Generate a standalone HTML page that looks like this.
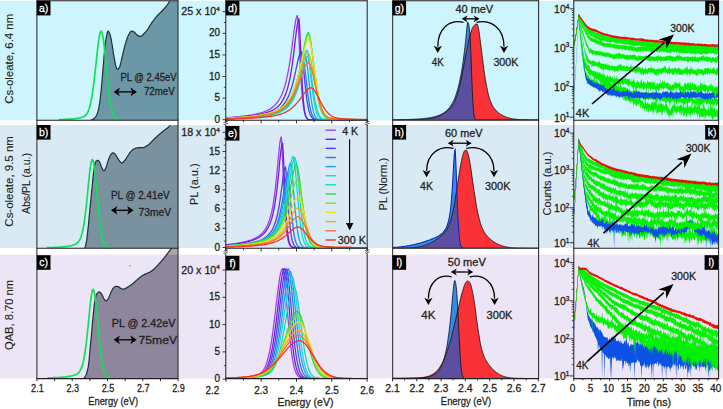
<!DOCTYPE html>
<html><head><meta charset="utf-8"><style>
html,body{margin:0;padding:0;background:#fff;width:723px;height:409px;overflow:hidden}
svg{display:block}
text{font-family:"Liberation Sans",sans-serif}
</style></head><body>
<svg width="723" height="409" viewBox="0 0 723 409">
<rect x="0" y="0" width="723" height="409" fill="#fff"/>
<rect x="0" y="0.8" width="723" height="119.5" fill="#cef5fd"/>
<rect x="0" y="125" width="723" height="123" fill="#daeaf5"/>
<rect x="0" y="254.7" width="723" height="123.8" fill="#ece5f5"/>
<defs><clipPath id="c1a"><rect x="36.9" y="0.8" width="141.1" height="119.4"/></clipPath><clipPath id="c1b"><rect x="36.9" y="125" width="141.1" height="123.3"/></clipPath><clipPath id="c1c"><rect x="36.9" y="248.3" width="141.1" height="130.2"/></clipPath><clipPath id="c1cs"><rect x="36.9" y="248.3" width="141.1" height="6.4"/></clipPath></defs>
<path d="M90.5,120.2l.2,0 .1,0 .2-.1 .1-0 .2-.1 .2-0 .1-.1 .2-0 .1-.1 .2-.1 .2-0 .1-.1 .2-.1 .1-.1 .2-0 .1-.1 .2-.1 .2-.1 .1-.1 .2-.1 .1-.2 .2-.1 .2-.1 .1-.2 .2-.1 .1-.2 .2-.2 .2-.1 .1-.2 .2-.2 .1-.2 .2-.2 .2-.3 .1-.2 .2-.3 .1-.3 .2-.3 .2-.3 .1-.4 .2-.4 .1-.4 .2-.4 .2-.4 .1-.4 .2-.5 .1-.5 .2-.6 .1-.6 .2-.6 .2-.7 .1-.7 .2-.8 .1-.8 .2-.8 .2-.9 .1-.9 .2-.9 .1-1 .2-1.1 .2-1.2 .1-1.3 .2-1.3 .1-1.4 .2-1.4 .2-1.5 .1-1.4 .2-1.6 .1-1.6 .2-1.8 .2-1.8 .1-1.8 .2-1.8 .1-1.8 .2-1.9 .1-1.9 .2-1.9 .2-1.9 .1-2 .2-1.9 .1-2 .2-1.9 .2-1.9 .1-1.9 .2-1.9 .1-2 .2-2 .2-1.9 .1-1.9 .2-1.7 .1-1.6 .2-1.5 .2-1.3 .1-1.3 .2-1.2 .1-1.2 .2-1.1 .2-1 .1-1 .2-.8 .1-.8 .2-.7 .2-.7 .1-.6 .2-.7 .1-.6 .2-.5 .1-.5 .2-.4 .2-.2 .1-.2 .2-0 .1,.1 .2,.1 .2,.2 .1,.2 .2,.3 .1,.2 .2,.3 .2,.3 .1,.3 .2,.5 .1,.4 .2,.6 .2,.6 .1,.6 .2,.7 .1,.7 .2,.8 .2,.7 .1,.7 .2,.8 .1,.9 .2,.9 .1,.9 .2,1 .2,1 .1,1.1 .2,1 .1,1.1 .2,1 .2,1.1 .1,1.1 .2,1 .1,1 .2,1 .2,1 .1,.9 .2,.8 .1,.9 .2,.9 .2,.9 .1,.9 .2,.9 .1,.9 .2,.8 .2,.8 .1,.7 .2,.7 .1,.5 .2,.5 .2,.4 .1,.4 .2,.4 .1,.3 .2,.4 .1,.3 .2,.2 .2,.2 .1,.1 .2,.1 .1-0 .2-.1 .2-.1 .1-.1 .2-.2 .1-.2 .2-.2 .2-.2 .1-.3 .2-.2 .1-.3 .2-.3 .2-.4 .1-.4 .2-.5 .1-.6 .2-.6 .2-.6 .1-.6 .2-.7 .1-.7 .2-.6 .1-.7 .2-.6 .2-.7 .1-.6 .2-.7 .1-.6 .2-.7 .2-.7 .1-.7 .2-.7 .1-.8 .2-.7 .2-.7 .1-.7 .2-.7 .1-.6 .2-.7 .2-.6 .1-.7 .2-.6 .1-.6 .2-.6 .2-.6 .1-.6 .2-.6 .1-.5 .2-.6 .2-.5 .1-.6 .2-.5 .1-.5 .2-.5 .1-.5 .2-.5 .2-.5 .1-.5 .2-.4 .1-.5 .2-.5 .2-.4 .1-.4 .2-.5 .1-.3 .2-.4 .2-.3 .1-.4 .2-.2 .1-.3 .2-.3 .2-.3 .1-.3 .2-.2 .1-.3 .2-.3 .2-.2 .1-.3 .2-.2 .1-.2 .2-.2 .1-.2 .2-.1 .2-.1 .1-.1 .2-.1 .1-0 .2-0 .2-0 .1-0 .2,.1 .1-0 .2-0 .2,.1 .1-0 .2,.1 .1,.1 .2-0 .2,.1 .1,.1 .2-0 .1,.1 .2,.1 .2,.1 .1,.1 .2,.1 .1,.2 .2,.1 .1,.2 .2,.1 .2,.2 .1,.2 .2,.2 .1,.1 .2,.2 .2,.2 .1,.1 .2,.2 .1,.1 .2,.2 .2,.1 .1,.2 .2,.1 .1,.2 .2,.2 .2,.1 .1,.1 .2,.1 .1,.1 .2,.1 .2,.1 .1-0 .2,.1 .1-0 .2,.1 .2-0 .1-0 .2,.1 .1-0 .2-0 .1-0 .2,.1 .2-0 .1-0 .2-0 .1-0 .2-0 .2-0 .1-.1 .2-.1 .1-.1 .2-.2 .2-.1 .1-.2 .2-.2 .1-.2 .2-.2 .2-.2 .1-.2 .2-.1 .1-.2 .2-.2 .2-.2 .1-.1 .2-.2 .1-.1 .2-.2 .1-.1 .2-.2 .2-.1 .1-.2 .2-.1 .1-.2 .2-.1 .2-.2 .1-.2 .2-.1 .1-.2 .2-.2 .2-.1 .1-.2 .2-.2 .1-.2 .2-.2 .2-.2 .1-.2 .2-.3 .1-.2 .2-.2 .2-.3 .1-.3 .2-.2 .1-.3 .2-.3 .2-.2 .1-.3 .2-.3 .1-.3 .2-.2 .1-.3 .2-.3 .2-.2 .1-.3 .2-.2 .1-.3 .2-.2 .2-.3 .1-.2 .2-.3 .1-.2 .2-.2 .2-.3 .1-.2 .2-.3 .1-.2 .2-.2 .2-.3 .1-.2 .2-.2 .1-.3 .2-.2 .2-.2 .1-.2 .2-.3 .1-.2 .2-.2 .1-.2 .2-.2 .2-.2 .1-.2 .2-.2 .1-.2 .2-.2 .2-.3 .1-.2 .2-.2 .1-.1 .2-.2 .2-.2 .1-.2 .2-.2 .1-.2 .2-.2 .2-.2 .1-.2 .2-.1 .1-.2 .2-.2 .2-.2 .1-.2 .2-.1 .1-.2 .2-.2 .2-.1 .1-.2 .2-.1 .1-.2 .2-.2 .1-.1 .2-.2 .2-.1 .1-.2 .2-.1 .1-.2 .2-.1 .2-.2 .1-.1 .2-.2 .1-.1 .2-.2 .2-.1 .1-.2 .2-.2 .1-.1 .2-.2 .2-.1 .1-.2 .2-.1 .1-.2 .2-.2 .2-.1 .1-.2 .2-.2 .1-.1 .2-.2 .1-.2 .2-.2 .2-.1 .1-.2 .2-.2 .1-.2 .2-.2 .2-.1 .1-.2 .2-.2 .1-.2 .2-.2 .2-.2 .1-.1 .2-.2 .1-.2 .2-.2 .2-.2 .1-.2 .2-.2 .1-.2 .2-.2 .2-.3 .1-.2 .2-.2 .1-.2 .2-.2 .2-.3 .1-.2 .2-.2 .1-.2 .2-.3 .1-.2 .2-.2 .2-.3 .1-.2 .2-.2 .1-.3 .2-.2 .2-.2 .1-.3 .2-.2 .1-.3 .2-.2 L178,0.8 L178,120.2 L90.5,120.2 Z" fill="#6b97a7" clip-path="url(#c1a)"/>
<path d="M90.5,120.2l.2,0 .1,0 .2-.1 .1-0 .2-.1 .2-0 .1-.1 .2-0 .1-.1 .2-.1 .2-0 .1-.1 .2-.1 .1-.1 .2-0 .1-.1 .2-.1 .2-.1 .1-.1 .2-.1 .1-.2 .2-.1 .2-.1 .1-.2 .2-.1 .1-.2 .2-.2 .2-.1 .1-.2 .2-.2 .1-.2 .2-.2 .2-.3 .1-.2 .2-.3 .1-.3 .2-.3 .2-.3 .1-.4 .2-.4 .1-.4 .2-.4 .2-.4 .1-.4 .2-.5 .1-.5 .2-.6 .1-.6 .2-.6 .2-.7 .1-.7 .2-.8 .1-.8 .2-.8 .2-.9 .1-.9 .2-.9 .1-1 .2-1.1 .2-1.2 .1-1.3 .2-1.3 .1-1.4 .2-1.4 .2-1.5 .1-1.4 .2-1.6 .1-1.6 .2-1.8 .2-1.8 .1-1.8 .2-1.8 .1-1.8 .2-1.9 .1-1.9 .2-1.9 .2-1.9 .1-2 .2-1.9 .1-2 .2-1.9 .2-1.9 .1-1.9 .2-1.9 .1-2 .2-2 .2-1.9 .1-1.9 .2-1.7 .1-1.6 .2-1.5 .2-1.3 .1-1.3 .2-1.2 .1-1.2 .2-1.1 .2-1 .1-1 .2-.8 .1-.8 .2-.7 .2-.7 .1-.6 .2-.7 .1-.6 .2-.5 .1-.5 .2-.4 .2-.2 .1-.2 .2-0 .1,.1 .2,.1 .2,.2 .1,.2 .2,.3 .1,.2 .2,.3 .2,.3 .1,.3 .2,.5 .1,.4 .2,.6 .2,.6 .1,.6 .2,.7 .1,.7 .2,.8 .2,.7 .1,.7 .2,.8 .1,.9 .2,.9 .1,.9 .2,1 .2,1 .1,1.1 .2,1 .1,1.1 .2,1 .2,1.1 .1,1.1 .2,1 .1,1 .2,1 .2,1 .1,.9 .2,.8 .1,.9 .2,.9 .2,.9 .1,.9 .2,.9 .1,.9 .2,.8 .2,.8 .1,.7 .2,.7 .1,.5 .2,.5 .2,.4 .1,.4 .2,.4 .1,.3 .2,.4 .1,.3 .2,.2 .2,.2 .1,.1 .2,.1 .1-0 .2-.1 .2-.1 .1-.1 .2-.2 .1-.2 .2-.2 .2-.2 .1-.3 .2-.2 .1-.3 .2-.3 .2-.4 .1-.4 .2-.5 .1-.6 .2-.6 .2-.6 .1-.6 .2-.7 .1-.7 .2-.6 .1-.7 .2-.6 .2-.7 .1-.6 .2-.7 .1-.6 .2-.7 .2-.7 .1-.7 .2-.7 .1-.8 .2-.7 .2-.7 .1-.7 .2-.7 .1-.6 .2-.7 .2-.6 .1-.7 .2-.6 .1-.6 .2-.6 .2-.6 .1-.6 .2-.6 .1-.5 .2-.6 .2-.5 .1-.6 .2-.5 .1-.5 .2-.5 .1-.5 .2-.5 .2-.5 .1-.5 .2-.4 .1-.5 .2-.5 .2-.4 .1-.4 .2-.5 .1-.3 .2-.4 .2-.3 .1-.4 .2-.2 .1-.3 .2-.3 .2-.3 .1-.3 .2-.2 .1-.3 .2-.3 .2-.2 .1-.3 .2-.2 .1-.2 .2-.2 .1-.2 .2-.1 .2-.1 .1-.1 .2-.1 .1-0 .2-0 .2-0 .1-0 .2,.1 .1-0 .2-0 .2,.1 .1-0 .2,.1 .1,.1 .2-0 .2,.1 .1,.1 .2-0 .1,.1 .2,.1 .2,.1 .1,.1 .2,.1 .1,.2 .2,.1 .1,.2 .2,.1 .2,.2 .1,.2 .2,.2 .1,.1 .2,.2 .2,.2 .1,.1 .2,.2 .1,.1 .2,.2 .2,.1 .1,.2 .2,.1 .1,.2 .2,.2 .2,.1 .1,.1 .2,.1 .1,.1 .2,.1 .2,.1 .1-0 .2,.1 .1-0 .2,.1 .2-0 .1-0 .2,.1 .1-0 .2-0 .1-0 .2,.1 .2-0 .1-0 .2-0 .1-0 .2-0 .2-0 .1-.1 .2-.1 .1-.1 .2-.2 .2-.1 .1-.2 .2-.2 .1-.2 .2-.2 .2-.2 .1-.2 .2-.1 .1-.2 .2-.2 .2-.2 .1-.1 .2-.2 .1-.1 .2-.2 .1-.1 .2-.2 .2-.1 .1-.2 .2-.1 .1-.2 .2-.1 .2-.2 .1-.2 .2-.1 .1-.2 .2-.2 .2-.1 .1-.2 .2-.2 .1-.2 .2-.2 .2-.2 .1-.2 .2-.3 .1-.2 .2-.2 .2-.3 .1-.3 .2-.2 .1-.3 .2-.3 .2-.2 .1-.3 .2-.3 .1-.3 .2-.2 .1-.3 .2-.3 .2-.2 .1-.3 .2-.2 .1-.3 .2-.2 .2-.3 .1-.2 .2-.3 .1-.2 .2-.2 .2-.3 .1-.2 .2-.3 .1-.2 .2-.2 .2-.3 .1-.2 .2-.2 .1-.3 .2-.2 .2-.2 .1-.2 .2-.3 .1-.2 .2-.2 .1-.2 .2-.2 .2-.2 .1-.2 .2-.2 .1-.2 .2-.2 .2-.3 .1-.2 .2-.2 .1-.1 .2-.2 .2-.2 .1-.2 .2-.2 .1-.2 .2-.2 .2-.2 .1-.2 .2-.1 .1-.2 .2-.2 .2-.2 .1-.2 .2-.1 .1-.2 .2-.2 .2-.1 .1-.2 .2-.1 .1-.2 .2-.2 .1-.1 .2-.2 .2-.1 .1-.2 .2-.1 .1-.2 .2-.1 .2-.2 .1-.1 .2-.2 .1-.1 .2-.2 .2-.1 .1-.2 .2-.2 .1-.1 .2-.2 .2-.1 .1-.2 .2-.1 .1-.2 .2-.2 .2-.1 .1-.2 .2-.2 .1-.1 .2-.2 .1-.2 .2-.2 .2-.1 .1-.2 .2-.2 .1-.2 .2-.2 .2-.1 .1-.2 .2-.2 .1-.2 .2-.2 .2-.2 .1-.1 .2-.2 .1-.2 .2-.2 .2-.2 .1-.2 .2-.2 .1-.2 .2-.2 .2-.3 .1-.2 .2-.2 .1-.2 .2-.2 .2-.3 .1-.2 .2-.2 .1-.2 .2-.3 .1-.2 .2-.2 .2-.3 .1-.2 .2-.2 .1-.3 .2-.2 .2-.2 .1-.3 .2-.2 .1-.3 .2-.2" fill="none" stroke="#17333d" stroke-width="1.2" clip-path="url(#c1a)"/>
<path d="M84.5,248.3l.2-.2 .1-.3 .2-.4 .2-.5 .2-.5 .1-.6 .2-.6 .2-.7 .1-.7 .2-.8 .2-1 .2-1.1 .1-1.2 .2-1.3 .2-1.3 .1-1.5 .2-1.5 .2-1.5 .2-1.6 .1-1.6 .2-1.6 .2-1.5 .2-1.7 .1-1.7 .2-1.9 .2-1.9 .1-1.9 .2-1.9 .2-1.9 .2-1.9 .1-1.7 .2-1.8 .2-1.7 .1-1.8 .2-1.7 .2-1.7 .2-1.7 .1-1.7 .2-1.7 .2-1.7 .1-1.7 .2-1.8 .2-1.8 .2-1.8 .1-1.8 .2-1.7 .2-1.7 .1-1.7 .2-1.6 .2-1.5 .2-1.5 .1-1.5 .2-1.5 .2-1.4 .1-1.3 .2-1.3 .2-1.1 .2-.9 .1-.8 .2-.8 .2-.7 .1-.7 .2-.6 .2-.6 .2-.4 .1-.4 .2-.2 .2-.2 .2-.1 .1-.2 .2-.1 .2-.1 .1-.2 .2-.1 .2-0 .2-.1 .1-.1 .2-0 .2-0 .1-0 .2,.1 .2,.2 .2,.2 .1,.2 .2,.3 .2,.3 .1,.3 .2,.3 .2,.3 .2,.3 .1,.4 .2,.4 .2,.4 .1,.5 .2,.5 .2,.5 .2,.4 .1,.5 .2,.4 .2,.4 .1,.4 .2,.4 .2,.3 .2,.4 .1,.4 .2,.4 .2,.3 .1,.3 .2,.3 .2,.2 .2,.1 .1,.1 .2-0 .2-.1 .2-.1 .1-.2 .2-.2 .2-.3 .1-.2 .2-.4 .2-.3 .2-.3 .1-.4 .2-.3 .2-.4 .1-.4 .2-.5 .2-.5 .2-.6 .1-.6 .2-.6 .2-.7 .1-.6 .2-.6 .2-.6 .2-.5 .1-.5 .2-.5 .2-.4 .1-.5 .2-.5 .2-.5 .2-.5 .1-.4 .2-.5 .2-.4 .1-.4 .2-.3 .2-.4 .2-.3 .1-.2 .2-.2 .2-.2 .1-.2 .2-.2 .2-.2 .2-.2 .1-.2 .2-.2 .2-.1 .2-.1 .1-.1 .2-.1 .2-.1 .1-.1 .2-0 .2-0 .2-0 .1,.1 .2-0 .2,.1 .1,.1 .2,.2 .2,.1 .2,.1 .1,.2 .2,.1 .2,.2 .1,.2 .2,.1 .2,.2 .2,.2 .1,.2 .2,.3 .2,.2 .1,.3 .2,.3 .2,.4 .2,.3 .1,.3 .2,.4 .2,.3 .1,.3 .2,.3 .2,.3 .2,.3 .1,.3 .2,.2 .2,.2 .1,.3 .2,.2 .2,.2 .2,.3 .1,.2 .2,.2 .2,.2 .2,.3 .1,.2 .2,.2 .2,.1 .1,.2 .2,.2 .2,.1 .2,.1 .1,.1 .2,.1 .2-0 .1-0 .2-0 .2-.1 .2-.1 .1-.1 .2-.1 .2-.1 .1-.2 .2-.2 .2-.1 .2-.2 .1-.2 .2-.3 .2-.2 .1-.2 .2-.2 .2-.2 .2-.2 .1-.2 .2-.2 .2-.3 .1-.2 .2-.2 .2-.3 .2-.2 .1-.3 .2-.3 .2-.3 .1-.2 .2-.3 .2-.3 .2-.3 .1-.2 .2-.3 .2-.3 .2-.2 .1-.3 .2-.2 .2-.3 .1-.3 .2-.2 .2-.3 .2-.3 .1-.2 .2-.3 .2-.2 .1-.3 .2-.2 .2-.2 .2-.2 .1-.2 .2-.2 .2-.2 .1-.2 .2-.2 .2-.2 .2-.1 .1-.2 .2-.2 .2-.1 .1-.2 .2-.1 .2-.2 .2-.1 .1-.1 .2-.2 .2-.1 .1-.1 .2-.1 .2-.1 .2-0 .1-.1 .2-.1 .2-.1 .1-.1 .2-0 .2-.1 .2-.1 .1-0 .2-.1 .2-.1 .2-0 .1-.1 .2-0 .2-.1 .1-0 .2-0 .2-.1 .2-0 .1-0 .2-0 .2-.1 .1-0 .2-0 .2-0 .2-.1 .1-0 .2-0 .2-0 .1-0 .2-.1 .2-0 .2-0 .1-0 .2-0 .2-0 .1-0 .2-0 .2-0 .2-0 .1-0 .2-0 .2-0 .1-0 .2-0 .2-0 .2-0 .1-0 .2-0 .2-0 .1-0 .2-0 .2-0 .2-0 .1-0 .2-0 .2-0 .2-.1 .1-0 .2-.1 .2-.1 .1-0 .2-.1 .2-.1 .2-.2 .1-.1 .2-.1 .2-.1 .1-.1 .2-.1 .2-.1 .2-.1 .1-.1 .2-.1 .2-.1 .1-.1 .2-.1 .2-0 .2-.1 .1-.1 .2-.2 .2-.1 .1-.1 .2-.1 .2-.1 .2-.1 .1-.1 .2-.2 .2-.1 .1-.2 .2-.1 .2-.2 .2-.2 .1-.2 .2-.1 .2-.2 .1-.2 .2-.2 .2-.2 .2-.2 .1-.2 .2-.2 .2-.2 .2-.1 .1-.2 .2-.2 .2-.2 .1-.1 .2-.2 .2-.2 .2-.2 .1-.1 .2-.2 .2-.2 .1-.2 .2-.1 .2-.2 .2-.2 .1-.2 .2-.1 .2-.2 .1-.2 .2-.1 .2-.2 .2-.1 .1-.2 .2-.2 .2-.1 .1-.2 .2-.1 .2-.2 .2-.1 .1-.2 .2-.1 .2-.2 .1-.1 .2-.2 .2-.2 .2-.1 .1-.2 .2-.1 .2-.2 .1-.1 .2-.2 .2-.1 .2-.2 .1-.1 .2-.2 .2-.1 .2-.2 .1-.1 .2-.2 .2-.1 .1-.2 .2-.1 .2-.1 .2-.2 .1-.1 .2-.2 .2-.1 .1-.2 .2-.1 .2-.1 .2-.2 .1-.1 .2-.2 .2-.1 .1-.1 .2-.2 .2-.1 .2-.2 .1-.1 .2-.1 .2-.2 .1-.1 .2-.1 .2-.2 .2-.1 .1-.1 .2-.2 .2-.1 .1-.1 .2-.1 .2-.1 .2-.2 .1-.1 .2-.1 .2-.1 .1-.1 .2-.1 .2-.2 .2-.1 .1-.1 .2-.1 .2-.2 .2-.1 .1-.1 .2-.2 .2-.1 .1-.2 .2-.1 .2-.2 .2-.1 .1-.2 .2-.2 .2-.2 .1-.2 .2-.2 .2-.2 .2-.3 .1-.2 .2-.2 L178,125 L178,248.3 L84.5,248.3 Z" fill="#7a92a0" clip-path="url(#c1b)"/>
<path d="M84.5,248.3l.2-.2 .1-.3 .2-.4 .2-.5 .2-.5 .1-.6 .2-.6 .2-.7 .1-.7 .2-.8 .2-1 .2-1.1 .1-1.2 .2-1.3 .2-1.3 .1-1.5 .2-1.5 .2-1.5 .2-1.6 .1-1.6 .2-1.6 .2-1.5 .2-1.7 .1-1.7 .2-1.9 .2-1.9 .1-1.9 .2-1.9 .2-1.9 .2-1.9 .1-1.7 .2-1.8 .2-1.7 .1-1.8 .2-1.7 .2-1.7 .2-1.7 .1-1.7 .2-1.7 .2-1.7 .1-1.7 .2-1.8 .2-1.8 .2-1.8 .1-1.8 .2-1.7 .2-1.7 .1-1.7 .2-1.6 .2-1.5 .2-1.5 .1-1.5 .2-1.5 .2-1.4 .1-1.3 .2-1.3 .2-1.1 .2-.9 .1-.8 .2-.8 .2-.7 .1-.7 .2-.6 .2-.6 .2-.4 .1-.4 .2-.2 .2-.2 .2-.1 .1-.2 .2-.1 .2-.1 .1-.2 .2-.1 .2-0 .2-.1 .1-.1 .2-0 .2-0 .1-0 .2,.1 .2,.2 .2,.2 .1,.2 .2,.3 .2,.3 .1,.3 .2,.3 .2,.3 .2,.3 .1,.4 .2,.4 .2,.4 .1,.5 .2,.5 .2,.5 .2,.4 .1,.5 .2,.4 .2,.4 .1,.4 .2,.4 .2,.3 .2,.4 .1,.4 .2,.4 .2,.3 .1,.3 .2,.3 .2,.2 .2,.1 .1,.1 .2-0 .2-.1 .2-.1 .1-.2 .2-.2 .2-.3 .1-.2 .2-.4 .2-.3 .2-.3 .1-.4 .2-.3 .2-.4 .1-.4 .2-.5 .2-.5 .2-.6 .1-.6 .2-.6 .2-.7 .1-.6 .2-.6 .2-.6 .2-.5 .1-.5 .2-.5 .2-.4 .1-.5 .2-.5 .2-.5 .2-.5 .1-.4 .2-.5 .2-.4 .1-.4 .2-.3 .2-.4 .2-.3 .1-.2 .2-.2 .2-.2 .1-.2 .2-.2 .2-.2 .2-.2 .1-.2 .2-.2 .2-.1 .2-.1 .1-.1 .2-.1 .2-.1 .1-.1 .2-0 .2-0 .2-0 .1,.1 .2-0 .2,.1 .1,.1 .2,.2 .2,.1 .2,.1 .1,.2 .2,.1 .2,.2 .1,.2 .2,.1 .2,.2 .2,.2 .1,.2 .2,.3 .2,.2 .1,.3 .2,.3 .2,.4 .2,.3 .1,.3 .2,.4 .2,.3 .1,.3 .2,.3 .2,.3 .2,.3 .1,.3 .2,.2 .2,.2 .1,.3 .2,.2 .2,.2 .2,.3 .1,.2 .2,.2 .2,.2 .2,.3 .1,.2 .2,.2 .2,.1 .1,.2 .2,.2 .2,.1 .2,.1 .1,.1 .2,.1 .2-0 .1-0 .2-0 .2-.1 .2-.1 .1-.1 .2-.1 .2-.1 .1-.2 .2-.2 .2-.1 .2-.2 .1-.2 .2-.3 .2-.2 .1-.2 .2-.2 .2-.2 .2-.2 .1-.2 .2-.2 .2-.3 .1-.2 .2-.2 .2-.3 .2-.2 .1-.3 .2-.3 .2-.3 .1-.2 .2-.3 .2-.3 .2-.3 .1-.2 .2-.3 .2-.3 .2-.2 .1-.3 .2-.2 .2-.3 .1-.3 .2-.2 .2-.3 .2-.3 .1-.2 .2-.3 .2-.2 .1-.3 .2-.2 .2-.2 .2-.2 .1-.2 .2-.2 .2-.2 .1-.2 .2-.2 .2-.2 .2-.1 .1-.2 .2-.2 .2-.1 .1-.2 .2-.1 .2-.2 .2-.1 .1-.1 .2-.2 .2-.1 .1-.1 .2-.1 .2-.1 .2-0 .1-.1 .2-.1 .2-.1 .1-.1 .2-0 .2-.1 .2-.1 .1-0 .2-.1 .2-.1 .2-0 .1-.1 .2-0 .2-.1 .1-0 .2-0 .2-.1 .2-0 .1-0 .2-0 .2-.1 .1-0 .2-0 .2-0 .2-.1 .1-0 .2-0 .2-0 .1-0 .2-.1 .2-0 .2-0 .1-0 .2-0 .2-0 .1-0 .2-0 .2-0 .2-0 .1-0 .2-0 .2-0 .1-0 .2-0 .2-0 .2-0 .1-0 .2-0 .2-0 .1-0 .2-0 .2-0 .2-0 .1-0 .2-0 .2-0 .2-.1 .1-0 .2-.1 .2-.1 .1-0 .2-.1 .2-.1 .2-.2 .1-.1 .2-.1 .2-.1 .1-.1 .2-.1 .2-.1 .2-.1 .1-.1 .2-.1 .2-.1 .1-.1 .2-.1 .2-0 .2-.1 .1-.1 .2-.2 .2-.1 .1-.1 .2-.1 .2-.1 .2-.1 .1-.1 .2-.2 .2-.1 .1-.2 .2-.1 .2-.2 .2-.2 .1-.2 .2-.1 .2-.2 .1-.2 .2-.2 .2-.2 .2-.2 .1-.2 .2-.2 .2-.2 .2-.1 .1-.2 .2-.2 .2-.2 .1-.1 .2-.2 .2-.2 .2-.2 .1-.1 .2-.2 .2-.2 .1-.2 .2-.1 .2-.2 .2-.2 .1-.2 .2-.1 .2-.2 .1-.2 .2-.1 .2-.2 .2-.1 .1-.2 .2-.2 .2-.1 .1-.2 .2-.1 .2-.2 .2-.1 .1-.2 .2-.1 .2-.2 .1-.1 .2-.2 .2-.2 .2-.1 .1-.2 .2-.1 .2-.2 .1-.1 .2-.2 .2-.1 .2-.2 .1-.1 .2-.2 .2-.1 .2-.2 .1-.1 .2-.2 .2-.1 .1-.2 .2-.1 .2-.1 .2-.2 .1-.1 .2-.2 .2-.1 .1-.2 .2-.1 .2-.1 .2-.2 .1-.1 .2-.2 .2-.1 .1-.1 .2-.2 .2-.1 .2-.2 .1-.1 .2-.1 .2-.2 .1-.1 .2-.1 .2-.2 .2-.1 .1-.1 .2-.2 .2-.1 .1-.1 .2-.1 .2-.1 .2-.2 .1-.1 .2-.1 .2-.1 .1-.1 .2-.1 .2-.2 .2-.1 .1-.1 .2-.1 .2-.2 .2-.1 .1-.1 .2-.2 .2-.1 .1-.2 .2-.1 .2-.2 .2-.1 .1-.2 .2-.2 .2-.2 .1-.2 .2-.2 .2-.2 .2-.3 .1-.2 .2-.2" fill="none" stroke="#17333d" stroke-width="1.2" clip-path="url(#c1b)"/>
<path d="M83.4,378.5l.2,0 .2-.1 .1-.1 .2-.2 .2-.2 .2-.2 .1-.2 .2-.3 .2-.3 .2-.3 .1-.3 .2-.3 .2-.4 .2-.3 .2-.4 .1-.4 .2-.4 .2-.5 .2-.6 .1-.6 .2-.6 .2-.7 .2-.8 .1-.8 .2-.8 .2-.9 .2-.9 .1-1 .2-1.2 .2-1.4 .2-1.6 .2-1.7 .1-1.8 .2-1.9 .2-1.9 .2-1.9 .1-1.9 .2-1.8 .2-1.8 .2-1.9 .1-1.8 .2-1.9 .2-1.9 .2-2 .2-1.9 .1-1.9 .2-2 .2-2 .2-2.1 .1-2.1 .2-2 .2-2 .2-2 .1-1.9 .2-1.8 .2-1.8 .2-1.8 .2-1.8 .1-1.7 .2-1.7 .2-1.6 .2-1.4 .1-1.3 .2-1.1 .2-.9 .2-1 .1-.9 .2-.8 .2-.8 .2-.7 .1-.6 .2-.6 .2-.4 .2-.4 .2-.2 .1-.3 .2-.3 .2-.2 .2-.3 .1-.2 .2-.2 .2-.2 .2-.2 .1-.1 .2-.1 .2-.1 .2-.1 .2-.1 .1-0 .2-0 .2,.1 .2-0 .1,.1 .2,.2 .2,.1 .2,.2 .1,.2 .2,.2 .2,.2 .2,.3 .2,.2 .1,.2 .2,.2 .2,.3 .2,.3 .1,.4 .2,.3 .2,.4 .2,.4 .1,.4 .2,.4 .2,.4 .2,.4 .1,.3 .2,.3 .2,.3 .2,.2 .2,.3 .1,.3 .2,.2 .2,.3 .2,.2 .1,.2 .2,.2 .2,.2 .2,.1 .1,0 .2,0 .2-.1 .2,0 .2-.2 .1-.1 .2-.2 .2-.2 .2-.2 .1-.2 .2-.2 .2-.2 .2-.3 .1-.2 .2-.3 .2-.3 .2-.4 .2-.4 .1-.4 .2-.4 .2-.4 .2-.5 .1-.4 .2-.4 .2-.5 .2-.4 .1-.4 .2-.4 .2-.3 .2-.4 .2-.4 .1-.5 .2-.4 .2-.4 .2-.3 .1-.4 .2-.4 .2-.3 .2-.3 .1-.3 .2-.2 .2-.2 .2-.2 .1-.2 .2-.2 .2-.2 .2-.2 .2-.1 .1-.2 .2-.2 .2-.1 .2-.1 .1-.1 .2-.1 .2-.1 .2-.1 .1-0 .2-0 .2-0 .2-0 .2-0 .1,.1 .2-0 .2-0 .2-0 .1,.1 .2-0 .2,.1 .2-0 .1,.1 .2-0 .2,.1 .2-0 .2,.1 .1,.1 .2,.1 .2,.1 .2,.2 .1,.1 .2,.2 .2,.1 .2,.2 .1,.1 .2,.1 .2,.2 .2-0 .1,.1 .2,.1 .2-0 .2,.1 .2,.1 .1-0 .2,.1 .2-0 .2,.1 .1-0 .2-0 .2,.1 .2-0 .1-0 .2-0 .2-0 .2-0 .2-0 .1-.1 .2-0 .2-.1 .2-.1 .1-.1 .2-.1 .2-.1 .2-.1 .1-.1 .2-.1 .2-.1 .2-.1 .2-.1 .1-.1 .2-.1 .2-.1 .2-.1 .1-.1 .2-.1 .2-.1 .2-.1 .1-.1 .2-.1 .2-.1 .2-.1 .1-.1 .2-.1 .2-.1 .2-.2 .2-.1 .1-.1 .2-.1 .2-.1 .2-.1 .1-.1 .2-.2 .2-.1 .2-.1 .1-.1 .2-.1 .2-.2 .2-.1 .2-.1 .1-.2 .2-.1 .2-.2 .2-.1 .1-.1 .2-.2 .2-.1 .2-.2 .1-.2 .2-.1 .2-.2 .2-.1 .2-.2 .1-.1 .2-.2 .2-.2 .2-.1 .1-.2 .2-.1 .2-.2 .2-.2 .1-.1 .2-.2 .2-.1 .2-.2 .1-.1 .2-.2 .2-.1 .2-.2 .2-.1 .1-.2 .2-.1 .2-.2 .2-.2 .1-.1 .2-.2 .2-.1 .2-.2 .1-.1 .2-.2 .2-.1 .2-.2 .2-.1 .1-.2 .2-.1 .2-.2 .2-.1 .1-.2 .2-.1 .2-.1 .2-.2 .1-.1 .2-.1 .2-.1 .2-.2 .2-.1 .1-.1 .2-.1 .2-.1 .2-.1 .1-.2 .2-.1 .2-.1 .2-.1 .1-.1 .2-.1 .2-.1 .2-.1 .1-.1 .2-.1 .2-.1 .2-.1 .2-.1 .1-.1 .2-.1 .2,0 .2-.1 .1-.1 .2-.1 .2-.1 .2,0 .1-.1 .2-.1 .2,0 .2-.1 .2-.1 .1,0 .2-.1 .2-.1 .2,0 .1-.1 .2-.1 .2-.1 .2,0 .1-.1 .2-.1 .2-.1 .2,0 .2-.1 .1-.1 .2-.1 .2-.1 .2-.1 .1-.1 .2-.1 .2-.1 .2-.1 .1-.1 .2-.1 .2-.1 .2-.2 .2-.1 .1-.1 .2-.1 .2-.1 .2-.2 .1-.1 .2-.1 .2-.2 .2-.1 .1-.1 .2-.2 .2-.1 .2-.2 .1-.1 .2-.2 .2-.2 .2-.1 .2-.2 .1-.2 .2-.2 .2-.1 .2-.2 .1-.2 .2-.2 .2-.2 .2-.2 .1-.1 .2-.2 .2-.2 .2-.2 .2-.2 .1-.2 .2-.1 .2-.2 .2-.2 .1-.2 .2-.2 .2-.2 .2-.2 .1-.2 .2-.2 .2-.2 .2-.1 .2-.2 .1-.2 .2-.2 .2-.2 .2-.2 .1-.2 .2-.2 .2-.2 .2-.2 .1-.2 .2-.2 .2-.2 .2-.2 .1-.2 .2-.2 .2-.2 .2-.2 .2-.2 .1-.2 .2-.3 .2-.2 .2-.2 .1-.2 .2-.2 .2-.2 .2-.2 .1-.2 .2-.3 .2-.2 .2-.2 .2-.2 .1-.3 .2-.2 .2-.2 .2-.2 .1-.3 .2-.2 .2-.2 .2-.3 .1-.2 .2-.2 .2-.3 .2-.2 .2-.2 .1-.2 .2-.3 .2-.2 .2-.2 .1-.2 .2-.3 .2-.2 .2-.2 .1-.3 .2-.2 .2-.2 .2-.3 .1-.2 .2-.2 .2-.2 .2-.3 .2-.2 .1-.2 .2-.3 .2-.2 .2-.2 .1-.2 .2-.3 .2-.2 .2-.2 .1-.2 .2-.3 .2-.2 L178,248.3 L178,378.5 L83.4,378.5 Z" fill="#8e869c" clip-path="url(#c1c)"/>
<path d="M83.4,378.5l.2,0 .2-.1 .1-.1 .2-.2 .2-.2 .2-.2 .1-.2 .2-.3 .2-.3 .2-.3 .1-.3 .2-.3 .2-.4 .2-.3 .2-.4 .1-.4 .2-.4 .2-.5 .2-.6 .1-.6 .2-.6 .2-.7 .2-.8 .1-.8 .2-.8 .2-.9 .2-.9 .1-1 .2-1.2 .2-1.4 .2-1.6 .2-1.7 .1-1.8 .2-1.9 .2-1.9 .2-1.9 .1-1.9 .2-1.8 .2-1.8 .2-1.9 .1-1.8 .2-1.9 .2-1.9 .2-2 .2-1.9 .1-1.9 .2-2 .2-2 .2-2.1 .1-2.1 .2-2 .2-2 .2-2 .1-1.9 .2-1.8 .2-1.8 .2-1.8 .2-1.8 .1-1.7 .2-1.7 .2-1.6 .2-1.4 .1-1.3 .2-1.1 .2-.9 .2-1 .1-.9 .2-.8 .2-.8 .2-.7 .1-.6 .2-.6 .2-.4 .2-.4 .2-.2 .1-.3 .2-.3 .2-.2 .2-.3 .1-.2 .2-.2 .2-.2 .2-.2 .1-.1 .2-.1 .2-.1 .2-.1 .2-.1 .1-0 .2-0 .2,.1 .2-0 .1,.1 .2,.2 .2,.1 .2,.2 .1,.2 .2,.2 .2,.2 .2,.3 .2,.2 .1,.2 .2,.2 .2,.3 .2,.3 .1,.4 .2,.3 .2,.4 .2,.4 .1,.4 .2,.4 .2,.4 .2,.4 .1,.3 .2,.3 .2,.3 .2,.2 .2,.3 .1,.3 .2,.2 .2,.3 .2,.2 .1,.2 .2,.2 .2,.2 .2,.1 .1,0 .2,0 .2-.1 .2,0 .2-.2 .1-.1 .2-.2 .2-.2 .2-.2 .1-.2 .2-.2 .2-.2 .2-.3 .1-.2 .2-.3 .2-.3 .2-.4 .2-.4 .1-.4 .2-.4 .2-.4 .2-.5 .1-.4 .2-.4 .2-.5 .2-.4 .1-.4 .2-.4 .2-.3 .2-.4 .2-.4 .1-.5 .2-.4 .2-.4 .2-.3 .1-.4 .2-.4 .2-.3 .2-.3 .1-.3 .2-.2 .2-.2 .2-.2 .1-.2 .2-.2 .2-.2 .2-.2 .2-.1 .1-.2 .2-.2 .2-.1 .2-.1 .1-.1 .2-.1 .2-.1 .2-.1 .1-0 .2-0 .2-0 .2-0 .2-0 .1,.1 .2-0 .2-0 .2-0 .1,.1 .2-0 .2,.1 .2-0 .1,.1 .2-0 .2,.1 .2-0 .2,.1 .1,.1 .2,.1 .2,.1 .2,.2 .1,.1 .2,.2 .2,.1 .2,.2 .1,.1 .2,.1 .2,.2 .2-0 .1,.1 .2,.1 .2-0 .2,.1 .2,.1 .1-0 .2,.1 .2-0 .2,.1 .1-0 .2-0 .2,.1 .2-0 .1-0 .2-0 .2-0 .2-0 .2-0 .1-.1 .2-0 .2-.1 .2-.1 .1-.1 .2-.1 .2-.1 .2-.1 .1-.1 .2-.1 .2-.1 .2-.1 .2-.1 .1-.1 .2-.1 .2-.1 .2-.1 .1-.1 .2-.1 .2-.1 .2-.1 .1-.1 .2-.1 .2-.1 .2-.1 .1-.1 .2-.1 .2-.1 .2-.2 .2-.1 .1-.1 .2-.1 .2-.1 .2-.1 .1-.1 .2-.2 .2-.1 .2-.1 .1-.1 .2-.1 .2-.2 .2-.1 .2-.1 .1-.2 .2-.1 .2-.2 .2-.1 .1-.1 .2-.2 .2-.1 .2-.2 .1-.2 .2-.1 .2-.2 .2-.1 .2-.2 .1-.1 .2-.2 .2-.2 .2-.1 .1-.2 .2-.1 .2-.2 .2-.2 .1-.1 .2-.2 .2-.1 .2-.2 .1-.1 .2-.2 .2-.1 .2-.2 .2-.1 .1-.2 .2-.1 .2-.2 .2-.2 .1-.1 .2-.2 .2-.1 .2-.2 .1-.1 .2-.2 .2-.1 .2-.2 .2-.1 .1-.2 .2-.1 .2-.2 .2-.1 .1-.2 .2-.1 .2-.1 .2-.2 .1-.1 .2-.1 .2-.1 .2-.2 .2-.1 .1-.1 .2-.1 .2-.1 .2-.1 .1-.2 .2-.1 .2-.1 .2-.1 .1-.1 .2-.1 .2-.1 .2-.1 .1-.1 .2-.1 .2-.1 .2-.1 .2-.1 .1-.1 .2-.1 .2,0 .2-.1 .1-.1 .2-.1 .2-.1 .2,0 .1-.1 .2-.1 .2,0 .2-.1 .2-.1 .1,0 .2-.1 .2-.1 .2,0 .1-.1 .2-.1 .2-.1 .2,0 .1-.1 .2-.1 .2-.1 .2,0 .2-.1 .1-.1 .2-.1 .2-.1 .2-.1 .1-.1 .2-.1 .2-.1 .2-.1 .1-.1 .2-.1 .2-.1 .2-.2 .2-.1 .1-.1 .2-.1 .2-.1 .2-.2 .1-.1 .2-.1 .2-.2 .2-.1 .1-.1 .2-.2 .2-.1 .2-.2 .1-.1 .2-.2 .2-.2 .2-.1 .2-.2 .1-.2 .2-.2 .2-.1 .2-.2 .1-.2 .2-.2 .2-.2 .2-.2 .1-.1 .2-.2 .2-.2 .2-.2 .2-.2 .1-.2 .2-.1 .2-.2 .2-.2 .1-.2 .2-.2 .2-.2 .2-.2 .1-.2 .2-.2 .2-.2 .2-.1 .2-.2 .1-.2 .2-.2 .2-.2 .2-.2 .1-.2 .2-.2 .2-.2 .2-.2 .1-.2 .2-.2 .2-.2 .2-.2 .1-.2 .2-.2 .2-.2 .2-.2 .2-.2 .1-.2 .2-.3 .2-.2 .2-.2 .1-.2 .2-.2 .2-.2 .2-.2 .1-.2 .2-.3 .2-.2 .2-.2 .2-.2 .1-.3 .2-.2 .2-.2 .2-.2 .1-.3 .2-.2 .2-.2 .2-.3 .1-.2 .2-.2 .2-.3 .2-.2 .2-.2 .1-.2 .2-.3 .2-.2 .2-.2 .1-.2 .2-.3 .2-.2 .2-.2 .1-.3 .2-.2 .2-.2 .2-.3 .1-.2 .2-.2 .2-.2 .2-.3 .2-.2 .1-.2 .2-.3 .2-.2 .2-.2 .1-.2 .2-.3 .2-.2 .2-.2 .1-.2 .2-.3 .2-.2 L178,248.3 L178,378.5 L83.4,378.5 Z" fill="#a6a5ae" clip-path="url(#c1cs)"/>
<path d="M83.4,378.5l.2,0 .2-.1 .1-.1 .2-.2 .2-.2 .2-.2 .1-.2 .2-.3 .2-.3 .2-.3 .1-.3 .2-.3 .2-.4 .2-.3 .2-.4 .1-.4 .2-.4 .2-.5 .2-.6 .1-.6 .2-.6 .2-.7 .2-.8 .1-.8 .2-.8 .2-.9 .2-.9 .1-1 .2-1.2 .2-1.4 .2-1.6 .2-1.7 .1-1.8 .2-1.9 .2-1.9 .2-1.9 .1-1.9 .2-1.8 .2-1.8 .2-1.9 .1-1.8 .2-1.9 .2-1.9 .2-2 .2-1.9 .1-1.9 .2-2 .2-2 .2-2.1 .1-2.1 .2-2 .2-2 .2-2 .1-1.9 .2-1.8 .2-1.8 .2-1.8 .2-1.8 .1-1.7 .2-1.7 .2-1.6 .2-1.4 .1-1.3 .2-1.1 .2-.9 .2-1 .1-.9 .2-.8 .2-.8 .2-.7 .1-.6 .2-.6 .2-.4 .2-.4 .2-.2 .1-.3 .2-.3 .2-.2 .2-.3 .1-.2 .2-.2 .2-.2 .2-.2 .1-.1 .2-.1 .2-.1 .2-.1 .2-.1 .1-0 .2-0 .2,.1 .2-0 .1,.1 .2,.2 .2,.1 .2,.2 .1,.2 .2,.2 .2,.2 .2,.3 .2,.2 .1,.2 .2,.2 .2,.3 .2,.3 .1,.4 .2,.3 .2,.4 .2,.4 .1,.4 .2,.4 .2,.4 .2,.4 .1,.3 .2,.3 .2,.3 .2,.2 .2,.3 .1,.3 .2,.2 .2,.3 .2,.2 .1,.2 .2,.2 .2,.2 .2,.1 .1,0 .2,0 .2-.1 .2,0 .2-.2 .1-.1 .2-.2 .2-.2 .2-.2 .1-.2 .2-.2 .2-.2 .2-.3 .1-.2 .2-.3 .2-.3 .2-.4 .2-.4 .1-.4 .2-.4 .2-.4 .2-.5 .1-.4 .2-.4 .2-.5 .2-.4 .1-.4 .2-.4 .2-.3 .2-.4 .2-.4 .1-.5 .2-.4 .2-.4 .2-.3 .1-.4 .2-.4 .2-.3 .2-.3 .1-.3 .2-.2 .2-.2 .2-.2 .1-.2 .2-.2 .2-.2 .2-.2 .2-.1 .1-.2 .2-.2 .2-.1 .2-.1 .1-.1 .2-.1 .2-.1 .2-.1 .1-0 .2-0 .2-0 .2-0 .2-0 .1,.1 .2-0 .2-0 .2-0 .1,.1 .2-0 .2,.1 .2-0 .1,.1 .2-0 .2,.1 .2-0 .2,.1 .1,.1 .2,.1 .2,.1 .2,.2 .1,.1 .2,.2 .2,.1 .2,.2 .1,.1 .2,.1 .2,.2 .2-0 .1,.1 .2,.1 .2-0 .2,.1 .2,.1 .1-0 .2,.1 .2-0 .2,.1 .1-0 .2-0 .2,.1 .2-0 .1-0 .2-0 .2-0 .2-0 .2-0 .1-.1 .2-0 .2-.1 .2-.1 .1-.1 .2-.1 .2-.1 .2-.1 .1-.1 .2-.1 .2-.1 .2-.1 .2-.1 .1-.1 .2-.1 .2-.1 .2-.1 .1-.1 .2-.1 .2-.1 .2-.1 .1-.1 .2-.1 .2-.1 .2-.1 .1-.1 .2-.1 .2-.1 .2-.2 .2-.1 .1-.1 .2-.1 .2-.1 .2-.1 .1-.1 .2-.2 .2-.1 .2-.1 .1-.1 .2-.1 .2-.2 .2-.1 .2-.1 .1-.2 .2-.1 .2-.2 .2-.1 .1-.1 .2-.2 .2-.1 .2-.2 .1-.2 .2-.1 .2-.2 .2-.1 .2-.2 .1-.1 .2-.2 .2-.2 .2-.1 .1-.2 .2-.1 .2-.2 .2-.2 .1-.1 .2-.2 .2-.1 .2-.2 .1-.1 .2-.2 .2-.1 .2-.2 .2-.1 .1-.2 .2-.1 .2-.2 .2-.2 .1-.1 .2-.2 .2-.1 .2-.2 .1-.1 .2-.2 .2-.1 .2-.2 .2-.1 .1-.2 .2-.1 .2-.2 .2-.1 .1-.2 .2-.1 .2-.1 .2-.2 .1-.1 .2-.1 .2-.1 .2-.2 .2-.1 .1-.1 .2-.1 .2-.1 .2-.1 .1-.2 .2-.1 .2-.1 .2-.1 .1-.1 .2-.1 .2-.1 .2-.1 .1-.1 .2-.1 .2-.1 .2-.1 .2-.1 .1-.1 .2-.1 .2,0 .2-.1 .1-.1 .2-.1 .2-.1 .2,0 .1-.1 .2-.1 .2,0 .2-.1 .2-.1 .1,0 .2-.1 .2-.1 .2,0 .1-.1 .2-.1 .2-.1 .2,0 .1-.1 .2-.1 .2-.1 .2,0 .2-.1 .1-.1 .2-.1 .2-.1 .2-.1 .1-.1 .2-.1 .2-.1 .2-.1 .1-.1 .2-.1 .2-.1 .2-.2 .2-.1 .1-.1 .2-.1 .2-.1 .2-.2 .1-.1 .2-.1 .2-.2 .2-.1 .1-.1 .2-.2 .2-.1 .2-.2 .1-.1 .2-.2 .2-.2 .2-.1 .2-.2 .1-.2 .2-.2 .2-.1 .2-.2 .1-.2 .2-.2 .2-.2 .2-.2 .1-.1 .2-.2 .2-.2 .2-.2 .2-.2 .1-.2 .2-.1 .2-.2 .2-.2 .1-.2 .2-.2 .2-.2 .2-.2 .1-.2 .2-.2 .2-.2 .2-.1 .2-.2 .1-.2 .2-.2 .2-.2 .2-.2 .1-.2 .2-.2 .2-.2 .2-.2 .1-.2 .2-.2 .2-.2 .2-.2 .1-.2 .2-.2 .2-.2 .2-.2 .2-.2 .1-.2 .2-.3 .2-.2 .2-.2 .1-.2 .2-.2 .2-.2 .2-.2 .1-.2 .2-.3 .2-.2 .2-.2 .2-.2 .1-.3 .2-.2 .2-.2 .2-.2 .1-.3 .2-.2 .2-.2 .2-.3 .1-.2 .2-.2 .2-.3 .2-.2 .2-.2 .1-.2 .2-.3 .2-.2 .2-.2 .1-.2 .2-.3 .2-.2 .2-.2 .1-.3 .2-.2 .2-.2 .2-.3 .1-.2 .2-.2 .2-.2 .2-.3 .2-.2 .1-.2 .2-.3 .2-.2 .2-.2 .1-.2 .2-.3 .2-.2 .2-.2 .1-.2 .2-.3 .2-.2" fill="none" stroke="#17333d" stroke-width="1.2" clip-path="url(#c1c)"/>
<path d="M58.8,119.6l.4,0 .3,0 .4,0 .3,0 .4-.1 .3,0 .4,0 .4,0 .3,0 .4,0 .3,0 .4,0 .3,0 .4-.1 .3,0 .4,0 .3,0 .4,0 .3,0 .4-.1 .4-0 .3-0 .4-0 .3-0 .4-0 .3-.1 .4-0 .3-0 .4-0 .3-0 .4-.1 .3-0 .4-0 .3-0 .4-.1 .4-0 .3-0 .4-.1 .3-0 .4-0 .3-0 .4-.1 .3-0 .4-0 .3-.1 .4-0 .3-.1 .4-0 .4-.1 .3-0 .4-0 .3-.1 .4-0 .3-.1 .4-.1 .3-0 .4-.1 .3-0 .4-.1 .3-.1 .4-.1 .4-.1 .3-.1 .4-.1 .3-.1 .4-.1 .3-.1 .4-.2 .3-.1 .4-.2 .3-.2 .4-.2 .3-.2 .4-.3 .3-.3 .4-.4 .4-.3 .3-.5 .4-.5 .3-.5 .4-.6 .3-.7 .4-.7 .3-.9 .4-.9 .3-1.1 .4-1.1 .3-1.3 .4-1.4 .4-1.5 .3-1.7 .4-1.8 .3-1.9 .4-2.1 .3-2.2 .4-2.4 .3-2.5 .4-2.7 .3-2.8 .4-2.9 .3-3 .4-3.1 .3-3.3 .4-3.2 .4-3.3 .3-3.4 .4-3.3 .3-3.3 .4-3.2 .3-3.1 .4-2.9 .3-2.8 .4-2.5 .3-2.3 .4-2 .3-1.6 .4-1.2 .4-.9 .3-.4 .4-.1 .3,.5 .4,.8 .3,1.3 .4,1.7 .3,2 .4,2.4 .3,2.6 .4,3 .3,3.2 .4,3.3 .4,3.5 .3,3.7 .4,3.6 .3,3.7 .4,3.7 .3,3.7 .4,3.5 .3,3.5 .4,3.4 .3,3.2 .4,3 .3,2.9 .4,2.7 .3,2.5 .4,2.4 .4,2.1 .3,2 .4,1.8 .3,1.6 .4,1.5 .3,1.3 .4,1.1 .3,1.1 .4,.9 .3,.8 .4,.6 .3,.6 .4,.6 .4,.4 .3,.4 .4,.3 .3,.3 .4,.2 .3,.2 .4,.2 .3,.1 .4,.1 .3,.1 .4,.1 .3,.1 .4-0 .4,.1 .3-0" fill="none" stroke="#10e05a" stroke-width="1.7" clip-path="url(#c1a)"/>
<path d="M46.8,247.7l.4,0 .3,0 .4,0 .3,0 .4,0 .3-.1 .4,0 .3,0 .4,0 .3,0 .4,0 .3,0 .4,0 .4,0 .3-.1 .4,0 .3,0 .4,0 .3,0 .4,0 .3,0 .4-.1 .3,0 .4,0 .3,0 .4,0 .3,0 .4-.1 .4,0 .3,0 .4,0 .3,0 .4-.1 .3-0 .4-0 .3-0 .4-.1 .3-0 .4-0 .3-0 .4-.1 .4-0 .3-0 .4-0 .3-.1 .4-0 .3-0 .4-.1 .3-0 .4-.1 .3-0 .4-0 .3-.1 .4-0 .4-.1 .3-0 .4-.1 .3-0 .4-.1 .3-0 .4-.1 .3-0 .4-.1 .3-.1 .4-0 .3-.1 .4-.1 .3-0 .4-.1 .4-.1 .3-.1 .4-.1 .3-.1 .4-.1 .3-.1 .4-.1 .3-.2 .4-.1 .3-.2 .4-.1 .3-.2 .4-.2 .4-.2 .3-.2 .4-.3 .3-.3 .4-.3 .3-.3 .4-.4 .3-.5 .4-.5 .3-.5 .4-.6 .3-.7 .4-.8 .4-.9 .3-1 .4-1.1 .3-1.2 .4-1.3 .3-1.5 .4-1.6 .3-1.7 .4-2 .3-2.1 .4-2.2 .3-2.4 .4-2.6 .3-2.8 .4-2.9 .4-3.1 .3-3.2 .4-3.3 .3-3.5 .4-3.5 .3-3.6 .4-3.6 .3-3.6 .4-3.5 .3-3.4 .4-3.3 .3-3.1 .4-2.8 .4-2.4 .3-2.1 .4-1.6 .3-1.2 .4-.6 .3-.1 .4,.5 .3,.9 .4,1.4 .3,1.8 .4,2.3 .3,2.7 .4,2.9 .3,3.3 .4,3.5 .4,3.7 .3,3.8 .4,3.9 .3,4 .4,3.9 .3,3.9 .4,3.8 .3,3.6 .4,3.6 .3,3.3 .4,3.2 .3,3 .4,2.8 .4,2.6 .3,2.3 .4,2.2 .3,1.9 .4,1.8 .3,1.6 .4,1.3 .3,1.3 .4,1.1 .3,.9 .4,.8 .3,.7 .4,.6 .4,.5 .3,.5 .4,.4 .3,.3 .4,.2 .3,.3 .4,.2 .3,.1 .4,.1 .3,.2 .4-0 .3,.1 .4,.1 .3-0 .4,.1 .4-0 .3,.1 .4-0 .3-0" fill="none" stroke="#10e05a" stroke-width="1.7" clip-path="url(#c1b)"/>
<path d="M47.5,377.9l.4,0 .3,0 .4,0 .3,0 .4,0 .3-.1 .4,0 .3,0 .4,0 .3,0 .4,0 .4,0 .3,0 .4,0 .3-.1 .4,0 .3,0 .4,0 .3,0 .4,0 .3,0 .4-.1 .3,0 .4,0 .3,0 .4,0 .4,0 .3-.1 .4,0 .3,0 .4,0 .3,0 .4-.1 .3,0 .4,0 .3,0 .4-.1 .3,0 .4,0 .4,0 .3-.1 .4,0 .3,0 .4,0 .3-.1 .4,0 .3,0 .4-.1 .3,0 .4,0 .3-.1 .4,0 .4-.1 .3,0 .4-.1 .3,0 .4,0 .3-.1 .4-.1 .3,0 .4-.1 .3,0 .4-.1 .3,0 .4-.1 .3-.1 .4-.1 .4,0 .3-.1 .4-.1 .3-.1 .4-.1 .3-.1 .4-.1 .3-.1 .4-.1 .3-.1 .4-.2 .3-.1 .4-.2 .4-.2 .3-.2 .4-.2 .3-.2 .4-.2 .3-.3 .4-.3 .3-.4 .4-.4 .3-.4 .4-.5 .3-.5 .4-.6 .4-.7 .3-.8 .4-.8 .3-1 .4-1 .3-1.2 .4-1.3 .3-1.4 .4-1.6 .3-1.7 .4-1.9 .3-2.1 .4-2.2 .3-2.4 .4-2.6 .4-2.7 .3-2.9 .4-3 .3-3.2 .4-3.4 .3-3.4 .4-3.5 .3-3.6 .4-3.6 .3-3.6 .4-3.6 .3-3.5 .4-3.3 .4-3.1 .3-2.9 .4-2.6 .3-2.2 .4-1.7 .3-1.3 .4-.8 .3-.2 .4,.3 .3,.8 .4,1.3 .3,1.7 .4,2.2 .3,2.6 .4,2.9 .4,3.2 .3,3.5 .4,3.6 .3,3.8 .4,3.9 .3,4 .4,3.9 .3,3.9 .4,3.9 .3,3.7 .4,3.6 .3,3.4 .4,3.3 .4,3 .3,2.9 .4,2.6 .3,2.4 .4,2.3 .3,2 .4,1.8 .3,1.6 .4,1.5 .3,1.2 .4,1.2 .3,.9 .4,.9 .4,.7 .3,.7 .4,.5 .3,.5 .4,.4 .3,.3 .4,.3 .3,.2 .4,.2 .3,.2 .4,.1 .3,.1 .4,.1 .3,.1 .4,.1 .4,0 .3,.1 .4,0 .3,.1 .4,0 .3,0" fill="none" stroke="#10e05a" stroke-width="1.7" clip-path="url(#c1c)"/>
<circle cx="129.8" cy="265.8" r="0.8" fill="#999"/>
<text x="120.5" y="80.7" font-size="10" text-anchor="start" fill="#231f20" stroke="#231f20" stroke-width="0.28" textLength="56" lengthAdjust="spacingAndGlyphs">PL @ 2.45eV</text>
<text x="143.9" y="94.7" font-size="10" text-anchor="start" fill="#231f20" stroke="#231f20" stroke-width="0.28" textLength="30.8" lengthAdjust="spacingAndGlyphs">72meV</text>
<line x1="117.4" y1="91.9" x2="133" y2="91.9" stroke="#000" stroke-width="1.3"/>
<path d="M113.5,91.9 L120,87.5 L118,91.9 L120,96.3 Z" fill="#000"/>
<path d="M136.9,91.9 L130.4,87.5 L132.3,91.9 L130.4,96.3 Z" fill="#000"/>
<text x="111" y="198.5" font-size="10" text-anchor="start" fill="#231f20" stroke="#231f20" stroke-width="0.28" textLength="58.5" lengthAdjust="spacingAndGlyphs">PL @ 2.41eV</text>
<text x="138.5" y="215.8" font-size="10" text-anchor="start" fill="#231f20" stroke="#231f20" stroke-width="0.28" textLength="32.5" lengthAdjust="spacingAndGlyphs">73meV</text>
<line x1="114.9" y1="210.3" x2="129.7" y2="210.3" stroke="#000" stroke-width="1.3"/>
<path d="M111,210.3 L117.5,205.9 L115.5,210.3 L117.5,214.7 Z" fill="#000"/>
<path d="M133.6,210.3 L127.1,205.9 L129,210.3 L127.1,214.7 Z" fill="#000"/>
<text x="111.8" y="327.4" font-size="10" text-anchor="start" fill="#231f20" stroke="#231f20" stroke-width="0.28" textLength="63.5" lengthAdjust="spacingAndGlyphs">PL @ 2.42eV</text>
<text x="138.5" y="344" font-size="10" text-anchor="start" fill="#231f20" stroke="#231f20" stroke-width="0.28" textLength="38.5" lengthAdjust="spacingAndGlyphs">75meV</text>
<line x1="117.4" y1="339.8" x2="132.8" y2="339.8" stroke="#000" stroke-width="1.3"/>
<path d="M113.5,339.8 L120,335.4 L118,339.8 L120,344.2 Z" fill="#000"/>
<path d="M136.7,339.8 L130.2,335.4 L132.1,339.8 L130.2,344.2 Z" fill="#000"/>
<defs><clipPath id="c2d"><rect x="225.8" y="0.8" width="141.4" height="119.4"/></clipPath><clipPath id="c2e"><rect x="225.8" y="125" width="141.4" height="123.2"/></clipPath><clipPath id="c2f"><rect x="225.8" y="248.3" width="141.4" height="130.6"/></clipPath></defs>
<path d="M225.8,117.7l.5,0 .6,0 .5-.1 .6-0 .5-0 .6-.1 .5-0 .6-.1 .5-0 .6-0 .5-.1 .6-0 .5-.1 .5-0 .6-.1 .5-0 .6-.1 .5-0 .6-.1 .5-0 .6-.1 .5-0 .6-.1 .5-0 .5-.1 .6-0 .5-.1 .6-.1 .5-0 .6-.1 .5-.1 .6-0 .5-.1 .6-.1 .5-0 .6-.1 .5-.1 .5-.1 .6-0 .5-.1 .6-.1 .5-.1 .6-.1 .5-.1 .6-0 .5-.1 .6-.1 .5-.1 .6-.1 .5-.1 .5-.1 .6-.2 .5-.1 .6-.1 .5-.1 .6-.1 .5-.1 .6-.2 .5-.1 .6-.2 .5-.1 .5-.1 .6-.2 .5-.2 .6-.1 .5-.2 .6-.2 .5-.1 .6-.2 .5-.2 .6-.2 .5-.3 .6-.2 .5-.2 .5-.2 .6-.3 .5-.3 .6-.2 .5-.3 .6-.3 .5-.4 .6-.3 .5-.4 .6-.3 .5-.4 .6-.5 .5-.4 .5-.5 .6-.5 .5-.5 .6-.6 .5-.6 .6-.6 .5-.7 .6-.7 .5-.8 .6-.8 .5-.9 .5-.9 .6-1 .5-1.1 .6-1.2 .5-1.2 .6-1.4 .5-1.4 .6-1.5 .5-1.7 .6-1.8 .5-1.9 .6-2 .5-2.2 .5-2.4 .6-2.6 .5-2.7 .6-2.9 .5-3.1 .6-3.3 .5-3.6 .6-3.7 .5-3.9 .6-4 .5-4.2 .6-4.2 .5-4.2 .5-4.1 .6-3.9 .5-3.6 .6-3 .5-2.5 .6-1.8 .5-.9-0-0 .6,4.6 .5,8.5 .6,10.3 .5,11.1 .5,11 .6,10.3 .5,9.3 .6,8.1 .5,6.9 .6,5.7 .5,4.6 .6,3.6 .5,2.8 .6,2.1 .5,1.6 .6,1.2 .5,.8 .5,.6 .6,.4 .5,.3 .6,.2 .5,.2 .6-0 .5,.1 .6-0 .5,.1 .6-0 .5-0 .6-0 .5-0 .5-0 .6-0 .5-0 .6-0 .5-0 .6-0 .5-0 .6-0 .5-0 .6-0 .5-0 .5-0 .6-0 .5-0 .6-0 .5-0 .6-0 .5-0 .6-0 .5-0 .6-0 .5-0 .6-0 .5-0 .5-0 .6-0 .5-0 .6-0 .5-0 .6-0 .5-0 .6-0 .5-0 .6-0 .5-0 .6-0 .5-0 .5-0 .6-0 .5-0 .6-0 .5-0 .6-0 .5-0 .6-0 .5-0 .6-0 .5-0 .5-0 .6-0 .5-0 .6-0 .5-0 .6-0 .5-0 .6-0 .5-0 .6-0 .5-0 .6-0 .5-0 .5-0 .6-0 .5-0 .6-0 .5-0 .6-0 .5-0 .6-0 .5-0 .6-0 .5-0 .6-0 .5-0 .5-0 .6-0 .5-0 .6-0 .5-0 .6-0 .5-0 .6-0 .5-0 .6-0 .5-0 .5-0 .6-0 .5-0 .6-0 .5-0 .6-0 .5-0 .6-0 .5-0 .6-0 .5-0 .6-0 .5-0" fill="none" stroke="#a03ee8" stroke-width="1.3" stroke-linejoin="round" clip-path="url(#c2d)"/>
<path d="M225.8,118.1l.5,0 .6-.1 .5,0 .6,0 .5-.1 .6,0 .5,0 .6-.1 .5-0 .6-0 .5-.1 .6-0 .5-0 .5-.1 .6-0 .5-.1 .6-0 .5-0 .6-.1 .5-0 .6-.1 .5-0 .6-.1 .5-0 .5-.1 .6-0 .5-.1 .6-0 .5-.1 .6-0 .5-.1 .6-0 .5-.1 .6-0 .5-.1 .6-0 .5-.1 .5-.1 .6-0 .5-.1 .6-.1 .5-0 .6-.1 .5-.1 .6-0 .5-.1 .6-.1 .5-.1 .6-.1 .5-0 .5-.1 .6-.1 .5-.1 .6-.1 .5-.1 .6-.1 .5-.1 .6-.1 .5-.1 .6-.1 .5-.1 .5-.1 .6-.1 .5-.1 .6-.2 .5-.1 .6-.1 .5-.2 .6-.1 .5-.1 .6-.2 .5-.1 .6-.2 .5-.2 .5-.1 .6-.2 .5-.2 .6-.2 .5-.2 .6-.2 .5-.2 .6-.3 .5-.2 .6-.3 .5-.2 .6-.3 .5-.3 .5-.3 .6-.4 .5-.3 .6-.4 .5-.4 .6-.4 .5-.4 .6-.5 .5-.5 .6-.5 .5-.6 .5-.6 .6-.7 .5-.7 .6-.7 .5-.9 .6-.9 .5-.9 .6-1 .5-1.2 .6-1.2 .5-1.3 .6-1.4 .5-1.5 .5-1.7 .6-1.8 .5-2 .6-2.1 .5-2.3 .6-2.6 .5-2.7 .6-3 .5-3.2 .6-3.5 .5-3.7 .6-4 .5-4.2 .5-4.4 .6-4.6 .5-4.7 .6-4.6 .5-4.5 .6-4.1 .5-3.7 .6-2.9 .5-2.1 .5-.9 .1,.2 .5,6.3 .5,10.8 .6,12.5 .5,12.8 .6,11.9 .5,10.5 .6,8.9 .5,7.2 .6,5.7 .5,4.3 .6,3.1 .5,2.3 .6,1.5 .5,1.1 .5,.8 .6,.4 .5,.3 .6,.2 .5,.1 .6,.1 .5-0 .6,.1 .5-0 .6-0 .5-0 .6-0 .5-0 .5-0 .6-0 .5-0 .6-0 .5-0 .6-0 .5-0 .6-0 .5-0 .6-0 .5-0 .5-0 .6-0 .5-0 .6-0 .5-0 .6-0 .5-0 .6-0 .5-0 .6-0 .5-0 .6-0 .5-0 .5-0 .6-0 .5-0 .6-0 .5-0 .6-0 .5-0 .6-0 .5-0 .6-0 .5-0 .6-0 .5-0 .5-0 .6-0 .5-0 .6-0 .5-0 .6-0 .5-0 .6-0 .5-0 .6-0 .5-0 .5-0 .6-0 .5-0 .6-0 .5-0 .6-0 .5-0 .6-0 .5-0 .6-0 .5-0 .6-0 .5-0 .5-0 .6-0 .5-0 .6-0 .5-0 .6-0 .5-0 .6-0 .5-0 .6-0 .5-0 .6-0 .5-0 .5-0 .6-0 .5-0 .6-0 .5-0 .6-0 .5-0 .6-0 .5-0 .6-0 .5-0 .5-0 .6-0 .5-0 .6-0 .5-0 .6-0 .5-0 .6-0 .5-0 .6-0 .5-0 .6-0 .5-0" fill="none" stroke="#7418e2" stroke-width="1.3" stroke-linejoin="round" clip-path="url(#c2d)"/>
<path d="M225.8,118.5l.5,0 .6,0 .5,0 .6-.1 .5,0 .6,0 .5,0 .6-.1 .5-0 .6-0 .5-0 .6-.1 .5-0 .5-0 .6-.1 .5-0 .6-0 .5-0 .6-.1 .5-0 .6-0 .5-.1 .6-0 .5-0 .5-.1 .6-0 .5-.1 .6-0 .5-0 .6-.1 .5-0 .6-.1 .5-0 .6-0 .5-.1 .6-0 .5-.1 .5-0 .6-.1 .5-0 .6-.1 .5-0 .6-.1 .5-0 .6-.1 .5-0 .6-.1 .5-.1 .6-0 .5-.1 .5-0 .6-.1 .5-.1 .6-0 .5-.1 .6-.1 .5-.1 .6-0 .5-.1 .6-.1 .5-.1 .5-.1 .6-.1 .5-0 .6-.1 .5-.1 .6-.1 .5-.1 .6-.2 .5-.1 .6-.1 .5-.1 .6-.1 .5-.2 .5-.1 .6-.1 .5-.2 .6-.1 .5-.2 .6-.1 .5-.2 .6-.2 .5-.2 .6-.2 .5-.2 .6-.2 .5-.2 .5-.2 .6-.3 .5-.2 .6-.3 .5-.3 .6-.3 .5-.3 .6-.4 .5-.3 .6-.4 .5-.4 .5-.4 .6-.5 .5-.5 .6-.5 .5-.5 .6-.6 .5-.6 .6-.7 .5-.7 .6-.8 .5-.8 .6-.9 .5-.9 .5-1 .6-1.1 .5-1.1 .6-1.2 .5-1.3 .6-1.4 .5-1.5 .6-1.6 .5-1.7 .6-1.9 .5-1.9 .6-2 .5-2.2 .5-2.3 .6-2.3 .5-2.5 .6-2.5 .5-2.6 .6-2.5 .5-2.6 .6-2.4 .5-2.3 .6-2 .5-1.8 .5-1.4 .6-1 .5-.6 .1-0 .5,1.6 .5,3.6 .6,4.7 .5,5.3 .6,5.6 .5,5.6 .6,5.4 .5,5.2 .6,4.7 .5,4.3 .5,3.7 .6,3.3 .5,2.9 .6,2.4 .5,2 .6,1.7 .5,1.3 .6,1.1 .5,.9 .6,.7 .5,.5 .6,.4 .5,.4 .5,.2 .6,.2 .5,.1 .6,.1 .5,.1 .6,.1 .5-0 .6-0 .5,.1 .6-0 .5-0 .5-0 .6-0 .5-0 .6-0 .5-0 .6-0 .5-0 .6-0 .5-0 .6-0 .5-0 .6-0 .5-0 .5-0 .6-0 .5-0 .6-0 .5-0 .6-0 .5-0 .6-0 .5-0 .6-0 .5-0 .6-0 .5-0 .5-0 .6-0 .5-0 .6-0 .5-0 .6-0 .5-0 .6-0 .5-0 .6-0 .5-0 .5-0 .6-0 .5-0 .6-0 .5-0 .6-0 .5-0 .6-0 .5-0 .6-0 .5-0 .6-0 .5-0 .5-0 .6-0 .5-0 .6-0 .5-0 .6-0 .5-0 .6-0 .5-0 .6-0 .5-0 .6-0 .5-0 .5-0 .6-0 .5-0 .6-0 .5-0 .6-0 .5-0 .6-0 .5-0 .6-0 .5-0 .5-0 .6-0 .5-0 .6-0 .5-0 .6-0 .5-0 .6-0 .5-0 .6-0 .5-0 .6-0 .5-0" fill="none" stroke="#4b3fe6" stroke-width="1.3" stroke-linejoin="round" clip-path="url(#c2d)"/>
<path d="M225.8,118.8l.5,0 .6,0 .5-.1 .6,0 .5,0 .6,0 .5,0 .6-.1 .5-0 .6-0 .5-0 .6-0 .5-.1 .5-0 .6-0 .5-0 .6-0 .5-.1 .6-0 .5-0 .6-0 .5-.1 .6-0 .5-0 .5-.1 .6-0 .5-0 .6-0 .5-.1 .6-0 .5-0 .6-.1 .5-0 .6-0 .5-.1 .6-0 .5-0 .5-.1 .6-0 .5-0 .6-.1 .5-0 .6-.1 .5-0 .6-.1 .5-0 .6-0 .5-.1 .6-0 .5-.1 .5-0 .6-.1 .5-0 .6-.1 .5-0 .6-.1 .5-.1 .6-0 .5-.1 .6-0 .5-.1 .5-.1 .6-0 .5-.1 .6-.1 .5-.1 .6-0 .5-.1 .6-.1 .5-.1 .6-.1 .5-0 .6-.1 .5-.1 .5-.1 .6-.1 .5-.1 .6-.1 .5-.2 .6-.1 .5-.1 .6-.1 .5-.2 .6-.1 .5-.1 .6-.2 .5-.2 .5-.1 .6-.2 .5-.2 .6-.2 .5-.2 .6-.2 .5-.2 .6-.2 .5-.3 .6-.2 .5-.3 .5-.3 .6-.3 .5-.3 .6-.4 .5-.3 .6-.4 .5-.5 .6-.4 .5-.5 .6-.5 .5-.5 .6-.6 .5-.6 .5-.6 .6-.7 .5-.8 .6-.8 .5-.8 .6-1 .5-.9 .6-1.1 .5-1.1 .6-1.2 .5-1.3 .6-1.4 .5-1.4 .5-1.6 .6-1.6 .5-1.8 .6-1.8 .5-2 .6-2 .5-2.1 .6-2.1 .5-2.2 .6-2.2 .5-2.1 .5-2.1 .6-1.9 .5-1.7 .6-1.5 .5-1.1 .6-.8 .5-.4-0-0 .6,1.3 .5,2.8 .6,3.6 .5,4.3 .6,4.6 .5,4.7 .5,4.7 .6,4.5 .5,4.2 .6,3.7 .5,3.4 .6,3 .5,2.5 .6,2.2 .5,1.8 .6,1.4 .5,1.2 .6,1 .5,.7 .5,.6 .6,.4 .5,.4 .6,.2 .5,.2 .6,.2 .5,.1 .6-0 .5,.1 .6-0 .5-0 .5,.1 .6-0 .5-0 .6-0 .5-0 .6-0 .5-0 .6-0 .5-0 .6-0 .5-0 .6-0 .5-0 .5-0 .6-0 .5-0 .6-0 .5-0 .6-0 .5-0 .6-0 .5-0 .6-0 .5-0 .6-0 .5-0 .5-0 .6-0 .5-0 .6-0 .5-0 .6-0 .5-0 .6-0 .5-0 .6-0 .5-0 .5-0 .6-0 .5-0 .6-0 .5-0 .6-0 .5-0 .6-0 .5-0 .6-0 .5-0 .6-0 .5-0 .5-0 .6-0 .5-0 .6-0 .5-0 .6-0 .5-0 .6-0 .5-0 .6-0 .5-0 .6-0 .5-0 .5-0 .6-0 .5-0 .6-0 .5-0 .6-0 .5-0 .6-0 .5-0 .6-0 .5-0 .5-0 .6-0 .5-0 .6-0 .5-0 .6-0 .5-0 .6-0 .5-0 .6-0 .5-0 .6-0 .5-0" fill="none" stroke="#2f70ea" stroke-width="1.3" stroke-linejoin="round" clip-path="url(#c2d)"/>
<path d="M225.8,118.8l.5,0 .6-.1 .5,0 .6,0 .5,0 .6,0 .5-.1 .6-0 .5-0 .6-0 .5-0 .6-.1 .5-0 .5-0 .6-0 .5-.1 .6-0 .5-0 .6-0 .5-.1 .6-0 .5-0 .6-0 .5-.1 .5-0 .6-0 .5-0 .6-.1 .5-0 .6-0 .5-.1 .6-0 .5-0 .6-.1 .5-0 .6-0 .5-.1 .5-0 .6-0 .5-.1 .6-0 .5-.1 .6-0 .5-0 .6-.1 .5-0 .6-.1 .5-0 .6-.1 .5-0 .5-.1 .6-0 .5-.1 .6-0 .5-.1 .6-0 .5-.1 .6-0 .5-.1 .6-.1 .5-0 .5-.1 .6-.1 .5-0 .6-.1 .5-.1 .6-0 .5-.1 .6-.1 .5-.1 .6-.1 .5-.1 .6-0 .5-.1 .5-.1 .6-.1 .5-.1 .6-.1 .5-.1 .6-.2 .5-.1 .6-.1 .5-.1 .6-.1 .5-.2 .6-.1 .5-.2 .5-.1 .6-.2 .5-.1 .6-.2 .5-.2 .6-.2 .5-.2 .6-.2 .5-.2 .6-.3 .5-.2 .5-.3 .6-.2 .5-.3 .6-.3 .5-.3 .6-.4 .5-.3 .6-.4 .5-.4 .6-.5 .5-.4 .6-.5 .5-.5 .5-.6 .6-.6 .5-.6 .6-.7 .5-.7 .6-.8 .5-.8 .6-.9 .5-1 .6-1 .5-1.1 .6-1.2 .5-1.2 .5-1.3 .6-1.5 .5-1.5 .6-1.6 .5-1.7 .6-1.9 .5-1.9 .6-2 .5-2.2 .6-2.2 .5-2.3 .5-2.4 .6-2.3 .5-2.4 .6-2.3 .5-2.2 .6-2 .5-1.8 .6-1.4 .5-1.2 .6-.7 .3-.2 .2,.2 .6,1.5 .5,2.8 .5,3.7 .6,4.3 .5,4.8 .6,5 .5,5 .6,4.8 .5,4.6 .6,4.2 .5,3.8 .6,3.3 .5,2.9 .6,2.5 .5,2 .5,1.7 .6,1.4 .5,1.1 .6,.8 .5,.7 .6,.5 .5,.3 .6,.3 .5,.2 .6,.2 .5,.1 .5-0 .6,.1 .5-0 .6,.1 .5-0 .6-0 .5-0 .6-0 .5-0 .6-0 .5-0 .6-0 .5-0 .5-0 .6-0 .5-0 .6-0 .5-0 .6-0 .5-0 .6-0 .5-0 .6-0 .5-0 .6-0 .5-0 .5-0 .6-0 .5-0 .6-0 .5-0 .6-0 .5-0 .6-0 .5-0 .6-0 .5-0 .5-0 .6-0 .5-0 .6-0 .5-0 .6-0 .5-0 .6-0 .5-0 .6-0 .5-0 .6-0 .5-0 .5-0 .6-0 .5-0 .6-0 .5-0 .6-0 .5-0 .6-0 .5-0 .6-0 .5-0 .6-0 .5-0 .5-0 .6-0 .5-0 .6-0 .5-0 .6-0 .5-0 .6-0 .5-0 .6-0 .5-0 .5-0 .6-0 .5-0 .6-0 .5-0 .6-0 .5-0 .6-0 .5-0 .6-0 .5-0 .6-0 .5-0" fill="none" stroke="#1a9eea" stroke-width="1.3" stroke-linejoin="round" clip-path="url(#c2d)"/>
<path d="M225.8,118.7l.5,0 .6,0 .5-.1 .6-0 .5-0 .6-0 .5-0 .6-.1 .5-0 .6-0 .5-0 .6-0 .5-.1 .5-0 .6-0 .5-0 .6-.1 .5-0 .6-0 .5-0 .6-.1 .5-0 .6-0 .5-.1 .5-0 .6-0 .5-0 .6-.1 .5-0 .6-0 .5-.1 .6-0 .5-0 .6-.1 .5-0 .6-.1 .5-0 .5-0 .6-.1 .5-0 .6-0 .5-.1 .6-0 .5-.1 .6-0 .5-.1 .6-0 .5-.1 .6-0 .5-.1 .5-0 .6-.1 .5-0 .6-.1 .5-0 .6-.1 .5-0 .6-.1 .5-.1 .6-0 .5-.1 .5-.1 .6-0 .5-.1 .6-.1 .5-0 .6-.1 .5-.1 .6-.1 .5-.1 .6-0 .5-.1 .6-.1 .5-.1 .5-.1 .6-.1 .5-.1 .6-.1 .5-.1 .6-.1 .5-.2 .6-.1 .5-.1 .6-.1 .5-.2 .6-.1 .5-.1 .5-.2 .6-.2 .5-.1 .6-.2 .5-.2 .6-.2 .5-.2 .6-.2 .5-.2 .6-.2 .5-.2 .5-.3 .6-.2 .5-.3 .6-.3 .5-.3 .6-.3 .5-.4 .6-.3 .5-.4 .6-.4 .5-.4 .6-.5 .5-.5 .5-.5 .6-.6 .5-.6 .6-.6 .5-.6 .6-.8 .5-.7 .6-.8 .5-.9 .6-1 .5-1 .6-1 .5-1.2 .5-1.2 .6-1.3 .5-1.4 .6-1.5 .5-1.6 .6-1.7 .5-1.9 .6-1.9 .5-2.1 .6-2.1 .5-2.3 .5-2.4 .6-2.5 .5-2.6 .6-2.6 .5-2.6 .6-2.6 .5-2.5 .6-2.4 .5-2.1 .6-1.9 .5-1.6 .6-1.1 .5-.7 .2-.1 .3,.4 .6,1.7 .5,2.9 .6,3.6 .5,4.3 .6,4.7 .5,4.9 .6,4.9 .5,4.9 .6,4.7 .5,4.4 .6,4.1 .5,3.7 .5,3.3 .6,2.9 .5,2.5 .6,2.2 .5,1.8 .6,1.5 .5,1.3 .6,1 .5,.8 .6,.7 .5,.5 .5,.4 .6,.3 .5,.3 .6,.1 .5,.2 .6,.1 .5,.1 .6-0 .5,.1 .6-0 .5-0 .6,.1 .5-0 .5-0 .6-0 .5-0 .6-0 .5-0 .6-0 .5,.1 .6-0 .5-0 .6-0 .5-0 .6-0 .5-0 .5-0 .6-0 .5-0 .6-0 .5-0 .6-0 .5-0 .6-0 .5-0 .6-0 .5-0 .5-0 .6-0 .5-0 .6-0 .5-0 .6-0 .5-0 .6-0 .5-0 .6-0 .5-0 .6-0 .5-0 .5-0 .6-0 .5,.1 .6-0 .5-0 .6-0 .5-0 .6-0 .5-0 .6-0 .5-0 .6-0 .5-0 .5-0 .6-0 .5-0 .6-0 .5-0 .6-0 .5-0 .6-0 .5-0 .6-0 .5-0 .5-0 .6-0 .5-0 .6-0 .5-0 .6-0 .5-0 .6-0 .5-0 .6-0 .5-0 .6-0 .5-0" fill="none" stroke="#12d6ea" stroke-width="1.3" stroke-linejoin="round" clip-path="url(#c2d)"/>
<path d="M225.8,118.8l.5-.1 .6,0 .5,0 .6,0 .5,0 .6,0 .5-.1 .6-0 .5-0 .6-0 .5-0 .6-.1 .5-0 .5-0 .6-0 .5-.1 .6-0 .5-0 .6-0 .5-.1 .6-0 .5-0 .6-0 .5-.1 .5-0 .6-0 .5-0 .6-.1 .5-0 .6-0 .5-.1 .6-0 .5-0 .6-.1 .5-0 .6-0 .5-.1 .5-0 .6-0 .5-.1 .6-0 .5-.1 .6-0 .5-0 .6-.1 .5-0 .6-.1 .5-0 .6-.1 .5-0 .5-0 .6-.1 .5-0 .6-.1 .5-.1 .6-0 .5-.1 .6-0 .5-.1 .6-0 .5-.1 .5-.1 .6-0 .5-.1 .6-.1 .5-0 .6-.1 .5-.1 .6-0 .5-.1 .6-.1 .5-.1 .6-.1 .5-.1 .5-.1 .6-0 .5-.1 .6-.1 .5-.1 .6-.2 .5-.1 .6-.1 .5-.1 .6-.1 .5-.1 .6-.2 .5-.1 .5-.2 .6-.1 .5-.2 .6-.1 .5-.2 .6-.2 .5-.1 .6-.2 .5-.2 .6-.3 .5-.2 .5-.2 .6-.3 .5-.2 .6-.3 .5-.3 .6-.3 .5-.3 .6-.3 .5-.4 .6-.4 .5-.4 .6-.4 .5-.4 .5-.5 .6-.5 .5-.5 .6-.6 .5-.6 .6-.7 .5-.6 .6-.8 .5-.8 .6-.8 .5-.9 .6-.9 .5-1 .5-1.1 .6-1.2 .5-1.2 .6-1.3 .5-1.4 .6-1.4 .5-1.6 .6-1.7 .5-1.7 .6-1.9 .5-1.9 .5-2 .6-2.2 .5-2.1 .6-2.3 .5-2.3 .6-2.2 .5-2.3 .6-2.2 .5-2 .6-1.9 .5-1.7 .6-1.3 .5-1.1 .5-.7 .4-.2 .2,.1 .5,1.1 .6,2 .5,2.7 .6,3.2 .5,3.7 .6,3.9 .5,4.1 .6,4.2 .5,4.1 .6,3.9 .5,3.8 .5,3.5 .6,3.2 .5,3 .6,2.6 .5,2.3 .6,2.1 .5,1.8 .6,1.5 .5,1.3 .6,1.1 .5,.9 .5,.7 .6,.6 .5,.5 .6,.4 .5,.3 .6,.2 .5,.2 .6,.2 .5,.1 .6,.1 .5,.1 .6-0 .5,.1 .5-0 .6-0 .5,.1 .6-0 .5-0 .6-0 .5-0 .6-0 .5-0 .6-0 .5,.1 .6-0 .5-0 .5-0 .6-0 .5-0 .6-0 .5-0 .6-0 .5-0 .6-0 .5-0 .6-0 .5-0 .5-0 .6-0 .5-0 .6-0 .5-0 .6-0 .5-0 .6-0 .5-0 .6-0 .5-0 .6-0 .5-0 .5-0 .6-0 .5-0 .6-0 .5-0 .6-0 .5-0 .6,.1 .5-0 .6-0 .5-0 .6-0 .5-0 .5-0 .6-0 .5-0 .6-0 .5-0 .6-0 .5-0 .6-0 .5-0 .6-0 .5-0 .5-0 .6-0 .5-0 .6-0 .5-0 .6-0 .5-0 .6-0 .5-0 .6-0 .5-0 .6-0 .5-0" fill="none" stroke="#10dcb0" stroke-width="1.3" stroke-linejoin="round" clip-path="url(#c2d)"/>
<path d="M225.8,118.3l.5,0 .6,0 .5-.1 .6,0 .5,0 .6,0 .5-.1 .6-0 .5-0 .6-.1 .5-0 .6-0 .5-0 .5-.1 .6-0 .5-0 .6-.1 .5-0 .6-0 .5-.1 .6-0 .5-0 .6-.1 .5-0 .5-.1 .6-0 .5-0 .6-.1 .5-0 .6-.1 .5-0 .6-0 .5-.1 .6-0 .5-.1 .6-0 .5-.1 .5-0 .6-.1 .5-0 .6-.1 .5-0 .6-.1 .5-.1 .6-0 .5-.1 .6-0 .5-.1 .6-.1 .5-0 .5-.1 .6-.1 .5-0 .6-.1 .5-.1 .6-0 .5-.1 .6-.1 .5-.1 .6-.1 .5-0 .5-.1 .6-.1 .5-.1 .6-.1 .5-.1 .6-.1 .5-.1 .6-.1 .5-.1 .6-.1 .5-.1 .6-.2 .5-.1 .5-.1 .6-.1 .5-.2 .6-.1 .5-.1 .6-.2 .5-.1 .6-.2 .5-.1 .6-.2 .5-.2 .6-.2 .5-.1 .5-.2 .6-.2 .5-.2 .6-.3 .5-.2 .6-.2 .5-.3 .6-.2 .5-.3 .6-.3 .5-.3 .5-.3 .6-.3 .5-.4 .6-.3 .5-.4 .6-.4 .5-.4 .6-.5 .5-.4 .6-.5 .5-.6 .6-.5 .5-.6 .5-.6 .6-.7 .5-.7 .6-.7 .5-.8 .6-.9 .5-.9 .6-.9 .5-1.1 .6-1 .5-1.2 .6-1.2 .5-1.3 .5-1.4 .6-1.5 .5-1.6 .6-1.6 .5-1.8 .6-1.9 .5-2 .6-2.1 .5-2.2 .6-2.3 .5-2.5 .5-2.6 .6-2.7 .5-2.7 .6-2.9 .5-2.9 .6-3 .5-3 .6-2.9 .5-2.8 .6-2.8 .5-2.5 .6-2.2 .5-2 .5-1.5 .6-1.2 .5-.6 .2-.1 .4,.4 .5,1.4 .6,2.3 .5,3.1 .6,3.6 .5,4.1 .6,4.4 .5,4.6 .6,4.7 .5,4.8 .5,4.7 .6,4.6 .5,4.5 .6,4.2 .5,3.9 .6,3.7 .5,3.4 .6,3.1 .5,2.8 .6,2.5 .5,2.3 .5,2 .6,1.7 .5,1.6 .6,1.3 .5,1.1 .6,1 .5,.8 .6,.7 .5,.6 .6,.5 .5,.4 .6,.4 .5,.3 .5,.2 .6,.2 .5,.2 .6,.1 .5,.1 .6,.1 .5,.1 .6-0 .5,.1 .6-0 .5,.1 .6-0 .5-0 .5,.1 .6-0 .5-0 .6-0 .5,.1 .6-0 .5-0 .6-0 .5-0 .6-0 .5-0 .5,.1 .6-0 .5-0 .6-0 .5-0 .6-0 .5-0 .6-0 .5-0 .6-0 .5-0 .6,.1 .5-0 .5-0 .6-0 .5-0 .6-0 .5-0 .6-0 .5-0 .6-0 .5-0 .6-0 .5-0 .6-0 .5-0 .5-0 .6-0 .5-0 .6-0 .5-0 .6-0 .5,.1 .6-0 .5-0 .6-0 .5-0 .5-0 .6-0 .5-0 .6-0 .5-0 .6-0 .5-0 .6-0 .5-0 .6-0 .5-0 .6-0 .5-0" fill="none" stroke="#1cdc3c" stroke-width="1.3" stroke-linejoin="round" clip-path="url(#c2d)"/>
<path d="M225.8,118.3l.5-.1 .6,0 .5,0 .6,0 .5-.1 .6-0 .5-0 .6-0 .5-.1 .6-0 .5-0 .6-.1 .5-0 .5-0 .6-.1 .5-0 .6-0 .5-0 .6-.1 .5-0 .6-.1 .5-0 .6-0 .5-.1 .5-0 .6-0 .5-.1 .6-0 .5-.1 .6-0 .5-.1 .6-0 .5-0 .6-.1 .5-0 .6-.1 .5-0 .5-.1 .6-0 .5-.1 .6-0 .5-.1 .6-.1 .5-0 .6-.1 .5-0 .6-.1 .5-.1 .6-0 .5-.1 .5-.1 .6-0 .5-.1 .6-.1 .5-0 .6-.1 .5-.1 .6-.1 .5-.1 .6-0 .5-.1 .5-.1 .6-.1 .5-.1 .6-.1 .5-.1 .6-.1 .5-.1 .6-.1 .5-.1 .6-.1 .5-.2 .6-.1 .5-.1 .5-.1 .6-.2 .5-.1 .6-.1 .5-.2 .6-.1 .5-.2 .6-.1 .5-.2 .6-.2 .5-.2 .6-.1 .5-.2 .5-.2 .6-.2 .5-.3 .6-.2 .5-.2 .6-.3 .5-.2 .6-.3 .5-.3 .6-.3 .5-.3 .5-.3 .6-.3 .5-.4 .6-.4 .5-.4 .6-.4 .5-.4 .6-.5 .5-.5 .6-.5 .5-.5 .6-.6 .5-.6 .5-.7 .6-.7 .5-.7 .6-.8 .5-.8 .6-.8 .5-.9 .6-1 .5-1 .6-1.1 .5-1.2 .6-1.2 .5-1.3 .5-1.4 .6-1.5 .5-1.5 .6-1.7 .5-1.7 .6-1.8 .5-2 .6-2 .5-2.1 .6-2.3 .5-2.3 .5-2.5 .6-2.5 .5-2.6 .6-2.7 .5-2.7 .6-2.8 .5-2.7 .6-2.7 .5-2.7 .6-2.4 .5-2.4 .6-2 .5-1.8 .5-1.5 .6-1.1 .5-.6 .3-.2 .3,.2 .5,1 .6,1.9 .5,2.5 .6,3 .5,3.5 .6,3.8 .5,4.1 .6,4.2 .5,4.3 .5,4.3 .6,4.3 .5,4.1 .6,4 .5,3.9 .6,3.6 .5,3.4 .6,3.2 .5,2.9 .6,2.7 .5,2.4 .5,2.2 .6,2 .5,1.8 .6,1.5 .5,1.4 .6,1.2 .5,1.1 .6,.9 .5,.7 .6,.7 .5,.6 .6,.5 .5,.4 .5,.3 .6,.3 .5,.3 .6,.2 .5,.1 .6,.2 .5,.1 .6,.1 .5,.1 .6,.1 .5-0 .6,.1 .5-0 .5,.1 .6-0 .5-0 .6,.1 .5-0 .6-0 .5-0 .6-0 .5,.1 .6-0 .5-0 .5-0 .6-0 .5-0 .6-0 .5,.1 .6-0 .5-0 .6-0 .5-0 .6-0 .5-0 .6-0 .5-0 .5-0 .6-0 .5-0 .6,.1 .5-0 .6-0 .5-0 .6-0 .5-0 .6-0 .5-0 .6-0 .5-0 .5-0 .6-0 .5-0 .6-0 .5-0 .6-0 .5-0 .6-0 .5-0 .6-0 .5-0 .5-0 .6,.1 .5-0 .6-0 .5-0 .6-0 .5-0 .6-0 .5-0 .6-0 .5-0 .6-0 .5-0" fill="none" stroke="#86dc1c" stroke-width="1.3" stroke-linejoin="round" clip-path="url(#c2d)"/>
<path d="M225.8,118.3l.5-.1 .6,0 .5,0 .6,0 .5-.1 .6-0 .5-0 .6-0 .5-.1 .6-0 .5-0 .6-.1 .5-0 .5-0 .6-.1 .5-0 .6-0 .5-.1 .6-0 .5-0 .6-.1 .5-0 .6-0 .5-.1 .5-0 .6-0 .5-.1 .6-0 .5-.1 .6-0 .5-.1 .6-0 .5-0 .6-.1 .5-0 .6-.1 .5-0 .5-.1 .6-0 .5-.1 .6-0 .5-.1 .6-.1 .5-0 .6-.1 .5-0 .6-.1 .5-.1 .6-0 .5-.1 .5-.1 .6-0 .5-.1 .6-.1 .5-0 .6-.1 .5-.1 .6-.1 .5-.1 .6-0 .5-.1 .5-.1 .6-.1 .5-.1 .6-.1 .5-.1 .6-.1 .5-.1 .6-.1 .5-.1 .6-.1 .5-.2 .6-.1 .5-.1 .5-.1 .6-.2 .5-.1 .6-.1 .5-.2 .6-.1 .5-.2 .6-.2 .5-.1 .6-.2 .5-.2 .6-.2 .5-.2 .5-.2 .6-.2 .5-.2 .6-.2 .5-.2 .6-.3 .5-.3 .6-.2 .5-.3 .6-.3 .5-.3 .5-.3 .6-.4 .5-.3 .6-.4 .5-.4 .6-.4 .5-.5 .6-.5 .5-.5 .6-.5 .5-.5 .6-.6 .5-.6 .5-.7 .6-.7 .5-.7 .6-.8 .5-.8 .6-.9 .5-.9 .6-1 .5-1 .6-1.1 .5-1.2 .6-1.2 .5-1.3 .5-1.4 .6-1.5 .5-1.5 .6-1.6 .5-1.7 .6-1.8 .5-1.9 .6-2 .5-2.1 .6-2.1 .5-2.3 .5-2.3 .6-2.4 .5-2.4 .6-2.5 .5-2.5 .6-2.5 .5-2.4 .6-2.5 .5-2.3 .6-2.1 .5-2 .6-1.8 .5-1.5 .5-1.2 .6-.8 .5-.5 .2-.1 .4,.2 .5,.9 .6,1.5 .5,2 .6,2.6 .5,3 .6,3.3 .5,3.5 .6,3.8 .5,3.8 .5,4 .6,3.9 .5,3.9 .6,3.8 .5,3.6 .6,3.5 .5,3.3 .6,3.2 .5,2.9 .6,2.6 .5,2.5 .5,2.2 .6,2 .5,1.9 .6,1.6 .5,1.4 .6,1.3 .5,1.1 .6,.9 .5,.9 .6,.7 .5,.6 .6,.5 .5,.5 .5,.3 .6,.4 .5,.2 .6,.3 .5,.2 .6,.1 .5,.2 .6,.1 .5,.1 .6,.1 .5,.1 .6-0 .5,.1 .5-0 .6,.1 .5-0 .6,.1 .5-0 .6-0 .5,.1 .6-0 .5-0 .6-0 .5-0 .5,.1 .6-0 .5-0 .6-0 .5-0 .6,.1 .5-0 .6-0 .5-0 .6-0 .5-0 .6-0 .5,.1 .5-0 .6-0 .5-0 .6-0 .5-0 .6-0 .5-0 .6-0 .5,.1 .6-0 .5-0 .6-0 .5-0 .5-0 .6-0 .5-0 .6-0 .5-0 .6-0 .5-0 .6-0 .5-0 .6-0 .5,.1 .5-0 .6-0 .5-0 .6-0 .5-0 .6-0 .5-0 .6-0 .5-0 .6-0 .5-0 .6-0 .5-0" fill="none" stroke="#f0dc18" stroke-width="1.3" stroke-linejoin="round" clip-path="url(#c2d)"/>
<path d="M225.8,118.4l.5,0 .6,0 .5,0 .6-.1 .5-0 .6-0 .5-0 .6-.1 .5-0 .6-0 .5-0 .6-.1 .5-0 .5-0 .6-0 .5-.1 .6-0 .5-0 .6-.1 .5-0 .6-0 .5-.1 .6-0 .5-0 .5-.1 .6-0 .5-0 .6-.1 .5-0 .6-0 .5-.1 .6-0 .5-.1 .6-0 .5-0 .6-.1 .5-0 .5-.1 .6-0 .5-.1 .6-0 .5-.1 .6-0 .5-.1 .6-0 .5-.1 .6-0 .5-.1 .6-.1 .5-0 .5-.1 .6-0 .5-.1 .6-.1 .5-0 .6-.1 .5-.1 .6-.1 .5-0 .6-.1 .5-.1 .5-.1 .6-.1 .5-0 .6-.1 .5-.1 .6-.1 .5-.1 .6-.1 .5-.1 .6-.1 .5-.1 .6-.1 .5-.1 .5-.2 .6-.1 .5-.1 .6-.1 .5-.2 .6-.1 .5-.1 .6-.2 .5-.1 .6-.2 .5-.2 .6-.1 .5-.2 .5-.2 .6-.2 .5-.2 .6-.2 .5-.2 .6-.3 .5-.2 .6-.3 .5-.2 .6-.3 .5-.3 .5-.3 .6-.3 .5-.4 .6-.3 .5-.4 .6-.4 .5-.4 .6-.5 .5-.5 .6-.5 .5-.5 .6-.5 .5-.6 .5-.7 .6-.6 .5-.7 .6-.8 .5-.7 .6-.9 .5-.9 .6-.9 .5-1 .6-1 .5-1.1 .6-1.2 .5-1.2 .5-1.3 .6-1.3 .5-1.4 .6-1.5 .5-1.6 .6-1.6 .5-1.7 .6-1.8 .5-1.8 .6-1.9 .5-1.9 .5-1.9 .6-2 .5-2 .6-2 .5-2 .6-1.9 .5-1.9 .6-1.7 .5-1.6 .6-1.5 .5-1.2 .6-1.1 .5-.8 .5-.5 .5-.2 .1-0 .5,.3 .6,.8 .5,1.2 .6,1.6 .5,2 .6,2.3 .5,2.6 .6,2.8 .5,3 .6,3 .5,3.2 .5,3.1 .6,3.1 .5,3.1 .6,3 .5,2.9 .6,2.8 .5,2.6 .6,2.4 .5,2.3 .6,2.1 .5,1.9 .5,1.8 .6,1.5 .5,1.4 .6,1.3 .5,1.1 .6,1 .5,.8 .6,.8 .5,.6 .6,.6 .5,.5 .6,.4 .5,.3 .5,.3 .6,.3 .5,.2 .6,.2 .5,.1 .6,.2 .5,.1 .6,.1 .5,.1 .6-0 .5,.1 .6,.1 .5-0 .5,.1 .6-0 .5,.1 .6-0 .5-0 .6,.1 .5-0 .6-0 .5,.1 .6-0 .5-0 .5-0 .6,.1 .5-0 .6-0 .5-0 .6,.1 .5-0 .6-0 .5-0 .6-0 .5-0 .6,.1 .5-0 .5-0 .6-0 .5-0 .6-0 .5-0 .6-0 .5,.1 .6-0 .5-0 .6-0 .5-0 .6-0 .5-0 .5-0 .6-0 .5-0 .6-0 .5,.1 .6-0 .5-0 .6-0 .5-0 .6-0 .5-0 .5-0 .6-0 .5-0 .6-0 .5-0 .6-0 .5-0 .6-0 .5-0 .6-0 .5,.1 .6-0 .5-0" fill="none" stroke="#f8a424" stroke-width="1.3" stroke-linejoin="round" clip-path="url(#c2d)"/>
<path d="M225.8,118.5l.5,0 .6,0 .5,0 .6-.1 .5,0 .6,0 .5,0 .6,0 .5-.1 .6-0 .5-0 .6-0 .5-.1 .5-0 .6-0 .5-0 .6-.1 .5-0 .6-0 .5-.1 .6-0 .5-0 .6-0 .5-.1 .5-0 .6-0 .5-.1 .6-0 .5-0 .6-.1 .5-0 .6-0 .5-.1 .6-0 .5-.1 .6-0 .5-0 .5-.1 .6-0 .5-.1 .6-0 .5-.1 .6-0 .5-.1 .6-0 .5-.1 .6-0 .5-.1 .6-0 .5-.1 .5-0 .6-.1 .5-0 .6-.1 .5-.1 .6-0 .5-.1 .6-.1 .5-0 .6-.1 .5-.1 .5-.1 .6-0 .5-.1 .6-.1 .5-.1 .6-.1 .5-0 .6-.1 .5-.1 .6-.1 .5-.1 .6-.1 .5-.1 .5-.1 .6-.2 .5-.1 .6-.1 .5-.1 .6-.2 .5-.1 .6-.1 .5-.2 .6-.1 .5-.2 .6-.1 .5-.2 .5-.2 .6-.2 .5-.2 .6-.2 .5-.2 .6-.2 .5-.2 .6-.2 .5-.3 .6-.3 .5-.2 .5-.3 .6-.3 .5-.3 .6-.4 .5-.3 .6-.4 .5-.4 .6-.4 .5-.4 .6-.5 .5-.5 .6-.5 .5-.5 .5-.6 .6-.6 .5-.6 .6-.6 .5-.7 .6-.8 .5-.7 .6-.8 .5-.9 .6-.9 .5-.9 .6-1 .5-1 .5-1.1 .6-1.1 .5-1.2 .6-1.2 .5-1.3 .6-1.3 .5-1.4 .6-1.4 .5-1.5 .6-1.4 .5-1.6 .5-1.5 .6-1.6 .5-1.6 .6-1.5 .5-1.6 .6-1.5 .5-1.5 .6-1.4 .5-1.3 .6-1.2 .5-1 .6-.9 .5-.8 .5-.6 .6-.4 .4-.1 .1-0 .6,.3 .5,.6 .6,.9 .5,1.3 .6,1.6 .5,1.8 .6,2 .5,2.1 .6,2.4 .5,2.4 .5,2.5 .6,2.5 .5,2.6 .6,2.5 .5,2.4 .6,2.4 .5,2.3 .6,2.3 .5,2 .6,2 .5,1.9 .5,1.7 .6,1.6 .5,1.4 .6,1.3 .5,1.2 .6,1.1 .5,.9 .6,.9 .5,.7 .6,.7 .5,.6 .6,.5 .5,.4 .5,.4 .6,.3 .5,.3 .6,.3 .5,.2 .6,.2 .5,.1 .6,.1 .5,.2 .6,.1 .5,.1 .6-0 .5,.1 .5,.1 .6-0 .5,.1 .6-0 .5-0 .6,.1 .5-0 .6-0 .5,.1 .6-0 .5-0 .5,.1 .6-0 .5-0 .6-0 .5-0 .6,.1 .5-0 .6-0 .5-0 .6-0 .5-0 .6,.1 .5-0 .5-0 .6-0 .5-0 .6-0 .5-0 .6,.1 .5-0 .6-0 .5-0 .6-0 .5-0 .6-0 .5-0 .5-0 .6-0 .5-0 .6,.1 .5-0 .6-0 .5-0 .6-0 .5-0 .6-0 .5-0 .5-0 .6-0 .5-0 .6-0 .5-0 .6-0 .5-0 .6-0 .5-0 .6,.1 .5-0 .6-0 .5-0" fill="none" stroke="#f8702c" stroke-width="1.3" stroke-linejoin="round" clip-path="url(#c2d)"/>
<path d="M225.8,119l.5,0 .6,0 .5,0 .6,0 .5,0 .6,0 .5-.1 .6,0 .5,0 .6,0 .5,0 .6,0 .5,0 .5-.1 .6-0 .5-0 .6-0 .5-0 .6-0 .5-.1 .6-0 .5-0 .6-0 .5-0 .5-.1 .6-0 .5-0 .6-0 .5-0 .6-.1 .5-0 .6-0 .5-0 .6-0 .5-.1 .6-0 .5-0 .5-0 .6-.1 .5-0 .6-0 .5-.1 .6-0 .5-0 .6-0 .5-.1 .6-0 .5-0 .6-.1 .5-0 .5-0 .6-.1 .5-0 .6-0 .5-.1 .6-0 .5-.1 .6-0 .5-0 .6-.1 .5-0 .5-.1 .6-0 .5-.1 .6-0 .5-.1 .6-0 .5-.1 .6-0 .5-.1 .6-0 .5-.1 .6-0 .5-.1 .5-.1 .6-0 .5-.1 .6-.1 .5-0 .6-.1 .5-.1 .6-.1 .5-.1 .6-0 .5-.1 .6-.1 .5-.1 .5-.1 .6-.1 .5-.1 .6-.1 .5-.2 .6-.1 .5-.1 .6-.1 .5-.2 .6-.1 .5-.2 .5-.1 .6-.2 .5-.2 .6-.1 .5-.2 .6-.2 .5-.2 .6-.3 .5-.2 .6-.2 .5-.3 .6-.3 .5-.2 .5-.3 .6-.3 .5-.4 .6-.3 .5-.4 .6-.3 .5-.4 .6-.4 .5-.4 .6-.5 .5-.5 .6-.4 .5-.5 .5-.6 .6-.5 .5-.6 .6-.6 .5-.6 .6-.6 .5-.6 .6-.7 .5-.7 .6-.7 .5-.7 .5-.8 .6-.7 .5-.8 .6-.7 .5-.8 .6-.8 .5-.7 .6-.8 .5-.7 .6-.7 .5-.7 .6-.6 .5-.6 .5-.6 .6-.5 .5-.4 .6-.4 .5-.3 .6-.2 .5-.2 .3-0 .3-0 .5,.1 .6,.3 .5,.3 .6,.5 .5,.6 .5,.7 .6,.7 .5,.9 .6,.9 .5,.9 .6,1 .5,1 .6,1.1 .5,1.1 .6,1 .5,1.1 .5,1.1 .6,1 .5,1.1 .6,1 .5,1 .6,.9 .5,1 .6,.8 .5,.9 .6,.8 .5,.8 .6,.7 .5,.6 .5,.7 .6,.6 .5,.5 .6,.5 .5,.5 .6,.4 .5,.4 .6,.4 .5,.3 .6,.3 .5,.3 .6,.3 .5,.2 .5,.2 .6,.2 .5,.2 .6,.1 .5,.2 .6,.1 .5,.1 .6,.1 .5,.1 .6,.1 .5-0 .5,.1 .6,.1 .5-0 .6,.1 .5-0 .6,.1 .5-0 .6-0 .5,.1 .6-0 .5-0 .6,.1 .5-0 .5-0 .6-0 .5-0 .6,.1 .5-0 .6-0 .5-0 .6-0 .5,.1 .6-0 .5-0 .6-0 .5-0 .5-0 .6-0 .5,.1 .6-0 .5-0 .6-0 .5-0 .6-0 .5-0 .6-0 .5-0 .5,.1 .6-0 .5-0 .6-0 .5-0 .6-0 .5-0 .6-0 .5-0 .6-0 .5-0 .6-0 .5-0" fill="none" stroke="#f0302c" stroke-width="1.3" stroke-linejoin="round" clip-path="url(#c2d)"/>
<path d="M225.8,244.8l.5-.1 .6-0 .5-.1 .6-0 .5-.1 .6-.1 .5-0 .6-.1 .5-.1 .6-0 .5-.1 .6-.1 .5-0 .5-.1 .6-.1 .5-.1 .6-0 .5-.1 .6-.1 .5-.1 .6-.1 .5-.1 .6-.1 .5-.1 .5-.1 .6-.1 .5-.1 .6-.1 .5-.1 .6-.1 .5-.1 .6-.2 .5-.1 .6-.1 .5-.1 .6-.2 .5-.1 .5-.2 .6-.1 .5-.2 .6-.1 .5-.2 .6-.2 .5-.1 .6-.2 .5-.2 .6-.2 .5-.2 .6-.2 .5-.3 .5-.2 .6-.2 .5-.3 .6-.3 .5-.3 .6-.2 .5-.4 .6-.3 .5-.3 .6-.4 .5-.4 .5-.4 .6-.4 .5-.5 .6-.5 .5-.5 .6-.6 .5-.6 .6-.6 .5-.7 .6-.8 .5-.8 .6-.8 .5-1 .5-1 .6-1.1 .5-1.2 .6-1.4 .5-1.4 .6-1.6 .5-1.7 .6-1.9 .5-2.1 .6-2.3 .5-2.6 .6-2.8 .5-3.1 .5-3.5 .6-3.8 .5-4.1 .6-4.6 .5-5 .6-5.4 .5-5.7 .6-5.9 .5-6 .6-5.9 .5-5.5 .5-4.7 .6-3.6 .5-2.2 .3-.5 .3,2.5 .5,9.3 .6,11.8 .5,12.6 .6,12.2 .5,11.4 .6,10 .5,8.7 .6,7.2 .5,5.9 .5,4.8 .6,3.7 .5,2.8 .6,2.2 .5,1.6 .6,1.2 .5,.9 .6,.6 .5,.4 .6,.4 .5,.2 .6,.1 .5,.1 .5,.1 .6-0 .5-0 .6,.1 .5-0 .6-0 .5-0 .6-0 .5-0 .6-0 .5-0 .5-0 .6-0 .5-0 .6-0 .5-0 .6-0 .5-0 .6-0 .5-0 .6-0 .5-0 .6-0 .5-0 .5-0 .6-0 .5-0 .6-0 .5-0 .6-0 .5-0 .6-0 .5-0 .6-0 .5-0 .6-0 .5-0 .5-0 .6-0 .5-0 .6-0 .5-0 .6-0 .5-0 .6-0 .5-0 .6-0 .5-0 .5-0 .6-0 .5-0 .6-0 .5-0 .6-0 .5-0 .6-0 .5-0 .6-0 .5-0 .6-0 .5-0 .5-0 .6-0 .5-0 .6-0 .5-0 .6-0 .5-0 .6-0 .5-0 .6-0 .5-0 .6-0 .5-0 .5-0 .6-0 .5-0 .6-0 .5-0 .6-0 .5-0 .6-0 .5-0 .6-0 .5-0 .5-0 .6-0 .5-0 .6-0 .5-0 .6-0 .5-0 .6-0 .5-0 .6-0 .5-0 .6-0 .5-0 .5-0 .6-0 .5-0 .6-0 .5-0 .6-0 .5-0 .6-0 .5-0 .6-0 .5-0 .6-0 .5-0 .5-0 .6-0 .5-0 .6-0 .5-0 .6-0 .5-0 .6-0 .5-0 .6-0 .5-0 .5-0 .6-0 .5-0 .6-0 .5-0 .6-0 .5-0 .6-0 .5-0 .6-0 .5-0 .6-0 .5-0" fill="none" stroke="#a03ee8" stroke-width="1.3" stroke-linejoin="round" clip-path="url(#c2e)"/>
<path d="M225.8,245.1l.5-.1 .6,0 .5-.1 .6,0 .5-.1 .6,0 .5-.1 .6-0 .5-.1 .6-.1 .5-0 .6-.1 .5-.1 .5-0 .6-.1 .5-.1 .6-0 .5-.1 .6-.1 .5-.1 .6-.1 .5-0 .6-.1 .5-.1 .5-.1 .6-.1 .5-.1 .6-.1 .5-.1 .6-.1 .5-.1 .6-.1 .5-.1 .6-.1 .5-.1 .6-.1 .5-.2 .5-.1 .6-.1 .5-.2 .6-.1 .5-.1 .6-.2 .5-.1 .6-.2 .5-.2 .6-.1 .5-.2 .6-.2 .5-.2 .5-.2 .6-.2 .5-.2 .6-.3 .5-.2 .6-.2 .5-.3 .6-.3 .5-.3 .6-.3 .5-.3 .5-.3 .6-.4 .5-.4 .6-.4 .5-.4 .6-.5 .5-.5 .6-.5 .5-.5 .6-.6 .5-.7 .6-.6 .5-.8 .5-.8 .6-.9 .5-.9 .6-1 .5-1.1 .6-1.2 .5-1.3 .6-1.5 .5-1.6 .6-1.7 .5-1.9 .6-2.1 .5-2.4 .5-2.5 .6-2.9 .5-3.1 .6-3.5 .5-3.8 .6-4.1 .5-4.6 .6-5 .5-5.2 .6-5.6 .5-5.7 .5-5.6 .6-5.4 .5-4.7 .6-3.9 .5-2.6 .5-1.1 .1,.4 .5,7.8 .6,11.6 .5,12.7 .6,12.6 .5,11.6 .6,10.1 .5,8.7 .5,7.1 .6,5.6 .5,4.4 .6,3.4 .5,2.6 .6,1.8 .5,1.4 .6,.9 .5,.7 .6,.5 .5,.3 .6,.2 .5,.1 .5,.1 .6,.1 .5-0 .6,.1 .5-0 .6-0 .5-0 .6-0 .5-0 .6-0 .5-0 .5-0 .6-0 .5-0 .6-0 .5-0 .6-0 .5-0 .6-0 .5-0 .6-0 .5-0 .6-0 .5-0 .5-0 .6-0 .5-0 .6-0 .5-0 .6-0 .5-0 .6-0 .5-0 .6-0 .5-0 .6-0 .5-0 .5-0 .6-0 .5-0 .6-0 .5-0 .6-0 .5-0 .6-0 .5-0 .6-0 .5-0 .5-0 .6-0 .5-0 .6-0 .5-0 .6-0 .5-0 .6-0 .5-0 .6-0 .5-0 .6-0 .5-0 .5-0 .6-0 .5-0 .6-0 .5-0 .6-0 .5-0 .6-0 .5-0 .6-0 .5-0 .6-0 .5-0 .5-0 .6-0 .5-0 .6-0 .5-0 .6-0 .5-0 .6-0 .5-0 .6-0 .5-0 .5-0 .6-0 .5-0 .6-0 .5-0 .6-0 .5-0 .6-0 .5-0 .6-0 .5-0 .6-0 .5-0 .5-0 .6-0 .5-0 .6-0 .5-0 .6-0 .5-0 .6-0 .5-0 .6-0 .5-0 .6-0 .5-0 .5-0 .6-0 .5-0 .6-0 .5-0 .6-0 .5-0 .6-0 .5-0 .6-0 .5-0 .5-0 .6-0 .5-0 .6-0 .5-0 .6-0 .5-0 .6-0 .5-0 .6-0 .5-0 .6-0 .5-0" fill="none" stroke="#7418e2" stroke-width="1.3" stroke-linejoin="round" clip-path="url(#c2e)"/>
<path d="M225.8,245.9l.5-.1 .6,0 .5,0 .6-.1 .5-0 .6-.1 .5-0 .6-0 .5-.1 .6-0 .5-.1 .6-0 .5-.1 .5-0 .6-.1 .5-0 .6-.1 .5-0 .6-.1 .5-0 .6-.1 .5-0 .6-.1 .5-0 .5-.1 .6-.1 .5-0 .6-.1 .5-.1 .6-0 .5-.1 .6-.1 .5-.1 .6-0 .5-.1 .6-.1 .5-.1 .5-.1 .6-.1 .5-0 .6-.1 .5-.1 .6-.1 .5-.1 .6-.1 .5-.2 .6-.1 .5-.1 .6-.1 .5-.1 .5-.2 .6-.1 .5-.2 .6-.1 .5-.2 .6-.1 .5-.2 .6-.2 .5-.1 .6-.2 .5-.2 .5-.2 .6-.2 .5-.3 .6-.2 .5-.3 .6-.2 .5-.3 .6-.3 .5-.4 .6-.3 .5-.4 .6-.3 .5-.4 .5-.5 .6-.5 .5-.5 .6-.5 .5-.6 .6-.6 .5-.7 .6-.7 .5-.8 .6-.9 .5-.9 .6-1.1 .5-1.1 .5-1.2 .6-1.4 .5-1.4 .6-1.7 .5-1.8 .6-1.9 .5-2.2 .6-2.4 .5-2.6 .6-2.9 .5-3.1 .5-3.4 .6-3.7 .5-3.9 .6-4.2 .5-4.2 .6-4.2 .5-4.1 .6-3.6 .5-3.1 .6-2.2 .5-1.2 .1-.1 .5,3.2 .5,6.9 .5,8.2 .6,8.5 .5,8.4 .6,7.7 .5,7 .6,6.1 .5,5.1 .6,4.3 .5,3.5 .6,2.9 .5,2.2 .6,1.7 .5,1.4 .5,1 .6,.7 .5,.6 .6,.4 .5,.3 .6,.2 .5,.2 .6,.1 .5-0 .6,.1 .5-0 .5,.1 .6-0 .5-0 .6-0 .5-0 .6-0 .5-0 .6-0 .5-0 .6-0 .5-0 .6-0 .5-0 .5-0 .6-0 .5-0 .6-0 .5-0 .6-0 .5-0 .6-0 .5-0 .6-0 .5-0 .6-0 .5-0 .5-0 .6-0 .5-0 .6-0 .5-0 .6-0 .5-0 .6-0 .5-0 .6-0 .5-0 .5-0 .6-0 .5-0 .6-0 .5-0 .6-0 .5-0 .6-0 .5-0 .6-0 .5-0 .6-0 .5-0 .5-0 .6-0 .5-0 .6-0 .5-0 .6-0 .5-0 .6-0 .5-0 .6-0 .5-0 .6-0 .5-0 .5-0 .6-0 .5-0 .6-0 .5-0 .6-0 .5-0 .6-0 .5-0 .6-0 .5-0 .5-0 .6-0 .5-0 .6-0 .5-0 .6-0 .5-0 .6-0 .5-0 .6-0 .5-0 .6-0 .5-0 .5-0 .6-0 .5-0 .6-0 .5-0 .6-0 .5-0 .6-0 .5-0 .6-0 .5-0 .6-0 .5-0 .5-0 .6-0 .5-0 .6-0 .5-0 .6-0 .5-0 .6-0 .5-0 .6-0 .5-0 .5-0 .6-0 .5-0 .6-0 .5-0 .6-0 .5-0 .6-0 .5-0 .6-0 .5-0 .6-0 .5-0" fill="none" stroke="#4b3fe6" stroke-width="1.3" stroke-linejoin="round" clip-path="url(#c2e)"/>
<path d="M225.8,246l.5,0 .6,0 .5-.1 .6,0 .5,0 .6-.1 .5,0 .6,0 .5-.1 .6-0 .5-0 .6-.1 .5-0 .5-.1 .6-0 .5-.1 .6-0 .5-0 .6-.1 .5-0 .6-.1 .5-0 .6-.1 .5-0 .5-.1 .6-.1 .5-0 .6-.1 .5-0 .6-.1 .5-.1 .6-0 .5-.1 .6-.1 .5-0 .6-.1 .5-.1 .5-0 .6-.1 .5-.1 .6-.1 .5-.1 .6-.1 .5-.1 .6-0 .5-.1 .6-.1 .5-.1 .6-.2 .5-.1 .5-.1 .6-.1 .5-.1 .6-.1 .5-.2 .6-.1 .5-.1 .6-.2 .5-.1 .6-.2 .5-.2 .5-.1 .6-.2 .5-.2 .6-.2 .5-.2 .6-.2 .5-.3 .6-.2 .5-.3 .6-.2 .5-.3 .6-.3 .5-.3 .5-.4 .6-.3 .5-.4 .6-.4 .5-.5 .6-.5 .5-.5 .6-.5 .5-.6 .6-.6 .5-.7 .6-.8 .5-.8 .5-.8 .6-1 .5-1 .6-1.1 .5-1.2 .6-1.4 .5-1.4 .6-1.6 .5-1.7 .6-1.9 .5-2.1 .5-2.3 .6-2.4 .5-2.7 .6-2.9 .5-3.1 .6-3.3 .5-3.5 .6-3.6 .5-3.7 .6-3.6 .5-3.5 .6-3.1 .5-2.6 .5-1.9 .6-1.1 .2-.2 .3,1.2 .6,4.1 .5,5.7 .6,6.5 .5,6.8 .6,6.8 .5,6.6 .6,6 .5,5.4 .6,4.8 .5,4.1 .5,3.5 .6,2.9 .5,2.4 .6,1.9 .5,1.5 .6,1.2 .5,.9 .6,.7 .5,.6 .6,.4 .5,.3 .5,.2 .6,.1 .5,.2 .6-0 .5,.1 .6-0 .5-0 .6,.1 .5-0 .6-0 .5-0 .6-0 .5-0 .5-0 .6-0 .5-0 .6-0 .5-0 .6-0 .5-0 .6-0 .5-0 .6-0 .5-0 .6-0 .5-0 .5-0 .6-0 .5-0 .6-0 .5-0 .6-0 .5-0 .6-0 .5-0 .6-0 .5-0 .5-0 .6-0 .5-0 .6-0 .5-0 .6-0 .5-0 .6-0 .5-0 .6-0 .5-0 .6-0 .5-0 .5-0 .6-0 .5-0 .6-0 .5-0 .6-0 .5-0 .6-0 .5-0 .6-0 .5-0 .6-0 .5-0 .5-0 .6-0 .5-0 .6-0 .5-0 .6-0 .5-0 .6-0 .5-0 .6-0 .5-0 .5-0 .6-0 .5-0 .6-0 .5-0 .6-0 .5-0 .6-0 .5-0 .6-0 .5-0 .6-0 .5-0 .5-0 .6-0 .5-0 .6-0 .5-0 .6-0 .5-0 .6-0 .5-0 .6-0 .5-0 .6-0 .5-0 .5-0 .6-0 .5-0 .6-0 .5-0 .6-0 .5-0 .6-0 .5-0 .6-0 .5-0 .5-0 .6-0 .5-0 .6-0 .5-0 .6-0 .5-0 .6-0 .5-0 .6-0 .5-0 .6-0 .5-0" fill="none" stroke="#2f70ea" stroke-width="1.3" stroke-linejoin="round" clip-path="url(#c2e)"/>
<path d="M225.8,245.9l.5,0 .6-.1 .5,0 .6-.1 .5-0 .6-0 .5-.1 .6-0 .5-0 .6-.1 .5-0 .6-.1 .5-0 .5-.1 .6-0 .5-.1 .6-0 .5-0 .6-.1 .5-.1 .6-0 .5-.1 .6-0 .5-.1 .5-0 .6-.1 .5-0 .6-.1 .5-.1 .6-0 .5-.1 .6-.1 .5-0 .6-.1 .5-.1 .6-.1 .5-0 .5-.1 .6-.1 .5-.1 .6-.1 .5-.1 .6-.1 .5-0 .6-.1 .5-.1 .6-.1 .5-.2 .6-.1 .5-.1 .5-.1 .6-.1 .5-.1 .6-.2 .5-.1 .6-.1 .5-.2 .6-.1 .5-.2 .6-.1 .5-.2 .5-.2 .6-.1 .5-.2 .6-.2 .5-.2 .6-.2 .5-.2 .6-.3 .5-.2 .6-.3 .5-.2 .6-.3 .5-.3 .5-.3 .6-.4 .5-.3 .6-.4 .5-.4 .6-.4 .5-.4 .6-.5 .5-.5 .6-.5 .5-.6 .6-.7 .5-.6 .5-.7 .6-.8 .5-.9 .6-.9 .5-.9 .6-1.1 .5-1.1 .6-1.3 .5-1.3 .6-1.5 .5-1.6 .5-1.7 .6-1.9 .5-2 .6-2.3 .5-2.4 .6-2.6 .5-2.8 .6-3 .5-3.3 .6-3.4 .5-3.7 .6-3.7 .5-3.9 .5-3.9 .6-3.8 .5-3.5 .6-3.2 .5-2.7 .6-1.9 .5-1.2 .3-.3 .3,.5 .5,2.9 .6,4.5 .5,5.6 .6,6.3 .5,6.7 .5,6.8 .6,6.6 .5,6.3 .6,5.9 .5,5.3 .6,4.7 .5,4.1 .6,3.6 .5,3 .6,2.5 .5,2.1 .5,1.6 .6,1.4 .5,1.1 .6,.8 .5,.6 .6,.5 .5,.4 .6,.3 .5,.2 .6,.1 .5,.1 .6,.1 .5,.1 .5-0 .6-0 .5,.1 .6-0 .5-0 .6-0 .5-0 .6-0 .5-0 .6-0 .5-0 .6-0 .5-0 .5-0 .6-0 .5-0 .6-0 .5-0 .6-0 .5-0 .6-0 .5-0 .6-0 .5-0 .5-0 .6-0 .5-0 .6-0 .5-0 .6-0 .5-0 .6-0 .5-0 .6-0 .5-0 .6-0 .5-0 .5-0 .6-0 .5-0 .6-0 .5-0 .6-0 .5-0 .6-0 .5-0 .6-0 .5-0 .6-0 .5-0 .5-0 .6-0 .5-0 .6-0 .5-0 .6-0 .5-0 .6-0 .5-0 .6-0 .5-0 .5-0 .6-0 .5-0 .6-0 .5-0 .6-0 .5-0 .6-0 .5-0 .6-0 .5-0 .6-0 .5-0 .5-0 .6-0 .5-0 .6-0 .5-0 .6-0 .5-0 .6-0 .5-0 .6-0 .5-0 .6-0 .5-0 .5-0 .6-0 .5-0 .6-0 .5-0 .6-0 .5-0 .6-0 .5-0 .6-0 .5-0 .5-0 .6-0 .5-0 .6-0 .5-0 .6-0 .5-0 .6-0 .5-0 .6-0 .5-0 .6-0 .5-0" fill="none" stroke="#1a9eea" stroke-width="1.3" stroke-linejoin="round" clip-path="url(#c2e)"/>
<path d="M225.8,245.8l.5,0 .6-.1 .5-0 .6-0 .5-.1 .6-0 .5-.1 .6-0 .5-0 .6-.1 .5-0 .6-.1 .5-0 .5-.1 .6-0 .5-.1 .6-0 .5-.1 .6-0 .5-.1 .6-0 .5-.1 .6-0 .5-.1 .5-0 .6-.1 .5-.1 .6-0 .5-.1 .6-.1 .5-0 .6-.1 .5-.1 .6-0 .5-.1 .6-.1 .5-.1 .5-.1 .6-0 .5-.1 .6-.1 .5-.1 .6-.1 .5-.1 .6-.1 .5-.1 .6-.1 .5-.1 .6-.1 .5-.1 .5-.1 .6-.2 .5-.1 .6-.1 .5-.1 .6-.2 .5-.1 .6-.2 .5-.1 .6-.2 .5-.1 .5-.2 .6-.2 .5-.1 .6-.2 .5-.2 .6-.2 .5-.2 .6-.2 .5-.3 .6-.2 .5-.2 .6-.3 .5-.3 .5-.3 .6-.3 .5-.3 .6-.3 .5-.3 .6-.4 .5-.4 .6-.4 .5-.5 .6-.4 .5-.5 .6-.6 .5-.5 .5-.6 .6-.7 .5-.7 .6-.7 .5-.8 .6-.9 .5-.9 .6-1 .5-1.1 .6-1.1 .5-1.3 .5-1.3 .6-1.5 .5-1.6 .6-1.7 .5-1.8 .6-2.1 .5-2.1 .6-2.4 .5-2.5 .6-2.7 .5-3 .6-3.1 .5-3.3 .5-3.5 .6-3.7 .5-3.8 .6-4 .5-3.9 .6-3.8 .5-3.7 .6-3.4 .5-3 .6-2.4 .5-1.7 .6-.9 .1-.1 .4,.7 .5,2.4 .6,3.8 .5,4.9 .6,5.7 .5,6.2 .6,6.4 .5,6.6 .6,6.4 .5,6.1 .6,5.8 .5,5.3 .5,4.8 .6,4.3 .5,3.8 .6,3.3 .5,2.8 .6,2.3 .5,2 .6,1.6 .5,1.3 .6,1 .5,.9 .6,.6 .5,.6 .5,.4 .6,.3 .5,.2 .6,.2 .5,.1 .6,.1 .5,.1 .6,.1 .5-0 .6,.1 .5-0 .6-0 .5-0 .5-0 .6,.1 .5-0 .6-0 .5-0 .6-0 .5-0 .6-0 .5-0 .6-0 .5-0 .5-0 .6,.1 .5-0 .6-0 .5-0 .6-0 .5-0 .6-0 .5-0 .6-0 .5-0 .6-0 .5-0 .5-0 .6-0 .5-0 .6-0 .5-0 .6-0 .5-0 .6-0 .5-0 .6-0 .5-0 .6-0 .5-0 .5-0 .6-0 .5-0 .6-0 .5-0 .6-0 .5-0 .6-0 .5-0 .6-0 .5-0 .5-0 .6,.1 .5-0 .6-0 .5-0 .6-0 .5-0 .6-0 .5-0 .6-0 .5-0 .6-0 .5-0 .5-0 .6-0 .5-0 .6-0 .5-0 .6-0 .5-0 .6-0 .5-0 .6-0 .5-0 .6-0 .5-0 .5-0 .6-0 .5-0 .6-0 .5-0 .6-0 .5-0 .6-0 .5-0 .6-0 .5-0 .5-0 .6-0 .5-0 .6-0 .5-0 .6-0 .5-0 .6-0 .5-0 .6-0 .5-0 .6-0 .5-0" fill="none" stroke="#12d6ea" stroke-width="1.3" stroke-linejoin="round" clip-path="url(#c2e)"/>
<path d="M225.8,245.8l.5,0 .6-.1 .5-0 .6-0 .5-.1 .6-0 .5-0 .6-.1 .5-0 .6-.1 .5-0 .6-0 .5-.1 .5-0 .6-.1 .5-0 .6-.1 .5-0 .6-.1 .5-0 .6-.1 .5-0 .6-.1 .5-0 .5-.1 .6-.1 .5-0 .6-.1 .5-0 .6-.1 .5-.1 .6-0 .5-.1 .6-.1 .5-.1 .6-0 .5-.1 .5-.1 .6-.1 .5-0 .6-.1 .5-.1 .6-.1 .5-.1 .6-.1 .5-.1 .6-.1 .5-.1 .6-.1 .5-.1 .5-.1 .6-.1 .5-.2 .6-.1 .5-.1 .6-.1 .5-.2 .6-.1 .5-.1 .6-.2 .5-.1 .5-.2 .6-.2 .5-.1 .6-.2 .5-.2 .6-.2 .5-.2 .6-.2 .5-.2 .6-.2 .5-.3 .6-.2 .5-.2 .5-.3 .6-.3 .5-.3 .6-.3 .5-.3 .6-.3 .5-.4 .6-.4 .5-.3 .6-.5 .5-.4 .6-.5 .5-.5 .5-.5 .6-.6 .5-.6 .6-.6 .5-.7 .6-.7 .5-.8 .6-.9 .5-.9 .6-1 .5-1.1 .5-1.1 .6-1.2 .5-1.4 .6-1.4 .5-1.6 .6-1.6 .5-1.8 .6-2 .5-2 .6-2.3 .5-2.4 .6-2.5 .5-2.8 .5-2.9 .6-3.1 .5-3.3 .6-3.4 .5-3.5 .6-3.6 .5-3.7 .6-3.6 .5-3.5 .6-3.3 .5-3 .6-2.6 .5-2.1 .5-1.4 .6-.7 .1-.1 .4,.5 .6,1.8 .5,2.9 .6,3.9 .5,4.6 .6,5.3 .5,5.7 .6,5.9 .5,5.9 .5,5.9 .6,5.7 .5,5.5 .6,5 .5,4.6 .6,4.2 .5,3.7 .6,3.3 .5,2.8 .6,2.4 .5,2 .6,1.7 .5,1.4 .5,1.1 .6,.9 .5,.7 .6,.6 .5,.5 .6,.3 .5,.3 .6,.2 .5,.1 .6,.2 .5-0 .6,.1 .5,.1 .5-0 .6-0 .5,.1 .6-0 .5-0 .6-0 .5-0 .6,.1 .5-0 .6-0 .5-0 .5-0 .6-0 .5-0 .6-0 .5-0 .6-0 .5-0 .6-0 .5-0 .6,.1 .5-0 .6-0 .5-0 .5-0 .6-0 .5-0 .6-0 .5-0 .6-0 .5-0 .6-0 .5-0 .6-0 .5-0 .6-0 .5-0 .5-0 .6-0 .5-0 .6-0 .5-0 .6-0 .5-0 .6-0 .5-0 .6-0 .5-0 .5-0 .6-0 .5-0 .6-0 .5-0 .6-0 .5-0 .6-0 .5-0 .6-0 .5-0 .6-0 .5-0 .5-0 .6,.1 .5-0 .6-0 .5-0 .6-0 .5-0 .6-0 .5-0 .6-0 .5-0 .6-0 .5-0 .5-0 .6-0 .5-0 .6-0 .5-0 .6-0 .5-0 .6-0 .5-0 .6-0 .5-0 .5-0 .6-0 .5-0 .6-0 .5-0 .6-0 .5-0 .6-0 .5-0 .6-0 .5-0 .6-0 .5-0" fill="none" stroke="#10dcb0" stroke-width="1.3" stroke-linejoin="round" clip-path="url(#c2e)"/>
<path d="M225.8,245.9l.5-.1 .6,0 .5,0 .6-.1 .5-0 .6-.1 .5-0 .6-0 .5-.1 .6-0 .5-0 .6-.1 .5-0 .5-.1 .6-0 .5-.1 .6-0 .5-.1 .6-0 .5-0 .6-.1 .5-.1 .6-0 .5-.1 .5-0 .6-.1 .5-0 .6-.1 .5-0 .6-.1 .5-.1 .6-0 .5-.1 .6-.1 .5-0 .6-.1 .5-.1 .5-.1 .6-0 .5-.1 .6-.1 .5-.1 .6-.1 .5-.1 .6-0 .5-.1 .6-.1 .5-.1 .6-.1 .5-.1 .5-.1 .6-.2 .5-.1 .6-.1 .5-.1 .6-.1 .5-.2 .6-.1 .5-.1 .6-.2 .5-.1 .5-.2 .6-.1 .5-.2 .6-.1 .5-.2 .6-.2 .5-.2 .6-.2 .5-.2 .6-.2 .5-.2 .6-.2 .5-.3 .5-.2 .6-.3 .5-.2 .6-.3 .5-.3 .6-.3 .5-.3 .6-.4 .5-.3 .6-.4 .5-.4 .6-.5 .5-.4 .5-.5 .6-.5 .5-.5 .6-.6 .5-.6 .6-.7 .5-.7 .6-.7 .5-.8 .6-.9 .5-.9 .5-.9 .6-1.1 .5-1.1 .6-1.2 .5-1.3 .6-1.3 .5-1.5 .6-1.6 .5-1.6 .6-1.8 .5-1.9 .6-2.1 .5-2.1 .5-2.3 .6-2.4 .5-2.5 .6-2.7 .5-2.8 .6-2.8 .5-3 .6-3 .5-3 .6-3 .5-2.9 .6-2.7 .5-2.5 .5-2.3 .6-1.9 .5-1.5 .6-1 .5-.6 .1-0 .5,.4 .5,1.3 .6,2.1 .5,2.9 .6,3.4 .5,3.8 .5,4.3 .6,4.5 .5,4.6 .6,4.7 .5,4.7 .6,4.6 .5,4.4 .6,4.1 .5,3.9 .6,3.7 .5,3.3 .6,3 .5,2.7 .5,2.4 .6,2.1 .5,1.8 .6,1.6 .5,1.4 .6,1.2 .5,.9 .6,.9 .5,.6 .6,.6 .5,.5 .6,.3 .5,.4 .5,.2 .6,.2 .5,.2 .6,.1 .5,.1 .6,.1 .5,.1 .6-0 .5,.1 .6-0 .5,.1 .5-0 .6-0 .5,.1 .6-0 .5-0 .6-0 .5,.1 .6-0 .5-0 .6-0 .5-0 .6-0 .5-0 .5,.1 .6-0 .5-0 .6-0 .5-0 .6-0 .5-0 .6-0 .5-0 .6-0 .5-0 .6,.1 .5-0 .5-0 .6-0 .5-0 .6-0 .5-0 .6-0 .5-0 .6-0 .5-0 .6-0 .5-0 .5-0 .6-0 .5-0 .6-0 .5-0 .6-0 .5-0 .6,.1 .5-0 .6-0 .5-0 .6-0 .5-0 .5-0 .6-0 .5-0 .6-0 .5-0 .6-0 .5-0 .6-0 .5-0 .6-0 .5-0 .6-0 .5-0 .5-0 .6-0 .5-0 .6-0 .5-0 .6-0 .5-0 .6-0 .5-0 .6-0 .5-0 .5-0 .6-0 .5-0 .6-0 .5-0 .6-0 .5-0 .6-0 .5-0 .6-0 .5-0 .6-0 .5-0" fill="none" stroke="#1cdc3c" stroke-width="1.3" stroke-linejoin="round" clip-path="url(#c2e)"/>
<path d="M225.8,246.1l.5-.1 .6,0 .5,0 .6,0 .5-.1 .6,0 .5,0 .6-.1 .5,0 .6,0 .5-.1 .6-0 .5-.1 .5-0 .6-0 .5-.1 .6-0 .5-0 .6-.1 .5-0 .6-.1 .5-0 .6-.1 .5-0 .5-.1 .6-0 .5-.1 .6-0 .5-.1 .6-0 .5-.1 .6-0 .5-.1 .6-.1 .5-0 .6-.1 .5-0 .5-.1 .6-.1 .5-0 .6-.1 .5-.1 .6-.1 .5-0 .6-.1 .5-.1 .6-.1 .5-.1 .6-.1 .5-.1 .5-0 .6-.1 .5-.1 .6-.1 .5-.1 .6-.2 .5-.1 .6-.1 .5-.1 .6-.1 .5-.2 .5-.1 .6-.1 .5-.2 .6-.1 .5-.2 .6-.1 .5-.2 .6-.2 .5-.1 .6-.2 .5-.2 .6-.2 .5-.2 .5-.2 .6-.3 .5-.2 .6-.2 .5-.3 .6-.3 .5-.3 .6-.3 .5-.3 .6-.3 .5-.4 .6-.3 .5-.4 .5-.5 .6-.4 .5-.5 .6-.5 .5-.5 .6-.5 .5-.6 .6-.7 .5-.6 .6-.7 .5-.8 .5-.8 .6-.8 .5-.9 .6-1 .5-1 .6-1.1 .5-1.2 .6-1.2 .5-1.3 .6-1.4 .5-1.5 .6-1.5 .5-1.6 .5-1.7 .6-1.8 .5-1.9 .6-2 .5-2 .6-2.1 .5-2.2 .6-2.2 .5-2.2 .6-2.2 .5-2.2 .6-2.1 .5-2.1 .5-1.8 .6-1.7 .5-1.5 .6-1.2 .5-1 .6-.6 .4-.2 .1-0 .6,.4 .5,1 .6,1.6 .5,2.1 .5,2.5 .6,2.9 .5,3.2 .6,3.4 .5,3.6 .6,3.7 .5,3.7 .6,3.6 .5,3.6 .6,3.4 .5,3.3 .6,3.1 .5,2.8 .5,2.6 .6,2.4 .5,2.1 .6,1.8 .5,1.7 .6,1.4 .5,1.3 .6,1 .5,.9 .6,.8 .5,.6 .6,.5 .5,.5 .5,.3 .6,.3 .5,.2 .6,.2 .5,.2 .6,.1 .5,.1 .6,.1 .5,.1 .6-0 .5,.1 .5-0 .6-0 .5,.1 .6-0 .5-0 .6-0 .5-0 .6,.1 .5-0 .6-0 .5-0 .6-0 .5-0 .5,.1 .6-0 .5-0 .6-0 .5-0 .6-0 .5-0 .6-0 .5-0 .6-0 .5-0 .6,.1 .5-0 .5-0 .6-0 .5-0 .6-0 .5-0 .6-0 .5-0 .6-0 .5-0 .6-0 .5-0 .5-0 .6-0 .5-0 .6-0 .5-0 .6-0 .5-0 .6,.1 .5-0 .6-0 .5-0 .6-0 .5-0 .5-0 .6-0 .5-0 .6-0 .5-0 .6-0 .5-0 .6-0 .5-0 .6-0 .5-0 .6-0 .5-0 .5-0 .6-0 .5-0 .6-0 .5-0 .6-0 .5-0 .6-0 .5-0 .6-0 .5-0 .5-0 .6-0 .5-0 .6-0 .5-0 .6-0 .5-0 .6-0 .5-0 .6-0 .5-0 .6-0 .5-0" fill="none" stroke="#86dc1c" stroke-width="1.3" stroke-linejoin="round" clip-path="url(#c2e)"/>
<path d="M225.8,246.4l.5,0 .6-.1 .5,0 .6,0 .5,0 .6-.1 .5-0 .6-0 .5-.1 .6-0 .5-0 .6-0 .5-.1 .5-0 .6-0 .5-.1 .6-0 .5-0 .6-.1 .5-0 .6-0 .5-.1 .6-0 .5-0 .5-.1 .6-0 .5-.1 .6-0 .5-0 .6-.1 .5-0 .6-.1 .5-0 .6-.1 .5-0 .6-.1 .5-0 .5-.1 .6-0 .5-.1 .6-.1 .5-0 .6-.1 .5-0 .6-.1 .5-.1 .6-0 .5-.1 .6-.1 .5-.1 .5-0 .6-.1 .5-.1 .6-.1 .5-.1 .6-0 .5-.1 .6-.1 .5-.1 .6-.1 .5-.1 .5-.1 .6-.2 .5-.1 .6-.1 .5-.1 .6-.1 .5-.2 .6-.1 .5-.2 .6-.1 .5-.2 .6-.1 .5-.2 .5-.2 .6-.2 .5-.2 .6-.2 .5-.2 .6-.2 .5-.2 .6-.3 .5-.2 .6-.3 .5-.3 .6-.3 .5-.3 .5-.4 .6-.3 .5-.4 .6-.4 .5-.4 .6-.4 .5-.5 .6-.5 .5-.5 .6-.6 .5-.5 .5-.7 .6-.6 .5-.7 .6-.7 .5-.8 .6-.8 .5-.9 .6-.9 .5-.9 .6-1 .5-1.1 .6-1.1 .5-1.1 .5-1.2 .6-1.3 .5-1.3 .6-1.4 .5-1.4 .6-1.5 .5-1.4 .6-1.6 .5-1.5 .6-1.5 .5-1.5 .6-1.5 .5-1.4 .5-1.4 .6-1.3 .5-1.1 .6-1 .5-.8 .6-.7 .5-.5 .6-.2-0-0 .5,.2 .6,.5 .5,.8 .5,1.1 .6,1.5 .5,1.6 .6,1.9 .5,2.1 .6,2.2 .5,2.4 .6,2.4 .5,2.4 .6,2.4 .5,2.4 .6,2.3 .5,2.3 .5,2.1 .6,2.1 .5,1.9 .6,1.8 .5,1.6 .6,1.5 .5,1.4 .6,1.3 .5,1.1 .6,1 .5,.9 .6,.7 .5,.7 .5,.6 .6,.5 .5,.5 .6,.3 .5,.3 .6,.3 .5,.2 .6,.2 .5,.2 .6,.1 .5,.1 .5,.1 .6,.1 .5,.1 .6-0 .5,.1 .6-0 .5,.1 .6-0 .5,.1 .6-0 .5-0 .6-0 .5-0 .5,.1 .6-0 .5-0 .6-0 .5-0 .6,.1 .5-0 .6-0 .5-0 .6-0 .5-0 .6-0 .5-0 .5-0 .6,.1 .5-0 .6-0 .5-0 .6-0 .5-0 .6-0 .5-0 .6-0 .5-0 .5-0 .6-0 .5,.1 .6-0 .5-0 .6-0 .5-0 .6-0 .5-0 .6-0 .5-0 .6-0 .5-0 .5-0 .6-0 .5-0 .6-0 .5-0 .6-0 .5-0 .6-0 .5-0 .6-0 .5-0 .6-0 .5-0 .5,.1 .6-0 .5-0 .6-0 .5-0 .6-0 .5-0 .6-0 .5-0 .6-0 .5-0 .5-0 .6-0 .5-0 .6-0 .5-0 .6-0 .5-0 .6-0 .5-0 .6-0 .5-0 .6-0 .5-0" fill="none" stroke="#f0dc18" stroke-width="1.3" stroke-linejoin="round" clip-path="url(#c2e)"/>
<path d="M225.8,246.6l.5-.1 .6,0 .5,0 .6,0 .5,0 .6-.1 .5,0 .6,0 .5,0 .6-.1 .5,0 .6,0 .5,0 .5-.1 .6-0 .5-0 .6-0 .5-.1 .6-0 .5-0 .6-.1 .5-0 .6-0 .5-.1 .5-0 .6-0 .5-.1 .6-0 .5-0 .6-.1 .5-0 .6-.1 .5-0 .6-0 .5-.1 .6-0 .5-.1 .5-0 .6-.1 .5-0 .6-.1 .5-0 .6-.1 .5-0 .6-.1 .5-0 .6-.1 .5-.1 .6-0 .5-.1 .5-0 .6-.1 .5-.1 .6-.1 .5-0 .6-.1 .5-.1 .6-.1 .5-.1 .6-0 .5-.1 .5-.1 .6-.1 .5-.1 .6-.1 .5-.1 .6-.2 .5-.1 .6-.1 .5-.1 .6-.2 .5-.1 .6-.1 .5-.2 .5-.1 .6-.2 .5-.2 .6-.2 .5-.1 .6-.2 .5-.2 .6-.3 .5-.2 .6-.2 .5-.3 .6-.2 .5-.3 .5-.3 .6-.3 .5-.3 .6-.4 .5-.3 .6-.4 .5-.4 .6-.4 .5-.5 .6-.5 .5-.5 .5-.5 .6-.5 .5-.6 .6-.6 .5-.6 .6-.7 .5-.7 .6-.7 .5-.8 .6-.8 .5-.9 .6-.8 .5-1 .5-.9 .6-1 .5-1 .6-1 .5-1.1 .6-1.1 .5-1.1 .6-1.1 .5-1.1 .6-1.1 .5-1 .6-1.1 .5-1 .5-.9 .6-.9 .5-.7 .6-.7 .5-.6 .6-.4 .5-.3 .6-.2-0-0 .5,.1 .6,.3 .5,.5 .5,.8 .6,.9 .5,1.1 .6,1.2 .5,1.4 .6,1.4 .5,1.6 .6,1.6 .5,1.6 .6,1.7 .5,1.6 .6,1.7 .5,1.6 .5,1.6 .6,1.5 .5,1.5 .6,1.4 .5,1.4 .6,1.2 .5,1.2 .6,1.1 .5,1 .6,.9 .5,.9 .6,.8 .5,.7 .5,.6 .6,.5 .5,.5 .6,.5 .5,.4 .6,.3 .5,.3 .6,.3 .5,.2 .6,.2 .5,.2 .5,.1 .6,.2 .5,.1 .6,.1 .5,.1 .6-0 .5,.1 .6,.1 .5-0 .6,.1 .5-0 .6-0 .5,.1 .5-0 .6-0 .5-0 .6,.1 .5-0 .6-0 .5-0 .6,.1 .5-0 .6-0 .5-0 .6-0 .5-0 .5-0 .6,.1 .5-0 .6-0 .5-0 .6-0 .5-0 .6-0 .5-0 .6-0 .5-0 .5,.1 .6-0 .5-0 .6-0 .5-0 .6-0 .5-0 .6-0 .5-0 .6-0 .5-0 .6-0 .5-0 .5-0 .6,.1 .5-0 .6-0 .5-0 .6-0 .5-0 .6-0 .5-0 .6-0 .5-0 .6-0 .5-0 .5-0 .6-0 .5-0 .6-0 .5-0 .6-0 .5-0 .6-0 .5-0 .6-0 .5-0 .5-0 .6-0 .5-0 .6-0 .5-0 .6,.1 .5-0 .6-0 .5-0 .6-0 .5-0 .6-0 .5-0" fill="none" stroke="#f8a424" stroke-width="1.3" stroke-linejoin="round" clip-path="url(#c2e)"/>
<path d="M225.8,246.7l.5,0 .6,0 .5,0 .6,0 .5-.1 .6,0 .5,0 .6,0 .5,0 .6-.1 .5,0 .6,0 .5,0 .5,0 .6-.1 .5,0 .6,0 .5,0 .6-.1 .5,0 .6,0 .5,0 .6-.1 .5-0 .5-0 .6-.1 .5-0 .6-0 .5-.1 .6-0 .5-0 .6-.1 .5-0 .6-0 .5-.1 .6-0 .5-0 .5-.1 .6-0 .5-.1 .6-0 .5-0 .6-.1 .5-0 .6-.1 .5-0 .6-.1 .5-0 .6-.1 .5-0 .5-.1 .6-.1 .5-0 .6-.1 .5-0 .6-.1 .5-.1 .6-.1 .5-0 .6-.1 .5-.1 .5-.1 .6-0 .5-.1 .6-.1 .5-.1 .6-.1 .5-.1 .6-.1 .5-.1 .6-.1 .5-.2 .6-.1 .5-.1 .5-.1 .6-.2 .5-.1 .6-.2 .5-.2 .6-.1 .5-.2 .6-.2 .5-.2 .6-.2 .5-.2 .6-.2 .5-.3 .5-.2 .6-.3 .5-.3 .6-.2 .5-.3 .6-.4 .5-.3 .6-.4 .5-.3 .6-.4 .5-.4 .5-.5 .6-.4 .5-.5 .6-.5 .5-.5 .6-.5 .5-.6 .6-.6 .5-.6 .6-.6 .5-.7 .6-.7 .5-.7 .5-.7 .6-.7 .5-.8 .6-.8 .5-.8 .6-.8 .5-.8 .6-.8 .5-.7 .6-.8 .5-.8 .6-.7 .5-.7 .5-.6 .6-.6 .5-.5 .6-.5 .5-.4 .6-.3 .5-.2 .6-.1-0-0 .5,.1 .6,.2 .5,.3 .5,.5 .6,.6 .5,.7 .6,.8 .5,.9 .6,.9 .5,1.1 .6,1 .5,1.2 .6,1.1 .5,1.2 .6,1.1 .5,1.2 .5,1.1 .6,1.1 .5,1.1 .6,1.1 .5,1 .6,1 .5,.9 .6,.9 .5,.8 .6,.8 .5,.7 .6,.7 .5,.6 .5,.6 .6,.6 .5,.4 .6,.5 .5,.4 .6,.3 .5,.4 .6,.3 .5,.2 .6,.3 .5,.2 .5,.2 .6,.1 .5,.2 .6,.1 .5,.1 .6,.1 .5,.1 .6,.1 .5,.1 .6-0 .5,.1 .6,.1 .5-0 .5-0 .6,.1 .5-0 .6-0 .5,.1 .6-0 .5-0 .6-0 .5,.1 .6-0 .5-0 .6-0 .5-0 .5,.1 .6-0 .5-0 .6-0 .5-0 .6-0 .5-0 .6,.1 .5-0 .6-0 .5-0 .5-0 .6-0 .5-0 .6-0 .5-0 .6-0 .5-0 .6,.1 .5-0 .6-0 .5-0 .6-0 .5-0 .5-0 .6-0 .5-0 .6-0 .5-0 .6-0 .5-0 .6-0 .5-0 .6-0 .5,.1 .6-0 .5-0 .5-0 .6-0 .5-0 .6-0 .5-0 .6-0 .5-0 .6-0 .5-0 .6-0 .5-0 .5-0 .6-0 .5-0 .6-0 .5-0 .6-0 .5-0 .6-0 .5-0 .6-0 .5-0 .6-0 .5-0" fill="none" stroke="#f8702c" stroke-width="1.3" stroke-linejoin="round" clip-path="url(#c2e)"/>
<path d="M225.8,247l.5,0 .6,0 .5,0 .6,0 .5-.1 .6,0 .5,0 .6,0 .5,0 .6,0 .5,0 .6-.1 .5,0 .5,0 .6,0 .5,0 .6,0 .5-.1 .6-0 .5-0 .6-0 .5-0 .6-.1 .5-0 .5-0 .6-0 .5-0 .6-.1 .5-0 .6-0 .5-0 .6-.1 .5-0 .6-0 .5-0 .6-.1 .5-0 .5-0 .6-.1 .5-0 .6-0 .5-.1 .6-0 .5-0 .6-.1 .5-0 .6-0 .5-.1 .6-0 .5-.1 .5-0 .6-0 .5-.1 .6-0 .5-.1 .6-0 .5-.1 .6-0 .5-.1 .6-0 .5-.1 .5-.1 .6-0 .5-.1 .6-.1 .5-0 .6-.1 .5-.1 .6-.1 .5-0 .6-.1 .5-.1 .6-.1 .5-.1 .5-.1 .6-.1 .5-.1 .6-.1 .5-.2 .6-.1 .5-.1 .6-.2 .5-.1 .6-.2 .5-.1 .6-.2 .5-.2 .5-.1 .6-.2 .5-.2 .6-.2 .5-.3 .6-.2 .5-.2 .6-.3 .5-.3 .6-.2 .5-.3 .5-.3 .6-.3 .5-.4 .6-.3 .5-.4 .6-.3 .5-.4 .6-.4 .5-.4 .6-.4 .5-.5 .6-.4 .5-.5 .5-.4 .6-.5 .5-.5 .6-.5 .5-.5 .6-.5 .5-.5 .6-.5 .5-.5 .6-.5 .5-.4 .6-.5 .5-.4 .5-.4 .6-.3 .5-.3 .6-.3 .5-.2 .6-.2 .5-.1 .6-.1-0-0 .5-0 .6,.2 .5,.1 .5,.3 .6,.4 .5,.4 .6,.4 .5,.5 .6,.6 .5,.6 .6,.6 .5,.7 .6,.7 .5,.7 .6,.7 .5,.7 .5,.7 .6,.7 .5,.6 .6,.7 .5,.7 .6,.6 .5,.6 .6,.6 .5,.6 .6,.5 .5,.5 .6,.5 .5,.5 .5,.4 .6,.4 .5,.4 .6,.3 .5,.3 .6,.3 .5,.3 .6,.2 .5,.3 .6,.2 .5,.2 .5,.1 .6,.2 .5,.1 .6,.2 .5,.1 .6,.1 .5,.1 .6,.1 .5-0 .6,.1 .5,.1 .6,0 .5,.1 .5,0 .6,.1 .5,0 .6,0 .5,.1 .6,0 .5,0 .6,.1 .5,0 .6,0 .5,0 .6,0 .5,.1 .5,0 .6,0 .5,0 .6,0 .5,0 .6,0 .5,.1 .6,0 .5,0 .6,0 .5,0 .5,0 .6,0 .5,0 .6,0 .5,0 .6,.1 .5,0 .6,0 .5,0 .6,0 .5,0 .6,0 .5,0 .5,0 .6,0 .5,0 .6,0 .5,0 .6,0 .5,0 .6,0 .5,.1 .6,0 .5,0 .6,0 .5,0 .5,0 .6,0 .5,0 .6,0 .5,0 .6,0 .5,0 .6,0 .5,0 .6,0 .5,0 .5,0 .6,0 .5,0 .6,0 .5,0 .6,0 .5,0 .6,0 .5,0 .6,0 .5,0 .6,0 .5,0" fill="none" stroke="#f0302c" stroke-width="1.3" stroke-linejoin="round" clip-path="url(#c2e)"/>
<path d="M225.8,378.2l.5-.1 .6,0 .5,0 .6,0 .5,0 .6,0 .5-.1 .6,0 .5,0 .6,0 .5,0 .6,0 .5-.1 .5,0 .6,0 .5,0 .6-.1 .5,0 .6,0 .5,0 .6-.1 .5,0 .6,0 .5,0 .5-.1 .6,0 .5,0 .6-.1 .5,0 .6,0 .5-.1 .6,0 .5-.1 .6,0 .5,0 .6-.1 .5,0 .5-.1 .6,0 .5-.1 .6-.1 .5,0 .6-.1 .5-.1 .6,0 .5-.1 .6-.1 .5-.1 .6-.1 .5-.1 .5-.1 .6-.1 .5-.1 .6-.2 .5-.1 .6-.2 .5-.2 .6-.2 .5-.2 .6-.3 .5-.3 .5-.3 .6-.4 .5-.4 .6-.5 .5-.5 .6-.7 .5-.7 .6-.8 .5-.8 .6-1.1 .5-1.1 .6-1.2 .5-1.4 .5-1.6 .6-1.7 .5-2 .6-2.1 .5-2.3 .6-2.5 .5-2.7 .6-3 .5-3.1 .6-3.4 .5-3.6 .6-3.8 .5-4 .5-4.2 .6-4.3 .5-4.5 .6-4.5 .5-4.6 .6-4.7 .5-4.5 .6-4.5 .5-4.3 .6-4.1 .5-3.8 .5-3.3 .6-2.9 .5-2.4 .6-1.7 .5-1.1 .5-.3 .1,0 .5,1.3 .6,2.7 .5,3.8 .6,4.7 .5,5.4 .6,6 .5,6.3 .5,6.5 .6,6.6 .5,6.4 .6,6.3 .5,6 .6,5.6 .5,5.3 .6,4.9 .5,4.4 .6,3.9 .5,3.6 .6,3.1 .5,2.7 .5,2.4 .6,2.1 .5,1.7 .6,1.5 .5,1.2 .6,1 .5,.9 .6,.7 .5,.5 .6,.5 .5,.4 .5,.2 .6,.3 .5,.2 .6,.1 .5,.1 .6,.1 .5,.1 .6,.1 .5,0 .6,.1 .5,0 .6,0 .5,.1 .5,0 .6,0 .5,0 .6,0 .5,0 .6,0 .5,.1 .6,0 .5,0 .6,0 .5,0 .6,0 .5,0 .5,0 .6,0 .5,0 .6,0 .5,0 .6,0 .5,0 .6,0 .5,.1 .6,0 .5,0 .5,0 .6,0 .5,0 .6,0 .5,0 .6,0 .5,0 .6,0 .5,0 .6,0 .5,0 .6,0 .5,0 .5,0 .6,0 .5,0 .6,0 .5,0 .6,0 .5,0 .6,0 .5,0 .6,0 .5,0 .6,0 .5,0 .5,0 .6,0 .5,0 .6,0 .5,0 .6,0 .5,0 .6,0 .5,0 .6,0 .5,0 .5,0 .6,0 .5,0 .6,0 .5,0 .6,0 .5,0 .6,0 .5,0 .6,.1 .5,0 .6,0 .5,0 .5,0 .6,0 .5,0 .6,0 .5,0 .6,0 .5,0 .6,0 .5,0 .6,0 .5,0 .6,0 .5,0 .5,0 .6,0 .5,0 .6,0 .5,0 .6,0 .5,0 .6,0 .5,0 .6,0 .5,0 .5,0 .6,0 .5,0 .6,0 .5,0 .6,0 .5,0 .6,0 .5,0 .6,0 .5,0 .6,0 .5,0" fill="none" stroke="#a03ee8" stroke-width="1.3" stroke-linejoin="round" clip-path="url(#c2f)"/>
<path d="M225.8,378.2l.5,0 .6,0 .5,0 .6,0 .5-.1 .6,0 .5,0 .6,0 .5,0 .6,0 .5-.1 .6,0 .5,0 .5,0 .6,0 .5-.1 .6,0 .5,0 .6,0 .5,0 .6-.1 .5,0 .6,0 .5,0 .5-.1 .6,0 .5,0 .6-.1 .5,0 .6,0 .5,0 .6-.1 .5,0 .6-.1 .5,0 .6,0 .5-.1 .5,0 .6-.1 .5,0 .6-.1 .5,0 .6-.1 .5,0 .6-.1 .5,0 .6-.1 .5-.1 .6-.1 .5,0 .5-.1 .6-.1 .5-.1 .6-.1 .5-.1 .6-.1 .5-.2 .6-.1 .5-.2 .6-.2 .5-.1 .5-.3 .6-.2 .5-.3 .6-.3 .5-.3 .6-.4 .5-.5 .6-.5 .5-.6 .6-.6 .5-.7 .6-.9 .5-.9 .5-1 .6-1.2 .5-1.3 .6-1.5 .5-1.6 .6-1.8 .5-2 .6-2.2 .5-2.4 .6-2.6 .5-2.8 .6-3 .5-3.3 .5-3.4 .6-3.7 .5-3.9 .6-4.1 .5-4.2 .6-4.4 .5-4.5 .6-4.6 .5-4.6 .6-4.6 .5-4.6 .5-4.4 .6-4.3 .5-4 .6-3.6 .5-3.2 .6-2.8 .5-2.1 .6-1.6 .5-.8 .3-.1 .3,.3 .5,1.7 .6,3.1 .5,4.2 .5,5 .6,5.6 .5,6.2 .6,6.4 .5,6.5 .6,6.6 .5,6.4 .6,6.2 .5,5.9 .6,5.6 .5,5.1 .6,4.7 .5,4.3 .5,3.8 .6,3.4 .5,3 .6,2.6 .5,2.3 .6,1.9 .5,1.7 .6,1.4 .5,1.1 .6,1 .5,.8 .5,.6 .6,.6 .5,.4 .6,.4 .5,.2 .6,.3 .5,.1 .6,.2 .5,.1 .6,.1 .5,0 .6,.1 .5,0 .5,.1 .6,0 .5,0 .6,.1 .5,0 .6,0 .5,0 .6,0 .5,0 .6,0 .5,.1 .6,0 .5,0 .5,0 .6,0 .5,0 .6,0 .5,0 .6,0 .5,0 .6,0 .5,0 .6,0 .5,0 .5,0 .6,.1 .5,0 .6,0 .5,0 .6,0 .5,0 .6,0 .5,0 .6,0 .5,0 .6,0 .5,0 .5,0 .6,0 .5,0 .6,0 .5,0 .6,0 .5,0 .6,0 .5,0 .6,0 .5,0 .6,0 .5,0 .5,0 .6,0 .5,0 .6,0 .5,0 .6,0 .5,0 .6,0 .5,0 .6,0 .5,0 .5,0 .6,0 .5,0 .6,0 .5,0 .6,0 .5,0 .6,0 .5,0 .6,0 .5,0 .6,0 .5,0 .5,.1 .6,0 .5,0 .6,0 .5,0 .6,0 .5,0 .6,0 .5,0 .6,0 .5,0 .6,0 .5,0 .5,0 .6,0 .5,0 .6,0 .5,0 .6,0 .5,0 .6,0 .5,0 .6,0 .5,0 .5,0 .6,0 .5,0 .6,0 .5,0 .6,0 .5,0 .6,0 .5,0 .6,0 .5,0 .6,0 .5,0" fill="none" stroke="#7418e2" stroke-width="1.3" stroke-linejoin="round" clip-path="url(#c2f)"/>
<path d="M225.8,378.2l.5,0 .6,0 .5,0 .6,0 .5,0 .6-.1 .5,0 .6,0 .5,0 .6,0 .5,0 .6-.1 .5,0 .5,0 .6,0 .5,0 .6,0 .5-.1 .6,0 .5,0 .6,0 .5,0 .6-.1 .5,0 .5,0 .6,0 .5-.1 .6,0 .5,0 .6-.1 .5,0 .6,0 .5-.1 .6,0 .5,0 .6-.1 .5,0 .5,0 .6-.1 .5,0 .6-.1 .5,0 .6-.1 .5,0 .6-.1 .5,0 .6-.1 .5,0 .6-.1 .5-.1 .5,0 .6-.1 .5-.1 .6-.1 .5-.1 .6-.1 .5-.1 .6-.1 .5-.1 .6-.2 .5-.1 .5-.2 .6-.2 .5-.2 .6-.2 .5-.2 .6-.3 .5-.3 .6-.4 .5-.4 .6-.5 .5-.5 .6-.6 .5-.6 .5-.8 .6-.8 .5-.9 .6-1.1 .5-1.2 .6-1.3 .5-1.4 .6-1.7 .5-1.7 .6-2 .5-2.1 .6-2.4 .5-2.5 .5-2.8 .6-2.9 .5-3.2 .6-3.4 .5-3.5 .6-3.8 .5-3.9 .6-4.1 .5-4.3 .6-4.4 .5-4.4 .5-4.5 .6-4.5 .5-4.5 .6-4.3 .5-4.2 .6-4 .5-3.6 .6-3.3 .5-2.9 .6-2.3 .5-1.8 .6-1.1 .5-.4 .5,1 .6,2.3 .5,3.4 .6,4.4 .5,5.1 .6,5.6 .5,6 .6,6.2 .5,6.4 .6,6.2 .5,6.2 .6,5.9 .5,5.7 .5,5.3 .6,4.9 .5,4.6 .6,4.1 .5,3.7 .6,3.3 .5,2.9 .6,2.6 .5,2.3 .6,1.9 .5,1.6 .5,1.4 .6,1.2 .5,1 .6,.8 .5,.7 .6,.6 .5,.4 .6,.4 .5,.3 .6,.2 .5,.2 .6,.2 .5,.1 .5,.1 .6,.1 .5,.1 .6,0 .5,.1 .6,0 .5,0 .6,0 .5,.1 .6,0 .5,0 .6,0 .5,0 .5,0 .6,0 .5,.1 .6,0 .5,0 .6,0 .5,0 .6,0 .5,0 .6,0 .5,0 .5,0 .6,0 .5,0 .6,0 .5,0 .6,0 .5,.1 .6,0 .5,0 .6,0 .5,0 .6,0 .5,0 .5,0 .6,0 .5,0 .6,0 .5,0 .6,0 .5,0 .6,0 .5,0 .6,0 .5,0 .6,0 .5,0 .5,0 .6,0 .5,0 .6,0 .5,0 .6,0 .5,0 .6,0 .5,0 .6,0 .5,0 .5,0 .6,0 .5,0 .6,0 .5,0 .6,0 .5,0 .6,0 .5,0 .6,0 .5,0 .6,0 .5,0 .5,0 .6,0 .5,0 .6,0 .5,0 .6,0 .5,0 .6,.1 .5,0 .6,0 .5,0 .6,0 .5,0 .5,0 .6,0 .5,0 .6,0 .5,0 .6,0 .5,0 .6,0 .5,0 .6,0 .5,0 .5,0 .6,0 .5,0 .6,0 .5,0 .6,0 .5,0 .6,0 .5,0 .6,0 .5,0 .6,0 .5,0" fill="none" stroke="#4b3fe6" stroke-width="1.3" stroke-linejoin="round" clip-path="url(#c2f)"/>
<path d="M225.8,378.2l.5,0 .6,0 .5,0 .6,0 .5,0 .6,0 .5-.1 .6,0 .5,0 .6,0 .5,0 .6,0 .5,0 .5-.1 .6,0 .5,0 .6,0 .5,0 .6-.1 .5,0 .6,0 .5,0 .6,0 .5-.1 .5,0 .6,0 .5,0 .6-.1 .5,0 .6,0 .5,0 .6-.1 .5,0 .6,0 .5-.1 .6,0 .5,0 .5-.1 .6,0 .5,0 .6-.1 .5,0 .6-.1 .5,0 .6-.1 .5,0 .6-.1 .5,0 .6-.1 .5,0 .5-.1 .6-.1 .5,0 .6-.1 .5-.1 .6-.1 .5-.1 .6,0 .5-.1 .6-.2 .5-.1 .5-.1 .6-.2 .5-.1 .6-.2 .5-.2 .6-.2 .5-.2 .6-.3 .5-.3 .6-.3 .5-.4 .6-.4 .5-.5 .5-.5 .6-.6 .5-.7 .6-.7 .5-.9 .6-.9 .5-1.1 .6-1.2 .5-1.3 .6-1.4 .5-1.7 .6-1.7 .5-2 .5-2.1 .6-2.3 .5-2.5 .6-2.7 .5-2.9 .6-3.1 .5-3.3 .6-3.5 .5-3.6 .6-3.9 .5-4 .5-4.1 .6-4.3 .5-4.3 .6-4.4 .5-4.4 .6-4.4 .5-4.3 .6-4.1 .5-4 .6-3.7 .5-3.3 .6-3 .5-2.5 .5-1.9 .6-1.4 .5-.7 .3-.1 .3,.3 .5,1.6 .6,2.7 .5,3.6 .6,4.4 .5,5 .6,5.5 .5,5.8 .6,5.9 .5,6.1 .5,6 .6,5.8 .5,5.7 .6,5.4 .5,5.1 .6,4.8 .5,4.4 .6,4 .5,3.7 .6,3.3 .5,2.9 .5,2.6 .6,2.3 .5,2 .6,1.8 .5,1.4 .6,1.3 .5,1.1 .6,.9 .5,.7 .6,.7 .5,.5 .6,.4 .5,.4 .5,.3 .6,.2 .5,.2 .6,.2 .5,.1 .6,.1 .5,.1 .6,0 .5,.1 .6,0 .5,.1 .6,0 .5,0 .5,.1 .6,0 .5,0 .6,0 .5,0 .6,0 .5,0 .6,0 .5,.1 .6,0 .5,0 .5,0 .6,0 .5,0 .6,0 .5,0 .6,0 .5,0 .6,0 .5,0 .6,0 .5,0 .6,0 .5,0 .5,.1 .6,0 .5,0 .6,0 .5,0 .6,0 .5,0 .6,0 .5,0 .6,0 .5,0 .6,0 .5,0 .5,0 .6,0 .5,0 .6,0 .5,0 .6,0 .5,0 .6,0 .5,0 .6,0 .5,0 .5,0 .6,0 .5,0 .6,0 .5,0 .6,0 .5,0 .6,0 .5,0 .6,0 .5,0 .6,0 .5,0 .5,0 .6,0 .5,0 .6,0 .5,0 .6,0 .5,0 .6,0 .5,0 .6,0 .5,0 .6,0 .5,0 .5,0 .6,0 .5,0 .6,.1 .5,0 .6,0 .5,0 .6,0 .5,0 .6,0 .5,0 .5,0 .6,0 .5,0 .6,0 .5,0 .6,0 .5,0 .6,0 .5,0 .6,0 .5,0 .6,0 .5,0" fill="none" stroke="#2f70ea" stroke-width="1.3" stroke-linejoin="round" clip-path="url(#c2f)"/>
<path d="M225.8,378.2l.5,0 .6,0 .5,0 .6,0 .5,0 .6,0 .5,0 .6-.1 .5,0 .6,0 .5,0 .6,0 .5,0 .5,0 .6-.1 .5,0 .6,0 .5,0 .6,0 .5,0 .6-.1 .5,0 .6,0 .5,0 .5,0 .6-.1 .5,0 .6,0 .5,0 .6-.1 .5,0 .6,0 .5,0 .6-.1 .5,0 .6,0 .5-.1 .5,0 .6,0 .5-.1 .6,0 .5,0 .6-.1 .5,0 .6-.1 .5,0 .6-.1 .5,0 .6-.1 .5,0 .5-.1 .6,0 .5-.1 .6,0 .5-.1 .6-.1 .5-.1 .6,0 .5-.1 .6-.1 .5-.1 .5-.1 .6-.1 .5-.2 .6-.1 .5-.2 .6-.1 .5-.2 .6-.2 .5-.2 .6-.3 .5-.3 .6-.3 .5-.3 .5-.4 .6-.5 .5-.5 .6-.5 .5-.6 .6-.7 .5-.8 .6-.9 .5-.9 .6-1.1 .5-1.2 .6-1.3 .5-1.5 .5-1.6 .6-1.7 .5-1.9 .6-2.1 .5-2.3 .6-2.4 .5-2.6 .6-2.8 .5-3 .6-3.1 .5-3.3 .5-3.5 .6-3.7 .5-3.8 .6-3.9 .5-4 .6-4.1 .5-4.2 .6-4.1 .5-4.2 .6-4.1 .5-3.9 .6-3.8 .5-3.6 .5-3.2 .6-2.9 .5-2.6 .6-2 .5-1.5 .6-1 .5-.3-0,0 .6,.8 .5,2 .6,2.9 .5,3.7 .6,4.3 .5,4.8 .5,5.2 .6,5.5 .5,5.6 .6,5.6 .5,5.6 .6,5.5 .5,5.3 .6,5.1 .5,4.8 .6,4.5 .5,4.2 .5,3.8 .6,3.5 .5,3.2 .6,2.9 .5,2.6 .6,2.3 .5,2 .6,1.7 .5,1.5 .6,1.3 .5,1.2 .6,.9 .5,.8 .5,.7 .6,.6 .5,.5 .6,.4 .5,.3 .6,.3 .5,.2 .6,.2 .5,.2 .6,.1 .5,.1 .6,.1 .5,0 .5,.1 .6,0 .5,.1 .6,0 .5,0 .6,0 .5,.1 .6,0 .5,0 .6,0 .5,0 .5,0 .6,0 .5,.1 .6,0 .5,0 .6,0 .5,0 .6,0 .5,0 .6,0 .5,0 .6,0 .5,0 .5,0 .6,0 .5,0 .6,0 .5,0 .6,0 .5,.1 .6,0 .5,0 .6,0 .5,0 .6,0 .5,0 .5,0 .6,0 .5,0 .6,0 .5,0 .6,0 .5,0 .6,0 .5,0 .6,0 .5,0 .5,0 .6,0 .5,0 .6,0 .5,0 .6,0 .5,0 .6,0 .5,0 .6,0 .5,0 .6,0 .5,0 .5,0 .6,0 .5,0 .6,0 .5,0 .6,0 .5,0 .6,0 .5,0 .6,0 .5,0 .6,0 .5,0 .5,0 .6,0 .5,0 .6,0 .5,0 .6,0 .5,0 .6,0 .5,0 .6,0 .5,0 .5,.1 .6,0 .5,0 .6,0 .5,0 .6,0 .5,0 .6,0 .5,0 .6,0 .5,0 .6,0 .5,0" fill="none" stroke="#1a9eea" stroke-width="1.3" stroke-linejoin="round" clip-path="url(#c2f)"/>
<path d="M225.8,378.2l.5,0 .6,0 .5,0 .6,0 .5,0 .6,0 .5,0 .6-.1 .5,0 .6,0 .5,0 .6,0 .5,0 .5,0 .6-.1 .5,0 .6,0 .5,0 .6,0 .5,0 .6-.1 .5,0 .6,0 .5,0 .5,0 .6-.1 .5,0 .6,0 .5,0 .6,0 .5-.1 .6,0 .5,0 .6,0 .5-.1 .6,0 .5,0 .5-.1 .6,0 .5,0 .6-.1 .5,0 .6,0 .5-.1 .6,0 .5-.1 .6,0 .5,0 .6-.1 .5,0 .5-.1 .6,0 .5-.1 .6-.1 .5,0 .6-.1 .5-.1 .6,0 .5-.1 .6-.1 .5-.1 .5-.1 .6-.1 .5-.1 .6-.1 .5-.1 .6-.2 .5-.1 .6-.2 .5-.2 .6-.2 .5-.2 .6-.3 .5-.3 .5-.3 .6-.4 .5-.4 .6-.4 .5-.5 .6-.6 .5-.6 .6-.7 .5-.7 .6-.9 .5-.9 .6-1 .5-1.1 .5-1.3 .6-1.3 .5-1.5 .6-1.7 .5-1.7 .6-1.9 .5-2.1 .6-2.2 .5-2.3 .6-2.6 .5-2.6 .5-2.9 .6-2.9 .5-3.2 .6-3.2 .5-3.4 .6-3.5 .5-3.6 .6-3.7 .5-3.8 .6-3.7 .5-3.8 .6-3.7 .5-3.7 .5-3.5 .6-3.4 .5-3.2 .6-3 .5-2.6 .6-2.3 .5-1.9 .6-1.5 .5-.9 .6-.5 .1,0 .4,.3 .6,1.2 .5,2.1 .5,2.7 .6,3.5 .5,4 .6,4.4 .5,4.8 .6,5 .5,5.2 .6,5.3 .5,5.3 .6,5.1 .5,5.1 .5,4.8 .6,4.6 .5,4.4 .6,4 .5,3.7 .6,3.4 .5,3.1 .6,2.8 .5,2.5 .6,2.2 .5,1.9 .6,1.7 .5,1.5 .5,1.2 .6,1.1 .5,.9 .6,.7 .5,.7 .6,.5 .5,.5 .6,.3 .5,.3 .6,.3 .5,.2 .6,.1 .5,.1 .5,.2 .6,0 .5,.1 .6,.1 .5,0 .6,0 .5,.1 .6,0 .5,0 .6,0 .5,.1 .5,0 .6,0 .5,0 .6,0 .5,0 .6,0 .5,0 .6,.1 .5,0 .6,0 .5,0 .6,0 .5,0 .5,0 .6,0 .5,0 .6,0 .5,0 .6,0 .5,0 .6,0 .5,0 .6,0 .5,0 .6,0 .5,.1 .5,0 .6,0 .5,0 .6,0 .5,0 .6,0 .5,0 .6,0 .5,0 .6,0 .5,0 .5,0 .6,0 .5,0 .6,0 .5,0 .6,0 .5,0 .6,0 .5,0 .6,0 .5,0 .6,0 .5,0 .5,0 .6,0 .5,0 .6,0 .5,0 .6,0 .5,0 .6,0 .5,0 .6,0 .5,0 .6,0 .5,0 .5,0 .6,0 .5,0 .6,0 .5,0 .6,0 .5,0 .6,0 .5,0 .6,0 .5,0 .5,0 .6,0 .5,0 .6,0 .5,0 .6,0 .5,0 .6,0 .5,.1 .6,0 .5,0 .6,0 .5,0" fill="none" stroke="#12d6ea" stroke-width="1.3" stroke-linejoin="round" clip-path="url(#c2f)"/>
<path d="M225.8,378.3l.5,0 .6-.1 .5,0 .6,0 .5,0 .6,0 .5,0 .6,0 .5,0 .6-.1 .5,0 .6,0 .5,0 .5,0 .6,0 .5,0 .6,0 .5-.1 .6,0 .5,0 .6,0 .5,0 .6,0 .5-.1 .5,0 .6,0 .5,0 .6,0 .5-.1 .6,0 .5,0 .6,0 .5-.1 .6,0 .5,0 .6,0 .5-.1 .5,0 .6,0 .5,0 .6-.1 .5,0 .6,0 .5-.1 .6,0 .5,0 .6-.1 .5,0 .6-.1 .5,0 .5-.1 .6,0 .5,0 .6-.1 .5,0 .6-.1 .5-.1 .6,0 .5-.1 .6,0 .5-.1 .5-.1 .6-.1 .5-.1 .6-.1 .5-.1 .6-.1 .5-.1 .6-.1 .5-.1 .6-.2 .5-.2 .6-.1 .5-.2 .5-.3 .6-.2 .5-.3 .6-.3 .5-.4 .6-.3 .5-.5 .6-.4 .5-.6 .6-.6 .5-.6 .6-.8 .5-.8 .5-.9 .6-1 .5-1.1 .6-1.2 .5-1.3 .6-1.4 .5-1.5 .6-1.7 .5-1.8 .6-1.9 .5-2.1 .5-2.2 .6-2.3 .5-2.4 .6-2.6 .5-2.7 .6-2.9 .5-2.9 .6-3 .5-3.1 .6-3.2 .5-3.2 .6-3.2 .5-3.2 .5-3.2 .6-3.2 .5-3.1 .6-3 .5-2.8 .6-2.7 .5-2.4 .6-2.2 .5-2 .6-1.6 .5-1.3 .6-.9 .5-.5 .5-.2-0,0 .6,.4 .5,.9 .6,1.6 .5,2.1 .6,2.5 .5,3.1 .6,3.4 .5,3.8 .6,4 .5,4.2 .5,4.3 .6,4.4 .5,4.4 .6,4.4 .5,4.2 .6,4.2 .5,3.9 .6,3.7 .5,3.6 .6,3.2 .5,3.1 .6,2.7 .5,2.5 .5,2.3 .6,2 .5,1.8 .6,1.6 .5,1.4 .6,1.2 .5,1 .6,.9 .5,.8 .6,.6 .5,.6 .6,.4 .5,.4 .5,.3 .6,.3 .5,.2 .6,.2 .5,.1 .6,.1 .5,.1 .6,.1 .5,.1 .6,0 .5,.1 .5,0 .6,.1 .5,0 .6,0 .5,0 .6,.1 .5,0 .6,0 .5,0 .6,0 .5,.1 .6,0 .5,0 .5,0 .6,0 .5,0 .6,0 .5,0 .6,.1 .5,0 .6,0 .5,0 .6,0 .5,0 .6,0 .5,0 .5,0 .6,0 .5,0 .6,0 .5,0 .6,.1 .5,0 .6,0 .5,0 .6,0 .5,0 .5,0 .6,0 .5,0 .6,0 .5,0 .6,0 .5,0 .6,0 .5,0 .6,0 .5,0 .6,0 .5,0 .5,0 .6,0 .5,0 .6,0 .5,.1 .6,0 .5,0 .6,0 .5,0 .6,0 .5,0 .6,0 .5,0 .5,0 .6,0 .5,0 .6,0 .5,0 .6,0 .5,0 .6,0 .5,0 .6,0 .5,0 .5,0 .6,0 .5,0 .6,0 .5,0 .6,0 .5,0 .6,0 .5,0 .6,0 .5,0 .6,0 .5,0" fill="none" stroke="#10dcb0" stroke-width="1.3" stroke-linejoin="round" clip-path="url(#c2f)"/>
<path d="M225.8,378.1l.5,0 .6,0 .5,0 .6,0 .5,0 .6,0 .5,0 .6-.1 .5,0 .6,0 .5,0 .6,0 .5,0 .5,0 .6-.1 .5,0 .6,0 .5,0 .6,0 .5,0 .6-.1 .5,0 .6,0 .5,0 .5,0 .6-.1 .5,0 .6,0 .5,0 .6,0 .5-.1 .6,0 .5,0 .6,0 .5-.1 .6,0 .5,0 .5-.1 .6,0 .5,0 .6,0 .5-.1 .6,0 .5-.1 .6,0 .5,0 .6-.1 .5,0 .6-.1 .5,0 .5-.1 .6,0 .5-.1 .6,0 .5-.1 .6-.1 .5-.1 .6,0 .5-.1 .6-.1 .5-.1 .5-.1 .6-.2 .5-.1 .6-.1 .5-.2 .6-.1 .5-.2 .6-.2 .5-.2 .6-.2 .5-.3 .6-.2 .5-.3 .5-.3 .6-.4 .5-.3 .6-.4 .5-.4 .6-.5 .5-.5 .6-.5 .5-.6 .6-.6 .5-.7 .6-.7 .5-.7 .5-.8 .6-.9 .5-.9 .6-.9 .5-1 .6-1.1 .5-1.1 .6-1.2 .5-1.2 .6-1.3 .5-1.3 .5-1.4 .6-1.4 .5-1.5 .6-1.6 .5-1.5 .6-1.7 .5-1.6 .6-1.7 .5-1.8 .6-1.7 .5-1.8 .6-1.7 .5-1.8 .5-1.8 .6-1.8 .5-1.7 .6-1.8 .5-1.6 .6-1.7 .5-1.6 .6-1.5 .5-1.4 .6-1.4 .5-1.2 .6-1.2 .5-1 .5-.9 .6-.8 .5-.6 .6-.4 .5-.3 .6-.2 .2,0 .3,0 .6,.3 .5,.4 .6,.7 .5,.8 .5,1.1 .6,1.2 .5,1.4 .6,1.6 .5,1.7 .6,1.8 .5,1.9 .6,2 .5,2.2 .6,2.1 .5,2.2 .6,2.3 .5,2.3 .5,2.2 .6,2.3 .5,2.2 .6,2.2 .5,2.1 .6,2.1 .5,2 .6,2 .5,1.8 .6,1.8 .5,1.7 .6,1.6 .5,1.5 .5,1.5 .6,1.3 .5,1.2 .6,1.2 .5,1.1 .6,.9 .5,.9 .6,.9 .5,.7 .6,.7 .5,.6 .5,.6 .6,.5 .5,.4 .6,.4 .5,.4 .6,.3 .5,.3 .6,.2 .5,.2 .6,.2 .5,.2 .6,.1 .5,.2 .5,.1 .6,.1 .5,0 .6,.1 .5,.1 .6,0 .5,.1 .6,0 .5,.1 .6,0 .5,0 .6,0 .5,.1 .5,0 .6,0 .5,0 .6,0 .5,0 .6,0 .5,0 .6,0 .5,.1 .6,0 .5,0 .5,0 .6,0 .5,0 .6,0 .5,0 .6,0 .5,0 .6,0 .5,0 .6,0 .5,0 .6,0 .5,0 .5,0 .6,0 .5,0 .6,0 .5,0 .6,0 .5,.1 .6,0 .5,0 .6,0 .5,0 .6,0 .5,0 .5,0 .6,0 .5,0 .6,0 .5,0 .6,0 .5,0 .6,0 .5,0 .6,0 .5,0 .5,0 .6,0 .5,0 .6,0 .5,0 .6,0 .5,0 .6,0 .5,0 .6,0 .5,0 .6,0 .5,0" fill="none" stroke="#1cdc3c" stroke-width="1.3" stroke-linejoin="round" clip-path="url(#c2f)"/>
<path d="M225.8,378.1l.5,0 .6-.1 .5,0 .6,0 .5,0 .6,0 .5,0 .6,0 .5-.1 .6,0 .5,0 .6,0 .5,0 .5,0 .6,0 .5-.1 .6,0 .5,0 .6,0 .5,0 .6-.1 .5,0 .6,0 .5,0 .5,0 .6-.1 .5,0 .6,0 .5,0 .6-.1 .5,0 .6,0 .5,0 .6-.1 .5,0 .6,0 .5-.1 .5,0 .6,0 .5-.1 .6,0 .5-.1 .6,0 .5,0 .6-.1 .5,0 .6-.1 .5,0 .6-.1 .5-.1 .5,0 .6-.1 .5-.1 .6-.1 .5,0 .6-.1 .5-.1 .6-.1 .5-.2 .6-.1 .5-.1 .5-.2 .6-.1 .5-.2 .6-.2 .5-.1 .6-.3 .5-.2 .6-.2 .5-.3 .6-.3 .5-.2 .6-.4 .5-.3 .5-.4 .6-.4 .5-.4 .6-.4 .5-.5 .6-.5 .5-.6 .6-.5 .5-.6 .6-.7 .5-.7 .6-.7 .5-.8 .5-.8 .6-.8 .5-.9 .6-.9 .5-1 .6-1 .5-1 .6-1.1 .5-1.2 .6-1.1 .5-1.2 .5-1.3 .6-1.3 .5-1.3 .6-1.3 .5-1.4 .6-1.4 .5-1.5 .6-1.4 .5-1.5 .6-1.5 .5-1.4 .6-1.5 .5-1.5 .5-1.5 .6-1.5 .5-1.4 .6-1.4 .5-1.4 .6-1.4 .5-1.3 .6-1.3 .5-1.1 .6-1.2 .5-1 .6-1 .5-.9 .5-.8 .6-.7 .5-.6 .6-.5 .5-.3 .6-.3 .5-.1 .3,0 .3,0 .5,.2 .6,.3 .5,.5 .5,.7 .6,.8 .5,.9 .6,1.1 .5,1.3 .6,1.3 .5,1.5 .6,1.5 .5,1.7 .6,1.7 .5,1.8 .6,1.8 .5,1.9 .5,1.9 .6,1.9 .5,1.9 .6,1.9 .5,1.9 .6,1.9 .5,1.9 .6,1.8 .5,1.8 .6,1.7 .5,1.7 .6,1.6 .5,1.5 .5,1.5 .6,1.4 .5,1.4 .6,1.2 .5,1.2 .6,1.2 .5,1 .6,1 .5,.9 .6,.9 .5,.8 .5,.7 .6,.6 .5,.7 .6,.5 .5,.5 .6,.5 .5,.4 .6,.4 .5,.3 .6,.3 .5,.3 .6,.2 .5,.3 .5,.2 .6,.1 .5,.2 .6,.1 .5,.1 .6,.1 .5,.1 .6,.1 .5,.1 .6,.1 .5,0 .6,.1 .5,0 .5,0 .6,.1 .5,0 .6,0 .5,0 .6,.1 .5,0 .6,0 .5,0 .6,0 .5,0 .5,0 .6,0 .5,.1 .6,0 .5,0 .6,0 .5,0 .6,0 .5,0 .6,0 .5,0 .6,0 .5,0 .5,0 .6,0 .5,0 .6,0 .5,0 .6,0 .5,0 .6,0 .5,0 .6,0 .5,0 .6,.1 .5,0 .5,0 .6,0 .5,0 .6,0 .5,0 .6,0 .5,0 .6,0 .5,0 .6,0 .5,0 .5,0 .6,0 .5,0 .6,0 .5,0 .6,0 .5,0 .6,0 .5,0 .6,0 .5,0 .6,0 .5,0" fill="none" stroke="#86dc1c" stroke-width="1.3" stroke-linejoin="round" clip-path="url(#c2f)"/>
<path d="M225.8,378l.5,0 .6,0 .5,0 .6,0 .5-.1 .6,0 .5,0 .6,0 .5,0 .6,0 .5,0 .6-.1 .5,0 .5,0 .6,0 .5,0 .6-.1 .5,0 .6,0 .5,0 .6,0 .5-.1 .6,0 .5,0 .5,0 .6,0 .5-.1 .6,0 .5,0 .6-.1 .5,0 .6,0 .5,0 .6-.1 .5,0 .6,0 .5-.1 .5,0 .6-.1 .5,0 .6,0 .5-.1 .6,0 .5-.1 .6-.1 .5,0 .6-.1 .5,0 .6-.1 .5-.1 .5-.1 .6-.1 .5-.1 .6-.1 .5-.1 .6-.1 .5-.1 .6-.1 .5-.2 .6-.1 .5-.2 .5-.1 .6-.2 .5-.2 .6-.2 .5-.2 .6-.3 .5-.2 .6-.3 .5-.3 .6-.3 .5-.3 .6-.4 .5-.3 .5-.4 .6-.4 .5-.5 .6-.4 .5-.5 .6-.5 .5-.6 .6-.6 .5-.6 .6-.6 .5-.6 .6-.7 .5-.8 .5-.7 .6-.8 .5-.8 .6-.9 .5-.8 .6-.9 .5-1 .6-1 .5-1 .6-1 .5-1.1 .5-1 .6-1.1 .5-1.2 .6-1.1 .5-1.2 .6-1.2 .5-1.2 .6-1.2 .5-1.2 .6-1.3 .5-1.2 .6-1.3 .5-1.2 .5-1.2 .6-1.2 .5-1.2 .6-1.2 .5-1.2 .6-1.1 .5-1.1 .6-1 .5-1.1 .6-.9 .5-.9 .6-.9 .5-.8 .5-.7 .6-.6 .5-.6 .6-.5 .5-.4 .6-.3 .5-.2 .6-.2 .5,0-0,0 .6,.1 .5,.2 .5,.3 .6,.5 .5,.6 .6,.7 .5,.8 .6,.9 .5,1 .6,1.2 .5,1.2 .6,1.3 .5,1.3 .6,1.5 .5,1.4 .5,1.6 .6,1.5 .5,1.6 .6,1.6 .5,1.6 .6,1.6 .5,1.6 .6,1.7 .5,1.5 .6,1.6 .5,1.5 .6,1.5 .5,1.5 .5,1.4 .6,1.4 .5,1.3 .6,1.3 .5,1.3 .6,1.1 .5,1.1 .6,1.1 .5,1 .6,1 .5,.9 .5,.8 .6,.8 .5,.8 .6,.6 .5,.7 .6,.6 .5,.5 .6,.5 .5,.5 .6,.4 .5,.4 .6,.4 .5,.3 .5,.3 .6,.3 .5,.2 .6,.3 .5,.2 .6,.1 .5,.2 .6,.2 .5,.1 .6,.1 .5,.1 .6,.1 .5,.1 .5,.1 .6,0 .5,.1 .6,0 .5,.1 .6,0 .5,.1 .6,0 .5,0 .6,.1 .5,0 .5,0 .6,0 .5,0 .6,.1 .5,0 .6,0 .5,0 .6,0 .5,0 .6,0 .5,.1 .6,0 .5,0 .5,0 .6,0 .5,0 .6,0 .5,0 .6,0 .5,0 .6,0 .5,0 .6,0 .5,0 .6,0 .5,0 .5,.1 .6,0 .5,0 .6,0 .5,0 .6,0 .5,0 .6,0 .5,0 .6,0 .5,0 .5,0 .6,0 .5,0 .6,0 .5,0 .6,0 .5,0 .6,0 .5,0 .6,0 .5,0 .6,0 .5,0" fill="none" stroke="#f0dc18" stroke-width="1.3" stroke-linejoin="round" clip-path="url(#c2f)"/>
<path d="M225.8,378l.5,0 .6-.1 .5,0 .6,0 .5,0 .6,0 .5,0 .6,0 .5-.1 .6,0 .5,0 .6,0 .5,0 .5-.1 .6,0 .5,0 .6,0 .5,0 .6-.1 .5,0 .6,0 .5,0 .6-.1 .5,0 .5,0 .6,0 .5-.1 .6,0 .5,0 .6-.1 .5,0 .6,0 .5-.1 .6,0 .5-.1 .6,0 .5-.1 .5,0 .6-.1 .5,0 .6-.1 .5,0 .6-.1 .5-.1 .6,0 .5-.1 .6-.1 .5-.1 .6-.1 .5-.1 .5-.1 .6-.1 .5-.1 .6-.2 .5-.1 .6-.2 .5-.1 .6-.2 .5-.2 .6-.1 .5-.2 .5-.2 .6-.3 .5-.2 .6-.3 .5-.2 .6-.3 .5-.3 .6-.3 .5-.3 .6-.3 .5-.4 .6-.4 .5-.4 .5-.4 .6-.4 .5-.5 .6-.4 .5-.5 .6-.5 .5-.6 .6-.5 .5-.6 .6-.6 .5-.6 .6-.6 .5-.7 .5-.7 .6-.7 .5-.7 .6-.8 .5-.7 .6-.8 .5-.8 .6-.8 .5-.9 .6-.8 .5-.9 .5-.9 .6-.9 .5-.9 .6-.9 .5-1 .6-.9 .5-.9 .6-1 .5-.9 .6-1 .5-.9 .6-1 .5-.9 .5-.9 .6-.9 .5-.9 .6-.9 .5-.8 .6-.8 .5-.8 .6-.8 .5-.7 .6-.7 .5-.7 .6-.6 .5-.6 .5-.5 .6-.4 .5-.5 .6-.3 .5-.3 .6-.2 .5-.2 .6-.1 .5-.1 .2,0 .4,0 .5,.1 .5,.2 .6,.4 .5,.4 .6,.5 .5,.5 .6,.7 .5,.7 .6,.9 .5,.9 .6,.9 .5,1 .6,1.1 .5,1.1 .5,1.2 .6,1.2 .5,1.2 .6,1.2 .5,1.3 .6,1.3 .5,1.3 .6,1.2 .5,1.3 .6,1.3 .5,1.3 .6,1.2 .5,1.2 .5,1.2 .6,1.2 .5,1.2 .6,1.1 .5,1.1 .6,1 .5,1 .6,1 .5,.9 .6,.9 .5,.9 .5,.8 .6,.7 .5,.7 .6,.7 .5,.7 .6,.6 .5,.5 .6,.6 .5,.5 .6,.4 .5,.5 .6,.4 .5,.3 .5,.4 .6,.3 .5,.3 .6,.2 .5,.3 .6,.2 .5,.2 .6,.2 .5,.2 .6,.1 .5,.2 .6,.1 .5,.1 .5,.1 .6,.1 .5,.1 .6,.1 .5,0 .6,.1 .5,0 .6,.1 .5,0 .6,.1 .5,0 .5,0 .6,.1 .5,0 .6,0 .5,0 .6,.1 .5,0 .6,0 .5,0 .6,0 .5,0 .6,0 .5,.1 .5,0 .6,0 .5,0 .6,0 .5,0 .6,0 .5,0 .6,0 .5,0 .6,0 .5,0 .6,0 .5,0 .5,.1 .6,0 .5,0 .6,0 .5,0 .6,0 .5,0 .6,0 .5,0 .6,0 .5,0 .5,0 .6,0 .5,0 .6,0 .5,0 .6,0 .5,0 .6,0 .5,0 .6,0 .5,0 .6,0 .5,0" fill="none" stroke="#f8a424" stroke-width="1.3" stroke-linejoin="round" clip-path="url(#c2f)"/>
<path d="M225.8,377.9l.5,0 .6,0 .5,0 .6,0 .5,0 .6,0 .5-.1 .6,0 .5,0 .6,0 .5,0 .6,0 .5-.1 .5,0 .6,0 .5,0 .6-.1 .5,0 .6,0 .5,0 .6,0 .5-.1 .6,0 .5,0 .5-.1 .6,0 .5,0 .6-.1 .5,0 .6,0 .5-.1 .6,0 .5-.1 .6,0 .5-.1 .6,0 .5-.1 .5-.1 .6,0 .5-.1 .6-.1 .5,0 .6-.1 .5-.1 .6-.1 .5-.1 .6-.1 .5-.1 .6-.1 .5-.1 .5-.1 .6-.2 .5-.1 .6-.1 .5-.2 .6-.2 .5-.1 .6-.2 .5-.2 .6-.2 .5-.2 .5-.2 .6-.3 .5-.2 .6-.3 .5-.2 .6-.3 .5-.3 .6-.3 .5-.4 .6-.3 .5-.4 .6-.3 .5-.4 .5-.4 .6-.4 .5-.5 .6-.4 .5-.5 .6-.4 .5-.5 .6-.6 .5-.5 .6-.5 .5-.6 .6-.6 .5-.6 .5-.6 .6-.6 .5-.7 .6-.6 .5-.7 .6-.7 .5-.7 .6-.7 .5-.7 .6-.7 .5-.8 .5-.7 .6-.8 .5-.8 .6-.7 .5-.8 .6-.8 .5-.8 .6-.8 .5-.8 .6-.7 .5-.8 .6-.8 .5-.7 .5-.8 .6-.7 .5-.7 .6-.8 .5-.6 .6-.7 .5-.7 .6-.6 .5-.6 .6-.5 .5-.6 .6-.5 .5-.4 .5-.5 .6-.4 .5-.3 .6-.3 .5-.3 .6-.2 .5-.2 .6-.1 .5-.1 .6,0-0,0 .5,0 .5,.1 .6,.2 .5,.3 .6,.4 .5,.4 .6,.5 .5,.6 .6,.6 .5,.7 .6,.7 .5,.8 .6,.9 .5,.9 .5,.9 .6,1 .5,1 .6,1 .5,1.1 .6,1 .5,1.1 .6,1.1 .5,1.1 .6,1.1 .5,1.1 .6,1.1 .5,1 .5,1.1 .6,1 .5,1 .6,1 .5,1 .6,1 .5,.9 .6,.9 .5,.9 .6,.8 .5,.8 .5,.8 .6,.7 .5,.7 .6,.7 .5,.6 .6,.6 .5,.6 .6,.5 .5,.5 .6,.5 .5,.4 .6,.5 .5,.4 .5,.3 .6,.4 .5,.3 .6,.3 .5,.3 .6,.2 .5,.2 .6,.3 .5,.2 .6,.1 .5,.2 .6,.2 .5,.1 .5,.1 .6,.1 .5,.1 .6,.1 .5,.1 .6,.1 .5,.1 .6,.1 .5,0 .6,.1 .5,0 .5,.1 .6,0 .5,0 .6,.1 .5,0 .6,0 .5,.1 .6,0 .5,0 .6,0 .5,0 .6,.1 .5,0 .5,0 .6,0 .5,0 .6,0 .5,0 .6,0 .5,0 .6,.1 .5,0 .6,0 .5,0 .6,0 .5,0 .5,0 .6,0 .5,0 .6,0 .5,0 .6,0 .5,0 .6,0 .5,0 .6,0 .5,0 .5,.1 .6,0 .5,0 .6,0 .5,0 .6,0 .5,0 .6,0 .5,0 .6,0 .5,0 .6,0 .5,0" fill="none" stroke="#f8702c" stroke-width="1.3" stroke-linejoin="round" clip-path="url(#c2f)"/>
<path d="M225.8,378l.5,0 .6,0 .5,0 .6-.1 .5,0 .6,0 .5,0 .6,0 .5,0 .6-.1 .5,0 .6,0 .5,0 .5,0 .6-.1 .5,0 .6,0 .5,0 .6,0 .5-.1 .6,0 .5,0 .6-.1 .5,0 .5,0 .6-.1 .5,0 .6,0 .5-.1 .6,0 .5-.1 .6,0 .5,0 .6-.1 .5,0 .6-.1 .5-.1 .5,0 .6-.1 .5-.1 .6,0 .5-.1 .6-.1 .5-.1 .6-.1 .5-.1 .6-.1 .5-.1 .6-.1 .5-.1 .5-.1 .6-.1 .5-.2 .6-.1 .5-.2 .6-.1 .5-.2 .6-.2 .5-.1 .6-.2 .5-.2 .5-.3 .6-.2 .5-.2 .6-.2 .5-.3 .6-.3 .5-.2 .6-.3 .5-.3 .6-.3 .5-.4 .6-.3 .5-.3 .5-.4 .6-.4 .5-.4 .6-.4 .5-.4 .6-.4 .5-.4 .6-.5 .5-.5 .6-.4 .5-.5 .6-.5 .5-.6 .5-.5 .6-.5 .5-.6 .6-.6 .5-.5 .6-.6 .5-.6 .6-.6 .5-.6 .6-.7 .5-.6 .5-.6 .6-.7 .5-.6 .6-.7 .5-.6 .6-.7 .5-.6 .6-.7 .5-.7 .6-.6 .5-.7 .6-.6 .5-.6 .5-.7 .6-.6 .5-.6 .6-.6 .5-.6 .6-.5 .5-.6 .6-.5 .5-.5 .6-.5 .5-.4 .6-.5 .5-.4 .5-.3 .6-.4 .5-.3 .6-.3 .5-.2 .6-.2 .5-.2 .6-.1 .5-.1 .6-.1 .5,0-0,0 .5,0 .6,.1 .5,.2 .6,.2 .5,.3 .6,.3 .5,.4 .6,.5 .5,.5 .6,.6 .5,.6 .6,.6 .5,.7 .5,.7 .6,.8 .5,.8 .6,.8 .5,.9 .6,.8 .5,.9 .6,.9 .5,.9 .6,.9 .5,.9 .6,.9 .5,.9 .5,.9 .6,.9 .5,.9 .6,.9 .5,.9 .6,.8 .5,.8 .6,.9 .5,.7 .6,.8 .5,.7 .5,.8 .6,.7 .5,.6 .6,.7 .5,.6 .6,.6 .5,.5 .6,.6 .5,.5 .6,.5 .5,.4 .6,.4 .5,.5 .5,.3 .6,.4 .5,.3 .6,.4 .5,.3 .6,.2 .5,.3 .6,.2 .5,.3 .6,.2 .5,.2 .6,.2 .5,.1 .5,.2 .6,.1 .5,.1 .6,.2 .5,.1 .6,.1 .5,.1 .6,.1 .5,0 .6,.1 .5,.1 .5,0 .6,.1 .5,0 .6,.1 .5,0 .6,.1 .5,0 .6,0 .5,0 .6,.1 .5,0 .6,0 .5,0 .5,.1 .6,0 .5,0 .6,0 .5,0 .6,0 .5,0 .6,0 .5,.1 .6,0 .5,0 .6,0 .5,0 .5,0 .6,0 .5,0 .6,0 .5,0 .6,0 .5,0 .6,0 .5,0 .6,0 .5,0 .5,.1 .6,0 .5,0 .6,0 .5,0 .6,0 .5,0 .6,0 .5,0 .6,0 .5,0 .6,0 .5,0" fill="none" stroke="#f0302c" stroke-width="1.3" stroke-linejoin="round" clip-path="url(#c2f)"/>
<line x1="325.6" y1="130.2" x2="335.8" y2="130.2" stroke="#a03ee8" stroke-width="1.4"/>
<line x1="325.6" y1="139.3" x2="335.8" y2="139.3" stroke="#7418e2" stroke-width="1.4"/>
<line x1="325.6" y1="148.4" x2="335.8" y2="148.4" stroke="#4b3fe6" stroke-width="1.4"/>
<line x1="325.6" y1="157.5" x2="335.8" y2="157.5" stroke="#2f70ea" stroke-width="1.4"/>
<line x1="325.6" y1="166.6" x2="335.8" y2="166.6" stroke="#1a9eea" stroke-width="1.4"/>
<line x1="325.6" y1="175.7" x2="335.8" y2="175.7" stroke="#12d6ea" stroke-width="1.4"/>
<line x1="325.6" y1="184.8" x2="335.8" y2="184.8" stroke="#10dcb0" stroke-width="1.4"/>
<line x1="325.6" y1="194" x2="335.8" y2="194" stroke="#1cdc3c" stroke-width="1.4"/>
<line x1="325.6" y1="203.2" x2="335.8" y2="203.2" stroke="#86dc1c" stroke-width="1.4"/>
<line x1="325.6" y1="212.4" x2="335.8" y2="212.4" stroke="#f0dc18" stroke-width="1.4"/>
<line x1="325.6" y1="221.6" x2="335.8" y2="221.6" stroke="#f8a424" stroke-width="1.4"/>
<line x1="325.6" y1="230.8" x2="335.8" y2="230.8" stroke="#f8702c" stroke-width="1.4"/>
<line x1="325.6" y1="240" x2="335.8" y2="240" stroke="#f0302c" stroke-width="1.4"/>
<text x="342.2" y="134.8" font-size="10" text-anchor="start" fill="#231f20" stroke="#231f20" stroke-width="0.28" textLength="16" lengthAdjust="spacingAndGlyphs">4 K</text>
<text x="337.8" y="244.4" font-size="10" text-anchor="start" fill="#231f20" stroke="#231f20" stroke-width="0.28" textLength="28" lengthAdjust="spacingAndGlyphs">300 K</text>
<line x1="349.6" y1="139.3" x2="349.6" y2="226" stroke="#000" stroke-width="1.1"/>
<path d="M346,223 L353.4,223 L349.7,230.4 Z" fill="#000"/>
<defs><clipPath id="c3g"><rect x="392.7" y="0.8" width="145.9" height="119.2"/></clipPath><clipPath id="c3h"><rect x="392.7" y="125" width="145.9" height="123.3"/></clipPath><clipPath id="c3l"><rect x="392.7" y="248.3" width="145.9" height="130.2"/></clipPath></defs>
<path d="M392.7,119.8l.5,0 .5,0 .5,0 .5,0 .4,0 .5,0 .5,0 .5,0 .5-.1 .5,0 .5,0 .5,0 .4,0 .5,0 .5,0 .5,0 .5,0 .5,0 .5,0 .5-.1 .4-0 .5-0 .5-0 .5-0 .5-0 .5-0 .5-0 .5-.1 .5-0 .4-0 .5-0 .5-0 .5-0 .5-.1 .5-0 .5-0 .5-0 .4-0 .5-.1 .5-0 .5-0 .5-0 .5-.1 .5-0 .5-0 .4-0 .5-.1 .5-0 .5-0 .5-.1 .5-0 .5-0 .5-.1 .4-0 .5-0 .5-.1 .5-0 .5-0 .5-.1 .5-0 .5-.1 .5-0 .4-.1 .5-0 .5-.1 .5-0 .5-.1 .5-0 .5-.1 .5-.1 .4-0 .5-.1 .5-.1 .5-0 .5-.1 .5-.1 .5-.1 .5-.1 .4-.1 .5-.1 .5-0 .5-.2 .5-.1 .5-.1 .5-.1 .5-.1 .5-.1 .4-.2 .5-.1 .5-.2 .5-.1 .5-.2 .5-.1 .5-.2 .5-.2 .4-.2 .5-.2 .5-.2 .5-.3 .5-.2 .5-.2 .5-.3 .5-.3 .4-.3 .5-.3 .5-.4 .5-.3 .5-.4 .5-.4 .5-.4 .5-.5 .5-.4 .4-.5 .5-.6 .5-.5 .5-.6 .5-.6 .5-.7 .5-.7 .5-.8 .4-.8 .5-.8 .5-1 .5-.9 .5-1 .5-1.1 .5-1.2 .5-1.2 .4-1.3 .5-1.4 .5-1.5 .5-1.6 .5-1.6 .5-1.8 .5-1.9 .5-2 .5-2.2 .4-2.2 .5-2.4 .5-2.6 .5-2.7 .5-2.9 .5-3.1 .5-3.3 .5-3.5 .4-3.7 .5-3.9 .5-4.1 .5-4.4 .5-4.7 .5-4.9 .5-5.2 .5-5.4 .4-.4 .5,.5 .5,1.7 .5,3.5 .5,5.6 .5,8.1 .5,10.3 .5,11.9 .4,12.5 .5,12 .5,10.4 .5,8.1 .5,5.8 .5,3.6 .5,2 .5,1 .5,.4 .4,.1 .5,.1 .5-0 .5-0 .5-0 .5-0 .5-0 .5-0 .4-0 .5-0 .5-0 .5-0 .5-0 .5-0 .5-0 .5-0 .4-0 .5-0 .5-0 .5-0 .5-0 .5-0 .5-0 .5-0 .5-0 .4-0 .5-0 .5-0 .5-0 .5-0 .5-0 .5-0 .5-0 .4-0 .5-0 .5-0 .5-0 .5-0 .5-0 .5-0 .5-0 .4-0 .5-0 .5-0 .5-0 .5-0 .5-0 .5-0 .5-0 .5-0 .4-0 .5-0 .5-0 .5-0 .5-0 .5-0 .5-0 .5-0 .4-0 .5-0 .5-0 .5-0 .5-0 .5-0 .5-0 .5-0 .4-0 .5-0 .5-0 .5-0 .5-0 .5-0 .5-0 .5-0 .5-0 .4-0 .5-0 .5-0 .5-0 .5-0 .5-0 .5-0 .5-0 .4-0 .5-0 .5-0 .5-0 .5-0 .5-0 .5-0 .5-0 .4-0 .5-0 .5-0 .5-0 .5-0 .5-0 .5-0 .5-0 .4-0 .5-0 .5-0 .5-0 .5-0 .5-0 .5-0 .5-0 .5-0 .4-0 .5-0 .5-0 .5-0 .5-0 .5-0 .5-0 .5-0 .4-0 .5-0 .5-0 .5-0 .5-0 .5-0 .5-0 .5-0 .4-0 .5-0 .5-0 .5-0 .5-0 L538.6,119.9 L392.7,119.9 Z" fill="#328ce6" clip-path="url(#c3g)"/>
<path d="M392.7,119.9l.5,0 .5,0 .5,0 .5,0 .4,0 .5,0 .5,0 .5,0 .5,0 .5,0 .5,0 .5,0 .4,0 .5,0 .5,0 .5,0 .5,0 .5,0 .5,0 .5,0 .4,0 .5,0 .5,0 .5,0 .5,0 .5,0 .5,0 .5,0 .5,0 .4,0 .5,0 .5,0 .5,0 .5,0 .5,0 .5,0 .5-.1 .4-0 .5-0 .5-0 .5-0 .5-0 .5-0 .5-0 .5-0 .4-0 .5-0 .5-0 .5-.1 .5-0 .5-0 .5-0 .5-0 .4-0 .5-.1 .5-0 .5-0 .5-0 .5-.1 .5-0 .5-0 .5-.1 .4-0 .5-0 .5-.1 .5-0 .5-.1 .5-0 .5-.1 .5-0 .4-.1 .5-.1 .5-0 .5-.1 .5-.1 .5-.1 .5-0 .5-.1 .4-.1 .5-.1 .5-.1 .5-.1 .5-.2 .5-.1 .5-.1 .5-.2 .5-.1 .4-.2 .5-.1 .5-.2 .5-.2 .5-.1 .5-.2 .5-.2 .5-.2 .4-.2 .5-.3 .5-.2 .5-.2 .5-.3 .5-.3 .5-.2 .5-.3 .4-.3 .5-.3 .5-.3 .5-.3 .5-.4 .5-.3 .5-.4 .5-.4 .5-.4 .4-.4 .5-.4 .5-.5 .5-.5 .5-.5 .5-.5 .5-.5 .5-.6 .4-.7 .5-.7 .5-.7 .5-.8 .5-.8 .5-1 .5-.9 .5-1.1 .4-1.1 .5-1.3 .5-1.3 .5-1.4 .5-1.5 .5-1.7 .5-1.7 .5-1.9 .5-1.9 .4-2.1 .5-2.1 .5-2.3 .5-2.3 .5-2.4 .5-2.5 .5-2.6 .5-2.6 .4-2.6 .5-2.7 .5-2.6 .5-2.7 .5-2.6 .5-2.6 .5-2.5 .5-2.5 .4-2.4 .5-2.3 .5-2.2 .5-2 .5-1.9 .5-1.8 .5-1.6 .5-1.5 .4-1.4 .5-1.2 .5-1 .5-.9 .5-.7 .5-.6 .5-.5 .5-.3 .5-.3 .4-.1 .5-.1 .5,.1 .5,.9 .5,1.8 .5,2.4 .5,2.9 .5,3.2 .4,3.5 .5,3.8 .5,3.8 .5,4 .5,4 .5,3.9 .5,3.9 .5,3.8 .4,3.6 .5,3.5 .5,3.3 .5,3.1 .5,3 .5,2.7 .5,2.5 .5,2.4 .5,2.2 .4,2 .5,1.8 .5,1.7 .5,1.5 .5,1.4 .5,1.3 .5,1.1 .5,1.1 .4,1 .5,.8 .5,.9 .5,.7 .5,.7 .5,.6 .5,.6 .5,.6 .4,.5 .5,.5 .5,.4 .5,.5 .5,.4 .5,.4 .5,.4 .5,.3 .5,.3 .4,.4 .5,.3 .5,.3 .5,.3 .5,.2 .5,.3 .5,.2 .5,.3 .4,.2 .5,.2 .5,.2 .5,.2 .5,.2 .5,.2 .5,.2 .5,.1 .4,.2 .5,.1 .5,.1 .5,.2 .5,.1 .5,.1 .5,.1 .5,.1 .5,.1 .4,.1 .5,.1 .5,.1 .5-0 .5,.1 .5,.1 .5-0 .5,.1 .4-0 .5,.1 .5-0 .5,.1 .5-0 .5-0 .5,.1 .5-0 .4-0 .5,.1 .5-0 .5-0 .5-0 .5-0 .5,.1 .5-0 .4-0 .5-0 .5-0 .5-0 .5-0 .5-0 .5-0 .5-0 .5,.1 .4,0 .5,0 .5,0 .5,0 .5,0 .5,0 .5,0 .5,0 .4,0 .5,0 .5,0 .5,0 .5,0 .5,0 .5,0 .5,0 .4,0 .5,0 .5,0 .5,0 .5,0 L538.6,119.9 L392.7,119.9 Z" fill="#fa3237" clip-path="url(#c3g)"/>
<path d="M392.7,119.9l.5,0 .5,0 .5,0 .5,0 .4,0 .5,0 .5,0 .5,0 .5,0 .5,0 .5,0 .5,0 .4,0 .5,0 .5,0 .5,0 .5,0 .5,0 .5,0 .5,0 .4,0 .5,0 .5,0 .5,0 .5,0 .5,0 .5,0 .5,0 .5,0 .4,0 .5,0 .5,0 .5,0 .5,0 .5,0 .5,0 .5-.1 .4-0 .5-0 .5-0 .5-0 .5-0 .5-0 .5-0 .5-0 .4-0 .5-0 .5-0 .5-.1 .5-0 .5-0 .5-0 .5-0 .4-0 .5-.1 .5-0 .5-0 .5-0 .5-.1 .5-0 .5-0 .5-.1 .4-0 .5-0 .5-.1 .5-0 .5-.1 .5-0 .5-.1 .5-0 .4-.1 .5-.1 .5-0 .5-.1 .5-.1 .5-.1 .5-0 .5-.1 .4-.1 .5-.1 .5-.1 .5-.1 .5-.2 .5-.1 .5-.1 .5-.2 .5-.1 .4-.2 .5-.1 .5-.2 .5-.2 .5-.1 .5-.2 .5-.2 .5-.2 .4-.2 .5-.3 .5-.2 .5-.2 .5-.3 .5-.3 .5-.2 .5-.3 .4-.3 .5-.3 .5-.3 .5-.3 .5-.4 .5-.3 .5-.4 .5-.4 .5-.4 .4-.4 .5-.4 .5-.5 .5-.5 .5-.5 .5-.5 .5-.5 .5-.6 .4-.7 .5-.7 .5-.7 .5-.8 .5-.8 .5-1 .5-.9 .5-1.1 .4-1.1 .5-1.3 .5-1.3 .5-1.4 .5-1.5 .5-1.7 .5-1.7 .5-1.9 .5-1.9 .4-2.1 .5-2.1 .5-2.3 .5-2.3 .5-2.4 .5-2.5 .5-2.6 .5-2.6 .4-2.6 .5-2.7 .5-2.6 .5-2.7 .5-2.6 .5-2.6 .5-2.5 .5-2.5 .4-2.4 .5-2.3 .5-2.2 .5-2 .5-1.9 .5,5.7 .5,10.3 .5,11.9 .4,12.5 .5,12 .5,10.4 .5,8.1 .5,5.8 .5,3.6 .5,2 .5,1 .5,.4 .4,.1 .5,.1 .5-0 .5-0 .5-0 .5-0 .5-0 .5-0 .4-0 .5-0 .5-0 .5-0 .5-0 .5-0 .5-0 .5-0 .4-0 .5-0 .5-0 .5-0 .5-0 .5-0 .5-0 .5-0 .5-0 .4-0 .5-0 .5-0 .5-0 .5-0 .5-0 .5-0 .5-0 .4-0 .5-0 .5-0 .5-0 .5-0 .5-0 .5-0 .5-0 .4-0 .5-0 .5-0 .5-0 .5-0 .5-0 .5-0 .5-0 .5-0 .4-0 .5-0 .5-0 .5-0 .5-0 .5-0 .5-0 .5-0 .4-0 .5-0 .5-0 .5-0 .5-0 .5-0 .5-0 .5-0 .4-0 .5-0 .5-0 .5-0 .5-0 .5-0 .5-0 .5-0 .5-0 .4-0 .5-0 .5-0 .5-0 .5-0 .5-0 .5-0 .5-0 .4-0 .5-0 .5-0 .5-0 .5-0 .5-0 .5-0 .5-0 .4-0 .5-0 .5-0 .5-0 .5-0 .5-0 .5-0 .5-0 .4-0 .5-0 .5-0 .5-0 .5-0 .5-0 .5-0 .5-0 .5-0 .4-0 .5-0 .5-0 .5-0 .5-0 .5-0 .5-0 .5-0 .4-0 .5-0 .5-0 .5-0 .5-0 .5-0 .5-0 .5-0 .4-0 .5-0 .5-0 .5-0 .5-0 L538.6,119.9 L392.7,119.9 Z" fill="#5c4ea0" clip-path="url(#c3g)"/>
<path d="M392.7,119.9l.5,0 .5,0 .5,0 .5,0 .4,0 .5,0 .5,0 .5,0 .5,0 .5,0 .5,0 .5,0 .4,0 .5,0 .5,0 .5,0 .5,0 .5,0 .5,0 .5,0 .4,0 .5,0 .5,0 .5,0 .5,0 .5,0 .5,0 .5,0 .5,0 .4,0 .5,0 .5,0 .5,0 .5,0 .5,0 .5,0 .5-.1 .4-0 .5-0 .5-0 .5-0 .5-0 .5-0 .5-0 .5-0 .4-0 .5-0 .5-0 .5-.1 .5-0 .5-0 .5-0 .5-0 .4-0 .5-.1 .5-0 .5-0 .5-0 .5-.1 .5-0 .5-0 .5-.1 .4-0 .5-0 .5-.1 .5-0 .5-.1 .5-0 .5-.1 .5-0 .4-.1 .5-.1 .5-0 .5-.1 .5-.1 .5-.1 .5-0 .5-.1 .4-.1 .5-.1 .5-.1 .5-.1 .5-.2 .5-.1 .5-.1 .5-.2 .5-.1 .4-.2 .5-.1 .5-.2 .5-.2 .5-.1 .5-.2 .5-.2 .5-.2 .4-.2 .5-.3 .5-.2 .5-.2 .5-.3 .5-.3 .5-.2 .5-.3 .4-.3 .5-.3 .5-.3 .5-.3 .5-.4 .5-.3 .5-.4 .5-.4 .5-.4 .4-.4 .5-.4 .5-.5 .5-.5 .5-.5 .5-.5 .5-.5 .5-.6 .4-.7 .5-.7 .5-.7 .5-.8 .5-.8 .5-1 .5-.9 .5-1.1 .4-1.1 .5-1.3 .5-1.3 .5-1.4 .5-1.5 .5-1.7 .5-1.7 .5-1.9 .5-1.9 .4-2.1 .5-2.1 .5-2.3 .5-2.3 .5-2.4 .5-2.5 .5-2.6 .5-2.6 .4-2.6 .5-2.7 .5-2.6 .5-2.7 .5-2.6 .5-2.6 .5-2.5 .5-2.5 .4-2.4 .5-2.3 .5-2.2 .5-2 .5-1.9 .5-1.8 .5-1.6 .5-1.5 .4-1.4 .5-1.2 .5-1 .5-.9 .5-.7 .5-.6 .5-.5 .5-.3 .5-.3 .4-.1 .5-.1 .5,.1 .5,.9 .5,1.8 .5,2.4 .5,2.9 .5,3.2 .4,3.5 .5,3.8 .5,3.8 .5,4 .5,4 .5,3.9 .5,3.9 .5,3.8 .4,3.6 .5,3.5 .5,3.3 .5,3.1 .5,3 .5,2.7 .5,2.5 .5,2.4 .5,2.2 .4,2 .5,1.8 .5,1.7 .5,1.5 .5,1.4 .5,1.3 .5,1.1 .5,1.1 .4,1 .5,.8 .5,.9 .5,.7 .5,.7 .5,.6 .5,.6 .5,.6 .4,.5 .5,.5 .5,.4 .5,.5 .5,.4 .5,.4 .5,.4 .5,.3 .5,.3 .4,.4 .5,.3 .5,.3 .5,.3 .5,.2 .5,.3 .5,.2 .5,.3 .4,.2 .5,.2 .5,.2 .5,.2 .5,.2 .5,.2 .5,.2 .5,.1 .4,.2 .5,.1 .5,.1 .5,.2 .5,.1 .5,.1 .5,.1 .5,.1 .5,.1 .4,.1 .5,.1 .5,.1 .5-0 .5,.1 .5,.1 .5-0 .5,.1 .4-0 .5,.1 .5-0 .5,.1 .5-0 .5-0 .5,.1 .5-0 .4-0 .5,.1 .5-0 .5-0 .5-0 .5-0 .5,.1 .5-0 .4-0 .5-0 .5-0 .5-0 .5-0 .5-0 .5-0 .5-0 .5,.1 .4,0 .5,0 .5,0 .5,0 .5,0 .5,0 .5,0 .5,0 .4,0 .5,0 .5,0 .5,0 .5,0 .5,0 .5,0 .5,0 .4,0 .5,0 .5,0 .5,0 .5,0" fill="none" stroke="#111" stroke-width="0.8" clip-path="url(#c3g)"/>
<path d="M392.7,119.8l.5,0 .5,0 .5,0 .5,0 .4,0 .5,0 .5,0 .5,0 .5-.1 .5,0 .5,0 .5,0 .4,0 .5,0 .5,0 .5,0 .5,0 .5,0 .5,0 .5-.1 .4-0 .5-0 .5-0 .5-0 .5-0 .5-0 .5-0 .5-.1 .5-0 .4-0 .5-0 .5-0 .5-0 .5-.1 .5-0 .5-0 .5-0 .4-0 .5-.1 .5-0 .5-0 .5-0 .5-.1 .5-0 .5-0 .4-0 .5-.1 .5-0 .5-0 .5-.1 .5-0 .5-0 .5-.1 .4-0 .5-0 .5-.1 .5-0 .5-0 .5-.1 .5-0 .5-.1 .5-0 .4-.1 .5-0 .5-.1 .5-0 .5-.1 .5-0 .5-.1 .5-.1 .4-0 .5-.1 .5-.1 .5-0 .5-.1 .5-.1 .5-.1 .5-.1 .4-.1 .5-.1 .5-0 .5-.2 .5-.1 .5-.1 .5-.1 .5-.1 .5-.1 .4-.2 .5-.1 .5-.2 .5-.1 .5-.2 .5-.1 .5-.2 .5-.2 .4-.2 .5-.2 .5-.2 .5-.3 .5-.2 .5-.2 .5-.3 .5-.3 .4-.3 .5-.3 .5-.4 .5-.3 .5-.4 .5-.4 .5-.4 .5-.5 .5-.4 .4-.5 .5-.6 .5-.5 .5-.6 .5-.6 .5-.7 .5-.7 .5-.8 .4-.8 .5-.8 .5-1 .5-.9 .5-1 .5-1.1 .5-1.2 .5-1.2 .4-1.3 .5-1.4 .5-1.5 .5-1.6 .5-1.6 .5-1.8 .5-1.9 .5-2 .5-2.2 .4-2.2 .5-2.4 .5-2.6 .5-2.7 .5-2.9 .5-3.1 .5-3.3 .5-3.5 .4-3.7 .5-3.9 .5-4.1 .5-4.4 .5-4.7 .5-4.9 .5-5.2 .5-5.4 .4-.4 .5,.5 .5,1.7 .5,3.5 .5,5.6 .5,8.1 .5,10.3 .5,11.9 .4,12.5 .5,12 .5,10.4 .5,8.1 .5,5.8 .5,3.6 .5,2 .5,1 .5,.4 .4,.1 .5,.1 .5-0 .5-0 .5-0 .5-0 .5-0 .5-0 .4-0 .5-0 .5-0 .5-0 .5-0 .5-0 .5-0 .5-0 .4-0 .5-0 .5-0 .5-0 .5-0 .5-0 .5-0 .5-0 .5-0 .4-0 .5-0 .5-0 .5-0 .5-0 .5-0 .5-0 .5-0 .4-0 .5-0 .5-0 .5-0 .5-0 .5-0 .5-0 .5-0 .4-0 .5-0 .5-0 .5-0 .5-0 .5-0 .5-0 .5-0 .5-0 .4-0 .5-0 .5-0 .5-0 .5-0 .5-0 .5-0 .5-0 .4-0 .5-0 .5-0 .5-0 .5-0 .5-0 .5-0 .5-0 .4-0 .5-0 .5-0 .5-0 .5-0 .5-0 .5-0 .5-0 .5-0 .4-0 .5-0 .5-0 .5-0 .5-0 .5-0 .5-0 .5-0 .4-0 .5-0 .5-0 .5-0 .5-0 .5-0 .5-0 .5-0 .4-0 .5-0 .5-0 .5-0 .5-0 .5-0 .5-0 .5-0 .4-0 .5-0 .5-0 .5-0 .5-0 .5-0 .5-0 .5-0 .5-0 .4-0 .5-0 .5-0 .5-0 .5-0 .5-0 .5-0 .5-0 .4-0 .5-0 .5-0 .5-0 .5-0 .5-0 .5-0 .5-0 .4-0 .5-0 .5-0 .5-0 .5-0" fill="none" stroke="#111" stroke-width="0.8" clip-path="url(#c3g)"/>
<path d="M392.7,247.5l.5,0 .5,0 .5-.1 .5,0 .4,0 .5-.1 .5,0 .5-.1 .5-0 .5-0 .5-.1 .5-0 .4-.1 .5-0 .5-.1 .5-0 .5-.1 .5-.1 .5-0 .5-.1 .4-0 .5-.1 .5-.1 .5-0 .5-.1 .5-.1 .5-0 .5-.1 .5-.1 .4-.1 .5-.1 .5-0 .5-.1 .5-.1 .5-.1 .5-.1 .5-.1 .4-.1 .5-.1 .5-.1 .5-.1 .5-.1 .5-.1 .5-.1 .5-.1 .4-.1 .5-.2 .5-.1 .5-.1 .5-.1 .5-.1 .5-.2 .5-.1 .4-.1 .5-.2 .5-.1 .5-.1 .5-.2 .5-.1 .5-.2 .5-.1 .5-.2 .4-.1 .5-.2 .5-.1 .5-.2 .5-.2 .5-.1 .5-.2 .5-.1 .4-.2 .5-.2 .5-.2 .5-.1 .5-.2 .5-.2 .5-.2 .5-.2 .4-.2 .5-.2 .5-.1 .5-.2 .5-.2 .5-.3 .5-.2 .5-.2 .5-.2 .4-.2 .5-.3 .5-.2 .5-.3 .5-.2 .5-.3 .5-.3 .5-.3 .4-.3 .5-.3 .5-.3 .5-.4 .5-.4 .5-.4 .5-.4 .5-.5 .4-.6 .5-.5 .5-.7 .5-.7 .5-.8 .5-.9 .5-1 .5-1.1 .5-1.3 .4-1.5 .5-1.7 .5-2 .5-2.4 .5-2.8 .5-3.4 .5-4 .5-4.9 .4-5.8 .5-6.8 .5-8 .5-8.7 .5-8.9 .5-8 .5-5.4 .5-.9 .4,7.5 .5,11.9 .5,13.9 .5,13.9 .5,12.6 .5,10.7 .5,8.5 .5,6.5 .5,4.6 .4,3.1 .5,2.1 .5,1.3 .5,.8 .5,.5 .5,.3 .5,.1 .5,.1 .4,.1 .5-0 .5-0 .5-0 .5-0 .5-0 .5-0 .5-0 .4-0 .5-0 .5-0 .5-0 .5-0 .5-0 .5-0 .5-0 .4-0 .5-0 .5-0 .5-0 .5-0 .5-0 .5-0 .5-0 .5-0 .4-0 .5-0 .5-0 .5-0 .5-0 .5-0 .5-0 .5-0 .4-0 .5-0 .5-0 .5-0 .5-0 .5-0 .5-0 .5-0 .4-0 .5-0 .5-0 .5-0 .5-0 .5-0 .5-0 .5-0 .5-0 .4-0 .5-0 .5-0 .5-0 .5-0 .5-0 .5-0 .5-0 .4-0 .5-0 .5-0 .5-0 .5-0 .5-0 .5-0 .5-0 .4-0 .5-0 .5-0 .5-0 .5-0 .5-0 .5-0 .5-0 .5-0 .4-0 .5-0 .5-0 .5-0 .5-0 .5-0 .5-0 .5-0 .4-0 .5-0 .5-0 .5-0 .5-0 .5-0 .5-0 .5-0 .4-0 .5-0 .5-0 .5-0 .5-0 .5-0 .5-0 .5-0 .5-0 .4-0 .5-0 .5-0 .5-0 .5-0 .5-0 .5-0 .5-0 .4-0 .5-0 .5-0 .5-0 .5-0 .5-0 .5-0 .5-0 .4-0 .5-0 .5-0 .5-0 .5-0 .5-0 .5-0 .5-0 .4-0 .5-0 .5-0 .5-0 .5-0 .5-0 .5-0 .5-0 .5-0 .4-0 .5-0 .5-0 .5-0 .5-0 .5-0 .5-0 .5-0 .4-0 .5-0 .5-0 .5-0 .5-0 .5-0 .5-0 .5-0 .4-0 .5-0 .5-0 .5-0 .5-0 L538.6,248.3 L392.7,248.3 Z" fill="#328ce6" clip-path="url(#c3h)"/>
<path d="M392.7,248.3l.5,0 .5,0 .5,0 .5,0 .4,0 .5,0 .5,0 .5-.1 .5-0 .5-0 .5-0 .5-0 .4-0 .5-0 .5-0 .5-0 .5-0 .5-0 .5-0 .5-0 .4-.1 .5-0 .5-0 .5-0 .5-0 .5-0 .5-0 .5-.1 .5-0 .4-0 .5-0 .5-.1 .5-0 .5-0 .5-0 .5-.1 .5-0 .4-0 .5-.1 .5-0 .5-.1 .5-0 .5-.1 .5-0 .5-.1 .4-0 .5-.1 .5-.1 .5-0 .5-.1 .5-.1 .5-.1 .5-0 .4-.1 .5-.1 .5-.1 .5-.1 .5-.1 .5-.2 .5-.1 .5-.1 .5-.1 .4-.2 .5-.1 .5-.2 .5-.1 .5-.2 .5-.1 .5-.2 .5-.2 .4-.2 .5-.2 .5-.2 .5-.2 .5-.2 .5-.2 .5-.3 .5-.2 .4-.3 .5-.2 .5-.3 .5-.2 .5-.3 .5-.3 .5-.3 .5-.3 .5-.3 .4-.3 .5-.4 .5-.3 .5-.3 .5-.4 .5-.3 .5-.4 .5-.4 .4-.3 .5-.4 .5-.4 .5-.4 .5-.5 .5-.4 .5-.5 .5-.4 .4-.5 .5-.5 .5-.6 .5-.5 .5-.7 .5-.6 .5-.7 .5-.8 .5-.8 .4-.9 .5-1 .5-1.1 .5-1.2 .5-1.3 .5-1.4 .5-1.5 .5-1.7 .4-1.8 .5-2 .5-2.1 .5-2.3 .5-2.4 .5-2.6 .5-2.7 .5-2.8 .4-3 .5-3 .5-3.2 .5-3.2 .5-3.2 .5-3.2 .5-3.3 .5-3.1 .5-3.1 .4-3 .5-2.8 .5-2.6 .5-2.5 .5-2.2 .5-2 .5-1.7 .5-1.5 .4-1.2 .5-.9 .5-.6 .5-.4 .5-.1 .5,.1 .5,.6 .5,1.1 .4,1.4 .5,1.7 .5,2.1 .5,2.4 .5,2.7 .5,2.9 .5,3.1 .5,3.2 .4,3.3 .5,3.4 .5,3.5 .5,3.4 .5,3.4 .5,3.4 .5,3.2 .5,3.2 .5,3 .4,2.9 .5,2.8 .5,2.6 .5,2.5 .5,2.3 .5,2.1 .5,2 .5,1.9 .4,1.7 .5,1.5 .5,1.5 .5,1.3 .5,1.3 .5,1.1 .5,1 .5,1 .4,.9 .5,.8 .5,.8 .5,.7 .5,.7 .5,.6 .5,.6 .5,.6 .5,.5 .4,.5 .5,.5 .5,.4 .5,.5 .5,.4 .5,.4 .5,.4 .5,.4 .4,.4 .5,.3 .5,.4 .5,.3 .5,.3 .5,.3 .5,.3 .5,.3 .4,.3 .5,.3 .5,.2 .5,.3 .5,.2 .5,.2 .5,.2 .5,.3 .5,.2 .4,.1 .5,.2 .5,.2 .5,.2 .5,.1 .5,.2 .5,.1 .5,.1 .4,.2 .5,.1 .5,.1 .5,.1 .5,.1 .5,.1 .5,.1 .5,.1 .4,.1 .5-0 .5,.1 .5,.1 .5-0 .5,.1 .5,.1 .5-0 .5-0 .4,.1 .5-0 .5,.1 .5-0 .5-0 .5,.1 .5-0 .5-0 .4-0 .5,.1 .5-0 .5-0 .5-0 .5-0 .5,.1 .5-0 .4-0 .5-0 .5-0 .5-0 .5-0 .5-0 .5-0 .5-0 .4-0 .5,.1 .5-0 .5-0 .5-0 .5-0 .5-0 .5-0 .5-0 .4-0 .5-0 .5-0 .5-0 .5-0 .5-0 .5-0 .5-0 .4-0 .5-0 .5-0 .5-0 .5-0 .5-0 .5-0 .5-0 .4-0 .5-0 .5-0 .5-0 .5-0 L538.6,248.3 L392.7,248.3 Z" fill="#fa3237" clip-path="url(#c3h)"/>
<path d="M392.7,248.3l.5,0 .5,0 .5,0 .5,0 .4,0 .5,0 .5,0 .5-.1 .5-0 .5-0 .5-0 .5-0 .4-0 .5-0 .5-0 .5-0 .5-0 .5-0 .5-0 .5-0 .4-.1 .5-0 .5-0 .5-0 .5-0 .5-0 .5-0 .5-.1 .5-0 .4-0 .5-0 .5-.1 .5-0 .5-0 .5-0 .5-.1 .5-0 .4-0 .5-.1 .5-0 .5-.1 .5-0 .5-.1 .5-0 .5-.1 .4-0 .5-.1 .5-.1 .5-0 .5-.1 .5-.1 .5-.1 .5-0 .4-.1 .5-.1 .5-.1 .5-.1 .5-.1 .5-.2 .5-.1 .5-.1 .5-.1 .4-.2 .5-.1 .5-.2 .5-.1 .5-.2 .5-.1 .5-.2 .5-.2 .4-.2 .5-.2 .5-.2 .5-.2 .5-.2 .5-.2 .5-.3 .5-.2 .4-.3 .5-.2 .5-.3 .5-.2 .5-.3 .5-.3 .5-.3 .5-.3 .5-.3 .4-.3 .5-.4 .5-.3 .5-.3 .5-.4 .5-.3 .5-.4 .5-.4 .4-.3 .5-.4 .5-.4 .5-.4 .5-.5 .5-.4 .5-.5 .5-.4 .4-.5 .5-.5 .5-.6 .5-.5 .5-.7 .5-.6 .5-.7 .5-.8 .5-.8 .4-.9 .5-1 .5-1.1 .5-1.2 .5-1.3 .5-1.4 .5-1.5 .5-1.7 .4-1.8 .5-2 .5-2.1 .5-2.3 .5-2.4 .5-2.6 .5-2.7 .5-2.8 .4-3 .5-3 .5-3.2 .5,6.4 .5,12.6 .5,10.7 .5,8.5 .5,6.5 .5,4.6 .4,3.1 .5,2.1 .5,1.3 .5,.8 .5,.5 .5,.3 .5,.1 .5,.1 .4,.1 .5-0 .5-0 .5-0 .5-0 .5-0 .5-0 .5-0 .4-0 .5-0 .5-0 .5-0 .5-0 .5-0 .5-0 .5-0 .4-0 .5-0 .5-0 .5-0 .5-0 .5-0 .5-0 .5-0 .5-0 .4-0 .5-0 .5-0 .5-0 .5-0 .5-0 .5-0 .5-0 .4-0 .5-0 .5-0 .5-0 .5-0 .5-0 .5-0 .5-0 .4-0 .5-0 .5-0 .5-0 .5-0 .5-0 .5-0 .5-0 .5-0 .4-0 .5-0 .5-0 .5-0 .5-0 .5-0 .5-0 .5-0 .4-0 .5-0 .5-0 .5-0 .5-0 .5-0 .5-0 .5-0 .4-0 .5-0 .5-0 .5-0 .5-0 .5-0 .5-0 .5-0 .5-0 .4-0 .5-0 .5-0 .5-0 .5-0 .5-0 .5-0 .5-0 .4-0 .5-0 .5-0 .5-0 .5-0 .5-0 .5-0 .5-0 .4-0 .5-0 .5-0 .5-0 .5-0 .5-0 .5-0 .5-0 .5-0 .4-0 .5-0 .5-0 .5-0 .5-0 .5-0 .5-0 .5-0 .4-0 .5-0 .5-0 .5-0 .5-0 .5-0 .5-0 .5-0 .4-0 .5-0 .5-0 .5-0 .5-0 .5-0 .5-0 .5-0 .4-0 .5-0 .5-0 .5-0 .5-0 .5-0 .5-0 .5-0 .5-0 .4-0 .5-0 .5-0 .5-0 .5-0 .5-0 .5-0 .5-0 .4-0 .5-0 .5-0 .5-0 .5-0 .5-0 .5-0 .5-0 .4-0 .5-0 .5-0 .5-0 .5-0 L538.6,248.3 L392.7,248.3 Z" fill="#5c4ea0" clip-path="url(#c3h)"/>
<path d="M392.7,248.3l.5,0 .5,0 .5,0 .5,0 .4,0 .5,0 .5,0 .5-.1 .5-0 .5-0 .5-0 .5-0 .4-0 .5-0 .5-0 .5-0 .5-0 .5-0 .5-0 .5-0 .4-.1 .5-0 .5-0 .5-0 .5-0 .5-0 .5-0 .5-.1 .5-0 .4-0 .5-0 .5-.1 .5-0 .5-0 .5-0 .5-.1 .5-0 .4-0 .5-.1 .5-0 .5-.1 .5-0 .5-.1 .5-0 .5-.1 .4-0 .5-.1 .5-.1 .5-0 .5-.1 .5-.1 .5-.1 .5-0 .4-.1 .5-.1 .5-.1 .5-.1 .5-.1 .5-.2 .5-.1 .5-.1 .5-.1 .4-.2 .5-.1 .5-.2 .5-.1 .5-.2 .5-.1 .5-.2 .5-.2 .4-.2 .5-.2 .5-.2 .5-.2 .5-.2 .5-.2 .5-.3 .5-.2 .4-.3 .5-.2 .5-.3 .5-.2 .5-.3 .5-.3 .5-.3 .5-.3 .5-.3 .4-.3 .5-.4 .5-.3 .5-.3 .5-.4 .5-.3 .5-.4 .5-.4 .4-.3 .5-.4 .5-.4 .5-.4 .5-.5 .5-.4 .5-.5 .5-.4 .4-.5 .5-.5 .5-.6 .5-.5 .5-.7 .5-.6 .5-.7 .5-.8 .5-.8 .4-.9 .5-1 .5-1.1 .5-1.2 .5-1.3 .5-1.4 .5-1.5 .5-1.7 .4-1.8 .5-2 .5-2.1 .5-2.3 .5-2.4 .5-2.6 .5-2.7 .5-2.8 .4-3 .5-3 .5-3.2 .5-3.2 .5-3.2 .5-3.2 .5-3.3 .5-3.1 .5-3.1 .4-3 .5-2.8 .5-2.6 .5-2.5 .5-2.2 .5-2 .5-1.7 .5-1.5 .4-1.2 .5-.9 .5-.6 .5-.4 .5-.1 .5,.1 .5,.6 .5,1.1 .4,1.4 .5,1.7 .5,2.1 .5,2.4 .5,2.7 .5,2.9 .5,3.1 .5,3.2 .4,3.3 .5,3.4 .5,3.5 .5,3.4 .5,3.4 .5,3.4 .5,3.2 .5,3.2 .5,3 .4,2.9 .5,2.8 .5,2.6 .5,2.5 .5,2.3 .5,2.1 .5,2 .5,1.9 .4,1.7 .5,1.5 .5,1.5 .5,1.3 .5,1.3 .5,1.1 .5,1 .5,1 .4,.9 .5,.8 .5,.8 .5,.7 .5,.7 .5,.6 .5,.6 .5,.6 .5,.5 .4,.5 .5,.5 .5,.4 .5,.5 .5,.4 .5,.4 .5,.4 .5,.4 .4,.4 .5,.3 .5,.4 .5,.3 .5,.3 .5,.3 .5,.3 .5,.3 .4,.3 .5,.3 .5,.2 .5,.3 .5,.2 .5,.2 .5,.2 .5,.3 .5,.2 .4,.1 .5,.2 .5,.2 .5,.2 .5,.1 .5,.2 .5,.1 .5,.1 .4,.2 .5,.1 .5,.1 .5,.1 .5,.1 .5,.1 .5,.1 .5,.1 .4,.1 .5-0 .5,.1 .5,.1 .5-0 .5,.1 .5,.1 .5-0 .5-0 .4,.1 .5-0 .5,.1 .5-0 .5-0 .5,.1 .5-0 .5-0 .4-0 .5,.1 .5-0 .5-0 .5-0 .5-0 .5,.1 .5-0 .4-0 .5-0 .5-0 .5-0 .5-0 .5-0 .5-0 .5-0 .4-0 .5,.1 .5-0 .5-0 .5-0 .5-0 .5-0 .5-0 .5-0 .4-0 .5-0 .5-0 .5-0 .5-0 .5-0 .5-0 .5-0 .4-0 .5-0 .5-0 .5-0 .5-0 .5-0 .5-0 .5-0 .4-0 .5-0 .5-0 .5-0 .5-0" fill="none" stroke="#111" stroke-width="0.8" clip-path="url(#c3h)"/>
<path d="M392.7,247.5l.5,0 .5,0 .5-.1 .5,0 .4,0 .5-.1 .5,0 .5-.1 .5-0 .5-0 .5-.1 .5-0 .4-.1 .5-0 .5-.1 .5-0 .5-.1 .5-.1 .5-0 .5-.1 .4-0 .5-.1 .5-.1 .5-0 .5-.1 .5-.1 .5-0 .5-.1 .5-.1 .4-.1 .5-.1 .5-0 .5-.1 .5-.1 .5-.1 .5-.1 .5-.1 .4-.1 .5-.1 .5-.1 .5-.1 .5-.1 .5-.1 .5-.1 .5-.1 .4-.1 .5-.2 .5-.1 .5-.1 .5-.1 .5-.1 .5-.2 .5-.1 .4-.1 .5-.2 .5-.1 .5-.1 .5-.2 .5-.1 .5-.2 .5-.1 .5-.2 .4-.1 .5-.2 .5-.1 .5-.2 .5-.2 .5-.1 .5-.2 .5-.1 .4-.2 .5-.2 .5-.2 .5-.1 .5-.2 .5-.2 .5-.2 .5-.2 .4-.2 .5-.2 .5-.1 .5-.2 .5-.2 .5-.3 .5-.2 .5-.2 .5-.2 .4-.2 .5-.3 .5-.2 .5-.3 .5-.2 .5-.3 .5-.3 .5-.3 .4-.3 .5-.3 .5-.3 .5-.4 .5-.4 .5-.4 .5-.4 .5-.5 .4-.6 .5-.5 .5-.7 .5-.7 .5-.8 .5-.9 .5-1 .5-1.1 .5-1.3 .4-1.5 .5-1.7 .5-2 .5-2.4 .5-2.8 .5-3.4 .5-4 .5-4.9 .4-5.8 .5-6.8 .5-8 .5-8.7 .5-8.9 .5-8 .5-5.4 .5-.9 .4,7.5 .5,11.9 .5,13.9 .5,13.9 .5,12.6 .5,10.7 .5,8.5 .5,6.5 .5,4.6 .4,3.1 .5,2.1 .5,1.3 .5,.8 .5,.5 .5,.3 .5,.1 .5,.1 .4,.1 .5-0 .5-0 .5-0 .5-0 .5-0 .5-0 .5-0 .4-0 .5-0 .5-0 .5-0 .5-0 .5-0 .5-0 .5-0 .4-0 .5-0 .5-0 .5-0 .5-0 .5-0 .5-0 .5-0 .5-0 .4-0 .5-0 .5-0 .5-0 .5-0 .5-0 .5-0 .5-0 .4-0 .5-0 .5-0 .5-0 .5-0 .5-0 .5-0 .5-0 .4-0 .5-0 .5-0 .5-0 .5-0 .5-0 .5-0 .5-0 .5-0 .4-0 .5-0 .5-0 .5-0 .5-0 .5-0 .5-0 .5-0 .4-0 .5-0 .5-0 .5-0 .5-0 .5-0 .5-0 .5-0 .4-0 .5-0 .5-0 .5-0 .5-0 .5-0 .5-0 .5-0 .5-0 .4-0 .5-0 .5-0 .5-0 .5-0 .5-0 .5-0 .5-0 .4-0 .5-0 .5-0 .5-0 .5-0 .5-0 .5-0 .5-0 .4-0 .5-0 .5-0 .5-0 .5-0 .5-0 .5-0 .5-0 .5-0 .4-0 .5-0 .5-0 .5-0 .5-0 .5-0 .5-0 .5-0 .4-0 .5-0 .5-0 .5-0 .5-0 .5-0 .5-0 .5-0 .4-0 .5-0 .5-0 .5-0 .5-0 .5-0 .5-0 .5-0 .4-0 .5-0 .5-0 .5-0 .5-0 .5-0 .5-0 .5-0 .5-0 .4-0 .5-0 .5-0 .5-0 .5-0 .5-0 .5-0 .5-0 .4-0 .5-0 .5-0 .5-0 .5-0 .5-0 .5-0 .5-0 .4-0 .5-0 .5-0 .5-0 .5-0" fill="none" stroke="#1428b4" stroke-width="1.1" clip-path="url(#c3h)"/>
<path d="M392.7,378.3l.5,0 .5,0 .5,0 .5,0 .4,0 .5,0 .5,0 .5,0 .5,0 .5,0 .5,0 .5,0 .4,0 .5,0 .5,0 .5,0 .5,0 .5,0 .5,0 .5-.1 .4,0 .5,0 .5,0 .5,0 .5,0 .5,0 .5,0 .5,0 .5,0 .4,0 .5,0 .5,0 .5,0 .5,0 .5,0 .5-.1 .5,0 .4,0 .5,0 .5,0 .5,0 .5,0 .5,0 .5,0 .5-.1 .4,0 .5,0 .5,0 .5,0 .5,0 .5-.1 .5,0 .5,0 .4,0 .5,0 .5-.1 .5,0 .5,0 .5-.1 .5,0 .5,0 .5-.1 .4,0 .5-.1 .5,0 .5-.1 .5,0 .5-.1 .5-.1 .5,0 .4-.1 .5-.1 .5-.1 .5-.1 .5-.1 .5-.2 .5-.1 .5-.2 .4-.1 .5-.2 .5-.2 .5-.2 .5-.2 .5-.3 .5-.3 .5-.3 .5-.3 .4-.3 .5-.4 .5-.5 .5-.4 .5-.5 .5-.6 .5-.6 .5-.6 .4-.8 .5-.8 .5-.8 .5-.9 .5-1.1 .5-1.1 .5-1.2 .5-1.3 .4-1.4 .5-1.6 .5-1.7 .5-1.9 .5-2 .5-2.2 .5-2.4 .5-2.6 .5-2.8 .4-3.1 .5-3.3 .5-3.6 .5-3.9 .5-4.2 .5-4.5 .5-4.8 .5-5 .4-5.1 .5-5.3 .5-5.3 .5-5 .5-4.7 .5-4 .5-1.3 .5,.6 .4,1.6 .5,3.1 .5,4.8 .5,6.5 .5,8.2 .5,9.4 .5,10.1 .5,10.2 .5,9.7 .4,8.7 .5,7.3 .5,5.8 .5,4.3 .5,3.1 .5,2 .5,1.2 .5,.7 .4,.4 .5,.2 .5,0 .5,.1 .5,0 .5,0 .5,0 .5,0 .4,0 .5,0 .5,0 .5,0 .5,0 .5,0 .5,0 .5,0 .4,0 .5,0 .5,0 .5,0 .5,0 .5,0 .5,0 .5,0 .5,0 .4,0 .5,0 .5,0 .5,0 .5,0 .5,0 .5,0 .5,0 .4,0 .5,0 .5,0 .5,0 .5,0 .5,0 .5,0 .5,0 .4,0 .5,0 .5,0 .5,0 .5,0 .5,0 .5,0 .5,0 .5,0 .4,0 .5,0 .5,0 .5,0 .5,0 .5,0 .5,0 .5,0 .4,0 .5,0 .5,0 .5,0 .5,0 .5,0 .5,0 .5,0 .4,0 .5,0 .5,0 .5,0 .5,0 .5,0 .5,0 .5,0 .5,0 .4,0 .5,0 .5,0 .5,0 .5,0 .5,0 .5,0 .5,0 .4,0 .5,0 .5,0 .5,0 .5,0 .5,0 .5,0 .5,0 .4,0 .5,0 .5,0 .5,0 .5,0 .5,0 .5,0 .5,0 .5,0 .4,0 .5,0 .5,0 .5,0 .5,0 .5,0 .5,0 .5,0 .4,0 .5,0 .5,0 .5,0 .5,0 .5,0 .5,0 .5,0 .4,0 .5,0 .5,0 .5,0 .5,0 .5,0 .5,0 .5,0 .4,0 .5,0 .5,0 .5,0 .5,0 .5,0 .5,0 .5,0 .5,0 .4,0 .5,0 .5,0 .5,0 .5,0 .5,0 .5,0 .5,0 .4,0 .5,0 .5,0 .5,0 .5,0 .5,0 .5,0 .5,0 .4,0 .5,0 .5,0 .5,0 .5,0 L538.6,378.5 L392.7,378.5 Z" fill="#328ce6" clip-path="url(#c3l)"/>
<path d="M392.7,378.3l.5,0 .5,0 .5,0 .5,0 .4,0 .5,0 .5,0 .5,0 .5,0 .5,0 .5,0 .5,0 .4,0 .5,0 .5,0 .5,0 .5,0 .5,0 .5,0 .5,0 .4,0 .5,0 .5,0 .5,0 .5,0 .5,0 .5,0 .5,0 .5-.1 .4,0 .5,0 .5,0 .5,0 .5,0 .5,0 .5,0 .5,0 .4,0 .5,0 .5,0 .5-.1 .5,0 .5,0 .5,0 .5,0 .4,0 .5-.1 .5,0 .5,0 .5,0 .5-.1 .5,0 .5,0 .4-.1 .5,0 .5,0 .5-.1 .5,0 .5-.1 .5,0 .5-.1 .5-.1 .4,0 .5-.1 .5-.1 .5-.1 .5-.1 .5-.1 .5-.1 .5-.1 .4-.2 .5-.1 .5-.2 .5-.1 .5-.2 .5-.2 .5-.2 .5-.2 .4-.2 .5-.3 .5-.3 .5-.3 .5-.3 .5-.3 .5-.4 .5-.3 .5-.4 .4-.5 .5-.4 .5-.5 .5-.5 .5-.6 .5-.5 .5-.6 .5-.7 .4-.7 .5-.7 .5-.7 .5-.8 .5-.9 .5-.9 .5-.9 .5-1 .4-1 .5-1 .5-1.2 .5-1.1 .5-1.2 .5-1.3 .5-1.3 .5-1.4 .5-1.4 .4-1.4 .5-1.6 .5-1.5 .5-1.6 .5-1.7 .5-1.7 .5-1.8 .5-1.8 .4-1.8 .5-1.9 .5-2 .5-1.9 .5-2 .5-2.1 .5-2 .5-2.1 .4-2.1 .5-2.1 .5-2.2 .5-2.1 .5-2.1 .5-2.2 .5-2.1 .5-2.1 .5-2 .4-2.1 .5-1.9 .5-2 .5-1.9 .5-1.8 .5-1.7 .5-1.6 .5-1.6 .4-1.4 .5-1.3 .5-1.2 .5-1 .5-.9 .5-.7 .5-.5 .5-.2 .4,0 .5,.2 .5,.3 .5,.4 .5,.7 .5,1 .5,1.2 .5,1.6 .4,1.8 .5,2.1 .5,2.4 .5,2.6 .5,3 .5,3.1 .5,3.3 .5,3.5 .5,3.6 .4,3.6 .5,3.7 .5,3.6 .5,3.5 .5,3.5 .5,3.2 .5,3.1 .5,3 .4,2.7 .5,2.4 .5,2.3 .5,2.1 .5,1.9 .5,1.7 .5,1.5 .5,1.3 .4,1.3 .5,1.1 .5,1.1 .5,.9 .5,.9 .5,.8 .5,.8 .5,.7 .5,.8 .4,.6 .5,.7 .5,.6 .5,.7 .5,.6 .5,.5 .5,.6 .5,.5 .4,.6 .5,.5 .5,.5 .5,.4 .5,.5 .5,.4 .5,.5 .5,.4 .4,.4 .5,.3 .5,.4 .5,.3 .5,.4 .5,.3 .5,.3 .5,.2 .5,.3 .4,.2 .5,.3 .5,.2 .5,.2 .5,.2 .5,.2 .5,.2 .5,.1 .4,.2 .5,.1 .5,.2 .5,.1 .5,.1 .5,.1 .5,.1 .5,.1 .4,.1 .5,.1 .5,.1 .5,0 .5,.1 .5,.1 .5,0 .5,.1 .5,0 .4,.1 .5,0 .5,0 .5,.1 .5-0 .5-0 .5,.1 .5-0 .4-0 .5-0 .5-0 .5,.1 .5-0 .5-0 .5-0 .5-0 .4-0 .5-0 .5-0 .5-0 .5-0 .5,.1 .5-0 .5-0 .4-0 .5-0 .5-0 .5-0 .5-0 .5-0 .5-0 .5-0 .5-0 .4-0 .5-0 .5-0 .5-0 .5-0 .5-0 .5-0 .5-0 .4-0 .5-0 .5-0 .5-0 .5-0 .5-0 .5-0 .5-0 .4-0 .5-0 .5-0 .5-0 .5-0 L538.6,378.5 L392.7,378.5 Z" fill="#fa3237" clip-path="url(#c3l)"/>
<path d="M392.7,378.3l.5,0 .5,0 .5,0 .5,0 .4,0 .5,0 .5,0 .5,0 .5,0 .5,0 .5,0 .5,0 .4,0 .5,0 .5,0 .5,0 .5,0 .5,0 .5,0 .5,0 .4,0 .5,0 .5,0 .5,0 .5,0 .5,0 .5,0 .5,0 .5-.1 .4,0 .5,0 .5,0 .5,0 .5,0 .5,0 .5,0 .5,0 .4,0 .5,0 .5,0 .5-.1 .5,0 .5,0 .5,0 .5,0 .4,0 .5-.1 .5,0 .5,0 .5,0 .5-.1 .5,0 .5,0 .4,0 .5,0 .5-.1 .5,0 .5,0 .5-.1 .5,0 .5,0 .5-.1 .4,0 .5-.1 .5,0 .5-.1 .5,0 .5-.1 .5-.1 .5,0 .4-.1 .5-.1 .5-.1 .5-.1 .5-.1 .5-.2 .5-.1 .5-.2 .4-.1 .5-.2 .5-.2 .5-.2 .5-.2 .5-.3 .5-.3 .5-.3 .5-.3 .4-.3 .5-.4 .5-.5 .5-.4 .5-.5 .5-.6 .5-.6 .5-.6 .4-.8 .5-.8 .5-.8 .5-.9 .5-1.1 .5-1.1 .5-1.2 .5-1.3 .4-1.4 .5-1.2 .5-1.2 .5-1.1 .5-1.2 .5-1.3 .5-1.3 .5-1.4 .5-1.4 .4-1.4 .5-1.6 .5-1.5 .5-1.6 .5-1.7 .5-1.7 .5-1.8 .5-1.8 .4-1.8 .5-1.9 .5-2 .5-1.9 .5-2 .5-2.1 .5-2 .5-2.1 .4-2.1 .5-2.1 .5-2.2 .5-2.1 .5-2.1 .5,3.5 .5,10.1 .5,10.2 .5,9.7 .4,8.7 .5,7.3 .5,5.8 .5,4.3 .5,3.1 .5,2 .5,1.2 .5,.7 .4,.4 .5,.2 .5,0 .5,.1 .5,0 .5,0 .5,0 .5,0 .4,0 .5,0 .5,0 .5,0 .5,0 .5,0 .5,0 .5,0 .4,0 .5,0 .5,0 .5,0 .5,0 .5,0 .5,0 .5,0 .5,0 .4,0 .5,0 .5,0 .5,0 .5,0 .5,0 .5,0 .5,0 .4,0 .5,0 .5,0 .5,0 .5,0 .5,0 .5,0 .5,0 .4,0 .5,0 .5,0 .5,0 .5,0 .5,0 .5,0 .5,0 .5,0 .4,0 .5,0 .5,0 .5,0 .5,0 .5,0 .5,0 .5,0 .4,0 .5,0 .5,0 .5,0 .5,0 .5,0 .5,0 .5,0 .4,0 .5,0 .5,0 .5,0 .5,0 .5,0 .5,0 .5,0 .5,0 .4,0 .5,0 .5,0 .5,0 .5,0 .5,0 .5,0 .5,0 .4,0 .5,0 .5,0 .5,0 .5,0 .5,0 .5,0 .5,0 .4,0 .5,0 .5,0 .5,0 .5,0 .5,0 .5,0 .5,0 .5,0 .4,0 .5,0 .5,0 .5,0 .5,0 .5,0 .5,0 .5,0 .4,0 .5,0 .5,0 .5,0 .5,0 .5,0 .5,0 .5,0 .4,0 .5,0 .5,0 .5,0 .5,0 .5,0 .5,0 .5,0 .4,0 .5,0 .5,0 .5,0 .5,0 .5,0 .5,0 .5,0 .5,0 .4,0 .5,0 .5,0 .5,0 .5,0 .5,0 .5,0 .5,0 .4,0 .5,0 .5,0 .5,0 .5,0 .5,0 .5,0 .5,0 .4,0 .5,0 .5,0 .5,0 .5,0 L538.6,378.5 L392.7,378.5 Z" fill="#5c4ea0" clip-path="url(#c3l)"/>
<path d="M392.7,378.3l.5,0 .5,0 .5,0 .5,0 .4,0 .5,0 .5,0 .5,0 .5,0 .5,0 .5,0 .5,0 .4,0 .5,0 .5,0 .5,0 .5,0 .5,0 .5,0 .5,0 .4,0 .5,0 .5,0 .5,0 .5,0 .5,0 .5,0 .5,0 .5-.1 .4,0 .5,0 .5,0 .5,0 .5,0 .5,0 .5,0 .5,0 .4,0 .5,0 .5,0 .5-.1 .5,0 .5,0 .5,0 .5,0 .4,0 .5-.1 .5,0 .5,0 .5,0 .5-.1 .5,0 .5,0 .4-.1 .5,0 .5,0 .5-.1 .5,0 .5-.1 .5,0 .5-.1 .5-.1 .4,0 .5-.1 .5-.1 .5-.1 .5-.1 .5-.1 .5-.1 .5-.1 .4-.2 .5-.1 .5-.2 .5-.1 .5-.2 .5-.2 .5-.2 .5-.2 .4-.2 .5-.3 .5-.3 .5-.3 .5-.3 .5-.3 .5-.4 .5-.3 .5-.4 .4-.5 .5-.4 .5-.5 .5-.5 .5-.6 .5-.5 .5-.6 .5-.7 .4-.7 .5-.7 .5-.7 .5-.8 .5-.9 .5-.9 .5-.9 .5-1 .4-1 .5-1 .5-1.2 .5-1.1 .5-1.2 .5-1.3 .5-1.3 .5-1.4 .5-1.4 .4-1.4 .5-1.6 .5-1.5 .5-1.6 .5-1.7 .5-1.7 .5-1.8 .5-1.8 .4-1.8 .5-1.9 .5-2 .5-1.9 .5-2 .5-2.1 .5-2 .5-2.1 .4-2.1 .5-2.1 .5-2.2 .5-2.1 .5-2.1 .5-2.2 .5-2.1 .5-2.1 .5-2 .4-2.1 .5-1.9 .5-2 .5-1.9 .5-1.8 .5-1.7 .5-1.6 .5-1.6 .4-1.4 .5-1.3 .5-1.2 .5-1 .5-.9 .5-.7 .5-.5 .5-.2 .4,0 .5,.2 .5,.3 .5,.4 .5,.7 .5,1 .5,1.2 .5,1.6 .4,1.8 .5,2.1 .5,2.4 .5,2.6 .5,3 .5,3.1 .5,3.3 .5,3.5 .5,3.6 .4,3.6 .5,3.7 .5,3.6 .5,3.5 .5,3.5 .5,3.2 .5,3.1 .5,3 .4,2.7 .5,2.4 .5,2.3 .5,2.1 .5,1.9 .5,1.7 .5,1.5 .5,1.3 .4,1.3 .5,1.1 .5,1.1 .5,.9 .5,.9 .5,.8 .5,.8 .5,.7 .5,.8 .4,.6 .5,.7 .5,.6 .5,.7 .5,.6 .5,.5 .5,.6 .5,.5 .4,.6 .5,.5 .5,.5 .5,.4 .5,.5 .5,.4 .5,.5 .5,.4 .4,.4 .5,.3 .5,.4 .5,.3 .5,.4 .5,.3 .5,.3 .5,.2 .5,.3 .4,.2 .5,.3 .5,.2 .5,.2 .5,.2 .5,.2 .5,.2 .5,.1 .4,.2 .5,.1 .5,.2 .5,.1 .5,.1 .5,.1 .5,.1 .5,.1 .4,.1 .5,.1 .5,.1 .5,0 .5,.1 .5,.1 .5,0 .5,.1 .5,0 .4,.1 .5,0 .5,0 .5,.1 .5-0 .5-0 .5,.1 .5-0 .4-0 .5-0 .5-0 .5,.1 .5-0 .5-0 .5-0 .5-0 .4-0 .5-0 .5-0 .5-0 .5-0 .5,.1 .5-0 .5-0 .4-0 .5-0 .5-0 .5-0 .5-0 .5-0 .5-0 .5-0 .5-0 .4-0 .5-0 .5-0 .5-0 .5-0 .5-0 .5-0 .5-0 .4-0 .5-0 .5-0 .5-0 .5-0 .5-0 .5-0 .5-0 .4-0 .5-0 .5-0 .5-0 .5-0" fill="none" stroke="#111" stroke-width="0.8" clip-path="url(#c3l)"/>
<path d="M392.7,378.3l.5,0 .5,0 .5,0 .5,0 .4,0 .5,0 .5,0 .5,0 .5,0 .5,0 .5,0 .5,0 .4,0 .5,0 .5,0 .5,0 .5,0 .5,0 .5,0 .5-.1 .4,0 .5,0 .5,0 .5,0 .5,0 .5,0 .5,0 .5,0 .5,0 .4,0 .5,0 .5,0 .5,0 .5,0 .5,0 .5-.1 .5,0 .4,0 .5,0 .5,0 .5,0 .5,0 .5,0 .5,0 .5-.1 .4,0 .5,0 .5,0 .5,0 .5,0 .5-.1 .5,0 .5,0 .4,0 .5,0 .5-.1 .5,0 .5,0 .5-.1 .5,0 .5,0 .5-.1 .4,0 .5-.1 .5,0 .5-.1 .5,0 .5-.1 .5-.1 .5,0 .4-.1 .5-.1 .5-.1 .5-.1 .5-.1 .5-.2 .5-.1 .5-.2 .4-.1 .5-.2 .5-.2 .5-.2 .5-.2 .5-.3 .5-.3 .5-.3 .5-.3 .4-.3 .5-.4 .5-.5 .5-.4 .5-.5 .5-.6 .5-.6 .5-.6 .4-.8 .5-.8 .5-.8 .5-.9 .5-1.1 .5-1.1 .5-1.2 .5-1.3 .4-1.4 .5-1.6 .5-1.7 .5-1.9 .5-2 .5-2.2 .5-2.4 .5-2.6 .5-2.8 .4-3.1 .5-3.3 .5-3.6 .5-3.9 .5-4.2 .5-4.5 .5-4.8 .5-5 .4-5.1 .5-5.3 .5-5.3 .5-5 .5-4.7 .5-4 .5-1.3 .5,.6 .4,1.6 .5,3.1 .5,4.8 .5,6.5 .5,8.2 .5,9.4 .5,10.1 .5,10.2 .5,9.7 .4,8.7 .5,7.3 .5,5.8 .5,4.3 .5,3.1 .5,2 .5,1.2 .5,.7 .4,.4 .5,.2 .5,0 .5,.1 .5,0 .5,0 .5,0 .5,0 .4,0 .5,0 .5,0 .5,0 .5,0 .5,0 .5,0 .5,0 .4,0 .5,0 .5,0 .5,0 .5,0 .5,0 .5,0 .5,0 .5,0 .4,0 .5,0 .5,0 .5,0 .5,0 .5,0 .5,0 .5,0 .4,0 .5,0 .5,0 .5,0 .5,0 .5,0 .5,0 .5,0 .4,0 .5,0 .5,0 .5,0 .5,0 .5,0 .5,0 .5,0 .5,0 .4,0 .5,0 .5,0 .5,0 .5,0 .5,0 .5,0 .5,0 .4,0 .5,0 .5,0 .5,0 .5,0 .5,0 .5,0 .5,0 .4,0 .5,0 .5,0 .5,0 .5,0 .5,0 .5,0 .5,0 .5,0 .4,0 .5,0 .5,0 .5,0 .5,0 .5,0 .5,0 .5,0 .4,0 .5,0 .5,0 .5,0 .5,0 .5,0 .5,0 .5,0 .4,0 .5,0 .5,0 .5,0 .5,0 .5,0 .5,0 .5,0 .5,0 .4,0 .5,0 .5,0 .5,0 .5,0 .5,0 .5,0 .5,0 .4,0 .5,0 .5,0 .5,0 .5,0 .5,0 .5,0 .5,0 .4,0 .5,0 .5,0 .5,0 .5,0 .5,0 .5,0 .5,0 .4,0 .5,0 .5,0 .5,0 .5,0 .5,0 .5,0 .5,0 .5,0 .4,0 .5,0 .5,0 .5,0 .5,0 .5,0 .5,0 .5,0 .4,0 .5,0 .5,0 .5,0 .5,0 .5,0 .5,0 .5,0 .4,0 .5,0 .5,0 .5,0 .5,0" fill="none" stroke="#111" stroke-width="0.8" clip-path="url(#c3l)"/>
<text x="455.5" y="13.3" font-size="10" text-anchor="start" fill="#231f20" stroke="#231f20" stroke-width="0.28" textLength="37.6" lengthAdjust="spacingAndGlyphs">40 meV</text>
<line x1="465.2" y1="18.8" x2="476" y2="18.8" stroke="#000" stroke-width="1.3"/>
<path d="M461.6,18.8 L467.6,15.4 L465.8,18.8 L467.6,22.2 Z" fill="#000"/>
<path d="M479.6,18.8 L473.6,15.4 L475.4,18.8 L473.6,22.2 Z" fill="#000"/>
<path d="M463.5,22.3 C449.4,19.3 437.8,28.4 437.8,46.8" fill="none" stroke="#000" stroke-width="1.3"/>
<path d="M437.8,53 L433.7,45.8 L437.8,47.8 L441.9,45.8 Z" fill="#000"/>
<path d="M476.5,22.3 C491.6,19.3 504,28.4 504,46.8" fill="none" stroke="#000" stroke-width="1.3"/>
<path d="M504,53 L499.9,45.8 L504,47.8 L508.1,45.8 Z" fill="#000"/>
<text x="431.8" y="66" font-size="10" text-anchor="start" fill="#231f20" stroke="#231f20" stroke-width="0.28" textLength="12" lengthAdjust="spacingAndGlyphs">4K</text>
<text x="493.4" y="66" font-size="10" text-anchor="start" fill="#231f20" stroke="#231f20" stroke-width="0.28" textLength="25" lengthAdjust="spacingAndGlyphs">300K</text>
<text x="445" y="136.6" font-size="10" text-anchor="start" fill="#231f20" stroke="#231f20" stroke-width="0.28" textLength="37.6" lengthAdjust="spacingAndGlyphs">60 meV</text>
<line x1="451.3" y1="143.2" x2="468.1" y2="143.2" stroke="#000" stroke-width="1.3"/>
<path d="M447.7,143.2 L453.7,139.8 L451.9,143.2 L453.7,146.6 Z" fill="#000"/>
<path d="M471.7,143.2 L465.7,139.8 L467.5,143.2 L465.7,146.6 Z" fill="#000"/>
<path d="M453.5,148.3 C438.7,145.3 426.6,154 426.6,171" fill="none" stroke="#000" stroke-width="1.3"/>
<path d="M426.6,177.2 L422.5,170 L426.6,172 L430.7,170 Z" fill="#000"/>
<path d="M466.3,148.3 C481.5,145.3 494,154 494,171" fill="none" stroke="#000" stroke-width="1.3"/>
<path d="M494,177.2 L489.9,170 L494,172 L498.1,170 Z" fill="#000"/>
<text x="420.1" y="189.7" font-size="10" text-anchor="start" fill="#231f20" stroke="#231f20" stroke-width="0.28" textLength="12.9" lengthAdjust="spacingAndGlyphs">4K</text>
<text x="485" y="189.7" font-size="10" text-anchor="start" fill="#231f20" stroke="#231f20" stroke-width="0.28" textLength="25.4" lengthAdjust="spacingAndGlyphs">300K</text>
<text x="447.8" y="265.5" font-size="10" text-anchor="start" fill="#231f20" stroke="#231f20" stroke-width="0.28" textLength="38" lengthAdjust="spacingAndGlyphs">50 meV</text>
<line x1="454.4" y1="272" x2="469.6" y2="272" stroke="#000" stroke-width="1.3"/>
<path d="M450.8,272 L456.8,268.6 L455,272 L456.8,275.4 Z" fill="#000"/>
<path d="M473.2,272 L467.2,268.6 L469,272 L467.2,275.4 Z" fill="#000"/>
<path d="M451.7,276.8 C438.9,273.8 428.4,282.3 428.4,298.7" fill="none" stroke="#000" stroke-width="1.3"/>
<path d="M428.4,304.9 L424.3,297.7 L428.4,299.7 L432.5,297.7 Z" fill="#000"/>
<path d="M469.8,276.8 C483.4,273.8 494.6,282.3 494.6,298.7" fill="none" stroke="#000" stroke-width="1.3"/>
<path d="M494.6,304.9 L490.5,297.7 L494.6,299.7 L498.7,297.7 Z" fill="#000"/>
<text x="421.3" y="319.4" font-size="10" text-anchor="start" fill="#231f20" stroke="#231f20" stroke-width="0.28" textLength="14.2" lengthAdjust="spacingAndGlyphs">4K</text>
<text x="486.6" y="319.4" font-size="10" text-anchor="start" fill="#231f20" stroke="#231f20" stroke-width="0.28" textLength="25.8" lengthAdjust="spacingAndGlyphs">300K</text>
<defs><clipPath id="c4j"><rect x="573.8" y="0.8" width="144.8" height="119.4"/></clipPath><clipPath id="c4k"><rect x="573.8" y="125" width="144.8" height="123.3"/></clipPath><clipPath id="c4l"><rect x="573.8" y="248.3" width="144.8" height="130.2"/></clipPath></defs>
<path d="M573.8,43.5l.7-2.2 .7-3.3 .7-3.8 .6-4.2 .7-4.6 .7-4.8 .7-5.1-0-.1 .5,6.9 .5,6.4 .5,5.8 .5,5.2 .5,5.8 .5,3.6 .5,3.8 .5,4.4 .5,2.9 .5,3 .5,2.5 .5,3 .5,.9 .5,1.4 .5,.7 .5,1.8 .5-1.3 .5,3.2 .5-.1 .5,.2 .5,1.5 .5,1.2 .5-0 .5-1.2 .5,1.8 .5,.9 .5-.5 .5,.5 .5,.1 .5-1.3 .5,1.6 .5-2.5 .5,1.2 .5,1.9 .5,.4 .5-1.7 .5,.5 .5,1.8 .5,.7 .5,.7 .5-.6 .5,1.7 .5-1.1 .5-1.2 .5,.2 .5-.7 .5,2.1 .5,.6 .5-.5 .5-0 .5-2.7 .5,2.5 .5,.1 .5,.5 .5,.3 .5,.1 .5,0 .5-1.2 .5,1.9 .5,.6 .5,.8 .5-1.4 .5,0 .5,1.5 .5-2.4 .5,1.9 .5,1.5 .5-1 .5-.2 .5,.3 .5-1.6 .5,.4 .5,1.7 .5,1.4 .5-2.4 .5,3.1 .5-2.2 .5,1.6 .5-.8 .5,.5 .5-1.5 .5,4.6 .5-.1 .5-1.2 .5,.6 .5,0 .5-.4 .5-1.6 .5,2.7 .5,1.9 .5-1.2 .5,1.8 .5-2.5 .5,2.2 .5-1.3 .5,2.3 .5,.7 .5-4.7 .5,4.1 .5,.1 .5-2.5 .5,2.5 .5,1 .5,.2 .5-2.2 .5,2.2 .5-.9 .5,2.2 .5-.1 .5-.8 .5,.2 .5,2.9 .5-4.9 .5,1.3 .5,3.4 .5-2.4 .5,.4 .5,1.7 .5,.3 .5,.2 .5-5.4 .5,.5 .5,4 .5,.6 .5,.1 .5,2.1 .5-.4 .5-1.3 .5,2.4 .5,.5 .5,2.1 .5-2.4 .5-1.5 .5-1.6 .5,4.6 .5-.3 .5,.4 .5-2.3 .5,.2 .5,2.4 .5-.3 .5-1 .5,1.4 .5,.9 .5-.7 .5-4.7 .5,4.3 .5-3.2 .5-2.1 .5,4.9 .5-2.7 .5,2.4 .5-2.4 .5-1.8 .5,5.2 .5-2.3 .5,4.1 .5-2.5 .5-.2 .5,1.3 .5-5.7 .5,7.8 .5-9.3 .5,6.7 .5-2.6 .5,1.9 .5,.6 .5,0 .5,2.2 .5-4.3 .5,3.7 .5-.5 .5-.7 .5-1.6 .5,1.5 .5-3.5 .5,6.7 .5-2.5 .5,1.1 .5,1.8 .5,.3 .5,1.1 .5,.6 .5,.3 .5-4 .5,1.3 .5-1.3 .5-1.6 .5-4.2 .5,6.1 .5-2.8 .5,.9 .5-4.6 .5,5.7 .5,.6 .5,.2 .5-1.1 .5-1.3 .5,1.9 .5,.2 .5-1.8 .5,2.3 .5-2 .5,.3 .5-2.3 .5,2.3 .5-.1 .5,2 .5,.5 .5-5.8 .5,5.1 .5,.1 .5,1.2 .5-2.8 .5,2.6 .5-.1 .5-4.9 .5,1 .5,2 .5,2.5 .5-5.3 .5,4 .5-.6 .5-.3 .5,1.2 .5-4.3 .5-1.4 .5,6.3 .5-.2 .5-.8 .5-1.1 .5-2.7 .5,2.5 .5,.8 .5-1.3 .5,1.1 .5,1.3 .5-3.4 .5,1.1 .5,3 .5-3.7 .5-3.2 .5,8.2 .5-2.9 .5,.7 .5,.6 .5,0 .5,.9 .5-4.1 .5-1.3 .5,.7 .5,3 .5,1.1 .5,1.4 .5-1.7 .5,1.8 .5,.2 .5-1.3 .5-8.7 .5,8.4 .5,2.3 .5-4.5 .5,1 .5,1.4 .5-3.6 .5,.7 .5,3.3 .5-5 .5,2.4 .5,3.5 .5-1.9 .5-2 .5,4.2 .5,1.4 .5-1.1 .5-2.6 .5,2.7 .5-.2 .5-4.7 .5,3.9 .5,2.4-0,6.6-.5,2.9-.5-0-.5-1-.5-3.5-.5-1.5-.5,2.3-.5-2.7-.5,3.7-.5-3.4-.5,3.5-.5-.9-.5-1.2-.5,3.6-.5-1.6-.5-.9-.5-2.6-.5-.1-.5,2.3-.5-1.6-.5-.1-.5,1.3-.5-2.2-.5,.6-.5-.4-.5,.3-.5,.7-.5,1.2-.5,1.3-.5-4.7-.5,7.6-.5-6.5-.5,1.7-.5,.1-.5,.5-.5-.8-.5,.8-.5-2.7-.5,3.1-.5,1.6-.5-2.9-.5-4-.5,3.2-.5,2.8-.5-5.3-.5,.8-.5-.8-.5-1.2-.5-.1-.5,3.6-.5-2.8-.5-.9-.5,2.5-.5,.9-.5-3.1-.5,2-.5-.8-.5,2-.5,3.6-.5-4.3-.5-.7-.5,.7-.5-2.1-.5,1-.5,2.8-.5,.4-.5-.5-.5-3.8-.5,.5-.5,2.6-.5,1.1-.5-2-.5,2.1-.5-6.3-.5,2.5-.5,1.6-.5,1.5-.5-5-.5,5.7-.5-3.8-.5-1.1-.5,.3-.5-1.7-.5,3.3-.5-2.8-.5,5-.5-3.9-.5,1.7-.5-2.2-.5,.9-.5-2.1-.5,1.6-.5,4.9-.5-4.6-.5,6.5-.5-4.1-.5,.1-.5,1.9-.5-2.7-.5,7.1-.5-7.4-.5,2.6-.5,.4-.5-3.5-.5,.7-.5-1.3-.5-1.8-.5,.1-.5-1.3-.5,3.9-.5-3.3-.5,2.3-.5-2.4-.5,6.4-.5-4.6-.5,5.1-.5-6.5-.5,2.3-.5-1.4-.5,1-.5-1.1-.5,1.6-.5-.4-.5,.8-.5-1.3-.5,4.1-.5-8.1-.5,5.4-.5-5-.5,1.3-.5,2.2-.5-.7-.5,4.3-.5-2.9-.5-2.1-.5,.1-.5-.3-.5,.4-.5,1.4-.5-3.5-.5,2.2-.5,2.7-.5-2.8-.5,1.4-.5-3.9-.5,4.2-.5-3.4-.5-.7-.5-.3-.5,5-.5-3.8-.5-1.7-.5,2.3-.5-.2-.5-2.5-.5-2.3-.5-.1-.5,4.3-.5-1.7-.5-5.1-.5,1.1-.5,2.5-.5-1.8-.5-.3-.5,2.6-.5-.8-.5,1.3-.5-2.1-.5-.9-.5-0-.5-.4-.5,4.3-.5-6-.5,.6-.5-1-.5,2.1-.5-2.9-.5,4.8-.5-4.2-.5,1.3-.5-1.6-.5,.8-.5-1.3-.5-.7-.5,1.4-.5,.2-.5-2.1-.5,2.1-.5-.5-.5-.9-.5-1-.5,2.2-.5-4-.5,1.9-.5-3.3-.5,.2-.5,.3-.5,.9-.5-.9-.5,.7-.5-1-.5-.6-.5-2-.5,2-.5-1.8-.5,.9-.5,1-.5-2.1-.5,.2-.5,.4-.5,.1-.5,1.9-.5-4.1-.5,.4-.5-.7-.5-.4-.5,.5-.5,.1-.5,2.5-.5-2.5-.5-1.4-.5,.7-.5,1.9-.5-2.9-.5-.5-.5,.9-.5-1.3-.5,.6-.5-2.6-.5,1.2-.5-.9-.5,1.7-.5-.5-.5-.6-.5-.2-.5,2.3-.5-1.4-.5-.4-.5,1.3-.5-1.6-.5-.8-.5,.3-.5-.5-.5-1.4-.5,1.3-.5-1.9-.5-.4-.5-.1-.5,.7-.5-.7-.5-.3-.5,.1-.5-.1-.5,2.8-.5-4-.5,1.9-.5,.2-.5-2.1-.5,.5-.5-1.1-.5,.3-.5-.5-.5-1.9-.5-1-.5,.1-.5-1.8-.5-1-.5-.8-.5-2.3-.5-1.4-.5-2.2-.5-.9-.5-3.9-.5-4.3-.5-3.1-.5-4-.5-5-.5-4.6-.5-5.7-.5-6.4-.5-6.4-.5-6.8-0-.2-.7,5.1-.7,4.8-.7,4.6-.6,4.2-.7,3.8-.7,3.3-.7,2.2Z" fill="#06f006" clip-path="url(#c4j)"/>
<path d="M573.8,43.5l.7-2.2 .7-3.3 .7-3.8 .6-4.2 .7-4.6 .7-4.8 .7-5.1-0-0 .5,5.4 .5,5.2 .5,4.9 .5,4.9 .5,4.3 .5,4.1 .5,3.8 .5,3.7 .5,4.2 .5,2.9 .5,1.1 .5,2 .5,1.1 .5,2.5 .5,.1 .5,1.4 .5-.6 .5,1.7 .5-.4 .5,1 .5,.5 .5,.8 .5-.4 .5-.7 .5,1.4 .5,.3 .5,.1 .5,1 .5-.6 .5,.3 .5,0 .5,1.4 .5,.5 .5,.9 .5,.5 .5-.4 .5,.6 .5,.4 .5-1.2 .5,2 .5,.6 .5,.5 .5-.7 .5,.6 .5,1.2 .5-1.6 .5,2 .5,.4 .5,.5 .5-.2 .5-.4 .5-.6 .5,1 .5-.2 .5,2 .5-.6 .5,1.1 .5,.1 .5-.9 .5-.3 .5,.7 .5,.8 .5,.6 .5,.5 .5,.3 .5,.6 .5,.4 .5-1.4 .5-1.3 .5-.5 .5,3.3 .5,.1 .5-.1 .5-1.3 .5,1.2 .5,0 .5,1.4 .5,.4 .5-.9 .5,1.1 .5,.3 .5,.3 .5-2.1 .5-2 .5,3.9 .5,.2 .5,0 .5,1 .5-1.6 .5,.6 .5,.5 .5-.6 .5-.9 .5,1.9 .5-.2 .5,1 .5-1.5 .5,2.5 .5-.2 .5,.7 .5-1.9 .5,.1 .5,2.8 .5-1 .5,1.3 .5-.7 .5-.6 .5,1.7 .5-1.9 .5-1.3 .5,1.1 .5-.1 .5,.1 .5,1.1 .5-.9 .5-1.4 .5,2 .5,.9 .5-1 .5,.6 .5,1.9 .5-3.7 .5,3.3 .5-1.2 .5,.2 .5-1 .5,3.2 .5-2 .5,.8 .5-1.1 .5,1 .5-.9 .5,1.9 .5-.2 .5,.2 .5-.7 .5-1 .5,1.5 .5-1.3 .5-2.4 .5,4.6 .5-.9 .5,.2 .5,.7 .5-2.5 .5,.8 .5,.3 .5-1.3 .5,2.6 .5-1.1 .5,.2 .5-1.3 .5,1.5 .5-2.2 .5,2.7 .5,1.6 .5-2.7 .5,2 .5-1.1 .5-.2 .5,1.2 .5,0 .5-2.8 .5,1.4 .5,.1 .5,2.3 .5-3.2 .5,.4 .5,2.6 .5-1.3 .5,2 .5-3.5 .5,4 .5-3.3 .5,3.1 .5-1.3 .5-.1 .5,.7 .5-1.3 .5,1.9 .5,.8 .5-.2 .5-.8 .5-.3 .5-3.2 .5,.3 .5,3.5 .5-5.4 .5,5.1 .5-2 .5,1.6 .5-.7 .5,1.6 .5-2.9 .5,1.2 .5,1.5 .5-1.8 .5,2.2 .5,.2 .5-.4 .5-1.4 .5,.3 .5,.7 .5,1.7 .5,.2 .5,0 .5-1 .5,1.2 .5-.1 .5,.2 .5-1.9 .5-.8 .5-.2 .5,.3 .5,1.9 .5-.8 .5-1.2 .5,2.1 .5,.3 .5-.3 .5-1.6 .5,.3 .5-.2 .5-1.8 .5,2.6 .5-.9 .5-2.4 .5,2.2 .5,3 .5-.2 .5-3 .5,4 .5-.5 .5,0 .5,1 .5-4.1 .5,1.4 .5-2.1 .5,3.3 .5-1 .5,1.8 .5-1.4 .5-.7 .5,1.3 .5-2.3 .5,2.1 .5-1.5 .5,.7 .5-.2 .5-.7 .5,1 .5-1.5 .5,.9 .5,.7 .5-1.8 .5,2.1 .5-.3 .5-1.2 .5,1.9 .5-2.6 .5,2.9 .5-3.3 .5,4.3 .5-.5 .5-2.2 .5-1.3 .5,1.8 .5-.3 .5,1.4 .5-.1 .5-.4 .5-1.1 .5-3 .5,3.8 .5-.1 .5,0 .5,1 .5-.8 .5,1.2 .5,.4 .5-2.6-0,10.6-.5-3-.5-.3-.5-1.1-.5,2.2-.5,.6-.5-.8-.5-3.2-.5,.6-.5,2.5-.5-.8-.5,2.3-.5-1-.5-1.8-.5-.1-.5,.2-.5-.1-.5,5.2-.5-5.2-.5-.7-.5,.9-.5-1.8-.5,.1-.5,2.3-.5-1.6-.5,1.8-.5-2.4-.5,.2-.5-1.1-.5-.3-.5,2.8-.5-2.2-.5,6.2-.5-3.9-.5-1.3-.5,1.4-.5-1-.5,2.9-.5-2.1-.5-1.1-.5,2.1-.5,3.7-.5-1.5-.5-2.6-.5-2.3-.5,2.8-.5,.4-.5,.1-.5-2.5-.5,.3-.5,1.2-.5-2.2-.5,1-.5,.9-.5-1.5-.5-2.4-.5,.2-.5-.5-.5,2.3-.5,.4-.5-1.7-.5,2.4-.5-2-.5,5.2-.5-3.1-.5-2.1-.5,6-.5-6-.5,3.9-.5-2.6-.5,2.4-.5-0-.5-.7-.5-2-.5,.2-.5,.3-.5-1.6-.5,.5-.5,.1-.5-1-.5,1.7-.5,.9-.5-3-.5,.8-.5,2.1-.5,.4-.5-.2-.5-3.3-.5,1.4-.5,1.6-.5-1.4-.5-.9-.5-1.3-.5,.4-.5,1.1-.5-.8-.5,2.6-.5-1.9-.5,5.3-.5-.2-.5-4.6-.5-.1-.5-.8-.5,.6-.5-1.7-.5,1.6-.5,1.4-.5-.1-.5-.1-.5-2.9-.5,2.7-.5-1.2-.5-1.2-.5,1.5-.5-.1-.5-2.7-.5,2.1-.5-2.7-.5-.1-.5,2.8-.5-1-.5-1.7-.5,.3-.5,1.9-.5,1.5-.5,1.8-.5-1.3-.5-4-.5-.1-.5,2-.5-.2-.5-1.3-.5,1.2-.5-1.2-.5-.2-.5,.7-.5-.9-.5,.7-.5,1.1-.5-2.2-.5,1.5-.5,.4-.5-.4-.5-.3-.5-1.1-.5,1.4-.5-1.3-.5,1.4-.5-0-.5-.8-.5,1.7-.5-1.3-.5-.7-.5-.7-.5,1-.5-1.4-.5-.1-.5,.2-.5,.9-.5-1.7-.5,2.1-.5-.6-.5-2.2-.5,1-.5,.9-.5-1.1-.5-.9-.5-1.2-.5,2.8-.5-1.9-.5-.2-.5,.3-.5-.5-.5,3.7-.5-1.5-.5-1-.5-.4-.5-.3-.5,1.1-.5-1.9-.5-.6-.5,3.2-.5-3.9-.5,.6-.5-.5-.5,.5-.5,.4-.5,.4-.5-3.2-.5,.6-.5-.7-.5-.3-.5-.7-.5,2.5-.5,2.4-.5-2.6-.5-3-.5,1.5-.5,1.7-.5-1.1-.5,.1-.5,.5-.5-2.5-.5,.2-.5-.8-.5,.4-.5-.6-.5-.6-.5-.4-.5-.3-.5,3.4-.5-2.7-.5-0-.5-1-.5,3-.5-1.5-.5-.3-.5-.7-.5,.3-.5-1.8-.5,.2-.5,1.6-.5-1.7-.5,.1-.5-.7-.5-1.1-.5-.6-.5-0-.5,.4-.5-1.6-.5,.3-.5,.9-.5-1-.5-.8-.5,.1-.5,.7-.5-1.7-.5-.4-.5,.1-.5-1.1-.5-.1-.5-1.1-.5-.1-.5-.5-.5,1-.5-1-.5,.2-.5-0-.5-1.3-.5-.7-.5,2.4-.5-3.9-.5,.3-.5-.1-.5-.6-.5-.5-.5-.2-.5-.2-.5,.9-.5-1.2-.5,1.5-.5-2.6-.5,.8-.5-2.5-.5,.4-.5-1-.5-1-.5-.4-.5-1-.5-1.3-.5-2-.5-2.6-.5-2.9-.5-3.4-.5-4.3-.5-4.2-.5-3.9-.5-4.7-.5-4.4-.5-5.3-.5-5.2-.5-5.5-0-.1-.7,5.1-.7,4.8-.7,4.6-.6,4.2-.7,3.8-.7,3.3-.7,2.2Z" fill="#06f006" clip-path="url(#c4j)"/>
<path d="M573.8,90.1l.7-6.1 .7-8.8 .7-10.4 .6-11.4 .7-12.4 .7-13.1 .7-13.8-0,0 .5,5.4 .5,5.2 .5,4.9 .5,4.9 .5,4.4 .5,4.3 .5,3.9 .5,3.6 .5,4.2 .5,3.8 .5,4 .5,4.3 .5,3.9 .5,1.4 .5,2.4 .5,1.6 .5,1.7 .5,.2 .5,.5 .5-.9 .5,1.9 .5-.5 .5,.8 .5,.9 .5-.6 .5-0 .5-0 .5,.6 .5,1 .5,.7 .5-.1 .5-0 .5,.5 .5,.5 .5,.2 .5-1.4 .5,1 .5,.2 .5-.3 .5,.6 .5,1.3 .5-.9 .5,.9 .5,.1 .5-.3 .5,.5 .5-.4 .5,.4 .5-1.8 .5,2.3 .5-0 .5,.9 .5,1.1 .5-.1 .5,1.2 .5-.7 .5,.4 .5,.5 .5,.8 .5-.3 .5-.1 .5-1.9 .5,1.8 .5-1.7 .5,2 .5-0 .5-.3 .5-.5 .5,.8 .5-3.8 .5,.6 .5,2.1 .5,1.4 .5,1.2 .5-1.1 .5,.8 .5-.2 .5-.9 .5-.3 .5,1.8 .5,.1 .5-.5 .5,.2 .5,.6 .5-.3 .5-.5 .5,1 .5-.4 .5-1.6 .5,1 .5,.1 .5,.2 .5-.6 .5,.8 .5-0 .5-.7 .5-.8 .5-1.8 .5,2.8 .5,.7 .5-0 .5,.3 .5-.5 .5,.1 .5,.2 .5,1.3 .5,.1 .5,.1 .5-1.2 .5,1.2 .5-1 .5-.7 .5-.5 .5,1.5 .5-1.4 .5,.1 .5,.4 .5,1 .5-2.8 .5,2 .5,0 .5-.4 .5,.4 .5,1.4 .5-.5 .5,0 .5-.3 .5-.3 .5,.8 .5,0 .5-.5 .5,.4 .5-.2 .5-1.9 .5,2 .5-1.1 .5-.2 .5,2.2 .5-.1 .5-.1 .5-1.1 .5,.9 .5-.2 .5-.4 .5,.5 .5-.9 .5,.5 .5,.1 .5-2.4 .5,2.9 .5-1 .5,0 .5-.3 .5,.6 .5-.8 .5-2.4 .5,3.2 .5,.1 .5,.7 .5-.7 .5-.5 .5,.8 .5-.5 .5,1.6 .5-.5 .5,.2 .5-2.5 .5,1.1 .5-.1 .5-1.5 .5,.9 .5,.3 .5-.7 .5,.3 .5-.2 .5-.3 .5,1 .5-1.5 .5,.7 .5,1.9 .5-.3 .5-.6 .5-1.6 .5-.7 .5,1.7 .5-.5 .5,1.7 .5-1.1 .5,.7 .5-.3 .5,.9 .5,.1 .5-.6 .5-1.4 .5,.8 .5-1.2 .5,2.7 .5-2.2 .5,.9 .5,.1 .5-.2 .5,.6 .5-1.8 .5-.6 .5,1.5 .5,.1 .5-1.4 .5,1.2 .5,.7 .5-1.5 .5,1.6 .5-.2 .5,.3 .5-2.8 .5,1.5 .5,1.4 .5-1.1 .5-.1 .5,.7 .5-1.6 .5,1.6 .5,.6 .5-1.2 .5-1.2 .5,.9 .5,.8 .5-1.7 .5,2.5 .5-1.3 .5-.7 .5,.4 .5,.3 .5-.3 .5,.8 .5-.7 .5,1.6 .5-.3 .5-.2 .5-.9 .5,.2 .5,.1 .5,.3 .5-.1 .5-1.6 .5,.8 .5-1.4 .5,2.5 .5,.1 .5,1 .5-.7 .5,.5 .5,.1 .5-.5 .5-.4 .5,.2 .5,.9 .5-1.5 .5,1.5 .5-.1 .5,.1 .5-2 .5,1 .5,.3 .5,.4 .5-.4 .5,.1 .5-1.3 .5,0 .5,.2 .5,.6 .5,.1 .5-1.6 .5,1.5 .5-2.4 .5,.2 .5,2.1 .5-.6 .5-.4 .5,.9 .5-1.9 .5,2.7-0,5.4-.5-.3-.5-1.1-.5,.5-.5-.4-.5,1.2-.5-1.4-.5-.3-.5,3.4-.5-1-.5-1-.5-.7-.5,.7-.5-.7-.5,1.4-.5-1.5-.5,.9-.5,2.2-.5-1.6-.5-.2-.5-.6-.5,.7-.5,1.4-.5-.6-.5-.4-.5-.4-.5-.4-.5,1.1-.5,.8-.5-1.6-.5,.3-.5-.6-.5,.3-.5,.4-.5-.3-.5-1.1-.5,.1-.5,1.9-.5-3.2-.5,1.1-.5,3-.5-3-.5-.8-.5,.6-.5,.3-.5-.7-.5,2.2-.5,.3-.5-2.2-.5-.1-.5,1.1-.5-.6-.5-.1-.5-.4-.5,1-.5-.6-.5,.1-.5-.7-.5,1.4-.5-.5-.5,2.5-.5-2.1-.5-.8-.5-.3-.5-.1-.5,1.3-.5,.5-.5-1.3-.5-.5-.5,.4-.5,2.3-.5-2-.5-.3-.5,.2-.5-1.1-.5,1.2-.5-.9-.5,1.6-.5-.5-.5-.1-.5,.2-.5,.3-.5,.2-.5-.3-.5,.5-.5,1.1-.5-.6-.5-1.8-.5,.7-.5,.8-.5-.6-.5,.3-.5,.9-.5-2.1-.5,1.5-.5-2.1-.5,.5-.5,.5-.5,1-.5-.7-.5-1.2-.5,.3-.5,.3-.5,1.2-.5-1.5-.5,.6-.5,1-.5-1.6-.5-.6-.5,1.1-.5-.2-.5-1.2-.5,.9-.5-.4-.5,1.4-.5,1.1-.5-1.3-.5,2.6-.5,.1-.5-2.1-.5-.5-.5,.5-.5,.7-.5-1.5-.5-.2-.5-.2-.5,1-.5,1.7-.5-1.6-.5,.1-.5,.3-.5-.6-.5,1.9-.5-3.3-.5,1.9-.5-1.3-.5,.1-.5,.2-.5-.6-.5,.7-.5-.6-.5,1.1-.5,.1-.5-.1-.5-.6-.5-.1-.5,.4-.5,2.3-.5-2.7-.5,.2-.5,1.2-.5-.5-.5,.7-.5-1.9-.5-.2-.5,.5-.5,.6-.5-.9-.5,1.8-.5,.1-.5-2-.5,.7-.5-.5-.5,1.2-.5-.3-.5-.9-.5,.5-.5-1.2-.5,1.7-.5-.3-.5,.4-.5-1.2-.5-0-.5,.4-.5,1.3-.5-2-.5,1.5-.5-1.9-.5,.5-.5-1.1-.5,3.5-.5-1.3-.5,.1-.5-2.5-.5,.6-.5-.7-.5-.3-.5,.8-.5,.5-.5-1.1-.5,.7-.5-.6-.5-.1-.5,2.1-.5-1.3-.5,.4-.5-.3-.5-.6-.5,2.3-.5-1.6-.5,.9-.5-.2-.5-1.6-.5,.8-.5-.5-.5,1.7-.5-2.4-.5,1.2-.5-.8-.5-1.1-.5,1.2-.5,.5-.5-2.2-.5,1.4-.5,.2-.5-.3-.5,.1-.5-1.5-.5,3-.5-3.5-.5,1.8-.5-1-.5,1.8-.5-1.5-.5-.5-.5-.7-.5,.9-.5-1.7-.5-.4-.5-.8-.5,.8-.5-1.3-.5,1.4-.5-.5-.5,.2-.5-1.9-.5,.1-.5,.1-.5,1.2-.5,.3-.5-1.9-.5,.5-.5-.2-.5-2-.5,.6-.5-.8-.5,.5-.5-1.1-.5,.5-.5-.8-.5,.5-.5-.3-.5-.6-.5,.1-.5-1-.5,.3-.5-.5-.5-.3-.5-0-.5-.7-.5-.5-.5-.6-.5,.4-.5,.1-.5-2.1-.5-1.2-.5-1-.5-1.7-.5-2.2-.5-4.6-.5-4.3-.5-4.3-.5-3.9-.5-3.6-.5-3.9-.5-4.3-.5-3.9-.5-4.9-.5-4.7-.5-4.7-.5-5.5-.5-5.4-0-.1-.7,13.8-.7,13.1-.7,12.4-.6,11.4-.7,10.4-.7,8.8-.7,6.1Z" fill="#0c52e4" clip-path="url(#c4j)"/>
<path d="M573.8,43.5l.7-2.2 .7-3.3 .7-3.8 .6-4.2 .7-4.6 .7-4.8 .7-5.1-0-.4 .5,4.1 .5,4.2 .5,3.9 .5,4 .5,3.5 .5,3.4 .5,3.8 .5,2.5 .5,5 .5,3.9 .5,1.9 .5,3 .5,1.2 .5,1.3 .5,1.4 .5,1 .5,1.8 .5-.1 .5,.4 .5-.4 .5,1.1 .5,.4 .5,3 .5-.7 .5,.5 .5,1 .5,.2 .5,.7 .5,.6 .5-1.2 .5,1.3 .5-1.2 .5,1.1 .5-1 .5,2.2 .5-.7 .5-1.2 .5,1.3 .5-.1 .5,1.9 .5-2.1 .5,.7 .5,.6 .5-1.1 .5,2.9 .5-1.2 .5-1 .5,2.3 .5-5.3 .5,5.9 .5-2.2 .5,1.9 .5,.2 .5,1.1 .5,.4 .5-.7 .5-.6 .5-1.4 .5,2.8 .5-.1 .5-2.6 .5,2.1 .5-.1 .5,.2 .5-.9 .5,2.1 .5,.3 .5-2.5 .5,3 .5-.4 .5,1.6 .5-5.4 .5,4.5 .5-1.3 .5,1.3 .5-3 .5-.9 .5,3.8 .5,.2 .5,0 .5-1.2 .5,1.3 .5,.1 .5-.9 .5-.7 .5,.7 .5-.6 .5,1.4 .5-.8 .5,1.1 .5-1 .5,.2 .5-.8 .5-.6 .5,1.9 .5-.9 .5,.9 .5-.6 .5,0 .5,1.2 .5-1.6 .5,.3 .5,2.7 .5,.5 .5-4.4 .5,4.9 .5-.6 .5-.6 .5-1.2 .5-2 .5,2.5 .5,.1 .5,2.7 .5-.1 .5-.2 .5-1.5 .5-.4 .5-1.2 .5,2.4 .5-1.2 .5,2.8 .5-2.2 .5,1.4 .5-1.8 .5-1.6 .5-.4 .5,4.1 .5,0 .5-1.7 .5-1.4 .5,2 .5,.7 .5-.3 .5-.3 .5,2 .5-1.4 .5-1.8 .5-1 .5,3.1 .5-1.2 .5-.1 .5-.4 .5,1.2 .5-.9 .5-.2 .5,.3 .5,2.5 .5-3.7 .5,.8 .5,.9 .5,1.4 .5-2 .5-1.3 .5,4.9 .5,.5 .5-2.3 .5-.5 .5-.1 .5,.9 .5,1 .5-2.2 .5,1.3 .5-5.2 .5,4.6 .5-.5 .5,.6 .5-2.2 .5-1.4 .5,3.5 .5-1.6 .5-1.7 .5,.9 .5,2 .5,.5 .5-1.1 .5,1.1 .5-.8 .5-.2 .5,.6 .5-.2 .5,1.5 .5,.2 .5-.5 .5,1 .5,.4 .5,1 .5-1.8 .5-.2 .5-.5 .5,.2 .5,1.2 .5-5 .5,3.9 .5-2.7 .5,1.4 .5-.6 .5,.1 .5,1.5 .5,0 .5-2.3 .5,2.6 .5-2.1 .5-1.7 .5,5.2 .5,.3 .5,.4 .5-.1 .5,.4 .5,.1 .5-.1 .5-2.9 .5-.3 .5,.5 .5-1.4 .5,2.4 .5-.8 .5-.9 .5-.2 .5-.1 .5-.8 .5,3 .5-2.8 .5-.6 .5,.7 .5,2.7 .5-.9 .5-2.7 .5,1.5 .5,.7 .5,1.3 .5-1.3 .5,.5 .5,.1 .5,.3 .5,.1 .5,2.4 .5-.5 .5-.1 .5-.8 .5-1.7 .5,2.5 .5-.9 .5-1.4 .5-2.6 .5,2.4 .5-1.1 .5-.2 .5,2.8 .5-2.2 .5,2.1 .5-.4 .5-2.5 .5,3 .5-1.5 .5,1.7 .5-.8 .5,.2 .5,1.5 .5,.1 .5-1.9 .5,1 .5,.3 .5-2.3 .5-.2 .5,3.1 .5-3.5 .5,1.2 .5,1.9 .5-1.7 .5,3.9 .5-3.9 .5,3.6 .5-.8 .5-.5 .5-2.5 .5,2.9 .5-.4 .5-.1 .5-2.1 .5,.9 .5-.6-0,10.5-.5-4.6-.5,.2-.5,2.9-.5,.4-.5,.5-.5-1.6-.5,5-.5-1.3-.5-.7-.5-3-.5-.8-.5-1.3-.5,.3-.5,2.5-.5-2.9-.5-1.2-.5,1.2-.5,.5-.5-1.7-.5,1.6-.5,.3-.5,.5-.5,.6-.5-0-.5-3-.5-0-.5,3.1-.5,1-.5-2.7-.5-.1-.5-.2-.5-.9-.5-.8-.5,2.5-.5-1.9-.5,1.9-.5-1.5-.5,2.1-.5-2-.5-.2-.5,1.4-.5,2.5-.5-.5-.5-2-.5,2.5-.5-3.6-.5,.2-.5,1-.5-.7-.5-1.1-.5,.8-.5-1.1-.5,.3-.5-.1-.5-.5-.5,1.8-.5-.5-.5,1.2-.5-1.5-.5,.7-.5-1.5-.5,2.3-.5-.2-.5-2.1-.5-0-.5,1.2-.5-.3-.5-.6-.5,6.1-.5-5-.5,.6-.5,2.6-.5,.2-.5-3.8-.5,1-.5-1.1-.5,.3-.5,.5-.5-1-.5,.9-.5-3.3-.5-.6-.5,.6-.5,1.4-.5,2.4-.5-4-.5,.5-.5,2.2-.5-1-.5-.6-.5,1.8-.5-1-.5,2.7-.5-1.9-.5,.9-.5-.9-.5-.5-.5-.2-.5,1.1-.5-.9-.5-.4-.5,1-.5-.7-.5-1.7-.5,.9-.5-1.5-.5-0-.5,2.4-.5-1.9-.5-.2-.5,1.6-.5,.4-.5-2.7-.5,2.7-.5-2.4-.5,3.8-.5-2.6-.5-.9-.5,3.1-.5-1-.5,4.4-.5-4.9-.5,1.2-.5-1.3-.5,.6-.5,.9-.5-.5-.5,2.7-.5-3.8-.5-.1-.5,.5-.5-.1-.5,1-.5-.9-.5-2-.5,2.3-.5,1.6-.5-3.1-.5,.2-.5,.1-.5,2.5-.5-4.4-.5,1.7-.5-.7-.5,3.6-.5-.8-.5-2.3-.5,.6-.5-.6-.5,1.6-.5,.9-.5-1.7-.5-2.1-.5,3.1-.5-1.2-.5-.4-.5-1-.5,2.8-.5-1.2-.5-1.4-.5-.4-.5,.6-.5,.5-.5-.8-.5,1.8-.5,.2-.5,3-.5-5.5-.5-.2-.5,3-.5-1.3-.5,1.5-.5-2.8-.5-.2-.5,0-.5-1.7-.5-.1-.5,.2-.5-.7-.5,1.1-.5,2-.5-3.5-.5,2.1-.5-1.8-.5,.5-.5-1.1-.5,.4-.5-1.4-.5,.7-.5,.7-.5-.1-.5,.8-.5-.8-.5,.3-.5-.8-.5-.4-.5,.9-.5-0-.5-.4-.5,.3-.5,3.9-.5-2.9-.5-1.3-.5,.1-.5,.2-.5-.2-.5,2-.5-2.4-.5,.5-.5,.6-.5,1.8-.5-2.4-.5-1.9-.5,1.2-.5-1-.5-.3-.5,.7-.5,1.9-.5-2.8-.5,0-.5,0-.5,.6-.5,.3-.5-1.2-.5,0-.5,.1-.5,3.4-.5-3-.5-1.3-.5-.8-.5,.8-.5,0-.5,.7-.5-.8-.5-.9-.5,.8-.5-1.6-.5-.3-.5,.2-.5,1.9-.5-2.9-.5,.7-.5,.6-.5-1.1-.5-.1-.5-.8-.5-1.1-.5,2.8-.5-2.1-.5-.6-.5-.9-.5,2.6-.5-3-.5,0-.5-1.5-.5,1-.5,.9-.5,2-.5-3.3-.5-2.4-.5-.5-.5-1.5-.5-.4-.5,1-.5-2.5-.5,.8-.5-1.7-.5-2-.5-2.3-.5-1.8-.5-1.3-.5-4.9-.5-4.5-.5-3.7-.5-4.3-.5-3.7-.5-3.3-.5-4.4-.5-3.6-.5-3.9-.5-4.5-0-.1-.7,5.1-.7,4.8-.7,4.6-.6,4.2-.7,3.8-.7,3.3-.7,2.2Z" fill="#06f006" clip-path="url(#c4j)"/>
<path d="M573.8,43.5l.7-2.2 .7-3.3 .7-3.8 .6-4.2 .7-4.6 .7-4.8 .7-5.1-0-.4 .5,2.8 .5,2.3 .5,3 .5,2.6 .5,2.7 .5,2.9 .5,2.3 .5,3.4 .5,3 .5,3 .5,3.1 .5,3.2 .5,1.1 .5,2 .5,1.3 .5,.7 .5,2.2 .5-1.1 .5,3.1 .5,.3 .5,.4 .5,.3 .5,1 .5,.2 .5-.3 .5,.6 .5-.3 .5-.7 .5-.6 .5,2.2 .5-1.4 .5,1.4 .5-1.3 .5,2.1 .5-.7 .5,.4 .5,.1 .5,.2 .5-.2 .5-1.6 .5,.1 .5,1.4 .5,.2 .5,.8 .5,.5 .5-0 .5,.2 .5-.7 .5,.5 .5-.1 .5-.1 .5,1.1 .5-1.2 .5,.9 .5-1.3 .5,2.6 .5-2.6 .5,1.6 .5,.7 .5-1.5 .5,1.3 .5,.1 .5,1.1 .5-.5 .5-.7 .5,.5 .5-.7 .5,1 .5,.4 .5-.7 .5,.4 .5-.4 .5,.7 .5,0 .5-.3 .5,.6 .5-2.3 .5,2 .5-.7 .5-1 .5,.7 .5-1.8 .5,2.4 .5-2.1 .5,.4 .5,.5 .5,.7 .5,1.3 .5-1.3 .5,.5 .5-.5 .5,.6 .5,.9 .5-.8 .5,.3 .5-1.6 .5,.9 .5,1 .5-1 .5,1.5 .5-.1 .5-.3 .5,.7 .5-3.1 .5-.2 .5,1.7 .5,1.2 .5-.3 .5,.3 .5-1.1 .5,.9 .5-.4 .5-.2 .5-0 .5-.4 .5,1.5 .5-1 .5,.1 .5,.5 .5,1 .5-1.5 .5,.6 .5,.7 .5-.7 .5,1.5 .5,.2 .5-1.7 .5-.3 .5,2.5 .5-.6 .5,.1 .5-.2 .5,.4 .5-2.6 .5,2.9 .5,.1 .5-.8 .5,.8 .5-1.5 .5,.3 .5-.7 .5,.3 .5,.3 .5,.3 .5-2.7 .5,1.8 .5,1.1 .5-1.3 .5,1.3 .5,0 .5-2.2 .5,2.7 .5,0 .5,.5 .5-.5 .5-.1 .5-.8 .5,1.2 .5-.1 .5-2.5 .5,2.1 .5-.3 .5,1 .5-1.4 .5-.5 .5,1.2 .5-.9 .5-.1 .5-1.1 .5,1.7 .5-2.5 .5,.2 .5,1.6 .5-2.2 .5,2.4 .5,.7 .5,.5 .5-1.1 .5,1 .5-.8 .5-2.6 .5,1.2 .5,1.8 .5,.4 .5-1.5 .5,1.8 .5-1.6 .5,1.2 .5-1.4 .5,1.5 .5-.3 .5-1.5 .5,1.2 .5-1.6 .5,.9 .5,1.5 .5-1.3 .5,.9 .5-.7 .5-.9 .5,.6 .5,.4 .5-.3 .5,1.6 .5,.4 .5-1.9 .5,1.2 .5,.8 .5-1 .5,.6 .5,.1 .5-2.9 .5,1.8 .5-.7 .5,.6 .5-1.9 .5-1.5 .5,2.5 .5,1.6 .5,.1 .5-.7 .5,.5 .5-2.3 .5,2.1 .5,.2 .5-3 .5,3.2 .5-.3 .5-1.2 .5,2.1 .5-.2 .5,.2 .5,.1 .5-.8 .5,1.2 .5-2.6 .5,3 .5-2.3 .5-.3 .5-.9 .5,2.3 .5-.5 .5-.1 .5,.6 .5-1.3 .5,.7 .5,.9 .5-.9 .5,1 .5,.2 .5-.9 .5-1.5 .5,.3 .5-.1 .5,.5 .5-.6 .5,.2 .5-.4 .5,.3 .5-1 .5,2.6 .5-.5 .5-3.6 .5,3.4 .5,.4 .5-.1 .5-.7 .5-.2 .5-.9 .5,.2 .5-.5 .5,2.1 .5-.4 .5,1.7 .5-.8 .5-2.3 .5-0 .5,.9 .5,.5 .5,1.1 .5-4.6-0,8.9-.5-.3-.5,.8-.5-1-.5,1.4-.5,1.5-.5-2.9-.5,.1-.5,1.3-.5-.9-.5-1.8-.5,2.2-.5-.7-.5-.6-.5-.5-.5,.2-.5,1.1-.5-1.3-.5-.1-.5,1.2-.5-.2-.5-.3-.5-.8-.5,3.7-.5-3.1-.5,.6-.5-.5-.5,1.1-.5,1.2-.5-1.9-.5,.1-.5,2.9-.5-2.7-.5,1-.5-1-.5-0-.5-.5-.5-.2-.5,1.2-.5-1-.5-.5-.5,.1-.5,3.3-.5-1.3-.5-.6-.5,.8-.5,.9-.5-2.1-.5,.7-.5-.9-.5-.7-.5,1.6-.5-1-.5-1.2-.5,2-.5-1.5-.5,1.6-.5-.8-.5,.2-.5,2.9-.5-3.7-.5,.4-.5-.7-.5,3.8-.5-3.6-.5,1.5-.5-.6-.5-.5-.5-.2-.5-0-.5-.5-.5,2.9-.5-2.2-.5,.6-.5,.3-.5,.5-.5-1-.5,.4-.5,.3-.5,.3-.5-1-.5-.9-.5,1.3-.5,.5-.5-1.7-.5,1.8-.5-2.4-.5-.9-.5,1.6-.5,1.4-.5-2.2-.5,2.1-.5,.1-.5-.3-.5,.3-.5-1.9-.5-.3-.5,.4-.5-.5-.5,2.9-.5-1.5-.5-1-.5,.2-.5,1.6-.5-1.8-.5,.3-.5-1.2-.5,.2-.5,1.1-.5-1.2-.5-.1-.5,1.9-.5-2-.5,.4-.5,1.9-.5,.5-.5-1.9-.5,.8-.5-.3-.5-.5-.5,.5-.5,1.8-.5-.4-.5-.7-.5-.4-.5,2.9-.5-2-.5,1.2-.5-1.6-.5,1.2-.5-2.5-.5,.9-.5-.7-.5-1-.5,1.8-.5-1.3-.5,.5-.5,1.1-.5-2.5-.5,1.8-.5-1.7-.5,1.7-.5-1-.5,2.6-.5-1.1-.5-1.1-.5,1.3-.5-.4-.5-.1-.5-.2-.5-.2-.5,2.8-.5-1.2-.5-.8-.5-1.4-.5,2.7-.5-1.3-.5,.9-.5-3.1-.5,.4-.5-.7-.5-.2-.5,2.3-.5-2-.5,.9-.5,.3-.5,.7-.5-1.6-.5,2.7-.5-3.5-.5,.3-.5-.2-.5,.8-.5,.1-.5,0-.5-1.1-.5-.5-.5,1.8-.5-1.1-.5,1.5-.5-1.9-.5,.4-.5,.5-.5-1.1-.5,.5-.5-.5-.5,.3-.5-0-.5,.8-.5-1.2-.5-.2-.5,1.6-.5-1.9-.5,.4-.5-.1-.5,.9-.5-.9-.5,.2-.5,.1-.5-1.1-.5,.7-.5-0-.5,1.6-.5-1.2-.5,1.5-.5-1-.5-.8-.5,.4-.5,1.7-.5-.4-.5-.9-.5-1.4-.5,1.2-.5,.6-.5-1.9-.5-.1-.5,1.2-.5-1.2-.5,1-.5,.8-.5-1.8-.5-.1-.5,1.8-.5-2.2-.5,.9-.5-.2-.5-.5-.5,.6-.5-1-.5-.1-.5,1-.5,.2-.5,2.4-.5-4.2-.5,1.9-.5-.8-.5-.3-.5,.1-.5-1.5-.5-0-.5-.2-.5-.2-.5,.3-.5-1.1-.5-.6-.5,1.3-.5-1-.5-.3-.5-.3-.5,.1-.5,1.2-.5-.4-.5,.6-.5-1.5-.5,.2-.5,1.3-.5-2.7-.5,.3-.5-.8-.5-.2-.5-.5-.5,.8-.5-1.1-.5-1-.5,0-.5-1.7-.5-.1-.5-3.7-.5-.5-.5-2.4-.5-3.2-.5-3.1-.5-2.9-.5-3.7-.5-2.5-.5-3.2-.5-2.8-.5-2.8-.5-2.7-.5-2.6-.5-2.7-.5-2.3-0-.4-.7,5.1-.7,4.8-.7,4.6-.6,4.2-.7,3.8-.7,3.3-.7,2.2Z" fill="#06f006" clip-path="url(#c4j)"/>
<path d="M573.8,43.5l.7-2.2 .7-3.3 .7-3.8 .6-4.2 .7-4.6 .7-4.8 .7-5.1-0,.1 .5,1.5 .5,2.4 .5,1.6 .5,2.4 .5,1.8 .5,1.3 .5,2.3 .5,1.4 .5,1.6 .5,1.6 .5,1.5 .5,1.8 .5,1.3 .5,1.8 .5,.9 .5,1.4 .5,1.7 .5,.1 .5,2.1 .5,1.2 .5,.7 .5,.7 .5-.1 .5,.2 .5,.3 .5,.4 .5,.5 .5-.1 .5,.3 .5-.1 .5,.8 .5-.1 .5-.2 .5,.6 .5-.5 .5,.4 .5-.7 .5,.9 .5-1 .5,.9 .5,.5 .5-.4 .5-1.8 .5,2.3 .5-.1 .5,.1 .5,.3 .5-.1 .5,.2 .5,.1 .5,.3 .5,.1 .5,.1 .5,.2 .5-.3 .5-.1 .5-.3 .5,.4 .5,.3 .5-.9 .5,1.3 .5,.2 .5,.1 .5-.8 .5,.9 .5,.2 .5,.6 .5-.6 .5,.6 .5,.5 .5-.3 .5-1.9 .5,1.8 .5-.6 .5-.1 .5-1.4 .5,1.5 .5,0 .5-.9 .5-.8 .5,.6 .5,.5 .5-.3 .5,.9 .5,.1 .5,.3 .5,.1 .5-1.3 .5,1 .5-.3 .5,1 .5-1.1 .5,1.3 .5-0 .5-.1 .5-.1 .5,.2 .5-.4 .5,.5 .5-.2 .5-.5 .5,.7 .5,.3 .5-1.8 .5,1.4 .5,.3 .5-.5 .5-.6 .5,.7 .5-0 .5-.2 .5-.8 .5,1.1 .5-.1 .5,1.3 .5-.5 .5,.3 .5,.5 .5-.1 .5-2.3 .5,1.3 .5,.7 .5-1.6 .5,1.8 .5-.7 .5,.6 .5-.5 .5-.1 .5,.9 .5-.8 .5-.2 .5,.7 .5-.4 .5,0 .5-1.1 .5,.5 .5,.7 .5,.5 .5,.2 .5,.2 .5-.8 .5-.8 .5,.6 .5-.2 .5,.1 .5,.9 .5-0 .5-.9 .5,1.2 .5-.6 .5,.1 .5,.6 .5-.3 .5-.1 .5-1.3 .5,1.1 .5-.9 .5,1 .5-.4 .5-2.6 .5,2.2 .5,.8 .5-1.1 .5,1.1 .5-.6 .5,.9 .5,.6 .5-.2 .5-.3 .5-.7 .5,1.2 .5-1 .5-.6 .5,.7 .5-.8 .5-0 .5-.6 .5,1.4 .5-.4 .5-1.3 .5,1.1 .5-.2 .5,.3 .5-1.6 .5,2.2 .5-1.4 .5,1.4 .5-1 .5,1.1 .5-.5 .5,.4 .5,.5 .5-.2 .5-.8 .5-.1 .5-.8 .5,1.1 .5-3.2 .5,2.8 .5-.1 .5-2.9 .5,3 .5-.2 .5,.6 .5-.4 .5-0 .5,1.1 .5-.2 .5-.3 .5,.5 .5-1.3 .5,1.2 .5,.3 .5-.4 .5,.5 .5-1 .5-1 .5,1.8 .5-1.5 .5,1.2 .5,.6 .5-1.2 .5,1.1 .5-1.2 .5,.9 .5-.6 .5,.3 .5-1.2 .5,1.6 .5,.2 .5-.6 .5-1.3 .5-.1 .5,1.5 .5,1.2 .5-.6 .5-.8 .5,1 .5-1 .5,1.1 .5-1 .5-.7 .5,.9 .5-.1 .5-1.1 .5,.7 .5-.9 .5,1.1 .5-2.1 .5,.6 .5,1.3 .5-0 .5,.7 .5-.3 .5-.4 .5-0 .5-1.6 .5,2.1 .5-.4 .5,.5 .5-0 .5,.4 .5-1.9 .5,2.1 .5,.3 .5-.1 .5-1 .5,.3 .5-.6 .5,.7 .5,.7 .5-0 .5-.2 .5-1.5 .5,1.6 .5-.2 .5-1.9 .5-.3 .5,.7 .5,.4 .5-.5-0,4.7-.5,.1-.5,3.8-.5-3.7-.5,.5-.5,1.3-.5-.2-.5,.7-.5-1.6-.5,.2-.5,.6-.5-.9-.5-.5-.5,.6-.5,1-.5,.7-.5-1.5-.5,.6-.5-0-.5-1.9-.5,.3-.5,1-.5-.3-.5-.2-.5,.3-.5-.1-.5-1-.5,.4-.5-.4-.5,1.6-.5-1.9-.5-.1-.5,.6-.5,.1-.5-.4-.5,.3-.5-.9-.5,.4-.5,.8-.5,.2-.5-.4-.5,2.1-.5-.9-.5-.8-.5-.1-.5,.4-.5,.4-.5-.5-.5,.5-.5-1.2-.5,.9-.5-.9-.5,.8-.5-0-.5,.5-.5-1.1-.5-.1-.5-.3-.5,.2-.5-.2-.5,.6-.5-.1-.5,1.5-.5-.9-.5,.3-.5-1.7-.5,.1-.5,.1-.5,1-.5-.8-.5,.6-.5-.8-.5-.2-.5,.1-.5-.1-.5,.3-.5,1.4-.5-2.2-.5-.2-.5,.4-.5-.7-.5,2.2-.5-1.1-.5-.8-.5,.1-.5,1.3-.5-.6-.5,1-.5-.5-.5-.2-.5,.6-.5-.8-.5,.6-.5-.3-.5,1.6-.5-1.9-.5-.2-.5,.7-.5,.7-.5-1.9-.5,.1-.5-0-.5,.9-.5-.8-.5,.7-.5-.5-.5,1.3-.5-.6-.5-.4-.5,.4-.5,.1-.5-.4-.5,.1-.5-.3-.5,.9-.5-.7-.5,.4-.5,1.7-.5-2.2-.5-.4-.5,.3-.5-.3-.5,.3-.5,2.6-.5-1.1-.5-1.5-.5-0-.5,1-.5-.1-.5-.2-.5-.4-.5,.3-.5,.4-.5-.6-.5-.9-.5,.4-.5,1.6-.5-.6-.5-1.1-.5,1.3-.5-.6-.5-.5-.5,.7-.5-.4-.5-1.2-.5,.1-.5,.2-.5-.4-.5,.4-.5,.1-.5,.5-.5-.6-.5,.4-.5-0-.5,1-.5-1.5-.5,1.1-.5-.6-.5-.2-.5,.2-.5,.3-.5,.3-.5-.5-.5,.2-.5,.2-.5-0-.5-.7-.5-.2-.5-0-.5-.6-.5,.5-.5-.9-.5,.5-.5,.3-.5-.1-.5-.9-.5,1.5-.5-.9-.5-.1-.5,.2-.5,.2-.5,1.2-.5-1.4-.5,1.1-.5-.8-.5-.2-.5-.1-.5,.8-.5-.6-.5-.6-.5-.4-.5,.7-.5-1.2-.5-0-.5-0-.5,1.4-.5-.5-.5-.5-.5,.8-.5-1.4-.5,.2-.5,1.2-.5-0-.5-.7-.5-.6-.5,.6-.5,.1-.5,.4-.5-.8-.5,1.6-.5-.8-.5,.2-.5-1-.5,.5-.5-.4-.5-.4-.5-.5-.5,.4-.5-.4-.5-0-.5-.2-.5-.2-.5-.8-.5,.5-.5,.1-.5,.2-.5-1.1-.5,1.8-.5-1.5-.5,.7-.5-.8-.5-.3-.5,.3-.5-.1-.5,.5-.5-.5-.5-1.1-.5,.3-.5-.1-.5,.4-.5-.4-.5-0-.5,.2-.5-.3-.5,.2-.5-.4-.5-.1-.5,1.4-.5-1.6-.5-.3-.5-0-.5-.4-.5,1-.5-0-.5-1.1-.5-.6-.5-0-.5-.5-.5-.2-.5,1.5-.5-1.9-.5-1.4-.5-1.2-.5-.8-.5-1.6-.5-.5-.5-.9-.5-2.3-.5-1.8-.5-.7-.5-1.9-.5-2.2-.5-.8-.5-2-.5-1.5-.5-2-.5-1.3-.5-2.5-.5-1.9-.5-1.8-.5-1.7-.5-2.2-0-.6-.7,5.1-.7,4.8-.7,4.6-.6,4.2-.7,3.8-.7,3.3-.7,2.2Z" fill="#06f006" clip-path="url(#c4j)"/>
<path d="M573.8,43.5l.7-2.3 .7-3.3 .7-3.9 .6-4.3 .7-4.6 .7-4.9 .7-5.2-0-.1 .5,.4 .5,2 .5,1.4 .5,.9 .5,1.3 .5,1.2 .5,1.1 .5,1.1 .5,1.2 .5,1.1 .5,1 .5,1 .5,.9 .5,1 .5,.6 .5,.3 .5,1.2 .5,.3 .5,1.1 .5,.9 .5,1.2 .5-0 .5,.7 .5-0 .5,.5 .5,.6 .5-.1 .5-0 .5,.8 .5-.4 .5-0 .5,1 .5-.7 .5,.8 .5-.8 .5,.9 .5,1.1 .5-.1 .5-0 .5-0 .5,.5 .5,.3 .5-.5 .5,.9 .5-1.3 .5,1 .5,.9 .5,.2 .5-.2 .5,.5 .5-0 .5,.4 .5-0 .5-.6 .5,1.1 .5-.2 .5-.3 .5,.2 .5-0 .5-.3 .5,.3 .5,.5 .5-.9 .5,.5 .5,.8 .5-.4 .5,.5 .5-.2 .5-.7 .5,.8 .5-.2 .5-.1 .5,.5 .5-.2 .5-.1 .5,1.1 .5-.1 .5,0 .5-1.3 .5,1.7 .5-.5 .5,.1 .5,.3 .5-.1 .5-1.1 .5,1 .5,.3 .5-.1 .5-.5 .5,.7 .5-.4 .5,.2 .5-.5 .5-.2 .5,1.1 .5,.2 .5-.6 .5,.3 .5,.5 .5-.3 .5,.8 .5-2.2 .5,1 .5,.5 .5-.3 .5,.5 .5-.3 .5,.7 .5,.5 .5-.7 .5,.8 .5-.4 .5,.5 .5,.2 .5-.6 .5,.5 .5-.5 .5,.4 .5-1.1 .5,.4 .5,0 .5,.4 .5-.7 .5,.2 .5-.2 .5,.6 .5-.2 .5-.6 .5,1.1 .5-.9 .5,.4 .5,.3 .5-1.9 .5,2.1 .5-.1 .5,.2 .5,0 .5-.7 .5,.5 .5,.5 .5-.6 .5,.6 .5,.2 .5-1.3 .5,1.5 .5-.3 .5-.5 .5,.5 .5,.1 .5-1.1 .5,.2 .5,1 .5-.9 .5,.6 .5,.3 .5-.5 .5,.1 .5,.3 .5,.3 .5,.2 .5-.2 .5-.1 .5-.2 .5-.6 .5,.6 .5,0 .5-.1 .5,.3 .5-.1 .5-.2 .5-.5 .5,.3 .5,.4 .5,.1 .5-.2 .5,.8 .5,.3 .5,.3 .5-.1 .5-.6 .5,.4 .5,.1 .5-.1 .5-.3 .5-.1 .5-.4 .5-.6 .5,.1 .5-.8 .5,.5 .5,.9 .5,.2 .5,0 .5-.3 .5-.4 .5,.3 .5,0 .5,.1 .5,.4 .5,.1 .5,0 .5,.5 .5-.8 .5,.5 .5-.3 .5,.7 .5-.8 .5,.9 .5-.3 .5-.6 .5,.6 .5,.1 .5,0 .5-.8 .5,.9 .5-.7 .5,.8 .5,.1 .5-.2 .5,.2 .5-.6 .5,.2 .5,.3 .5,.3 .5-.8 .5,1.1 .5-.5 .5,.7 .5-.2 .5-1 .5,.6 .5,.5 .5-.3 .5-.3 .5,.6 .5,.1 .5,.2 .5-1 .5-.4 .5-.2 .5,1 .5-.4 .5,.6 .5,.3 .5-.5 .5,.7 .5,0 .5-.6 .5,.2 .5-.2 .5-.2 .5-.3 .5,.5 .5-.8 .5-.3 .5,.7 .5-.1 .5,.5 .5-.8 .5,.3 .5-0 .5,.4 .5-1.3 .5,1.1 .5,.3 .5,.2 .5-.6 .5-0 .5-.3 .5,.1 .5,.5 .5-0 .5,.6 .5-1.9 .5,1.5 .5-.8 .5,1.1 .5-.2 .5,.3 .5-.4 .5,.2-0,4.7-.5-.9-.5-0-.5-.3-.5,.1-.5,.5-.5,1-.5-1.4-.5-.2-.5,1.1-.5-.5-.5-.7-.5-.4-.5-0-.5,.9-.5-.4-.5-.4-.5-0-.5,.8-.5-.7-.5-.2-.5-0-.5,.9-.5-.3-.5,.9-.5-.8-.5,.1-.5,.5-.5,.5-.5-1.1-.5-.5-.5-0-.5,1.2-.5-.1-.5-.4-.5,.7-.5-.5-.5,.7-.5-1.4-.5-0-.5,.5-.5-.7-.5,.4-.5,.7-.5-.9-.5,.1-.5,.2-.5-0-.5,1.5-.5-1.1-.5-.2-.5-.8-.5,.7-.5,.2-.5-.6-.5,.6-.5-1-.5,1.5-.5-1.2-.5-.4-.5,.1-.5-.5-.5,.4-.5,.1-.5-0-.5,.3-.5-.5-.5,.8-.5-.7-.5,.1-.5-.7-.5,.5-.5,.5-.5-0-.5-.7-.5,.1-.5,.2-.5-.2-.5-0-.5,1.4-.5-2.2-.5,1.3-.5-1.4-.5-.2-.5,1.3-.5,.6-.5-1.8-.5-.2-.5,.4-.5,.6-.5-.7-.5-.2-.5,.5-.5-.4-.5-.2-.5,.7-.5-.1-.5,1.7-.5-1.1-.5,.1-.5-.6-.5-0-.5,.1-.5,.2-.5,.2-.5-0-.5-.9-.5-.5-.5,1-.5-1.2-.5,1.9-.5-1.3-.5-.2-.5-0-.5-.3-.5,.7-.5-.8-.5,.4-.5,.3-.5,.2-.5,1.1-.5-1.6-.5-.3-.5,.2-.5,.7-.5-.4-.5,.4-.5-1.1-.5,.1-.5,.3-.5,.4-.5-.6-.5,.8-.5,.1-.5-1.1-.5,1.3-.5-0-.5-.5-.5-.6-.5,.2-.5-.7-.5-0-.5,.7-.5-.7-.5,.2-.5,.1-.5,1.1-.5-.8-.5-.2-.5-.4-.5-0-.5,.4-.5-.8-.5,1.2-.5-.7-.5-.7-.5,.6-.5,.7-.5-.5-.5,.3-.5-.7-.5,.7-.5-.6-.5,1.2-.5-0-.5,.6-.5-1.5-.5-.3-.5,.3-.5,.9-.5-.9-.5-.6-.5-.1-.5,.5-.5,.4-.5-1.1-.5,.9-.5-1.3-.5,.5-.5-0-.5,.7-.5-.9-.5,.6-.5-.9-.5-.2-.5,.6-.5-0-.5-.4-.5,.6-.5,.3-.5-1.4-.5-.4-.5,.3-.5-.1-.5,.2-.5-.2-.5-0-.5-.4-.5,.1-.5,.4-.5-0-.5-.3-.5-.1-.5-.2-.5,1.5-.5-1.4-.5-.2-.5,1.4-.5-2-.5,1.3-.5-1.1-.5,.3-.5-.2-.5-.6-.5-0-.5-.3-.5,.7-.5-.5-.5,.1-.5-.6-.5,.6-.5-.8-.5,.5-.5-.3-.5-.2-.5,.9-.5-.3-.5-.7-.5-.1-.5,.3-.5-.2-.5,.7-.5-.2-.5-1.4-.5,.2-.5,.2-.5-.3-.5-.8-.5-.2-.5-.2-.5-.1-.5-0-.5-.2-.5-.2-.5-.5-.5,1.8-.5-1.8-.5-.6-.5,.1-.5,.5-.5-1.4-.5-.3-.5,.2-.5-.1-.5-.3-.5-.1-.5-.3-.5-.5-.5-.1-.5-1.1-.5,.2-.5-.9-.5-.8-.5-.5-.5-1-.5-1.1-.5-.9-.5-.1-.5-1.8-.5-1-.5-.4-.5-1.5-.5-1-.5-.6-.5-.8-.5-1.5-.5-1.4-.5-1.1-.5-1.4-.5-1.1-.5-1.1-.5-1.7-0-.1-.7,5.2-.7,4.9-.7,4.6-.6,4.3-.7,3.9-.7,3.3-.7,2.3Z" fill="#06f006" clip-path="url(#c4j)"/>
<path d="M573.8,43.7l.7-2.3 .7-3.4 .7-3.9 .6-4.4 .7-4.7 .7-5 .7-5.3-0-.5 .5,1 .5,1.5 .5,1 .5,.6 .5,1 .5,1 .5,.7 .5,.8 .5,.1 .5,1.4 .5,1.1 .5,.4 .5,.8 .5,.5 .5,1.4 .5,1.1 .5,.7 .5,.5 .5,.2 .5,1.3 .5-0 .5,.7 .5-.1 .5,.6 .5,.2 .5,.3 .5,.6 .5,.4 .5-.5 .5,.7 .5,.5 .5-0 .5-.1 .5,.8 .5,.2 .5-.4 .5,.5 .5,.6 .5,.3 .5-.2 .5-.3 .5,1 .5,.3 .5-0 .5-.5 .5,.2 .5-.2 .5-0 .5,.4 .5,.2 .5,.1 .5,.2 .5,.2 .5,.1 .5,.3 .5-.4 .5,.5 .5,.3 .5-.6 .5,.2 .5,.5 .5,.4 .5-.2 .5-.8 .5,.8 .5-.9 .5,.7 .5-.8 .5,.3 .5,.9 .5,.3 .5-.1 .5-.1 .5,.4 .5,.1 .5-.9 .5,.6 .5,.3 .5,.4 .5-.1 .5-.1 .5-.6 .5,.1 .5,.6 .5,.2 .5,.2 .5-.6 .5,.7 .5,.3 .5-.2 .5,.4 .5-.7 .5,.8 .5-0 .5-.1 .5-.7 .5,.8 .5,.2 .5,.2 .5-.7 .5,.2 .5-.1 .5,0 .5,0 .5,.5 .5-.4 .5,1.1 .5,.3 .5,0 .5-.8 .5,.3 .5,.2 .5,.4 .5-.2 .5-.3 .5,.5 .5-.4 .5,.4 .5-.8 .5,.3 .5,.5 .5-1 .5,.6 .5,.4 .5,0 .5,.3 .5-1.7 .5,1.6 .5-.1 .5,.8 .5-.5 .5,.1 .5-.2 .5-.1 .5,.6 .5-.9 .5,1.3 .5-.2 .5,.1 .5,.2 .5,.1 .5-.2 .5,.5 .5,0 .5,.1 .5-.8 .5,.2 .5,.6 .5-.2 .5,0 .5,0 .5-.1 .5,.1 .5-.5 .5,.7 .5,.1 .5-.7 .5,.5 .5-.1 .5-.5 .5,.9 .5-.4 .5,.4 .5,.2 .5,.6 .5,.1 .5-.5 .5-.4 .5-.4 .5-.3 .5,1.1 .5-.2 .5,.5 .5-.5 .5,.1 .5,.3 .5-.6 .5,.2 .5,.6 .5-.4 .5,.3 .5,.1 .5-.2 .5,.4 .5-.5 .5-.7 .5,.2 .5,.1 .5,.5 .5-.3 .5-0 .5,.5 .5-.2 .5-0 .5,.7 .5-0 .5-.1 .5-.9 .5-1.3 .5,1.9 .5,.2 .5-.4 .5-.9 .5,1.4 .5-.7 .5,.8 .5,.2 .5-.5 .5,.1 .5,.3 .5,.6 .5-1.1 .5,.7 .5,.3 .5-.6 .5-.1 .5-.4 .5,.2 .5,.3 .5,.2 .5-.4 .5,.2 .5,.4 .5-.1 .5,.4 .5,.3 .5-.1 .5-.8 .5,.5 .5-.2 .5,.8 .5-.5 .5,.6 .5-1.4 .5,.9 .5,.1 .5-.1 .5-.9 .5,.9 .5,.4 .5-.1 .5,.1 .5,.2 .5-.6 .5,.3 .5,0 .5,.9 .5-.8 .5,.2 .5,.6 .5-.2 .5,.3 .5,.1 .5-1.4 .5-.8 .5,.8 .5-.4 .5,.1 .5,1.1 .5-.5 .5-.5 .5-.3 .5,.6 .5,.8 .5,.2 .5-.3 .5-.5 .5,.6 .5-.1 .5,.6 .5-.2 .5,.1 .5-0 .5-.5 .5,.7 .5-.6 .5,.2 .5-.1 .5-0 .5-.6 .5,1.3-0,3.6-.5-.3-.5,.2-.5-.8-.5-.2-.5,.7-.5-.3-.5-.2-.5,.1-.5,.1-.5-0-.5-.1-.5,1.9-.5-1.7-.5-.1-.5-.6-.5,.5-.5-.4-.5-.5-.5-.3-.5,.4-.5-0-.5,.1-.5-.2-.5-.1-.5,1.2-.5-.6-.5,.6-.5-.2-.5-.3-.5,.4-.5-.2-.5-0-.5,.4-.5-0-.5-.8-.5,.2-.5,.1-.5-1-.5-.1-.5,.3-.5,1-.5-1.3-.5-0-.5,.8-.5-.5-.5-.2-.5,.2-.5-.1-.5-.4-.5,.7-.5-.3-.5-.1-.5,.1-.5,.6-.5-.7-.5-0-.5-.6-.5,.2-.5-.2-.5,1-.5-1.3-.5,.5-.5,.1-.5-0-.5-.5-.5,1-.5-.7-.5,.6-.5-0-.5,.3-.5-.8-.5-.4-.5,.3-.5-.1-.5,.7-.5-1-.5-.1-.5,.1-.5-.6-.5,.1-.5,.1-.5,.4-.5-.4-.5,.2-.5,.3-.5-.1-.5-.3-.5,.1-.5,.1-.5-.1-.5,.1-.5-.2-.5-.3-.5,.4-.5,.9-.5-1.2-.5-.2-.5,.7-.5-.8-.5,.7-.5,.2-.5-.6-.5,.7-.5-.8-.5,.1-.5-.2-.5-.3-.5,.5-.5-.4-.5,.8-.5-1-.5,.2-.5,.4-.5,.2-.5,.5-.5-.9-.5,.1-.5-.3-.5,.2-.5,1.3-.5-1.5-.5,1.1-.5-1.5-.5-.2-.5,.7-.5-.6-.5-.1-.5-0-.5-.3-.5,.4-.5-.4-.5,.1-.5,.3-.5,.5-.5,.5-.5-1.1-.5,.6-.5-.3-.5-.6-.5-.3-.5,.8-.5-.7-.5-0-.5-.3-.5,.3-.5-.2-.5-.5-.5,1-.5-1.1-.5,.1-.5-0-.5-.3-.5,.8-.5-.8-.5,.2-.5,.5-.5-1-.5-.3-.5-0-.5,.1-.5-.3-.5,.3-.5,.5-.5-.8-.5,.2-.5,.5-.5-0-.5,.2-.5-.3-.5-0-.5,.6-.5-1-.5,.1-.5-.3-.5-.3-.5,.3-.5-.7-.5,1.4-.5-1.4-.5-.1-.5-.3-.5,1.1-.5-.1-.5-1-.5-0-.5,.5-.5,.1-.5-.6-.5-.1-.5,.1-.5,.4-.5-.4-.5,.4-.5-1.3-.5-0-.5,.3-.5-.2-.5,.2-.5,.2-.5-.4-.5-.2-.5,.2-.5-.4-.5,.8-.5-.4-.5-.1-.5,.3-.5-1.1-.5-0-.5-0-.5-.2-.5,.2-.5-.6-.5,.6-.5,.6-.5-1.1-.5,.4-.5,.1-.5,.2-.5-0-.5-1-.5,.2-.5,1.1-.5-1.3-.5,.1-.5-.6-.5-.1-.5-.3-.5-.3-.5,.5-.5-.3-.5-.2-.5-.2-.5,.7-.5,.2-.5-.4-.5,.4-.5-.6-.5-.6-.5-0-.5-.2-.5-.3-.5,.3-.5-1-.5-.1-.5-.2-.5,.3-.5-.6-.5-.2-.5-.6-.5-.3-.5-.2-.5-.1-.5-.6-.5,.1-.5-.4-.5-.2-.5-.2-.5-.1-.5-1.2-.5-.1-.5-.8-.5-.6-.5-.8-.5-.4-.5-.9-.5-1-.5-1-.5-.1-.5-1.5-.5-.7-.5-1-.5-.7-.5-.7-.5-1-.5-.6-.5-1.2-.5-.5-.5-1-.5-1.2-.5-1.1-0-.1-.7,5.3-.7,5-.7,4.7-.6,4.4-.7,3.9-.7,3.4-.7,2.3Z" fill="#06f006" clip-path="url(#c4j)"/>
<path d="M573.8,43.7l.7-2.4 .7-3.4 .7-4 .6-4.5 .7-4.7 .7-5.1 .7-5.4-0-.1 .5,.7 .5,.8 .5,1.2 .5,.3 .5,1.2 .5,.8 .5,.6 .5,1.1 .5,.4 .5,.4 .5,.7 .5,.9 .5,.7 .5,.5 .5,.8 .5,.5 .5,.9 .5-.3 .5,1.6 .5,.6 .5-0 .5,.2 .5,.9 .5-0 .5-0 .5,.4 .5,.7 .5-.3 .5,.4 .5,.5 .5,.2 .5,.4 .5,.2 .5,.4 .5,.2 .5,0 .5,.2 .5-.4 .5,.6 .5-.4 .5,1.3 .5-.2 .5-.1 .5,.2 .5,.6 .5,.2 .5,.2 .5-0 .5-.7 .5,.6 .5,.5 .5,.3 .5,.4 .5-0 .5-.3 .5,.7 .5-.1 .5,.1 .5,.2 .5-.9 .5,1.4 .5-.1 .5-.4 .5,.3 .5-.6 .5,.6 .5-.2 .5,.4 .5,.3 .5,.2 .5,.2 .5,.1 .5-.2 .5,.3 .5-.2 .5,.2 .5-0 .5-.3 .5-.4 .5-.1 .5,.9 .5,.5 .5-.3 .5-.2 .5,.5 .5-0 .5-.3 .5,.5 .5-.2 .5-.1 .5,.5 .5-1.2 .5,1.6 .5-.6 .5,.6 .5-.1 .5-0 .5-.1 .5,.1 .5,.4 .5,.1 .5-.2 .5,.1 .5,.4 .5-1.1 .5,.4 .5-.3 .5,.9 .5,.2 .5,.3 .5-.7 .5,.5 .5,.6 .5-.8 .5,1 .5,0 .5-.4 .5,.3 .5,.2 .5-.5 .5,.4 .5-.2 .5,0 .5-.8 .5,.4 .5,.2 .5,.2 .5-1.7 .5,1.8 .5-.1 .5-.8 .5,.8 .5,.1 .5,.2 .5,.5 .5-.1 .5,.8 .5-.3 .5-.9 .5,.9 .5,.3 .5-.5 .5-.4 .5,.5 .5,.6 .5-.5 .5-.3 .5-.4 .5,1.1 .5-.2 .5,.2 .5-.6 .5,.8 .5-.4 .5-.2 .5,.6 .5-.2 .5-1.2 .5,1.4 .5,0 .5-.2 .5,.1 .5,.7 .5-.1 .5-.6 .5,.4 .5-.9 .5,1.4 .5-1.2 .5,0 .5,.1 .5,.2 .5,.2 .5,.3 .5-1.2 .5,1 .5,.2 .5,.2 .5-.7 .5,.3 .5,.5 .5-.2 .5-.3 .5,1 .5,0 .5-.5 .5-.4 .5,.6 .5,.7 .5-.8 .5,.8 .5-.3 .5,.6 .5-.2 .5,0 .5,.2 .5-.2 .5,.3 .5,.2 .5-.7 .5-.6 .5,.2 .5,.6 .5-1 .5,.2 .5,.6 .5,.2 .5-.3 .5-.9 .5,1 .5-.7 .5-.4 .5,1.4 .5-.9 .5,.5 .5,.1 .5-0 .5,.1 .5,.3 .5-.3 .5,.6 .5-0 .5-.2 .5,.1 .5-.1 .5-0 .5,.6 .5,.4 .5-0 .5-.1 .5-0 .5,.4 .5,.1 .5-1 .5,.8 .5-.1 .5-.3 .5-1.4 .5,1.3 .5-.3 .5-.8 .5,.3 .5,.5 .5-.1 .5-.7 .5,.4 .5-.1 .5,.4 .5-.5 .5,.6 .5-.2 .5,.3 .5,.4 .5-.1 .5,.2 .5-.3 .5,.4 .5-.9 .5,1.1 .5-.1 .5-.5 .5-.2 .5-.2 .5,.5 .5,.1 .5-.1 .5,0 .5,.3 .5-.5 .5,.3 .5,.3 .5-.1 .5-.1 .5,0 .5-.3 .5,.3 .5-1.5 .5,1.5 .5-.8 .5,.6 .5-.3-0,4.2-.5,.1-.5-.1-.5-.8-.5,.8-.5-.6-.5,.3-.5,.8-.5-.8-.5,1.5-.5-.7-.5-.8-.5,.9-.5-.2-.5-.4-.5,.3-.5-1.2-.5,.4-.5-.1-.5,0-.5,1.1-.5-.8-.5,.2-.5-.3-.5,.5-.5-.5-.5-.4-.5,.2-.5-.4-.5,.1-.5,0-.5-.1-.5-.2-.5,.9-.5-.4-.5-.6-.5,.2-.5,.1-.5,.3-.5-.2-.5,1-.5-.7-.5-.1-.5,.4-.5,.2-.5-.6-.5,.3-.5,.5-.5-.4-.5-.2-.5,.4-.5-.3-.5-.5-.5,.5-.5,.3-.5-1.1-.5,.1-.5,1.1-.5-1.3-.5,.3-.5,.1-.5-.2-.5-.4-.5-.2-.5,.2-.5-.4-.5,.5-.5,.6-.5-.7-.5,.2-.5,0-.5,0-.5-.9-.5,.1-.5,.3-.5,.4-.5-.9-.5,.1-.5,.1-.5,1-.5-.8-.5,.1-.5,0-.5,.3-.5,.4-.5-.1-.5,0-.5,.1-.5-.8-.5,.1-.5,1-.5-.4-.5,0-.5-1-.5-.4-.5,.2-.5,.1-.5-.4-.5-.3-.5,.1-.5,.1-.5,.5-.5-.3-.5-.3-.5,.5-.5-.9-.5,1.7-.5-1.5-.5,.6-.5-0-.5-.9-.5,.5-.5-.2-.5,.9-.5-.6-.5-.3-.5,.5-.5,.7-.5-1-.5-0-.5-.2-.5,1.4-.5-.7-.5-.2-.5-.5-.5-.6-.5,.3-.5-.1-.5,.1-.5,.2-.5,0-.5-.6-.5-.3-.5-0-.5-0-.5,.3-.5,.4-.5-.5-.5-.1-.5,.6-.5-.5-.5,1-.5-.6-.5-.2-.5-.5-.5-.2-.5,.8-.5-.8-.5-.4-.5-.2-.5,0-.5-.1-.5-.4-.5,0-.5-.3-.5,1.5-.5-1.3-.5,.4-.5-.3-.5,.6-.5-.2-.5,.9-.5-.8-.5-.3-.5,.5-.5,.2-.5,.6-.5-1.4-.5-0-.5-.3-.5,.4-.5-.6-.5,.1-.5,.3-.5-1-.5,.1-.5,.3-.5-.4-.5,.9-.5-1.2-.5,.2-.5-.2-.5-.1-.5,.5-.5-.1-.5,.2-.5-.6-.5,.7-.5-1.1-.5,0-.5,.4-.5-.4-.5,.1-.5-.4-.5-0-.5,.1-.5-.4-.5,.5-.5,.2-.5-.9-.5-0-.5-.1-.5,.6-.5-1-.5,.7-.5-0-.5-.5-.5,.3-.5-.2-.5-.3-.5-.1-.5,.6-.5-.5-.5-.7-.5,.4-.5-.7-.5,.1-.5,.2-.5-.2-.5,.4-.5,.3-.5-.5-.5-.2-.5-.3-.5-.2-.5,.4-.5-.6-.5-.2-.5-.2-.5-.2-.5,.1-.5-.4-.5,.1-.5-.2-.5,0-.5-.1-.5-.4-.5-.4-.5,.2-.5,.3-.5-.1-.5-.9-.5-.4-.5,0-.5,.2-.5-.6-.5-.6-.5,.3-.5-.6-.5-.4-.5,.1-.5-.1-.5-.2-.5-.6-.5-.5-.5,.3-.5-.7-.5-.3-.5,.2-.5-.4-.5-.5-.5-.5-.5-.6-.5,.2-.5-1.7-.5-.3-.5-.9-.5-.6-.5-.5-.5-.9-.5-.8-.5-.6-.5-.4-.5-.8-.5-.8-.5-.8-.5-.8-.5-.7-.5-1-.5-.8-.5-.3-.5-.9-0-.7-.7,5.4-.7,5.1-.7,4.7-.6,4.5-.7,4-.7,3.4-.7,2.4Z" fill="#06f006" clip-path="url(#c4j)"/>
<path d="M573.8,44l.7-2.4 .7-3.5 .7-4.1 .6-4.6 .7-4.9 .7-5.2 .7-5.5-0-.1 .5,.8 .5,.8 .5,.7 .5,.7 .5,.8 .5,.8 .5,.5 .5,.6 .5,.9 .5,.8 .5,.7 .5,.6 .5,.7 .5,.7 .5,.8 .5,.5 .5,.5 .5,.4 .5,.6 .5-.1 .5,.5 .5,.3 .5,.4 .5,.2 .5,.1 .5,.3 .5,.3 .5,.1 .5-.1 .5,.4 .5,.1 .5,.2 .5-.4 .5,.7 .5,.2 .5-0 .5,.5 .5-.1 .5,.3 .5,.5 .5,.1 .5,.3 .5,.1 .5,.3 .5,.1 .5,.4 .5-0 .5,.2 .5,.3 .5,.1 .5,.3 .5-0 .5-0 .5,.2 .5,.3 .5-0 .5-0 .5,.1 .5,.3 .5,.2 .5,.2 .5-.1 .5,.4 .5-0 .5,.3 .5,.1 .5,.1 .5-.3 .5,.5 .5,.2 .5-.1 .5-0 .5,.2 .5-0 .5,.2 .5-0 .5-0 .5-.1 .5,.3 .5,.1 .5,.2 .5-.1 .5,.1 .5,.1 .5,.1 .5-.2 .5,.3 .5-.1 .5,.2 .5-.1 .5-.2 .5,.3 .5-.3 .5,.5 .5-.1 .5-0 .5,.2 .5-.1 .5-0 .5,.4 .5-0 .5,.1 .5-.1 .5-0 .5,.2 .5-0 .5,.1 .5-.2 .5,.2 .5,.1 .5-0 .5-0 .5,.3 .5-0 .5-0 .5,.3 .5-0 .5-0 .5-0 .5,.1 .5-.1 .5-.2 .5,.2 .5,.2 .5-.4 .5-.2 .5,.4 .5-0 .5-0 .5,.5 .5,.1 .5-.3 .5,.4 .5,.2 .5,.1 .5-0 .5,.1 .5-.4 .5,.2 .5,.3 .5,.1 .5-.1 .5-0 .5-0 .5-.1 .5,.2 .5-0 .5,.1 .5,.1 .5-.2 .5,.3 .5,.1 .5-.1 .5,.2 .5-.2 .5,.2 .5-.3 .5,.1 .5,.3 .5-.1 .5,.2 .5-0 .5-.2 .5,.2 .5,.2 .5-.2 .5,.3 .5,.1 .5-.4 .5,.3 .5,.2 .5-.1 .5,.1 .5,.2 .5,.1 .5-.1 .5,.1 .5-.2 .5,.3 .5-0 .5,.2 .5-0 .5-0 .5,.1 .5-.3 .5,.3 .5,.2 .5-0 .5-.1 .5,.2 .5,.1 .5-.1 .5,.1 .5-.1 .5-.2 .5,.4 .5-.6 .5,.6 .5-0 .5-.2 .5-0 .5,.2 .5,.2 .5-.2 .5-0 .5-.1 .5,.5 .5,.1 .5-.7 .5,.5 .5,.2 .5-.4 .5,.5 .5-0 .5-.8 .5,.8 .5-0 .5,.1 .5-.4 .5,.3 .5-0 .5,.2 .5,.1 .5-.2 .5-0 .5-0 .5,.3 .5,.2 .5-.1 .5-.6 .5,.6 .5,.2 .5,.2 .5-0 .5-0 .5-0 .5-.1 .5-0 .5-.1 .5-.1 .5,.2 .5-0 .5,.1 .5,.1 .5-0 .5-.6 .5,.8 .5-0 .5,.1 .5-.1 .5,.1 .5-0 .5-.2 .5-.3 .5,.3 .5,.1 .5,.3 .5,.1 .5-0 .5-.2 .5,.1 .5,.2 .5-.3 .5,.3 .5-.4 .5,.3 .5-.3 .5-0 .5,.1 .5,.1 .5-.2 .5,.4 .5-.1 .5,.2 .5-0 .5-.3 .5,.2 .5-.2 .5,.4 .5,.1 .5-.1-0,2.5-.5-.1-.5-0-.5-.4-.5,.3-.5-.3-.5-0-.5,.2-.5,.2-.5-0-.5-.6-.5,.1-.5-0-.5-0-.5-.1-.5-0-.5-.1-.5,.3-.5-.1-.5-.1-.5,.3-.5-.3-.5,.2-.5-0-.5,.2-.5-.6-.5,.1-.5-.1-.5-0-.5-0-.5-.1-.5,.2-.5-.2-.5,.1-.5-.2-.5,.4-.5-.1-.5-.4-.5,.1-.5-.1-.5-.2-.5,.1-.5-.2-.5,.4-.5-.3-.5-0-.5,.2-.5-.1-.5,.1-.5-.2-.5-0-.5-0-.5-.2-.5-.1-.5,.4-.5-.4-.5,.2-.5-.3-.5-0-.5-0-.5-.1-.5,.1-.5,.3-.5-.6-.5,.4-.5-.3-.5,.3-.5-.6-.5,.3-.5,.2-.5-.1-.5-.1-.5-.3-.5-.1-.5-0-.5,.1-.5-.4-.5,.2-.5,.2-.5-.3-.5-.3-.5,.5-.5-.4-.5,.1-.5-.1-.5,.2-.5-.2-.5,.1-.5-.1-.5,.4-.5-.4-.5-.1-.5-.1-.5-.2-.5,.3-.5-.4-.5-0-.5-0-.5-0-.5-0-.5-0-.5-.2-.5,.2-.5-.4-.5,.1-.5,.2-.5-.4-.5-.1-.5,.2-.5-.3-.5,.1-.5,.1-.5-.4-.5,.2-.5-.3-.5-0-.5-.1-.5-0-.5,.1-.5-.1-.5-.1-.5-0-.5-.1-.5,.1-.5-.1-.5-.1-.5-0-.5,.3-.5-.2-.5,.1-.5-.5-.5-0-.5-0-.5-.1-.5-0-.5-.1-.5-.1-.5,.1-.5-.2-.5,.2-.5-.1-.5,.1-.5-.2-.5,.1-.5,.3-.5-.6-.5,.1-.5-.1-.5-.3-.5-0-.5,.3-.5-.5-.5-.1-.5,.1-.5-.2-.5-0-.5,.1-.5-.3-.5,.3-.5-.3-.5-0-.5-0-.5-0-.5-.1-.5,.3-.5-.3-.5,.1-.5-.3-.5-.1-.5-.1-.5,.1-.5-0-.5,.1-.5-.4-.5,.2-.5-.3-.5,.2-.5-.3-.5,.1-.5-.3-.5-0-.5-0-.5-.1-.5-.1-.5-0-.5,.2-.5-.4-.5,.4-.5-.5-.5-.1-.5,.3-.5-.3-.5-0-.5-.2-.5,.4-.5-.4-.5,.1-.5-0-.5-.2-.5-.1-.5,.1-.5-.2-.5-0-.5-.1-.5-.2-.5,.4-.5-.6-.5-0-.5-.1-.5,.2-.5-.3-.5,.1-.5-0-.5-.3-.5-.1-.5-.1-.5-.3-.5,.2-.5-.5-.5-.1-.5-.2-.5-0-.5-.1-.5-.2-.5-.1-.5-.2-.5-.1-.5-0-.5-.1-.5-.4-.5,.2-.5-.4-.5-.2-.5,.2-.5-.5-.5-0-.5-.3-.5-.1-.5-.4-.5-.2-.5-.3-.5,.1-.5-.2-.5-.6-.5-.2-.5,.1-.5-.5-.5-.1-.5-0-.5-.3-.5-.3-.5-.2-.5-.2-.5-0-.5-.2-.5-.3-.5-0-.5-.5-.5-.1-.5-.2-.5-.3-.5-.2-.5-.3-.5-.5-.5-.5-.5-.5-.5-.6-.5-.6-.5-.6-.5-.7-.5-.9-.5-.7-.5-.7-.5-.8-.5-.7-.5-.5-.5-.8-.5-.7-.5-.8-.5-.7-.5-.9-.5-.8-0-0-.7,5.5-.7,5.2-.7,4.9-.6,4.6-.7,4.1-.7,3.5-.7,2.4Z" fill="#e8100c" clip-path="url(#c4j)"/>
<path d="M573.8,198.5l.7-4.7 .7-6.9 .7-8 .6-8.9 .7-9.6 .7-10.2 .7-10.7-0-.4 .5,4 .5,4.6 .5,5.2 .5,4.5 .5,4.9 .5,4.8 .5,4 .5,4.5 .5,3.3 .5,2.8 .5,4.8 .5,2.3 .5,3.1 .5,.1 .5,3.1 .5,1.7 .5,.7 .5,1.3 .5,1.6 .5,1.5 .5,.8 .5,1 .5,1.4 .5,.6 .5-1.4 .5,2 .5-1.9 .5,3.3 .5,.1 .5,1.5 .5-1.4 .5,1.3 .5,.6 .5-.1 .5-0 .5,.7 .5,2.8 .5,1.8 .5-2.4 .5,1 .5,1.1 .5,2.5 .5,1 .5,.1 .5,1.3 .5-3.1 .5-1.2 .5,3.1 .5-2.4 .5,.9 .5,.1 .5-1.7 .5,.8 .5,2.6 .5-2.7 .5,3.7 .5-1.8 .5,1.3 .5,2.4 .5,.1 .5-2.8 .5,.1 .5,.5 .5,.3 .5,2 .5-1.3 .5,2.7 .5,1.2 .5,.5 .5-6.1 .5,2.2 .5,2.1 .5-0 .5,2.7 .5,.8 .5,.3 .5-4.8 .5,1.7 .5,3.1 .5-2.3 .5,.5 .5-.2 .5,.8 .5-1 .5-.7 .5-.1 .5,3 .5,1.3 .5-.6 .5-1.7 .5,4.1 .5-4.4 .5,1.3 .5-1.6 .5,2.4 .5-.3 .5-4.6 .5,.2 .5,2.7 .5,3.1 .5-3 .5,3.1 .5-1.8 .5,3.4 .5-4.7 .5,.6 .5,.8 .5,.9 .5,.4 .5-6.1 .5,3.1 .5,.6 .5,1.4 .5-.2 .5-1.8 .5-.8 .5-0 .5,3.1 .5,.5 .5-1.7 .5,3.9 .5-2.6 .5,.6 .5-4.4 .5-1 .5-.9 .5,6.1 .5,1.8 .5,.6 .5-7.3 .5,6.9 .5-9.5 .5,6 .5,1.8 .5-6 .5,7.5 .5-4.9 .5-.5 .5,1.4 .5-.9 .5-1.7 .5,3.7 .5-.4 .5-2.2 .5-1 .5-.5 .5,7.1 .5-12.3 .5,7.4 .5,4.2 .5-4.2 .5,3.7 .5-.7 .5,.4 .5,2.1 .5-4 .5-3.5 .5,9 .5-1 .5,.4 .5-3.3 .5,1.6 .5-.5 .5-.9 .5-2.1 .5-3.1 .5,1.1 .5,3.4 .5-.8 .5-2.6 .5,2.7 .5,1.4 .5,.1 .5-4.3 .5,7.1 .5-5.2 .5,2.5 .5-2.7 .5,4.8 .5-4.4 .5,4.9 .5-1 .5-2.5 .5,1.3 .5-2.5 .5-.2 .5,6.5 .5,.1 .5,.2 .5-3.1 .5-.2 .5,2 .5-2.4 .5,3.4 .5-1.1 .5-3.5 .5-1.2 .5-1.3 .5,2.3 .5-1.7 .5-1.1 .5-.7 .5,4.7 .5,2.7 .5-.1 .5-4.6 .5,5.1 .5,.8 .5-5.6 .5,4.8 .5-3.1 .5,2 .5-3 .5,4.5 .5-.5 .5-4.5 .5,3.5 .5,1.8 .5,.4 .5-4.6 .5-3.8 .5,2.5 .5,4.6 .5-4.4 .5,4.1 .5,1.5 .5-10.6 .5,4.4 .5,6.9 .5-1.2 .5-2.1 .5-2.2 .5-1.1 .5,2.4 .5-.1 .5,.5 .5-2.9 .5-2.2 .5,8.3 .5,.7 .5-1.2 .5,1 .5-5.5 .5,4.8 .5-2.7 .5,.8 .5,.1 .5,.3 .5-5.6 .5,7.5 .5-1.5 .5-1.2 .5,2.6 .5-.4 .5,.4 .5-4.1 .5,3.7 .5-2.7 .5-2.5 .5,4.7 .5-1.4 .5-1.5 .5-7.9 .5,9.2 .5-3.1 .5-2.5 .5,5.8 .5-5.1 .5,3.8 .5-3 .5-.9 .5,1.9 .5,2.2 .5,3.8 .5-1.9 .5-3.5 .5,5.3 .5,.1 .5-1.8 .5,4.7 .5-7.7-0,17.2-.5-5.1-.5,1.1-.5,3.6-.5-6.5-.5-0-.5-.4-.5-.3-.5-.3-.5-1.6-.5,2.8-.5,4.6-.5-2.1-.5-6.8-.5,6.3-.5-1.5-.5-2.3-.5-.6-.5,1.7-.5,4.2-.5-1.6-.5-2.1-.5,4.8-.5-2.3-.5-3.3-.5,1.5-.5,1.4-.5-1-.5-1.6-.5,2.3-.5-1.8-.5-0-.5,4-.5-3.7-.5-.8-.5,4.5-.5,.8-.5-3.7-.5,.4-.5-1.1-.5-1.5-.5,7-.5-4.5-.5,5.7-.5-9.5-.5,.6-.5-.3-.5-2.7-.5,4.6-.5,1.3-.5-1-.5-.4-.5-.5-.5-1.2-.5,2.5-.5,.8-.5-1.2-.5-2-.5,4.6-.5,1.3-.5-1.8-.5-4.3-.5,4.6-.5-4.6-.5-.5-.5,4.8-.5-.4-.5-2.2-.5,4.1-.5,.5-.5-7-.5-.3-.5,4.4-.5-2.4-.5-1.7-.5,2.6-.5-1-.5-1.2-.5-.7-.5-.1-.5,2.2-.5-2.6-.5,4.3-.5-3.3-.5,4.1-.5-4.2-.5-.1-.5,5.8-.5-4.9-.5,1.6-.5-.5-.5,1.1-.5-.6-.5,.4-.5-.7-.5-1.8-.5-.5-.5-.6-.5-.6-.5-.7-.5,2.8-.5-3.1-.5,5.4-.5,1.7-.5-4.8-.5-.8-.5,3.3-.5-3.9-.5,1-.5,.6-.5,1.4-.5-2.7-.5,5-.5-.9-.5-2.8-.5-1-.5-1.1-.5,13.8-.5-7.9-.5-.1-.5-2.8-.5,.4-.5,1.1-.5-.8-.5-1.9-.5,.3-.5,1.6-.5,4.9-.5-3.2-.5-3.7-.5,.5-.5-.2-.5,.7-.5-2.4-.5,.1-.5-2.3-.5,4.2-.5-.9-.5-2.1-.5-1.7-.5,.8-.5,.2-.5-1.7-.5,4.1-.5,4.1-.5-2.5-.5-4.2-.5,1.9-.5,3.9-.5,1-.5,1-.5-5.3-.5,.2-.5,.8-.5,1.2-.5-4-.5-.9-.5,3.1-.5,2.9-.5-.6-.5-1.4-.5-1.5-.5-1.6-.5,.9-.5,4.1-.5-1-.5-3.3-.5-2.5-.5,3.3-.5-3.4-.5,2.1-.5-1.8-.5,1.7-.5-2.3-.5,10.8-.5-4.7-.5-3.1-.5,6-.5-6.5-.5,8.4-.5-9.6-.5-.5-.5,10.8-.5-6.8-.5-4.3-.5-.4-.5-.2-.5,4.7-.5-.8-.5-.9-.5,.1-.5-1.3-.5,2.5-.5,.2-.5,1-.5-5-.5,4.8-.5-4.2-.5-1.2-.5,1.4-.5,1-.5-2.1-.5-.8-.5,1.4-.5,.5-.5-1.5-.5,2.1-.5,.2-.5-2.6-.5-2.5-.5,1.1-.5,2.1-.5,.8-.5,.4-.5-5.2-.5,3.3-.5-.8-.5,1.4-.5,4.4-.5-8.3-.5-.7-.5,1-.5-1.1-.5-.4-.5-1.9-.5,3-.5-3.6-.5,1.4-.5,2-.5-3.8-.5,2-.5-.5-.5,1.8-.5-1.7-.5-2.5-.5-.2-.5,6.1-.5-3.9-.5-.7-.5,.2-.5-2.8-.5,1.2-.5-.2-.5-2.7-.5-1.7-.5,1.7-.5,.8-.5-5.7-.5-.3-.5-.4-.5-1.1-.5,1.9-.5-2.1-.5-.9-.5-.8-.5,.2-.5-.3-.5-.1-.5-.3-.5-.6-.5-3.8-.5-.5-.5-1.4-.5-.1-.5-2.8-.5,.6-.5-2.6-.5-1.8-.5-2.2-.5-.4-.5-5.5-.5-3.1-.5-3.9-.5-3.1-.5-4.6-.5-4.8-.5-4.1-.5-5.1-.5-4.4-.5-5.2-.5-5-.5-3.8-0-.1-.7,10.7-.7,10.2-.7,9.6-.6,8.9-.7,8-.7,6.9-.7,4.7Z" fill="#06f006" clip-path="url(#c4k)"/>
<path d="M573.8,213.2l.7-6 .7-8.7 .7-10.2 .6-11.3 .7-12.2 .7-13 .7-13.6-0-0 .5,3.5 .5,4.7 .5,4.7 .5,4.4 .5,4.6 .5,4.1 .5,4.9 .5,4.4 .5,3.8 .5,3.8 .5,4.8 .5,3.9 .5,3.9 .5,2.6 .5,3.1 .5,3.5 .5,1.7 .5,2.1 .5,4 .5,.2 .5-.9 .5,2 .5,.1 .5,2.7 .5,.5 .5,1.9 .5-.5 .5-3 .5,1.9 .5,1.3 .5,.3 .5,.5 .5,.3 .5-.4 .5,1.3 .5,.6 .5,.1 .5,.3 .5,1 .5,.5 .5-2.9 .5,2.2 .5,.8 .5-.2 .5-1.3 .5-.5 .5,.7 .5-1.6 .5,.6 .5,3.1 .5,.9 .5,.4 .5-1.2 .5,1.1 .5-2.2 .5-0 .5-.6 .5,3.2 .5,.4 .5-1.3 .5,.5 .5,.1 .5,1.4 .5-2.5 .5,3.1 .5-2.7 .5-.3 .5-2 .5-.4 .5,4.7 .5-.3 .5-.9 .5,1 .5-.8 .5-3.5 .5,3.8 .5,.4 .5-1.1 .5,1.5 .5-.1 .5-.6 .5,.5 .5-1.2 .5,1.2 .5,1.5 .5-1 .5-.9 .5,1.7 .5-2.2 .5,1.8 .5-.1 .5-1.5 .5-0 .5-1 .5,2.1 .5-3.3 .5,2.3 .5-5.2 .5,6.4 .5,1 .5-.7 .5-.2 .5,.3 .5-.5 .5-2.8 .5,1.5 .5,.2 .5-.4 .5,.3 .5,2.4 .5-4.6 .5,1 .5,2.2 .5,2.7 .5-2.9 .5-.6 .5,.9 .5,1 .5-2.2 .5,1.5 .5-.4 .5,.3 .5,2.1 .5-.4 .5-3.3 .5,3.4 .5-0 .5-.4 .5,.3 .5-.1 .5-2.7 .5-1.3 .5,2.1 .5,.8 .5-.2 .5-5.7 .5,2.5 .5,3.2 .5-3.8 .5,3.6 .5-2.5 .5,3 .5-1 .5-1 .5,1.2 .5,2.8 .5-2 .5,2.6 .5,1.6 .5-10.3 .5,10.3 .5-.5 .5,.7 .5-2.3 .5,.3 .5,1 .5,1.3 .5-1.9 .5-.2 .5-2.1 .5-.2 .5,1.7 .5-3.2 .5,1.7 .5,.3 .5-1.8 .5,2.5 .5-1.5 .5-1.1 .5,1.9 .5-1.7 .5,2.1 .5-.7 .5,1.3 .5-4.2 .5,3.2 .5-.5 .5-.5 .5-.2 .5-3.1 .5,3 .5-1.8 .5-1.8 .5,6.5 .5-.6 .5,1.5 .5-3.2 .5,.8 .5-1.7 .5-2.3 .5,6.9 .5,.9 .5-2.1 .5-1 .5,1.2 .5-4 .5,3 .5,.7 .5-2.5 .5-1.1 .5,.7 .5-3.3 .5,1.9 .5,2.9 .5,.4 .5-2.6 .5,1.8 .5-2.4 .5,2.8 .5-1.7 .5,2.1 .5-4.4 .5,1.2 .5,.7 .5-2 .5,1.5 .5-2 .5,.9 .5-3.5 .5,1.6 .5,.6 .5-2.9 .5,.8 .5,.2 .5-.8 .5,.6 .5,1.5 .5-1.9 .5,2.2 .5,1.4 .5-.1 .5,1.6 .5,.5 .5-3.5 .5,3.9 .5,.7 .5-.1 .5-5.9 .5,7 .5,.7 .5-1.4 .5-3.7 .5,4.9 .5-.2 .5-1.4 .5,3 .5-3.1 .5-.5 .5,2 .5-1.1 .5-1.4 .5-.7 .5,5.7 .5-.2 .5-2.7 .5,5 .5-2.5 .5,2.7 .5-2.7 .5,.4 .5,2.4 .5-2.5 .5,2.7 .5,1.1 .5-2.3 .5,2.7 .5,.8 .5-3.1 .5-.8 .5,2.5 .5-1.5 .5,.5 .5-2.1 .5,4.5 .5,.6 .5,.1 .5-1.1 .5-.9 .5,1.4 .5,.9 .5-6.3-0,14.4-.5,.5-.5-3.9-.5,.6-.5,4.8-.5-4.7-.5,2.9-.5-4.1-.5,4.5-.5-0-.5-3.7-.5,1.4-.5,.6-.5,1.2-.5,1.9-.5-3.3-.5-4.2-.5,11.2-.5-12.1-.5,.3-.5,2.7-.5-1.6-.5-1.1-.5-.2-.5,.1-.5-.3-.5,12.2-.5-14.4-.5,4.5-.5-5.4-.5,1.5-.5-2.5-.5,1-.5,.4-.5,1.7-.5-0-.5-.2-.5-.9-.5,.1-.5,.3-.5-1.4-.5,1.9-.5-4.1-.5,1.5-.5,.2-.5-2.5-.5,.8-.5-.8-.5,1.4-.5-1.7-.5,.8-.5-2.2-.5-1.5-.5-.7-.5-.5-.5,1.4-.5,.7-.5-.6-.5-0-.5,1.7-.5-3.9-.5,1.9-.5,1.9-.5-1.9-.5,4.9-.5-1.4-.5-.3-.5,1.1-.5-.6-.5,.5-.5,1.4-.5-.1-.5-1.7-.5,.7-.5-1.5-.5,4.3-.5,.1-.5-2.2-.5-1.8-.5,2.4-.5-1.3-.5-.9-.5,1.7-.5,3.1-.5,2.3-.5-5.7-.5,.9-.5,.5-.5-1.3-.5,1-.5,1.1-.5-.7-.5-0-.5-.1-.5,.6-.5,2.3-.5-1.2-.5-3.1-.5-1.4-.5,1.5-.5-.1-.5,.6-.5-1.6-.5,2.2-.5-3.5-.5,3.7-.5-.5-.5,1.3-.5-2.4-.5,2.6-.5,2.1-.5-1.8-.5-3.5-.5,2.7-.5,.5-.5-3.2-.5,3-.5-2.5-.5,.4-.5,1.5-.5-.9-.5,2.3-.5,1.7-.5-1.7-.5,2.1-.5-2.6-.5,1.7-.5,3.3-.5-1.4-.5-3.9-.5-.2-.5,1.5-.5,1.1-.5-4.5-.5,1.5-.5-2.4-.5,1.5-.5-.5-.5-1.9-.5-.8-.5,5.6-.5-4.6-.5,1.4-.5-1.4-.5,1.3-.5-.6-.5-1.3-.5,1.4-.5-2.1-.5,1.2-.5-.3-.5,3.4-.5-2.7-.5-.2-.5,.5-.5,5-.5-5.3-.5-.1-.5,.1-.5,6.2-.5-6.7-.5,1.8-.5,.3-.5,1.4-.5-1.3-.5-.4-.5-.9-.5,2.2-.5-2.9-.5,5.4-.5-3.1-.5-1.4-.5,3-.5-3.7-.5,.7-.5,.8-.5,1.7-.5-4.5-.5,5.3-.5-.2-.5-4.6-.5,1-.5-.1-.5,.5-.5-.7-.5-.2-.5-.1-.5-.9-.5,.8-.5-.7-.5,.3-.5,1.7-.5,2.9-.5-2.8-.5-1.2-.5-1.1-.5,1.4-.5-.8-.5-.7-.5,.1-.5-.9-.5,1.6-.5,3.2-.5-4-.5-1.6-.5,5.2-.5-2.8-.5-2.1-.5,.6-.5-.4-.5,20.4-.5-19.5-.5,1.5-.5-1.1-.5-.2-.5-.8-.5-0-.5,2.4-.5,.6-.5-1.9-.5,2.4-.5-3.7-.5,.4-.5,3.3-.5-3.8-.5,5.1-.5-5.5-.5,2.2-.5-3.2-.5,3.3-.5-3.1-.5-1.6-.5-0-.5,3.2-.5-3.3-.5-1-.5,.8-.5-.6-.5,1.6-.5-1.3-.5,.3-.5-.2-.5-0-.5,1.2-.5,1.2-.5-3.6-.5,.6-.5,.8-.5-.7-.5-1.3-.5-.7-.5-.9-.5,2.1-.5-2.8-.5,.4-.5-.6-.5-1.9-.5,1.8-.5-3.2-.5-1.2-.5,.1-.5-1.1-.5-1.2-.5-.2-.5-4.6-.5-1.8-.5-2.5-.5-3.9-.5-4.2-.5-3.9-.5-3.6-.5-4-.5-4.6-.5-4.6-.5-3.8-.5-4.1-.5-5.2-.5-4.4-.5-4.7-.5-4.5-.5-4.8-.5-3.9-0-0-.7,13.6-.7,13-.7,12.2-.6,11.3-.7,10.2-.7,8.7-.7,6Z" fill="#0c52e4" clip-path="url(#c4k)"/>
<path d="M573.8,198.5l.7-4.7 .7-6.9 .7-8 .6-8.9 .7-9.6 .7-10.2 .7-10.7-0-.1 .5,3.6 .5,4.4 .5,4.5 .5,4.1 .5,4.3 .5,4.7 .5,3.9 .5,3 .5,4.4 .5,1.6 .5,4 .5,2.5 .5,2.8 .5,2.4 .5,1.4 .5,.9 .5,.1 .5,2 .5,1.2 .5-1.3 .5,1.6 .5,2 .5-.1 .5,2.1 .5,.3 .5,.2 .5-1 .5,.9 .5,2.8 .5-.4 .5,1.6 .5,.2 .5,.9 .5,.4 .5-.8 .5-0 .5,1.7 .5,1.1 .5-1.4 .5,1.1 .5-.1 .5,1.7 .5-2.9 .5,1.6 .5,1.4 .5-.9 .5,2.6 .5,.9 .5-2.9 .5,3.8 .5-1.4 .5,.6 .5-.3 .5,.3 .5-.3 .5-1.2 .5,2.3 .5-1 .5-1.2 .5,.1 .5,0 .5,2.9 .5-2.7 .5,1.8 .5-1.2 .5,2.3 .5-.4 .5-.8 .5,1.9 .5-.8 .5,.9 .5-1 .5-.2 .5-.5 .5,2.9 .5,1 .5-1.3 .5,1.8 .5-2.5 .5,.6 .5,3 .5-.9 .5-1.4 .5-.3 .5-.9 .5,2.4 .5-1.7 .5,1.2 .5,.2 .5,.1 .5-1.6 .5,.8 .5,.2 .5,1.2 .5,.2 .5,.1 .5-2.9 .5,2.3 .5,.3 .5-.1 .5,.8 .5-2.5 .5,1.7 .5,.1 .5,1.6 .5-.8 .5-1.1 .5,2.7 .5-1.6 .5-1.4 .5-1.6 .5,2.7 .5-.4 .5-.1 .5,0 .5,1 .5-1.1 .5,1.8 .5,.3 .5-.9 .5-.5 .5-.5 .5-.1 .5,2.7 .5-1.1 .5,.8 .5-.6 .5-2.7 .5,2.4 .5-1.3 .5,1.6 .5-1.6 .5,.2 .5,1.9 .5,.4 .5,.9 .5-1.5 .5-.2 .5,3.3 .5-.2 .5-.9 .5,.6 .5-.3 .5-2.3 .5,.1 .5-2.6 .5,4.7 .5-1.8 .5,.8 .5-1.9 .5,1.5 .5,.1 .5-1.2 .5,1.5 .5-1.9 .5,1.9 .5-3.2 .5,1.1 .5,1.3 .5,1.2 .5-.1 .5-6 .5,4.3 .5-0 .5,2.3 .5-4.9 .5,2.6 .5-1.6 .5,3.5 .5-.4 .5,1.5 .5-.3 .5,.6 .5-1.8 .5,1.7 .5-.8 .5-.1 .5,.2 .5-.6 .5,1.1 .5-6.5 .5,4.4 .5-.5 .5,.8 .5-1.9 .5,.3 .5-1 .5,2.7 .5,.8 .5-.5 .5-1.4 .5,.2 .5-.4 .5,.5 .5,2.8 .5,.1 .5-.1 .5,.1 .5,.6 .5,.3 .5-2.1 .5,2.4 .5-1 .5-1.1 .5,1.2 .5-.4 .5-.9 .5,.5 .5-1.3 .5,2 .5,.4 .5-2.8 .5,.3 .5,1.4 .5-5.9 .5,1 .5,.8 .5,3.3 .5-.6 .5,1.8 .5,.7 .5,.1 .5-.8 .5-4.6 .5,2.6 .5,3 .5-4.4 .5,3.7 .5,1 .5-2.6 .5-1.2 .5,4 .5-3.1 .5,2.2 .5-.6 .5,1.2 .5-1.5 .5-2.2 .5-1.1 .5,3.7 .5,2.2 .5-1.1 .5-2.6 .5-2.5 .5,2 .5-4 .5,3.1 .5,.5 .5,.4 .5-.7 .5,1.1 .5,.2 .5,0 .5-.4 .5,.6 .5,.3 .5-2.6 .5,1.2 .5,1.5 .5-3.7 .5,2.3 .5-.5 .5,3.5 .5-.4 .5,1.4 .5-3.3 .5-.1 .5,.5 .5-.6 .5-1.4 .5-3.1 .5,3.2 .5,1.6 .5-1 .5,1.2 .5,.1 .5-2.5 .5,1.7 .5-.2 .5,1 .5-.5-0,12.9-.5-6.7-.5,1.9-.5,1.1-.5-1.9-.5,1.8-.5-1.5-.5-2.4-.5,2.2-.5-3.4-.5,3-.5-2.4-.5,2.1-.5-.5-.5,3.2-.5-2.9-.5,.2-.5,.4-.5-.4-.5,3.2-.5-4.5-.5-.9-.5,4.6-.5-1.5-.5-.1-.5,2.1-.5-5.4-.5,3.4-.5,5.1-.5-8.3-.5,.2-.5-.7-.5,1.3-.5,1.3-.5,.3-.5,1.8-.5,1.4-.5-2.3-.5,1.9-.5-1.8-.5-.3-.5,0-.5-.3-.5-.1-.5,2.6-.5-1.5-.5,.4-.5,0-.5,1-.5-2-.5,3.4-.5-4.5-.5,6-.5-3.6-.5-2.3-.5,.9-.5,.8-.5,.7-.5-2.9-.5,1.6-.5-.8-.5,.5-.5-.6-.5-.1-.5-.5-.5-.3-.5,.3-.5,.8-.5-1.9-.5,1.8-.5,.6-.5,1.1-.5-1.5-.5-.3-.5,3.6-.5-3.5-.5,1-.5,.1-.5,3.4-.5-1.7-.5-2.4-.5,1.6-.5-1.7-.5,2.1-.5,1.1-.5,.4-.5-2.9-.5-3-.5,2.9-.5-2.2-.5,3.5-.5-2.9-.5,0-.5,.3-.5-2.1-.5-1.5-.5,3.2-.5,.1-.5-1.1-.5-1.3-.5,1.9-.5,3.2-.5-.4-.5-1.8-.5,.1-.5-1.2-.5,2.2-.5-2.3-.5-.2-.5,1.5-.5-1.4-.5,.3-.5-.5-.5-.5-.5-.4-.5,2.3-.5,2.8-.5-2.8-.5-1.3-.5-1.8-.5,.5-.5,2.5-.5-4-.5,.2-.5,1.4-.5,2.2-.5-1.9-.5-1.6-.5,1.5-.5-1.2-.5,1.1-.5,.1-.5,1.8-.5-1.2-.5,3.4-.5-.7-.5-2.4-.5,1.2-.5,2.6-.5,.2-.5-3.6-.5,2-.5-1.8-.5,2-.5-2.8-.5-.9-.5-.7-.5-.4-.5,2.4-.5-2.2-.5,.1-.5,2.6-.5-1.8-.5,1.8-.5,2-.5-4.8-.5-.1-.5,2.3-.5-1-.5-1.8-.5,.9-.5,2.8-.5-2.9-.5,.3-.5-.6-.5,1.1-.5,2-.5-3.1-.5,.8-.5,1.4-.5-2.1-.5-.4-.5,1.6-.5-.7-.5-1.2-.5-1.4-.5,3.1-.5-2.3-.5,4.9-.5-5.2-.5,1.1-.5,1-.5-1-.5-2.4-.5,2.1-.5,.1-.5-1.1-.5-1.4-.5,1.5-.5-1.8-.5-.8-.5,3-.5-1.3-.5,.9-.5,1-.5-3.4-.5,2.2-.5-.4-.5,1-.5-.6-.5,.1-.5,.3-.5-1.8-.5,1.1-.5,2.1-.5-4-.5,.8-.5-.8-.5-.3-.5,3.9-.5-2.6-.5,.6-.5,.9-.5-3.4-.5-.5-.5,1.1-.5-.9-.5,1.8-.5-3.5-.5,2.8-.5-1.3-.5-3.3-.5,3.7-.5-3.3-.5,1.4-.5-.2-.5-.1-.5,1.5-.5-2-.5-.6-.5,.2-.5-.3-.5-.3-.5,.4-.5-1-.5-.4-.5,.5-.5-2.1-.5,.9-.5-.5-.5-.5-.5-1.4-.5-.1-.5,1.5-.5-.2-.5-1.4-.5,3.8-.5-4.5-.5-.3-.5,.9-.5-2.4-.5,.6-.5-2.4-.5-.3-.5,.1-.5-2.5-.5-.1-.5,.4-.5-2.5-.5-.5-.5-1-.5,1-.5-1.7-.5-1.4-.5-.3-.5-2.3-.5-1.1-.5-1.1-.5-2.1-.5-2.5-.5-2.4-.5-2.9-.5-3.6-.5-2.7-.5-5-.5-4-.5-4.1-.5-4.4-.5-4.5-.5-4.6-.5-4.4-.5-3.4-0-.2-.7,10.7-.7,10.2-.7,9.6-.6,8.9-.7,8-.7,6.9-.7,4.7Z" fill="#06f006" clip-path="url(#c4k)"/>
<path d="M573.8,198.5l.7-4.7 .7-6.9 .7-8 .6-8.9 .7-9.6 .7-10.2 .7-10.7-0-.3 .5,3.3 .5,4.1 .5,3.3 .5,3.8 .5,4.4 .5,3.3 .5,2.7 .5,4.6 .5,2.5 .5,3.3 .5,2.5 .5,2.5 .5,3.1 .5,1.3 .5,.9 .5,.7 .5-.2 .5,1.7 .5,1.2 .5,.7 .5,.1 .5,1.1 .5-.6 .5,.8 .5,1.7 .5,.7 .5,.3 .5,1.1 .5,.9 .5-1.4 .5,1.8 .5,.8 .5-.8 .5,2.2 .5,.5 .5-1.1 .5,.2 .5,1.7 .5-.3 .5,.5 .5-1.4 .5-.7 .5,3.5 .5-1.3 .5,1.6 .5,.2 .5,.4 .5-1 .5,1.3 .5,0 .5-1.3 .5,0 .5,1.5 .5-.8 .5,1.8 .5,.6 .5-.9 .5-1.9 .5,.9 .5,2.4 .5,.9 .5-4.1 .5,4.7 .5-1.4 .5-1.9 .5,1 .5,1.1 .5,1 .5-.3 .5,1.1 .5-.9 .5,1 .5,.2 .5-4.5 .5,1.3 .5,.5 .5,2.9 .5-1.3 .5,1.6 .5-.1 .5-.4 .5,1 .5,0 .5,.9 .5,1.2 .5-2.2 .5,1.2 .5,.6 .5,1.4 .5,0 .5-1.8 .5,1.9 .5-.3 .5-.5 .5-1.1 .5-1 .5,1.1 .5-.4 .5,2 .5-.9 .5-.7 .5,1 .5-.1 .5,1.2 .5,.3 .5,.1 .5-1.6 .5,.5 .5,.3 .5,.7 .5,.7 .5-6.4 .5,5.1 .5,.4 .5-.3 .5-1.6 .5,1.8 .5-1.5 .5,.4 .5,1.5 .5-.2 .5-.3 .5,0 .5,.6 .5-.5 .5-2.7 .5,3.6 .5-5.2 .5,5 .5,.2 .5-1.8 .5,.5 .5-.5 .5,1.5 .5-1.5 .5,.7 .5-.6 .5,.7 .5-.5 .5-1.7 .5,.8 .5,2.9 .5-1.7 .5,1 .5,.4 .5,1.3 .5-1.8 .5,.1 .5,2 .5-2.3 .5,.9 .5,2.2 .5-1.6 .5,.1 .5,.4 .5-.3 .5-2.2 .5,.1 .5,1.4 .5,.3 .5-.2 .5-2.2 .5,2.1 .5-.6 .5,.6 .5-1 .5,.8 .5,.5 .5-1.7 .5-2.9 .5,4.3 .5-.4 .5,.2 .5-1.8 .5,2.7 .5-3.4 .5,2.9 .5-2 .5,1.6 .5,.5 .5-.7 .5,1.2 .5,.2 .5-1.7 .5-.2 .5-1.1 .5,.9 .5,.7 .5-1.1 .5,1.8 .5-.3 .5,.1 .5,.5 .5,.5 .5-.6 .5,.1 .5-2.1 .5,1.1 .5-2.1 .5,1.1 .5,.1 .5-.2 .5-1.5 .5,4.4 .5-2 .5-.7 .5,1.5 .5,.9 .5-.1 .5,.8 .5-.7 .5-2.4 .5,1.2 .5-.8 .5,.2 .5-2.6 .5-1 .5-.9 .5,3.7 .5,.5 .5,.6 .5-2.2 .5-.1 .5-.4 .5,1.1 .5,1.9 .5,1 .5-2.2 .5-.1 .5,1.5 .5-4 .5,4.7 .5,.2 .5,.3 .5-.1 .5-2.5 .5,3.1 .5-.3 .5,.7 .5-.6 .5-.3 .5,1.4 .5-.5 .5-.3 .5-.6 .5,.6 .5-2.4 .5,1 .5,1.2 .5-1.2 .5,.7 .5-3.2 .5,1 .5,1 .5,.4 .5,0 .5,.6 .5,1.2 .5-2.2 .5,1.6 .5-.7 .5,.8 .5,1.7 .5-1.9 .5,2.7 .5-2.5 .5,.7 .5,1 .5-1.6 .5,.8 .5,.6 .5-.7 .5-1.4 .5-1.3 .5,2.4 .5,.1 .5-.9 .5,.9 .5-.2 .5-.9 .5-2.7-0,8.3-.5,3.5-.5-1.8-.5-.6-.5,3.4-.5-4.2-.5-.1-.5-.6-.5,.4-.5,.8-.5,4.1-.5-.6-.5-2.4-.5-1.7-.5,.1-.5,.2-.5,.5-.5,1.7-.5,1.5-.5-3.7-.5,1.3-.5,2-.5-2.8-.5-1.6-.5,.2-.5-.9-.5,4.2-.5-3.9-.5-.6-.5,.3-.5,1.2-.5,.2-.5-1.8-.5,.9-.5,1.8-.5,.7-.5-2-.5,1.6-.5-.5-.5,1.3-.5-.1-.5-1.4-.5,.8-.5-2.6-.5-.3-.5,1.9-.5,.1-.5-1.1-.5-1.9-.5,1.2-.5-.2-.5,1.4-.5-1.8-.5,2.8-.5-.5-.5-.9-.5-1.9-.5-.6-.5,.8-.5,2-.5-3.6-.5,.3-.5,.9-.5-1.2-.5,0-.5,.1-.5,2.1-.5-1.4-.5,.4-.5,.8-.5,0-.5,2-.5-.6-.5-.7-.5,3.5-.5-4.3-.5,.4-.5-.2-.5-.9-.5-.9-.5,1.2-.5-.5-.5,1-.5-.7-.5,2.4-.5-.3-.5,1.6-.5-2.7-.5,5.9-.5-5.3-.5-.6-.5-.7-.5-.6-.5-.1-.5,.9-.5,1.3-.5-.4-.5-2.3-.5,2.6-.5-1.6-.5,.3-.5,.7-.5,.8-.5-1.2-.5-.5-.5,.6-.5,.9-.5-2.3-.5,.2-.5,2-.5,1.1-.5,1.7-.5-4.4-.5,1-.5-.9-.5-.2-.5,1.2-.5,.5-.5-1.7-.5,.2-.5,3.2-.5,1.4-.5-1.7-.5-.1-.5-2.5-.5,.5-.5,1.5-.5-1.6-.5,3.6-.5-.7-.5,.2-.5-1.7-.5-1.2-.5-.7-.5,3.3-.5,.2-.5-3.4-.5,.6-.5-.8-.5-.2-.5,.2-.5,1.3-.5-1.4-.5-.2-.5-1.3-.5,1.1-.5-1.3-.5,1.1-.5,2-.5-1.4-.5-.2-.5-.2-.5,.8-.5-2.5-.5,.6-.5,.2-.5-.3-.5,.5-.5-.7-.5-1-.5,2.9-.5-1.8-.5,2.2-.5-.5-.5,3.6-.5-5-.5,1.8-.5,.5-.5-1.6-.5,1.4-.5-1.3-.5,.1-.5,3.4-.5-2.8-.5,1.6-.5,2.4-.5-4.2-.5-.2-.5-.7-.5-.8-.5-.6-.5,1.9-.5-.2-.5-.6-.5,.9-.5-1.7-.5,.8-.5,.5-.5-.7-.5,3.3-.5-2.5-.5-1-.5-0-.5,1.7-.5-.7-.5-.5-.5-.6-.5-2.2-.5-.4-.5-0-.5,.6-.5-1-.5-1.5-.5-.8-.5,1.1-.5,1.9-.5-.6-.5,.3-.5-1.7-.5,.3-.5-.8-.5-0-.5-.2-.5,.6-.5,.2-.5-1.2-.5,.3-.5-.7-.5,2.1-.5,.7-.5-1.5-.5-.5-.5-1.8-.5-.4-.5,.3-.5-1.2-.5,.3-.5-0-.5-.9-.5,.1-.5-.1-.5-.8-.5,.4-.5-1.1-.5,.5-.5-0-.5-.7-.5,.5-.5,.2-.5-1.5-.5-.4-.5,.7-.5,1.6-.5-2.6-.5-.6-.5,.6-.5-.7-.5,.7-.5-.3-.5-1.3-.5-.9-.5,.5-.5,.4-.5-1.7-.5-2.6-.5-.2-.5-.4-.5-.2-.5-.9-.5-.2-.5-.9-.5-1.8-.5-1.3-.5,.4-.5-.8-.5-1.6-.5-.2-.5-1.5-.5-1.3-.5-2.6-.5-1.5-.5-3.1-.5-3.4-.5-2.4-.5-4.9-.5-3.3-.5-3.7-.5-3.7-.5-3.7-.5-3.9-.5-4.1-.5-3.3-0-.1-.7,10.7-.7,10.2-.7,9.6-.6,8.9-.7,8-.7,6.9-.7,4.7Z" fill="#06f006" clip-path="url(#c4k)"/>
<path d="M573.8,198.5l.7-4.7 .7-6.9 .7-8 .6-8.9 .7-9.6 .7-10.2 .7-10.7-0-.6 .5,3 .5,3.4 .5,3.3 .5,3.4 .5,3.4 .5,3.2 .5,3.1 .5,2.9 .5,3.2 .5,2.3 .5,1.3 .5,3.3 .5,2 .5,.8 .5,1.4 .5-1.8 .5,3.1 .5,.5 .5,.9 .5,1 .5,.7 .5,.4 .5,.5 .5-0 .5,.8 .5,.3 .5,.4 .5-1.4 .5,1.1 .5,.3 .5,.6 .5,.2 .5,1.2 .5-2.2 .5,3.6 .5-1.1 .5,.9 .5,.9 .5,.4 .5-1.6 .5,.6 .5,.1 .5,2 .5-.1 .5,.7 .5-.1 .5,1.1 .5-.4 .5-1.1 .5,.8 .5,1 .5,.6 .5,.3 .5-1.3 .5,1.5 .5-.4 .5,1.3 .5,.1 .5-2.3 .5,2.5 .5-0 .5-1.8 .5,2.2 .5,.3 .5-1.1 .5,2 .5-2.2 .5,2.2 .5-4.8 .5,4.2 .5,1.5 .5-1.8 .5,1 .5-2.1 .5-1.3 .5,3.5 .5-2.6 .5,3.2 .5,.8 .5,1.1 .5-1.1 .5,1.8 .5-.2 .5-4.6 .5,2.2 .5,.8 .5,.4 .5,1.5 .5-1.2 .5,.3 .5-.8 .5,1.9 .5-4.6 .5,4 .5,.1 .5-1.8 .5,.5 .5,1.5 .5,.7 .5-.3 .5,.2 .5-.9 .5-2.4 .5,2.7 .5-1 .5-.3 .5,2.5 .5,.3 .5,1.5 .5-.7 .5-1.3 .5,.3 .5-0 .5-.3 .5,.5 .5-2.7 .5,2.2 .5-.5 .5-6.4 .5,5.5 .5-1.7 .5,2.2 .5,.8 .5-2.3 .5,2.9 .5-.3 .5-.4 .5,1.1 .5-2.9 .5,3.4 .5-.6 .5-.2 .5-.5 .5-6.3 .5,3.9 .5,1.3 .5-1.4 .5,.6 .5-.4 .5-.2 .5,.7 .5-1.7 .5,.6 .5-.7 .5-.8 .5,1.9 .5,.8 .5-2 .5,3.4 .5-.6 .5,1.7 .5-.4 .5-.8 .5,1 .5-.5 .5,1.5 .5-.3 .5-1.3 .5-.4 .5-1.2 .5,2.6 .5-.2 .5-2.6 .5-.4 .5-.2 .5,.7 .5,2.2 .5,0 .5-.1 .5-.4 .5,1.4 .5-.8 .5-1.4 .5-.4 .5,.9 .5,0 .5,1.7 .5,.2 .5-5.6 .5,4.7 .5,.6 .5,.3 .5-.4 .5-3.8 .5,4 .5,.5 .5,.4 .5-2.2 .5,.2 .5-.9 .5,2.3 .5-1.6 .5-3.3 .5,.3 .5,2.9 .5-.2 .5-.3 .5-2.5 .5,3.8 .5-3.1 .5,3 .5,.3 .5-2.7 .5,3.1 .5-.7 .5,1.2 .5-.2 .5,.7 .5-.2 .5-1.5 .5,2.4 .5-1.1 .5-1 .5-0 .5-1.4 .5,.6 .5-1.5 .5,.7 .5-.9 .5,1.5 .5,1.4 .5-1.2 .5-2.4 .5,1.2 .5,2.1 .5,.7 .5,0 .5-2.2 .5-.6 .5,1.2 .5-.4 .5-2.4 .5,4.4 .5,.1 .5-.1 .5-2.2 .5,2.6 .5-1.2 .5,.7 .5,.5 .5,1.7 .5-2.8 .5,.9 .5-1.5 .5,.3 .5-.3 .5,1 .5-1.4 .5-6.4 .5,8.2 .5,.9 .5-1.4 .5-1.6 .5-.6 .5,3.3 .5-.2 .5-.5 .5-.6 .5-1.5 .5,.2 .5,2 .5-.7 .5-1.3 .5-1.8 .5,2 .5,.5 .5-1.2 .5,3.1 .5-1.6 .5,1.1 .5,.5 .5-2.6 .5,2.5 .5,.9 .5-1.1 .5,0 .5,1 .5,.4 .5-2.6 .5,.3 .5-1.5-0,10.2-.5-1.7-.5,2-.5-2.5-.5-.6-.5,0-.5,4.3-.5-4.1-.5,1.9-.5,.8-.5-1.8-.5-.2-.5,1.8-.5-2.8-.5-0-.5-1.7-.5,1.9-.5-1.8-.5-.7-.5,3.8-.5-3.4-.5-.1-.5,2.3-.5,.2-.5-.2-.5-1-.5,1-.5,.4-.5,5.3-.5-5.2-.5,.1-.5,2.4-.5-4.5-.5,.7-.5-.2-.5,.7-.5,1.3-.5-2.7-.5,.6-.5,1.2-.5-.2-.5,1.4-.5-.2-.5,.9-.5-2.4-.5,.3-.5-.8-.5,.4-.5,.1-.5-.5-.5-1.3-.5,1.3-.5-1.6-.5,.3-.5,2.4-.5,3-.5-4.2-.5-.8-.5-.7-.5,.4-.5,.8-.5-.3-.5-.9-.5-1.2-.5,1.3-.5,1.6-.5-2.2-.5,2-.5-.4-.5-0-.5,3.7-.5-2.4-.5,2.1-.5-1.8-.5-.3-.5-.8-.5-.8-.5,1.4-.5-.5-.5,.2-.5-0-.5-1.6-.5-.7-.5,1.9-.5-.6-.5,.2-.5-.9-.5,.2-.5,.9-.5-.2-.5-.4-.5,.4-.5,.3-.5,1.3-.5-.8-.5,.9-.5-1-.5,1.4-.5-.6-.5-1.4-.5,2.7-.5,3.9-.5-2.3-.5-5.1-.5,2.5-.5-2.6-.5-.5-.5,2.5-.5-2.5-.5,.9-.5-.6-.5,.1-.5,2.5-.5-3.1-.5-.3-.5,2.4-.5-1.5-.5,4.8-.5-4.3-.5,3.6-.5-4.3-.5,1.1-.5-.1-.5,3.3-.5-2.8-.5-.1-.5,.3-.5,.5-.5-1.6-.5,1.5-.5-.8-.5-1.8-.5,1.3-.5-1.8-.5-.1-.5,.7-.5,1.5-.5-3.6-.5-0-.5-.3-.5,.4-.5-.2-.5,1.2-.5-.4-.5,4.3-.5-2.1-.5-.1-.5-1.4-.5,1.1-.5-.1-.5,2.7-.5-1.7-.5-1.4-.5,3.8-.5-2.2-.5-1.2-.5,1-.5,.4-.5,.8-.5-1-.5-1.1-.5-.9-.5,1.3-.5-1-.5,.7-.5,.7-.5,.5-.5-1-.5,2.1-.5-1.2-.5,.8-.5,.3-.5-1.9-.5,1.6-.5-1.6-.5-.9-.5,1.3-.5-2.8-.5-.4-.5,1.2-.5,1-.5-1.6-.5,.6-.5-.1-.5-.2-.5,1.5-.5-1.3-.5,3.2-.5-2.8-.5-.7-.5-1-.5,1.8-.5-1.5-.5,.6-.5,2.5-.5-2.5-.5,1.2-.5-1.2-.5,.2-.5-1.4-.5,1.4-.5-1.7-.5-.4-.5,2.1-.5-1.8-.5,3.4-.5-3.1-.5-1.8-.5,3.4-.5-4-.5,1-.5,1.1-.5-0-.5-2.3-.5-.4-.5,.9-.5-1-.5-.4-.5,.8-.5-1-.5,.4-.5-1.6-.5,2.4-.5-1.3-.5,1-.5-1-.5-.8-.5,1.2-.5,.2-.5-2.1-.5-.3-.5,1.8-.5,.1-.5-3.1-.5,1.3-.5-1-.5-.4-.5-1.1-.5,.8-.5-.2-.5-.1-.5-.2-.5-2.3-.5-.2-.5,.6-.5-.6-.5-1-.5,1.2-.5-.8-.5-1-.5-.9-.5,1.1-.5-2.5-.5-.5-.5,1.3-.5-.5-.5-1-.5-.4-.5,.6-.5-1-.5-0-.5-1.3-.5,1.5-.5-3.6-.5,.2-.5-1.2-.5-1.1-.5-1-.5-1.3-.5,.2-.5-4.2-.5-.9-.5-2.7-.5-3.9-.5-2.2-.5-4.5-.5-3-.5-3.7-.5-2.9-.5-3.4-.5-3-.5-3.3-0-.1-.7,10.7-.7,10.2-.7,9.6-.6,8.9-.7,8-.7,6.9-.7,4.7Z" fill="#06f006" clip-path="url(#c4k)"/>
<path d="M573.8,198.5l.7-4.7 .7-6.9 .7-8 .6-8.9 .7-9.6 .7-10.2 .7-10.7-0-0 .5,2.2 .5,3.3 .5,2.7 .5,1.6 .5,4.3 .5,2.2 .5,2.6 .5,1.7 .5,3.1 .5,1.9 .5,2.4 .5,.9 .5,2.2 .5,.6 .5,1.1 .5-.4 .5-.1 .5,.5 .5,1.6 .5,.9 .5-.9 .5,1.4 .5,.9 .5,.2 .5,.5 .5-.6 .5,2.1 .5,.5 .5-.4 .5,.3 .5,.5 .5,.9 .5,.3 .5-.7 .5,1 .5,.8 .5-1.1 .5,.2 .5,1 .5,.2 .5,.1 .5-1.1 .5,1 .5,.5 .5,1.3 .5,.1 .5-.9 .5,.7 .5-1.1 .5,1.9 .5-.4 .5,.6 .5-1.2 .5,2.6 .5,0 .5,.3 .5-.1 .5-1.3 .5,2.6 .5-1.3 .5,1.2 .5-1.1 .5,.3 .5,1.1 .5-.4 .5,.9 .5-.1 .5,.6 .5-1.7 .5,.8 .5,1.3 .5-0 .5-.8 .5-1.9 .5,3.7 .5,.5 .5-.5 .5,.3 .5,0 .5,.4 .5-.6 .5-.4 .5,.8 .5-.6 .5,.5 .5,.8 .5-.7 .5,.8 .5-.6 .5,.8 .5-2.1 .5,2.9 .5-2.6 .5,2 .5,1.4 .5-1.1 .5,1.4 .5-3.8 .5,4 .5,1.1 .5-2 .5,1.5 .5,.6 .5-2.8 .5,2 .5-.7 .5-1.6 .5,1.4 .5,.3 .5-.1 .5,.5 .5-.3 .5-.7 .5,.1 .5-1.5 .5,2.2 .5,.6 .5-.2 .5-1.2 .5,1 .5-.4 .5,.9 .5-1.9 .5,1.7 .5-1 .5,.8 .5,.3 .5-1 .5,2 .5-1.6 .5,.3 .5,1.3 .5-2.4 .5,1.1 .5,1.2 .5-2.3 .5-.4 .5-0 .5-1.8 .5,3.2 .5-0 .5-.5 .5,1.3 .5-1.2 .5-1.3 .5,1.5 .5,1 .5-.1 .5,.4 .5,1.1 .5-.2 .5-1 .5-0 .5-.3 .5-2.9 .5,2.9 .5-.7 .5,.7 .5,1.2 .5-3.2 .5,4.3 .5-.2 .5-3.3 .5,3 .5-1 .5,.2 .5-.2 .5,.6 .5-.8 .5,1.5 .5-.1 .5-3.6 .5,3.2 .5-2 .5,2.1 .5-.7 .5-.5 .5,.8 .5,1 .5-2.2 .5-.8 .5,1.8 .5-.3 .5,2.2 .5-1.5 .5,.1 .5-.2 .5-1 .5,1.5 .5-.5 .5,.2 .5-2.2 .5,1.2 .5-1.6 .5,1.7 .5-.5 .5,1 .5,2.1 .5-.8 .5,.5 .5-.8 .5-.1 .5-1.9 .5,.9 .5,.5 .5-1.3 .5,2.2 .5-.6 .5-.6 .5-.9 .5,.9 .5,1.8 .5-.6 .5-1.2 .5,2.7 .5-2.2 .5,.2 .5,1.1 .5,.3 .5-1 .5,.7 .5-1.5 .5,1.6 .5-.5 .5,.2 .5-2 .5,1.5 .5,1 .5-1.2 .5,1.3 .5-.3 .5,1.9 .5-3.7 .5,3 .5,.4 .5-.9 .5-2.8 .5,2.1 .5,.8 .5-0 .5-1.5 .5,.9 .5,.3 .5,.3 .5-1.3 .5,.5 .5-.8 .5,.3 .5-2.1 .5-.4 .5,2.7 .5-1 .5-.9 .5,.1 .5,1.9 .5-.8 .5,.6 .5-1.5 .5,.1 .5-.1 .5,1.9 .5-1.8 .5-.9 .5,.4 .5,1.2 .5,.4 .5,1.4 .5-2.8 .5,2.4 .5,1 .5-1.8 .5,1.7 .5-2.4 .5,1.3 .5-0 .5-1.1 .5-.5 .5,.6 .5,2.5 .5-3.8 .5,2.5-0,6.2-.5,1.3-.5,.3-.5-2.6-.5-.9-.5,.9-.5,1-.5-1.5-.5,1.6-.5-1-.5,.2-.5,1.5-.5-1.5-.5,.5-.5-1.5-.5,2.4-.5-3.3-.5,5.4-.5-4.8-.5-.4-.5,2.3-.5-3.3-.5,2.7-.5-1.4-.5,3.3-.5-3.1-.5-.7-.5-.2-.5-.1-.5,.5-.5-.1-.5,1.1-.5-1.6-.5,1.2-.5,.8-.5-1.6-.5,1.2-.5-.6-.5,.4-.5,1.2-.5-.8-.5,.7-.5,.5-.5-1.6-.5,3.1-.5-1.8-.5,1.2-.5,.1-.5-1.9-.5,2.6-.5-1.8-.5,.6-.5,.9-.5-2.5-.5-.8-.5-.3-.5,0-.5-.4-.5,3.8-.5-3.6-.5,.7-.5,0-.5,3.4-.5-1.3-.5-3-.5,.8-.5,3.1-.5-4.2-.5,.6-.5,2.4-.5-3.8-.5,1.1-.5,.4-.5,.3-.5-1.9-.5,.1-.5,.9-.5,.1-.5-1.6-.5,.6-.5,.1-.5,1.9-.5-.9-.5,.4-.5-.7-.5,2.7-.5-1.2-.5-1.8-.5,.7-.5-.1-.5,1.9-.5-.9-.5-.3-.5-.9-.5,.2-.5,1.9-.5,0-.5-.6-.5-.2-.5-.6-.5-1.5-.5,.7-.5,1.3-.5-1.6-.5-.1-.5,.6-.5-.8-.5-.8-.5,1.3-.5-1.4-.5,.4-.5,.4-.5,1.3-.5-.4-.5-.3-.5,1.8-.5-2.4-.5,5.8-.5-3.4-.5-2-.5,1.2-.5-.7-.5-1.6-.5,.3-.5,.1-.5,.5-.5,.3-.5-2.2-.5,.2-.5,2.7-.5,.2-.5-2.5-.5,.7-.5-.1-.5-1.1-.5-.5-.5,.8-.5-.2-.5,.6-.5-1.6-.5,1.7-.5-1-.5-.6-.5,.2-.5,.9-.5,1.5-.5,.3-.5-.7-.5-1.2-.5-.5-.5,.6-.5,.9-.5-1.1-.5,0-.5,1.6-.5,.6-.5-1.5-.5-.5-.5-.8-.5,.6-.5,0-.5,1.7-.5-.8-.5-.9-.5,4.1-.5-4.6-.5,.3-.5-.7-.5,.9-.5-.4-.5-1.4-.5,2-.5-1-.5-.8-.5,2-.5-2.1-.5,3.6-.5-2.3-.5,.2-.5-.8-.5-.2-.5,1.4-.5,.7-.5-1.5-.5-.8-.5,.1-.5-.5-.5-.6-.5-.3-.5,1.6-.5-1.3-.5,.4-.5-.8-.5-.6-.5-1-.5,.2-.5,1.8-.5-1.9-.5,.8-.5,.2-.5,.9-.5-2.4-.5,1.1-.5-.6-.5-.1-.5-.5-.5,1.2-.5-1.6-.5-.8-.5,3.1-.5-2.9-.5-.9-.5-.2-.5-.3-.5,2.3-.5-1.8-.5,1.9-.5,1.7-.5-3.5-.5-1-.5,.7-.5-.7-.5,1-.5-1.8-.5,.7-.5-.4-.5-.2-.5-1.3-.5-.3-.5,1.7-.5-1.3-.5-.6-.5,1-.5-1.4-.5-.2-.5,1.2-.5-2.6-.5,1.9-.5-1.4-.5-1.4-.5,.8-.5-1.2-.5-.4-.5,.7-.5,.1-.5,0-.5-.2-.5-.2-.5-.7-.5-.4-.5-.5-.5-.7-.5-.4-.5-1-.5-.2-.5,.5-.5-1.1-.5-.4-.5-1.1-.5,0-.5,.4-.5-.2-.5-1-.5-1.2-.5-.6-.5,0-.5-1.1-.5-.8-.5-1-.5-2-.5-.8-.5-1.6-.5-2.6-.5-2.8-.5-2.4-.5-1.8-.5-2.6-.5-3.7-.5-2.6-.5-3.3-.5-2.3-.5-2.9-0-.3-.7,10.7-.7,10.2-.7,9.6-.6,8.9-.7,8-.7,6.9-.7,4.7Z" fill="#06f006" clip-path="url(#c4k)"/>
<path d="M573.8,198.5l.7-4.7 .7-6.9 .7-8 .6-8.9 .7-9.6 .7-10.2 .7-10.7-0-0 .5,1.7 .5,2.4 .5,1.7 .5,2.8 .5,1.2 .5,3.5 .5,1.8 .5,1.7 .5,2.2 .5,1.5 .5,2 .5,2 .5,1.2 .5,1.1 .5,.6 .5-.5 .5,.5 .5,1.2 .5,.1 .5,.6 .5,.1 .5-.4 .5,1.6 .5,.2 .5-.7 .5,1.9 .5,.2 .5,.1 .5,.4 .5-.1 .5-.3 .5,.3 .5,.7 .5-1.3 .5,.9 .5,.6 .5-.8 .5,1.9 .5,.1 .5,.3 .5,.8 .5,0 .5,.5 .5-.8 .5,1.1 .5-1 .5,1 .5,.4 .5-.3 .5-.3 .5,1 .5-.1 .5,.3 .5,.7 .5,.1 .5,.5 .5,0 .5,.2 .5-.8 .5-.1 .5,2.1 .5-1.6 .5,.9 .5,.8 .5-.3 .5,.1 .5,.7 .5,.2 .5-3.2 .5,1.5 .5,.9 .5,.8 .5-2.8 .5,3 .5,.3 .5-.7 .5,0 .5,1 .5,0 .5,1.2 .5-.6 .5,1.2 .5-.9 .5-.2 .5,.2 .5-1.3 .5,2.7 .5-.2 .5-.3 .5-.9 .5,1.1 .5,.3 .5-.3 .5-.8 .5,.9 .5,.1 .5,1.5 .5-.1 .5-.3 .5-.4 .5-.6 .5,.9 .5,.2 .5-.4 .5-.4 .5-.1 .5,.1 .5,.4 .5,.6 .5-1.1 .5,1.4 .5-1.8 .5-.1 .5,.9 .5,0 .5,.2 .5-1.6 .5,1.6 .5-1.7 .5,1.4 .5,1.3 .5,.5 .5-1.7 .5,1.4 .5-.2 .5-.7 .5-1.2 .5,.4 .5,1 .5-1.3 .5,1.6 .5-.3 .5-1.2 .5,1.9 .5,.8 .5,.1 .5,.6 .5-.9 .5,.2 .5,.5 .5,0 .5-.1 .5-.4 .5-.6 .5-1.7 .5,1.9 .5,.3 .5-1.4 .5,.8 .5,.7 .5,.4 .5-.2 .5-.5 .5,.3 .5-.5 .5,.7 .5-2.5 .5,2.3 .5-1.4 .5,.4 .5-.9 .5,1.7 .5-.9 .5,.9 .5-.9 .5-.4 .5-.3 .5,2.2 .5,.5 .5-2.2 .5,1.6 .5,.2 .5-1.4 .5,1.9 .5-1 .5-.1 .5,1.8 .5-2.1 .5,1.1 .5,1.2 .5,.7 .5-2.1 .5,.9 .5,0 .5,.6 .5-.3 .5,.8 .5-.3 .5,.6 .5-.3 .5-.6 .5,.4 .5-1 .5,1.4 .5-.5 .5,.4 .5-.6 .5,.3 .5,.4 .5-2 .5,0 .5,2.1 .5-2.9 .5,2 .5-2 .5,1.4 .5-.4 .5,1.6 .5-.1 .5,.9 .5-.4 .5-.9 .5-1.1 .5,1.1 .5,.9 .5-2.2 .5-1.5 .5,3 .5-2.7 .5,1.7 .5,1.9 .5-.3 .5-.2 .5-1.1 .5-3.4 .5,4.9 .5-.9 .5,.3 .5,.4 .5-.3 .5-.1 .5,.4 .5-1 .5,.4 .5,.3 .5,1.5 .5,.1 .5-.6 .5,.2 .5,.5 .5,.5 .5-2.8 .5,1.2 .5,1.3 .5,.3 .5-.4 .5,.4 .5-.6 .5,1.4 .5,0 .5,0 .5-.3 .5,1.1 .5-2.4 .5,2.1 .5-4.6 .5,2.1 .5,1.6 .5-.7 .5-.1 .5,.7 .5-.3 .5,1.4 .5-2.5 .5,1.3 .5-1.7 .5,3.9 .5-.7 .5-.7 .5,1.2 .5-.2 .5-.9 .5,.2 .5,.3 .5-1.4 .5-.1 .5,1.2 .5,.7 .5-3.2 .5,2.1 .5,.3-0,5.3-.5-.8-.5,2.3-.5-2.1-.5,.8-.5,.8-.5-2.9-.5,1.4-.5,.2-.5,.8-.5-1.3-.5,1.7-.5-.5-.5,.6-.5-1.6-.5-.5-.5,1.4-.5-2.1-.5,0-.5,1.9-.5-1.2-.5-.4-.5-1.1-.5-.1-.5,.2-.5,1.1-.5,.1-.5,1-.5-.9-.5,2-.5-2.9-.5,.8-.5,.2-.5-.8-.5-1.2-.5,.6-.5,.8-.5,.3-.5-.8-.5,1-.5-.2-.5-1.1-.5-.4-.5,1.3-.5-1.5-.5,2.2-.5-1.9-.5,1.1-.5-2.1-.5,.8-.5-1.5-.5,1.1-.5-.9-.5,1.9-.5-2.2-.5,1.9-.5-1.2-.5,1.2-.5,.3-.5-1.5-.5,0-.5-.8-.5-.6-.5,1.3-.5-1.3-.5,1.1-.5,1-.5-1.2-.5-.3-.5,.4-.5-.8-.5,2.1-.5-2-.5,1.5-.5,.5-.5-.4-.5-.1-.5-.7-.5-1.1-.5,1.9-.5-1.2-.5,2.3-.5-2.5-.5,1.6-.5-1.4-.5,.4-.5-.4-.5-.1-.5-.1-.5,1-.5-.2-.5-1.4-.5,.3-.5,.4-.5,.5-.5-.7-.5,.3-.5-.3-.5-.4-.5,.1-.5,.5-.5-.2-.5,1.6-.5,.2-.5-1.9-.5-1.3-.5,1.9-.5-1.4-.5-1.1-.5,.4-.5,.3-.5-.7-.5,.6-.5,.7-.5-.8-.5-.6-.5,.5-.5-.9-.5,1.2-.5-.8-.5,1-.5-1.3-.5-.1-.5,.8-.5-1-.5,2-.5-1.7-.5,2.1-.5-1.9-.5,1.1-.5-.7-.5,1.9-.5-3.1-.5,1.4-.5-1.1-.5-.3-.5,.7-.5-.5-.5,1.3-.5,.1-.5-.7-.5,.8-.5-.8-.5-.4-.5,1.7-.5-1.1-.5-.9-.5,.1-.5-.1-.5-.3-.5-.3-.5,.4-.5,1.6-.5-1.2-.5,.4-.5-1.8-.5,1.3-.5,0-.5-.2-.5-.4-.5,2.4-.5-2.8-.5,.3-.5,.2-.5,.4-.5-.2-.5,.2-.5-1-.5,.2-.5,1.6-.5-1.4-.5-.6-.5,.5-.5,1.2-.5-2-.5,.4-.5,.8-.5-1.2-.5,.5-.5,0-.5,.3-.5,.3-.5-1.2-.5,.8-.5,.2-.5-.9-.5-1-.5,1.5-.5,.7-.5-1.6-.5-1-.5,.7-.5-.4-.5-.1-.5,.7-.5-1.1-.5,.2-.5-.2-.5,2.4-.5-1-.5-2.2-.5,2.4-.5-2.2-.5,1-.5-1.6-.5,.3-.5,.1-.5-.8-.5-.3-.5,.4-.5,.9-.5-2-.5-.5-.5,.9-.5-.8-.5,.1-.5,.4-.5-.6-.5-.8-.5,.1-.5,.1-.5-.1-.5-.5-.5,.1-.5-.3-.5,.4-.5-1.2-.5-.1-.5,1.3-.5-1.5-.5-.3-.5,.8-.5-2.1-.5,1.8-.5-.9-.5-.4-.5-.5-.5,1.5-.5-2-.5-.2-.5-.6-.5,1.1-.5-1.6-.5-0-.5-.3-.5-.6-.5,.5-.5-1.5-.5,.2-.5-.4-.5,2.6-.5-2.5-.5,1.8-.5-2.4-.5-0-.5-.3-.5-.5-.5,.6-.5-1-.5-.5-.5-.2-.5-.9-.5-.4-.5-.4-.5,.3-.5-.8-.5,.1-.5-.8-.5-1.9-.5,.2-.5-2.7-.5-1.5-.5-1.7-.5-2.5-.5-2.1-.5-2.4-.5-2-.5-2.5-.5-1.9-.5-2.3-.5-2.5-.5-2-0-.2-.7,10.7-.7,10.2-.7,9.6-.6,8.9-.7,8-.7,6.9-.7,4.7Z" fill="#06f006" clip-path="url(#c4k)"/>
<path d="M573.8,198.5l.7-4.7 .7-7 .7-8.1 .6-8.9 .7-9.7 .7-10.3 .7-10.8-0-.6 .5,1.9 .5,2.2 .5,1.6 .5,2.3 .5,1.9 .5,2 .5,1.9 .5,1.6 .5,1.4 .5,1.3 .5,1.6 .5,1 .5,.4 .5,.6 .5,1 .5,.6 .5,.4 .5,.6 .5,.9 .5,.3 .5,.2 .5,.7 .5-.6 .5-.3 .5,1.4 .5-.2 .5,.4 .5,.3 .5,.3 .5-.1 .5,.9 .5-.5 .5,.7 .5-.1 .5,.2 .5,.5 .5-.2 .5-.4 .5,.8 .5-.1 .5,.6 .5-.7 .5,.8 .5-.1 .5,.1 .5,.4 .5,.4 .5,.3 .5,.1 .5,.5 .5-0 .5-.4 .5,.4 .5,.3 .5-.1 .5-.3 .5-.2 .5,.1 .5,.3 .5,.4 .5,.1 .5,.3 .5,.2 .5-.2 .5,.6 .5,.1 .5,.9 .5,.5 .5-1.2 .5,1.1 .5,.3 .5-.3 .5,.7 .5-.3 .5-.3 .5-.8 .5,1 .5,1 .5-.5 .5,.1 .5-.2 .5,.9 .5-.7 .5,1.1 .5,.1 .5-0 .5-1.1 .5,1.4 .5,.1 .5,.1 .5-2 .5,2.1 .5-.3 .5,.2 .5-0 .5-.1 .5-.2 .5-.4 .5-.1 .5-.1 .5,.8 .5,.1 .5,.1 .5,.7 .5,.3 .5-.3 .5-.3 .5-.2 .5,2.2 .5-.4 .5-.7 .5-.6 .5,1.8 .5-.5 .5,.7 .5-0 .5-.3 .5-.5 .5-.9 .5-0 .5,1.1 .5-.2 .5-.2 .5-1.8 .5,.7 .5,.8 .5-0 .5,.6 .5-.3 .5-.9 .5-.3 .5,1.7 .5,.6 .5-2.5 .5,2.1 .5,.1 .5,.7 .5-.5 .5-.7 .5,1 .5-.3 .5,.2 .5,.2 .5,.4 .5,.2 .5-.4 .5-.3 .5,.7 .5-1.3 .5,.9 .5-2.6 .5,2.9 .5,.4 .5-1 .5,1 .5-.6 .5,1.5 .5-.3 .5,.2 .5-1.8 .5,.2 .5,1.6 .5-.4 .5-1.7 .5,1.1 .5-.4 .5,.1 .5,2.2 .5-.9 .5-.7 .5,.1 .5,1 .5-.4 .5,1 .5,.5 .5-.8 .5,.5 .5,.2 .5,.3 .5-2 .5,1.8 .5-.7 .5,.6 .5-.2 .5,.9 .5,.3 .5-.2 .5-.4 .5-2.1 .5,2.1 .5-1.4 .5,1.1 .5-.3 .5,.1 .5-1.1 .5,1.4 .5,.4 .5-.7 .5,.5 .5-1.2 .5-.2 .5,1.6 .5,.1 .5-.5 .5-.8 .5-1.2 .5,1.3 .5,.4 .5-1 .5,1.5 .5,.6 .5-1 .5,.4 .5,.2 .5,1.4 .5-1.2 .5,0 .5,1.1 .5-.7 .5,.9 .5-.3 .5,1.7 .5-2.5 .5,1.8 .5-1.1 .5,1.3 .5-.9 .5-1.6 .5,.9 .5-1.4 .5,1.1 .5,1.3 .5,.2 .5,.8 .5-1.1 .5-1.3 .5,2.4 .5-.1 .5-.9 .5,.6 .5,.3 .5-1.1 .5,1.6 .5-.7 .5-.1 .5,1.1 .5-.5 .5-1.4 .5,1.4 .5,1 .5-1.2 .5,.2 .5,.2 .5,.8 .5-.6 .5,.4 .5-.5 .5,.1 .5,1.7 .5-2 .5,.5 .5,1.8 .5-1.1 .5-.7 .5,1.6 .5-1.1 .5,.6 .5-.5 .5-2.6 .5,1.6 .5-.7 .5,.4 .5,1.9 .5-1.9 .5,1.1 .5,1 .5-0 .5-0 .5-.1 .5-.7 .5,.4-0,4.4-.5,.6-.5-.3-.5,.7-.5-1.1-.5-0-.5,.7-.5,1-.5-1.2-.5-.3-.5-.7-.5-.2-.5-.1-.5,1.3-.5-.8-.5,.8-.5-.4-.5,.7-.5,.6-.5,.7-.5-.2-.5,1-.5-3.4-.5,.5-.5-.8-.5,.3-.5-.3-.5-.8-.5,1.3-.5,.5-.5-1.5-.5,.1-.5-.5-.5,1-.5-.4-.5,.9-.5-1.7-.5,.8-.5,.7-.5-2.2-.5,.9-.5-.2-.5-.2-.5-.8-.5,1.4-.5-1.4-.5,1.4-.5-.8-.5-.7-.5,.5-.5,1.4-.5-1.2-.5-1.6-.5,.2-.5-0-.5,.5-.5,.4-.5-.2-.5-.1-.5,.6-.5,3.1-.5-4-.5,.8-.5,.3-.5-1-.5,2.4-.5-3.2-.5,2.3-.5-1.2-.5-1.6-.5,.4-.5-.6-.5-.3-.5,2.1-.5-1.9-.5-1.2-.5,.3-.5,.5-.5,2.2-.5-1.5-.5-1-.5,.4-.5,1.4-.5-1.6-.5,3.5-.5-3.3-.5-.9-.5,1.8-.5-1.4-.5,1.7-.5-1.6-.5,2.4-.5-1.8-.5-.6-.5,.2-.5,1-.5-.9-.5-.2-.5-.5-.5,.5-.5,.5-.5-.4-.5-.3-.5-.1-.5-.5-.5,1-.5,.3-.5-.8-.5-.2-.5,.5-.5-.4-.5,.3-.5-.4-.5,.4-.5-.5-.5-.8-.5-.3-.5,1.7-.5-.4-.5-1.7-.5,.6-.5-.3-.5,.1-.5,.1-.5-.2-.5-.5-.5-.3-.5,.2-.5,.4-.5,1.2-.5-2.3-.5-0-.5,1.5-.5-.7-.5-.8-.5-0-.5-.2-.5,1.6-.5-.2-.5-1.6-.5,1.3-.5-1.3-.5,.7-.5,.3-.5-.4-.5,.4-.5-.7-.5-0-.5,.1-.5,.8-.5-2.3-.5,.8-.5-.3-.5-.1-.5-.8-.5-0-.5-0-.5,2-.5-1.4-.5,.2-.5,.4-.5,.7-.5-.8-.5-0-.5,.1-.5,.3-.5,.3-.5-.1-.5-0-.5-1.2-.5,1.7-.5-.5-.5-.2-.5,.1-.5-1.4-.5,.8-.5-1.8-.5-.4-.5,.1-.5-0-.5-.9-.5,.1-.5,.2-.5-.2-.5,.2-.5,.9-.5-.5-.5-.5-.5,.1-.5,.2-.5,1-.5-.6-.5-.3-.5-.3-.5,.1-.5,.4-.5-.8-.5,.7-.5-1-.5-.4-.5,.3-.5,.5-.5-1.2-.5,.8-.5-.2-.5-1-.5,1.3-.5,.3-.5-1.6-.5,.1-.5,.7-.5-1.4-.5,.2-.5-.4-.5,.6-.5-1.5-.5,.9-.5-.7-.5-.4-.5-.4-.5-.7-.5-.3-.5,.1-.5-.3-.5,.3-.5,0-.5-.2-.5,1-.5-1.2-.5-0-.5,.4-.5-.7-.5,1.1-.5-1.2-.5-.4-.5,.2-.5,.1-.5-.9-.5,.5-.5-1.2-.5-0-.5,.5-.5-.8-.5-.4-.5-.3-.5,.1-.5,.1-.5-.5-.5,.1-.5-.4-.5-.1-.5-.3-.5-.4-.5-.2-.5,.6-.5-.5-.5,.5-.5-.6-.5-.5-.5-.6-.5,1.2-.5-1.2-.5-.4-.5-1.2-.5-.7-.5,.1-.5,0-.5-1.8-.5-.4-.5-1.3-.5-1.3-.5-.4-.5-1.4-.5-2.2-.5-1.4-.5-1.3-.5-2.3-.5-2.1-.5-2.3-.5-1.8-.5-2.2-.5-1.6-0-.1-.7,10.8-.7,10.3-.7,9.7-.6,8.9-.7,8.1-.7,7-.7,4.7Z" fill="#06f006" clip-path="url(#c4k)"/>
<path d="M573.8,198.5l.7-4.8 .7-7 .7-8.1 .6-9.1 .7-9.7 .7-10.4 .7-10.9-0-.2 .5,.5 .5,2.2 .5,1.8 .5,.9 .5,2 .5,1.5 .5,1.2 .5,.8 .5,2 .5,1.5 .5,.6 .5,.7 .5,1 .5,.9 .5,.6 .5,.8 .5,.3 .5,.4 .5,.2 .5,.5 .5,.4 .5-.2 .5,.6 .5,.4 .5-.3 .5,.7 .5,.3 .5-.2 .5,.7 .5,.5 .5-.2 .5,.4 .5,.5 .5-.2 .5-.2 .5-.1 .5,.9 .5-.4 .5,.7 .5,.3 .5,.1 .5,.6 .5,.2 .5,.4 .5-.7 .5,1 .5-.8 .5,1.3 .5,.3 .5,.2 .5,.5 .5,.1 .5-1 .5,.5 .5-0 .5,.4 .5,1.3 .5-.3 .5-.7 .5,1.2 .5-1 .5,1.1 .5-.7 .5,1.3 .5,.2 .5-0 .5-.2 .5-.3 .5,.8 .5,.7 .5-.3 .5,.6 .5-.7 .5,.5 .5-.1 .5-1.4 .5,1.9 .5,.4 .5,.1 .5,.7 .5,.1 .5-.1 .5,.5 .5-.5 .5,.7 .5-.3 .5,.4 .5-.7 .5,.4 .5,.3 .5,.2 .5-.2 .5-.1 .5,.8 .5,.3 .5-1.2 .5,1.4 .5-.4 .5,.2 .5,.1 .5-1 .5,.4 .5,.9 .5,.4 .5,.3 .5,.1 .5-.3 .5-.7 .5-.1 .5,.4 .5-.3 .5,.7 .5-.7 .5,.6 .5-.5 .5-.4 .5,.7 .5,.2 .5,.4 .5-.4 .5,.8 .5-.1 .5,.2 .5-.2 .5,.1 .5,.6 .5-.9 .5,.3 .5,.5 .5,.6 .5-.7 .5,.5 .5,.2 .5-.6 .5-.1 .5,.3 .5,.3 .5,.6 .5-.1 .5,.5 .5-.2 .5,.5 .5-.4 .5-.5 .5,.8 .5,.8 .5-1.2 .5-.2 .5-1.1 .5,1.5 .5-0 .5-.1 .5,.7 .5-.7 .5,.3 .5-.9 .5,.3 .5,1.3 .5-.9 .5,.5 .5,.1 .5-.5 .5,.7 .5-.2 .5-1.2 .5,.8 .5-.6 .5,.6 .5-0 .5,.5 .5,.9 .5,.1 .5-0 .5-.4 .5,.4 .5-.3 .5-1.4 .5,1.4 .5-.7 .5-.6 .5,1.5 .5-.1 .5,.7 .5-.4 .5,.5 .5,.1 .5-.1 .5,.7 .5-.6 .5-.6 .5,.5 .5-.3 .5,.3 .5-.4 .5,.3 .5,.3 .5,.2 .5,.2 .5,.5 .5,.3 .5,.3 .5-.5 .5,.9 .5-.2 .5-.6 .5-.6 .5,1.5 .5-1.2 .5,.8 .5,.1 .5-.4 .5-.3 .5,.5 .5-.2 .5-1.4 .5,1 .5,.7 .5-.5 .5-.3 .5-.4 .5,1.7 .5-.1 .5-1.1 .5,1.1 .5,.7 .5-1.4 .5,.8 .5,.1 .5-.3 .5,.5 .5-.7 .5-.7 .5,.7 .5-.9 .5,1.1 .5-1.4 .5,2.3 .5-0 .5-1.8 .5,1.5 .5-1.1 .5,1.5 .5,.3 .5,.6 .5-1 .5,.3 .5,.4 .5-1.5 .5,1.7 .5,.7 .5-2.2 .5,.8 .5-0 .5-.8 .5,2.4 .5-.6 .5,.8 .5-.7 .5,.4 .5-.6 .5,.4 .5-.7 .5-.5 .5,.7 .5,.6 .5-.8 .5-.2 .5,.4 .5,.1 .5,.2 .5,.1 .5,.5 .5-1.3 .5-.2 .5-.8 .5,2 .5-2.4 .5,1.4 .5-.9 .5,1.7 .5-1.3-0,6-.5,.8-.5-1.2-.5-0-.5,1.3-.5,1.4-.5-1.1-.5-2-.5,1-.5,1.1-.5-1.1-.5,.3-.5-1-.5,.7-.5,1.8-.5-2.4-.5-.2-.5,.4-.5-.7-.5,.7-.5,.8-.5-1.3-.5,.9-.5-1.1-.5,.8-.5,1-.5-1.4-.5-.4-.5,1.3-.5-.2-.5-1.1-.5,.8-.5,.6-.5-1.9-.5,.1-.5-0-.5,.8-.5-.7-.5-.8-.5,.2-.5-.9-.5,1.6-.5-1.1-.5,1.8-.5-2.4-.5,1.3-.5-2-.5,1.1-.5-.5-.5,.1-.5,.5-.5-.2-.5-.4-.5,.4-.5,.7-.5-1.4-.5,1.5-.5-1.4-.5,1.7-.5,.4-.5-2.3-.5,.3-.5,.9-.5-1.3-.5-.6-.5,.2-.5,1-.5-1.1-.5,1.9-.5-.8-.5-.6-.5,.5-.5,1-.5-1.5-.5-.1-.5-.1-.5-.1-.5,1.8-.5-2.1-.5,.3-.5-.3-.5-0-.5-.3-.5,.8-.5-1.6-.5-0-.5-.2-.5,.5-.5,1.8-.5-1.3-.5,.5-.5-1.4-.5,.2-.5-.2-.5-0-.5,.7-.5-1.1-.5,1-.5-1.1-.5-.2-.5,.3-.5-.9-.5,.7-.5-.6-.5,1.7-.5-.2-.5-1.4-.5,1.8-.5-1.7-.5,.5-.5-0-.5,.1-.5-.6-.5-.8-.5,.1-.5,.4-.5,.1-.5,.2-.5,.4-.5-1.7-.5,1.2-.5-.3-.5,.7-.5-.3-.5-1.4-.5,.4-.5-.3-.5,.9-.5-.7-.5,.9-.5-.4-.5,1.6-.5-2.3-.5,.4-.5,.4-.5-0-.5-0-.5-.8-.5,.5-.5-.5-.5-.2-.5-.4-.5,.1-.5-.3-.5,.1-.5-.2-.5-0-.5-.3-.5,.2-.5,1.1-.5-.7-.5-1.1-.5,.7-.5-1-.5,.3-.5,.7-.5-.6-.5,.6-.5,.3-.5-1.7-.5,.6-.5-.7-.5-.1-.5-0-.5,1-.5-1-.5,.1-.5-0-.5,.4-.5,.8-.5-.5-.5-.7-.5-.6-.5-.3-.5,.6-.5-.1-.5,.4-.5,.1-.5-.8-.5-.5-.5,.2-.5,1.7-.5-1-.5-0-.5-1.3-.5,.5-.5-0-.5-.7-.5,1.1-.5-.8-.5-.3-.5-.4-.5,.4-.5-.4-.5-.1-.5,.7-.5-.6-.5-.5-.5-.5-.5,.3-.5-.7-.5,.5-.5-.6-.5-.3-.5,.8-.5-1.3-.5,.1-.5,.6-.5,.4-.5-1.2-.5-.6-.5,.2-.5-.5-.5-.4-.5,1.2-.5-1.1-.5,.3-.5-0-.5-.6-.5-.6-.5-.1-.5-.2-.5,.6-.5-.2-.5-.6-.5-0-.5-.7-.5-.3-.5,.2-.5-.1-.5-0-.5,.3-.5-1.2-.5-.7-.5,.2-.5-.1-.5-.5-.5,.1-.5-.6-.5-.3-.5,.3-.5,.1-.5-.6-.5-.5-.5-.2-.5,.1-.5-.5-.5-.1-.5,.5-.5-.9-.5-.4-.5-.2-.5,.3-.5-.9-.5,.4-.5-.9-.5-.5-.5,.2-.5,.2-.5-1-.5,.1-.5-.5-.5-.5-.5-.2-.5-.4-.5-.2-.5-.8-.5-.7-.5-.1-.5-1.3-.5-.8-.5-1.3-.5-1-.5-1.4-.5-1.4-.5-1.6-.5-1.4-.5-1.4-.5-1.7-.5-1.5-.5-2.1-.5-1.2-0,.1-.7,10.9-.7,10.4-.7,9.7-.6,9.1-.7,8.1-.7,7-.7,4.8Z" fill="#06f006" clip-path="url(#c4k)"/>
<path d="M573.8,199l.7-4.8 .7-7.1 .7-8.2 .6-9.1 .7-9.9 .7-10.4 .7-11-0-.3 .5,1.3 .5,1.7 .5,1.1 .5,1.1 .5,.7 .5,.9 .5,.8 .5,.5 .5,.7 .5,.6 .5,.8 .5,.6 .5,.8 .5,.7 .5,.7 .5,.7 .5,.7 .5,.6 .5,.5 .5,.6 .5,.4 .5,.5 .5,.4 .5,.4 .5,.3 .5,.4 .5,.1 .5,.8 .5,.3 .5,.5 .5,0 .5,.3 .5,.2 .5,.3 .5,.1 .5,.3 .5,.2 .5,.6 .5,.2 .5,.4 .5,.4 .5,.1 .5,.3 .5,.3 .5,.3 .5,.4 .5,.2 .5,.3 .5,.1 .5,.2 .5,.3 .5,0 .5,0 .5,.5 .5,.4 .5,.1 .5,0 .5,.5 .5,.2 .5,.2 .5,.2 .5,.3 .5,.1 .5,0 .5,.1 .5,.5 .5,.3 .5,0 .5,.2 .5,.1 .5,.1 .5,.4 .5-.3 .5,.6 .5,0 .5,0 .5,.3 .5,.2 .5,.1 .5,.2 .5-.6 .5,.8 .5,.2 .5-.3 .5,.3 .5,.2 .5,0 .5-.1 .5,.5 .5,.3 .5-.2 .5,.3 .5-.1 .5,0 .5,.2 .5,.5 .5,.1 .5-.6 .5,.7 .5,.1 .5,.3 .5,.1 .5,0 .5,0 .5,.2 .5-.5 .5,.4 .5,.4 .5,0 .5,0 .5,.4 .5,0 .5-.4 .5,.9 .5-.3 .5,.7 .5-.4 .5,.5 .5,.3 .5-.1 .5,0 .5-.2 .5,.2 .5,.2 .5,.1 .5-.3 .5,.4 .5,0 .5,0 .5,.2 .5-.1 .5,.3 .5,.2 .5,0 .5,.1 .5,.2 .5-.2 .5-.3 .5,.5 .5,.3 .5,0 .5-.3 .5,.7 .5-.1 .5,.2 .5,0 .5-.5 .5,.5 .5,.1 .5,.2 .5-.3 .5,0 .5,.2 .5,.3 .5-.4 .5,.5 .5,.2 .5-.4 .5,0 .5,.6 .5-.5 .5-.1 .5,.6 .5-.2 .5,.1 .5-.2 .5,.5 .5,0 .5-.1 .5,0 .5-.2 .5,.2 .5,.6 .5-.2 .5,.2 .5-.1 .5,.3 .5-.3 .5,.4 .5,.2 .5,.1 .5-.1 .5-.2 .5,.4 .5-.6 .5,.8 .5,.2 .5-.3 .5,0 .5,.3 .5,.1 .5-.2 .5,.3 .5,.2 .5-.2 .5,.1 .5,0 .5,.1 .5,.2 .5-.3 .5,.3 .5-.1 .5,0 .5,.3 .5,.1 .5,.1 .5-1 .5,.8 .5,.5 .5-.6 .5,.6 .5-.4 .5,.6 .5-.4 .5,.1 .5,.2 .5,.5 .5-.3 .5,.3 .5,0 .5-.3 .5,.1 .5,.4 .5-.6 .5,.3 .5,.2 .5-.1 .5-.3 .5,.3 .5,.4 .5,.2 .5-.4 .5,.3 .5-.2 .5,.3 .5,.3 .5,.2 .5-.1 .5-.4 .5,.3 .5,0 .5,.3 .5-.3 .5-.1 .5-.4 .5,.5 .5,.1 .5,0 .5,0 .5-.5 .5,.4 .5-.2 .5,.6 .5,.2 .5,.1 .5-.6 .5,.6 .5,.2 .5-.2 .5,.3 .5-.6 .5,.1 .5,.3 .5-.3 .5,.5 .5,.3 .5,.1 .5-.6 .5,.3 .5,0 .5,.3 .5-.2 .5-.1 .5,0 .5,.3 .5,0 .5-.3 .5,.3 .5-.2 .5-.1 .5-.6-0,3.4-.5-.1-.5,.5-.5,.4-.5-1.1-.5,0-.5,0-.5,.2-.5,.4-.5-.3-.5-.1-.5,.2-.5-.5-.5-.1-.5,.4-.5,.1-.5-.2-.5-.2-.5-.3-.5-.1-.5,.7-.5-.5-.5-.2-.5,.4-.5-.3-.5,.5-.5-.3-.5-.1-.5-.7-.5,.3-.5-.3-.5-.2-.5,0-.5,0-.5,.4-.5-.3-.5,0-.5,.5-.5-.4-.5,.1-.5,.1-.5-.5-.5,.6-.5-.7-.5,.6-.5-.3-.5-.3-.5,0-.5,.9-.5-.8-.5,0-.5-.3-.5,0-.5,0-.5-.4-.5,0-.5,.4-.5-.3-.5-.2-.5,.2-.5-.2-.5,.1-.5,.1-.5-.3-.5,.4-.5-.6-.5,.3-.5-.2-.5,.1-.5-.5-.5,0-.5,.1-.5-.3-.5,0-.5,0-.5,.3-.5-.3-.5-.1-.5,.3-.5-.4-.5-.4-.5,.4-.5-.2-.5-.1-.5-.2-.5,.2-.5-.5-.5,0-.5,.4-.5-.1-.5-.2-.5-.1-.5-.1-.5,0-.5,.2-.5,.2-.5-.4-.5,.1-.5-.7-.5,0-.5,.2-.5,.1-.5-.5-.5,.4-.5-.1-.5-.3-.5-.5-.5,.4-.5-.5-.5,.1-.5-.1-.5,.8-.5-.4-.5-.5-.5-.3-.5,.2-.5,.2-.5-.3-.5,.1-.5-.4-.5,.3-.5-.4-.5,.2-.5-.1-.5,.1-.5-.6-.5-.1-.5,.5-.5-.5-.5-.2-.5,.3-.5,0-.5-.3-.5,.1-.5,.1-.5-.2-.5-.2-.5,0-.5-.2-.5,.3-.5-.5-.5,.1-.5-.2-.5-.2-.5,.1-.5-.1-.5,.3-.5-.6-.5-.1-.5-.2-.5,.4-.5-.4-.5-.2-.5,.3-.5-.1-.5-.3-.5-.2-.5-0-.5,.3-.5,.3-.5-.6-.5,.1-.5-.3-.5,.1-.5-.5-.5,.1-.5-.1-.5,.3-.5-.8-.5,.5-.5-.7-.5-0-.5-.5-.5-.1-.5-.1-.5-.1-.5-0-.5-.1-.5-0-.5-.1-.5,.1-.5-.2-.5-.5-.5-0-.5,.1-.5-.3-.5-.2-.5,.1-.5,.2-.5-.5-.5-.4-.5-.1-.5-.2-.5,.4-.5-.6-.5-.1-.5,.3-.5-.5-.5-.1-.5-.2-.5,.5-.5-.7-.5-0-.5-.1-.5-0-.5-0-.5-.3-.5-.1-.5-.3-.5-.1-.5-.3-.5-.1-.5-.1-.5,.4-.5-.5-.5-.6-.5-0-.5-.3-.5-.1-.5-.2-.5,.2-.5-.2-.5-.5-.5-.2-.5-.5-.5-0-.5-.3-.5-.3-.5-.3-.5-.3-.5-.1-.5-.3-.5-.1-.5,.2-.5-.6-.5-.1-.5-.5-.5-.3-.5-0-.5-.6-.5-.2-.5-.4-.5-.3-.5-.3-.5-.1-.5-.5-.5,.1-.5-.6-.5-.3-.5-.2-.5-.2-.5-.3-.5-.5-.5-.1-.5-.3-.5-.6-.5-.5-.5-.3-.5-.4-.5-.5-.5-.3-.5-.6-.5-.3-.5-.6-.5-.8-.5-.4-.5-.7-.5-.9-.5-.8-.5-.4-.5-.9-.5-.9-.5-.6-.5-.5-.5-.7-.5-.7-.5-.8-.5-.9-.5-.7-.5-1.4-.5-1.5-.5-1.3-0-.1-.7,11-.7,10.4-.7,9.9-.6,9.1-.7,8.2-.7,7.1-.7,4.8Z" fill="#e8100c" clip-path="url(#c4k)"/>
<clipPath id="c4kb"><rect x="573.8" y="125" width="16" height="123.3"/></clipPath>
<path d="M573.8,213.9l.7-6 .7-8.7 .7-10.2 .6-11.3 .7-12.2 .7-13 .7-13.6-0-0 .5,3.5 .5,4.7 .5,4.7 .5,4.4 .5,4.6 .5,4.1 .5,4.9 .5,4.4 .5,3.8 .5,3.8 .5,4.8 .5,3.9 .5,3.9 .5,2.6 .5,3.1 .5,3.5 .5,1.7 .5,2.1 .5,4 .5,.2 .5-.9 .5,2 .5,.1 .5,2.7 .5,.5 .5,1.9 .5-.5 .5-3 .5,1.9 .5,1.3 .5,.3 .5,.5 .5,.3 .5-.4 .5,1.3 .5,.6 .5,.1 .5,.3 .5,1 .5,.5 .5-2.9 .5,2.2 .5,.8 .5-.2 .5-1.3 .5-.5 .5,.7 .5-1.6 .5,.6 .5,3.1 .5,.9 .5,.4 .5-1.2 .5,1.1 .5-2.2 .5-0 .5-.6 .5,3.2 .5,.4 .5-1.3 .5,.5 .5,.1 .5,1.4 .5-2.5 .5,3.1 .5-2.7 .5-.3 .5-2 .5-.4 .5,4.7 .5-.3 .5-.9 .5,1 .5-.8 .5-3.5 .5,3.8 .5,.4 .5-1.1 .5,1.5 .5-.1 .5-.6 .5,.5 .5-1.2 .5,1.2 .5,1.5 .5-1 .5-.9 .5,1.7 .5-2.2 .5,1.8 .5-.1 .5-1.5 .5-0 .5-1 .5,2.1 .5-3.3 .5,2.3 .5-5.2 .5,6.4 .5,1 .5-.7 .5-.2 .5,.3 .5-.5 .5-2.8 .5,1.5 .5,.2 .5-.4 .5,.3 .5,2.4 .5-4.6 .5,1 .5,2.2 .5,2.7 .5-2.9 .5-.6 .5,.9 .5,1 .5-2.2 .5,1.5 .5-.4 .5,.3 .5,2.1 .5-.4 .5-3.3 .5,3.4 .5-0 .5-.4 .5,.3 .5-.1 .5-2.7 .5-1.3 .5,2.1 .5,.8 .5-.2 .5-5.7 .5,2.5 .5,3.2 .5-3.8 .5,3.6 .5-2.5 .5,3 .5-1 .5-1 .5,1.2 .5,2.8 .5-2 .5,2.6 .5,1.6 .5-10.3 .5,10.3 .5-.5 .5,.7 .5-2.3 .5,.3 .5,1 .5,1.3 .5-1.9 .5-.2 .5-2.1 .5-.2 .5,1.7 .5-3.2 .5,1.7 .5,.3 .5-1.8 .5,2.5 .5-1.5 .5-1.1 .5,1.9 .5-1.7 .5,2.1 .5-.7 .5,1.3 .5-4.2 .5,3.2 .5-.5 .5-.5 .5-.2 .5-3.1 .5,3 .5-1.8 .5-1.8 .5,6.5 .5-.6 .5,1.5 .5-3.2 .5,.8 .5-1.7 .5-2.3 .5,6.9 .5,.9 .5-2.1 .5-1 .5,1.2 .5-4 .5,3 .5,.7 .5-2.5 .5-1.1 .5,.7 .5-3.3 .5,1.9 .5,2.9 .5,.4 .5-2.6 .5,1.8 .5-2.4 .5,2.8 .5-1.7 .5,2.1 .5-4.4 .5,1.2 .5,.7 .5-2 .5,1.5 .5-2 .5,.9 .5-3.5 .5,1.6 .5,.6 .5-2.9 .5,.8 .5,.2 .5-.8 .5,.6 .5,1.5 .5-1.9 .5,2.2 .5,1.4 .5-.1 .5,1.6 .5,.5 .5-3.5 .5,3.9 .5,.7 .5-.1 .5-5.9 .5,7 .5,.7 .5-1.4 .5-3.7 .5,4.9 .5-.2 .5-1.4 .5,3 .5-3.1 .5-.5 .5,2 .5-1.1 .5-1.4 .5-.7 .5,5.7 .5-.2 .5-2.7 .5,5 .5-2.5 .5,2.7 .5-2.7 .5,.4 .5,2.4 .5-2.5 .5,2.7 .5,1.1 .5-2.3 .5,2.7 .5,.8 .5-3.1 .5-.8 .5,2.5 .5-1.5 .5,.5 .5-2.1 .5,4.5 .5,.6 .5,.1 .5-1.1 .5-.9 .5,1.4 .5,.9 .5-6.3-0,13-.5,.5-.5-3.9-.5,.6-.5,4.8-.5-4.7-.5,2.9-.5-4.1-.5,4.5-.5-0-.5-3.7-.5,1.4-.5,.6-.5,1.2-.5,1.9-.5-3.3-.5-4.2-.5,1.1-.5-2-.5,.3-.5,2.7-.5-1.6-.5-1.1-.5-.2-.5,.1-.5-.3-.5,2-.5-4.2-.5,4.5-.5-5.4-.5,1.5-.5-2.5-.5,1-.5,.4-.5,1.7-.5-0-.5-.2-.5-.9-.5,.1-.5,.3-.5-1.4-.5,1.9-.5-4.1-.5,1.5-.5,.2-.5-2.5-.5,.8-.5-.8-.5,1.4-.5-1.7-.5,.8-.5-2.2-.5-1.5-.5-.7-.5-.5-.5,1.4-.5,.7-.5-.6-.5-0-.5,1.7-.5-3.9-.5,1.9-.5,1.9-.5-1.9-.5,4.9-.5-1.4-.5-.3-.5,1.1-.5-.6-.5,.5-.5,1.4-.5-.1-.5-1.7-.5,.7-.5-1.5-.5,4.3-.5,.1-.5-2.2-.5-1.8-.5,2.4-.5-1.3-.5-.9-.5,1.7-.5,3.1-.5,2.3-.5-5.7-.5,.9-.5,.5-.5-1.3-.5,1-.5,1.1-.5-.7-.5-0-.5-.1-.5,.6-.5,2.3-.5-1.2-.5-3.1-.5-1.4-.5,1.5-.5-.1-.5,.6-.5-1.6-.5,2.2-.5-3.5-.5,3.7-.5-.5-.5,1.3-.5-2.4-.5,2.6-.5,2.1-.5-1.8-.5-3.5-.5,2.7-.5,.5-.5-3.2-.5,3-.5-2.5-.5,.4-.5,1.5-.5-.9-.5,2.3-.5,1.7-.5-1.7-.5,2.1-.5-2.6-.5,1.7-.5,3.3-.5-1.4-.5-3.9-.5-.2-.5,1.5-.5,1.1-.5-4.5-.5,1.5-.5-2.4-.5,1.5-.5-.5-.5-1.9-.5-.8-.5,5.6-.5-4.6-.5,1.4-.5-1.4-.5,1.3-.5-.6-.5-1.3-.5,1.4-.5-2.1-.5,1.2-.5-.3-.5,3.4-.5-2.7-.5-.2-.5,.5-.5,5-.5-5.3-.5-.1-.5,.1-.5,6.2-.5-6.7-.5,1.8-.5,.3-.5,1.4-.5-1.3-.5-.4-.5-.9-.5,2.2-.5-2.9-.5,5.4-.5-3.1-.5-1.4-.5,3-.5-3.7-.5,.7-.5,.8-.5,1.7-.5-4.5-.5,5.3-.5-.2-.5-4.6-.5,1-.5-.1-.5,.5-.5-.7-.5-.2-.5-.1-.5-.9-.5,.8-.5-.7-.5,.3-.5,1.7-.5,2.9-.5-2.8-.5-1.2-.5-1.1-.5,1.4-.5-.8-.5-.7-.5,.1-.5-.9-.5,1.6-.5,3.2-.5-4-.5-1.6-.5,5.2-.5-2.8-.5-2.1-.5,.6-.5-.4-.5,2.4-.5-1.5-.5,1.5-.5-1.1-.5-.2-.5-.8-.5-0-.5,2.4-.5,.6-.5-1.9-.5,2.4-.5-3.7-.5,.4-.5,3.3-.5-3.8-.5,5.1-.5-5.5-.5,2.2-.5-3.2-.5,3.3-.5-3.1-.5-1.6-.5-0-.5,3.2-.5-3.3-.5-1-.5,.8-.5-.6-.5,1.6-.5-1.3-.5,.3-.5-.2-.5-0-.5,1.2-.5,1.2-.5-3.6-.5,.6-.5,.8-.5-.7-.5-1.3-.5-.7-.5-.9-.5,2.1-.5-2.8-.5,.4-.5-.6-.5-1.9-.5,1.8-.5-3.2-.5-1.2-.5,.1-.5-1.1-.5-1.2-.5-.2-.5-4.6-.5-1.8-.5-2.5-.5-3.9-.5-4.2-.5-3.9-.5-3.6-.5-4-.5-4.6-.5-4.6-.5-3.8-.5-4.1-.5-5.2-.5-4.4-.5-4.7-.5-4.5-.5-4.8-.5-3.9-0-0-.7,13.6-.7,13-.7,12.2-.6,11.3-.7,10.2-.7,8.7-.7,6Z" fill="#0c52e4" clip-path="url(#c4kb)"/>
<path d="M573.8,328.5l.7-4.9 .7-7.3 .7-8.4 .6-9.4 .7-10 .7-10.7 .7-11.3-0-.3 .5,2.6 .5,2.9 .5,2.8 .5,2.3 .5,1.9 .5,1.9 .5,1.7 .5,1.9 .5,1.5 .5,1.7 .5,2.2 .5,2.6 .5,1.7 .5,3.5 .5,4.4 .5,3.3 .5,5.1 .5,2 .5,1.2 .5,1.8 .5,.8 .5,1.2 .5,.6 .5,1.1 .5,.4 .5,.3 .5,.7 .5-.3 .5,1.7 .5,.4 .5,0 .5,1.8 .5-.9 .5,1.9 .5,1.4 .5,1.2 .5-.3 .5-.1 .5,2 .5-.7 .5,3.3 .5-2.6 .5,1.5 .5-1.1 .5,1.6 .5,1.2 .5,.3 .5,1.1 .5,1.6 .5,.8 .5,.7 .5,.1 .5,.7 .5-.7 .5,.4 .5,.4 .5,.1 .5-.8 .5,3.7 .5-.9 .5-.2 .5-2 .5,1.9 .5,1.4 .5-4.3 .5,1.7 .5-3.3 .5,3.6 .5,.9 .5-.8 .5-3.7 .5,4.3 .5-.9 .5-1.4 .5,3.9 .5,.4 .5-.4 .5-.1 .5-.6 .5,.8 .5-.6 .5,2 .5,.6 .5-3.1 .5,1.5 .5,.8 .5,1.7 .5-1 .5,1 .5-.5 .5-2.5 .5-.1 .5,2.1 .5-2 .5-4.5 .5,1.5 .5,4 .5,3.2 .5-1.8 .5-1 .5,5.3 .5-1.9 .5,.2 .5-1.6 .5,1.2 .5-2.3 .5,1.3 .5,.2 .5,.5 .5-1 .5-.7 .5-4 .5-1.7 .5,5.8 .5-2.8 .5,2.6 .5-1.1 .5-4.2 .5,3.7 .5,1.9 .5,.9 .5-.5 .5,.8 .5-3.4 .5,3.4 .5-.7 .5-.7 .5-1.1 .5,4.4 .5-2.3 .5,1.8 .5-4.3 .5,1 .5,4.1 .5-3.2 .5,.9 .5,3.3 .5-2.1 .5,2.3 .5-.4 .5-.4 .5,.1 .5,.2 .5-3 .5-.3 .5,1.4 .5-4.4 .5-.3 .5,4.5 .5,0 .5-2.3 .5-.5 .5,1.7 .5-1.7 .5,2.2 .5-.3 .5-2 .5-2.6 .5-1.5 .5,4.5 .5,.5 .5,3.1 .5-1.8 .5,2.6 .5-.9 .5,2 .5-.8 .5-1 .5,.9 .5,.9 .5-2.1 .5-1.9 .5,2.1 .5,1.1 .5,.3 .5,.4 .5,1.3 .5-.9 .5-2 .5,.7 .5,.3 .5-.8 .5,1.7 .5-2.3 .5,2 .5-5.5 .5,6.7 .5-2.1 .5-1.7 .5-.6 .5,1.6 .5-.6 .5-2.5 .5-5.4 .5,5.3 .5-7.9 .5,5.2 .5,5.6 .5-1.5 .5-.6 .5-2.8 .5,2.4 .5,.8 .5,.3 .5,.9 .5,.9 .5-.2 .5,1 .5-.8 .5-4 .5,5.3 .5-3.4 .5,4.4 .5,.1 .5-4 .5,1.7 .5-8.7 .5,8.2 .5-.7 .5,3 .5,1.5 .5-2.9 .5,1.3 .5,.1 .5-1.7 .5,.9 .5-6.3 .5,3.7 .5-.6 .5-.5 .5-.1 .5,3.7 .5-5.3 .5,1.7 .5,2 .5-.7 .5,3.7 .5-3.2 .5,1.6 .5,.2 .5-6.9 .5,5.5 .5,2.5 .5-2.1 .5-3 .5,4.6 .5-.3 .5,1.3 .5-.3 .5-5.3 .5,4.1 .5-2.4 .5-2.3 .5-1 .5,1.9 .5,.2 .5,2.1 .5,.7 .5-1.1 .5-.8 .5,1.9 .5,.1 .5-1 .5,3.1 .5-.2 .5-3.7 .5,3.7 .5-3.5 .5-.3 .5,3 .5-1.9 .5,2.1 .5-.7 .5,1.3 .5-.5 .5-3.1 .5-.5 .5,3.2 .5-4.9 .5,3.9 .5-1.5-0,21.4-.5-.7-.5,4.7-.5-2.2-.5,.1-.5-3.6-.5-1.4-.5,5.4-.5-2.1-.5,.2-.5,.1-.5-1.7-.5-.7-.5,1-.5,5.4-.5-4.7-.5,.1-.5,2.6-.5-1.4-.5,3.1-.5-1.8-.5,10.2-.5-15.1-.5-.1-.5,3.5-.5-3.8-.5,2.3-.5,4.2-.5-3.4-.5-1.1-.5,.1-.5,1.1-.5-1.7-.5,.8-.5-.1-.5-.5-.5-.7-.5,1.9-.5-1.1-.5,.7-.5,5.5-.5-9-.5,2.7-.5-2-.5,3.1-.5,3.4-.5-2.6-.5,2-.5-3.8-.5-.1-.5-.3-.5,.5-.5-.2-.5-1.8-.5,.7-.5,5.1-.5-5.6-.5,4.3-.5,8.2-.5-11.7-.5,6.4-.5,1.2-.5-4.5-.5,11.5-.5-13.4-.5-1.9-.5,4.3-.5-.6-.5,.8-.5-4.5-.5-.2-.5,4.2-.5,1.6-.5-3.9-.5-1.3-.5,1.7-.5-.5-.5,3.2-.5-4.7-.5-.5-.5-.2-.5,5.8-.5-.7-.5-3.9-.5,1.2-.5-1.5-.5,15-.5-18.8-.5,6.6-.5-4-.5,2.1-.5-1.4-.5-.8-.5,1.8-.5,2.1-.5,1-.5-2.1-.5,6.6-.5-7.5-.5,4-.5-1.9-.5-1.8-.5,1.1-.5-.7-.5,3.2-.5-3.5-.5,14-.5-13.8-.5,.5-.5,.1-.5,3.4-.5-4.2-.5,0-.5-.3-.5,14.3-.5-15-.5,1.1-.5-2-.5-.6-.5-.6-.5,2.4-.5,1.6-.5-3.5-.5-.6-.5-1.7-.5,3.5-.5-.1-.5-1.6-.5,.3-.5,.5-.5,1.5-.5-1.6-.5,16.4-.5-14-.5-3.6-.5,17.6-.5-14.6-.5-1.1-.5-.6-.5,3.8-.5-2.1-.5,4.8-.5-4.8-.5,2.2-.5-3.5-.5,3.2-.5,1.8-.5-4.2-.5,3.7-.5-3.9-.5-2.3-.5,4-.5-2.2-.5,2.9-.5-1.2-.5,14.1-.5-14.4-.5,.4-.5-.6-.5-4-.5,.4-.5,.3-.5-2.1-.5-.8-.5,1.6-.5,1.3-.5,1.5-.5-1.9-.5,1.4-.5,16.9-.5-17.2-.5-.9-.5,.5-.5,.2-.5,1.1-.5-1.3-.5,.9-.5,2.8-.5,7-.5-10.6-.5,4-.5-.5-.5-3.8-.5,1.9-.5-1.2-.5-.8-.5-1.3-.5,5-.5-4.8-.5-.1-.5-.1-.5,8.6-.5-5.7-.5,8.4-.5-11.6-.5,.9-.5-2.9-.5,2.7-.5-.6-.5,.1-.5,.2-.5-1-.5,.8-.5-1.6-.5,1.8-.5,0-.5-.4-.5-3.6-.5,2.2-.5-1.7-.5-1.5-.5,4-.5-2.7-.5,1-.5-1.4-.5,23.2-.5-20.7-.5,20.7-.5-23.3-.5,1.8-.5,.1-.5,.5-.5,.2-.5-2-.5,.3-.5-.4-.5-1-.5-1.8-.5,.6-.5,25-.5-25-.5-2.5-.5,1-.5-2.4-.5,27.8-.5-28-.5,.1-.5-2.2-.5,.7-.5-1.8-.5-2.5-.5-.8-.5,11.4-.5-13-.5-2.6-.5-.7-.5-1.2-.5-1.5-.5,0-.5-1.4-.5-2.1-.5-.6-.5-2.1-.5,2-.5-4.2-.5,.6-.5-1.6-.5-.4-.5-1.1-.5-2-.5-1.8-.5-1.1-.5-1-.5-2-.5-3.8-.5-4-.5-5.1-.5-3.8-.5-3.3-.5-2.6-.5-2-.5-1.7-.5-2.1-.5-1.6-.5-2.1-.5-2-.5-1.7-.5-2.2-.5-2.3-.5-2.6-.5-3-.5-2.7-0,.1-.7,11.3-.7,10.7-.7,10-.6,9.4-.7,8.4-.7,7.3-.7,4.9Z" fill="#0c52e4" clip-path="url(#c4l)"/>
<path d="M573.8,318.5l.7-4.1 .7-6.1 .7-7.1 .6-7.8 .7-8.5 .7-9 .7-9.4-0-.6 .5,2.5 .5,2.7 .5,3 .5,2.4 .5,2.8 .5,2.7 .5,1.2 .5,2.6 .5,1.9 .5,2.8 .5,2 .5,2.4 .5,.5 .5,2.2 .5,3.5 .5,.8 .5,1.1 .5,2.2 .5,1.1 .5,1.9 .5,.6 .5,1.3 .5-.1 .5-1.2 .5-.7 .5,4.6 .5,.4 .5-.5 .5,.1 .5,0 .5-.2 .5,1.4 .5,2 .5-1 .5-2 .5,.4 .5,4 .5-.9 .5-.3 .5-.5 .5-.5 .5,2.6 .5,.7 .5-2.1 .5,1.9 .5-.7 .5-4.8 .5,3.2 .5,3.5 .5-.2 .5-1.5 .5,.2 .5,.8 .5,1.3 .5,.6 .5-.2 .5-2.5 .5,1.2 .5,3.3 .5-3.6 .5,2.2 .5,1.3 .5-.2 .5-.4 .5-2.4 .5,.6 .5,.3 .5,1.2 .5,1.3 .5-.2 .5,1.4 .5,.8 .5-1.8 .5,1.6 .5,.2 .5,1.9 .5-1.4 .5,.2 .5-2.8 .5,3.5 .5-.5 .5,.1 .5-.9 .5,.8 .5-1.5 .5-.6 .5,5.3 .5,.8 .5,.4 .5-5.7 .5,7.7 .5-1.1 .5-6.6 .5,7.1 .5-5.3 .5,5.6 .5-2.5 .5-.3 .5-5 .5,6.2 .5,1.4 .5-3.2 .5,2.1 .5,.4 .5-1.9 .5-1.5 .5,2.2 .5,4.2 .5,2.4 .5-.6 .5-.9 .5-2.4 .5,4.8 .5-4 .5,3.3 .5-1.1 .5-8.2 .5,9.1 .5-2 .5,.8 .5-4.9 .5,5.6 .5-1.6 .5,2.8 .5-3.5 .5-3.5 .5,6 .5,.9 .5,2.2 .5-1.9 .5-2.8 .5,.9 .5,1.1 .5,1.8 .5-2.4 .5,4.5 .5,.6 .5,.5 .5-4.6 .5,4.3 .5-2.9 .5,3 .5-1.4 .5,.2 .5-1.6 .5,3.4 .5-2.2 .5,.2 .5-2.2 .5-.5 .5,1.7 .5,2.3 .5-5.9 .5,6 .5,.9 .5-5.3 .5,4.8 .5-3.5 .5,6.6 .5-4.1 .5-.2 .5-.1 .5,1.4 .5,2.6 .5-.4 .5-1.1 .5,.6 .5-2.8 .5,4.3 .5,.1 .5-6 .5,4.3 .5-2.6 .5,2.9 .5-5.7 .5,6.1 .5-3.8 .5,3.5 .5,.8 .5-1.8 .5-2.7 .5,4.5 .5-1.1 .5,5.6 .5-2.5 .5-5.1 .5,1 .5,1.3 .5-.7 .5,.5 .5-6.2 .5,8.1 .5-2.7 .5,.3 .5,1.5 .5-0 .5,1.4 .5-3.1 .5,2.6 .5,1.1 .5,1.9 .5-.5 .5-2.4 .5-6.6 .5,9.4 .5-9 .5,7.6 .5,3.2 .5-2.5 .5-3.9 .5-3.2 .5,2.9 .5,8.8 .5-2.2 .5-1.7 .5-6.5 .5,3.3 .5,1 .5,5.1 .5-2.8 .5,4.2 .5-9 .5,5.4 .5,4 .5,1.7 .5-1.5 .5,.5 .5,.1 .5-9.6 .5,4.1 .5,3 .5,3.7 .5-1.1 .5,.6 .5-2.4 .5-5.2 .5,1.8 .5,4.5 .5-5.1 .5-.6 .5,8 .5-9.2 .5,1.2 .5,6.6 .5-.6 .5,.7 .5-3.4 .5-3.1 .5,4.7 .5-5.4 .5-11 .5,14.5 .5-3 .5-2.3 .5,5.6 .5-2.8 .5-.2 .5-3.6 .5,3.6 .5-1.2 .5,4 .5-7.4 .5,1.7 .5,6.6 .5-2.9 .5,4.3 .5-4.3 .5,5.4 .5,1.1 .5,1.7 .5,1.7 .5-.4 .5-8.5 .5,6.9 .5,2.6 .5-2.4 .5-4.3 .5,7.9 .5-3.6 .5,2 .5,2.8-0,10.6-.5-1-.5,4.1-.5-7.3-.5-1.3-.5,3.7-.5-4.4-.5,3.8-.5,3-.5-8.1-.5,.6-.5,2.5-.5-1.2-.5-5-.5,2.6-.5,4.5-.5-9.8-.5-1.8-.5,22.6-.5-15.5-.5-6.5-.5,3.7-.5-4-.5,1.4-.5,8.8-.5-12.8-.5,1.2-.5,3.1-.5-.8-.5-1.5-.5,11.1-.5-10.9-.5,5.6-.5-2.2-.5,2.2-.5-4.8-.5,9.9-.5-8.3-.5,.8-.5-1.6-.5,5.1-.5,.4-.5-.7-.5,1.4-.5,1.2-.5-.7-.5-4.4-.5,.9-.5,.1-.5,8.5-.5-7.6-.5,.2-.5-2.7-.5,5.6-.5-2.5-.5,3.5-.5,3.7-.5-6.1-.5-6.2-.5-.4-.5,2.8-.5,6.2-.5-9.6-.5-0-.5-2.9-.5-1-.5,10.2-.5,4.1-.5-8.9-.5,4.7-.5-2.4-.5,3.5-.5-5.8-.5,3.8-.5-2.1-.5-3.8-.5,.9-.5-1.7-.5,.3-.5-3-.5,8.1-.5-6.3-.5,2.4-.5,22.8-.5-29.4-.5,3.3-.5-3.4-.5,2.7-.5-.8-.5-3.3-.5,6.5-.5-3.1-.5,18.8-.5-14.3-.5-3.7-.5-1.4-.5,5.3-.5-2.4-.5-1.5-.5-1.5-.5-1.3-.5,5.5-.5-3.7-.5-1.2-.5,.3-.5,4.2-.5-8-.5-.3-.5,1.6-.5,3.8-.5,1.9-.5-2.4-.5,3.5-.5-2.9-.5-4.4-.5,2.9-.5-2-.5,1.2-.5,1.3-.5-2.2-.5,2-.5,1.6-.5-1.1-.5-3.2-.5,1.3-.5-2.6-.5,2.8-.5-3.2-.5,.3-.5-3.3-.5,1.1-.5,2.3-.5,3.3-.5-4.2-.5,7.9-.5-9.3-.5,10.3-.5-8.2-.5,3.7-.5-4-.5,7.1-.5-6.6-.5,2.9-.5-3.5-.5-.5-.5,1-.5-1.4-.5-2.3-.5-1.5-.5,6.7-.5-1.8-.5-4.3-.5,3.1-.5-3.3-.5-.3-.5,3.7-.5-3.1-.5,.7-.5,.7-.5,3.4-.5-9-.5,.5-.5,3.2-.5,.3-.5-.3-.5-3.2-.5,1.6-.5,.7-.5,19.3-.5-19.4-.5,9.4-.5-6.1-.5-4.1-.5-1.9-.5,1.8-.5,1.7-.5-5.4-.5,3.6-.5-3.8-.5,6.1-.5-1.5-.5-6.4-.5-.7-.5,1.6-.5-1.7-.5,6.9-.5-1.3-.5-3.2-.5,2-.5-.8-.5,1.3-.5,.7-.5-2.9-.5-1.6-.5-2.2-.5,3.6-.5-3.6-.5,.6-.5,1.6-.5-3.3-.5,1.5-.5-1.5-.5-.8-.5,1.5-.5-.8-.5,4.3-.5-5.5-.5-1.6-.5,4.3-.5-2.8-.5-.7-.5-2.4-.5-.4-.5,2.3-.5-2.5-.5,.4-.5,2.9-.5-4.3-.5,3.8-.5-2.5-.5,2-.5-.7-.5,.3-.5-.9-.5-2.4-.5-.6-.5-.3-.5,1-.5-1.4-.5-.8-.5,.5-.5,2-.5-.2-.5-1.8-.5-1.5-.5,1.1-.5-1.9-.5,2.8-.5-2.3-.5,1.9-.5-1.9-.5,1-.5-1.5-.5-.8-.5,3.3-.5-3.7-.5,2.6-.5-1.4-.5-2.4-.5,.4-.5-1.5-.5-1-.5,.5-.5,.6-.5,14.9-.5-16.8-.5-1.3-.5-.1-.5,1.3-.5-2-.5-.4-.5-.5-.5-1.3-.5-1.9-.5-1.4-.5-1.8-.5-.3-.5-3.8-.5-1-.5-2.1-.5-2.4-.5-1.9-.5-2.5-.5-1.8-.5-3.1-.5-2.2-.5-2.4-.5-3.5-.5-2.5-.5-2.2-.5-3.5-.5-2.2-0,.1-.7,9.4-.7,9-.7,8.5-.6,7.8-.7,7.1-.7,6.1-.7,4.1Z" fill="#06f006" clip-path="url(#c4l)"/>
<path d="M573.8,318.5l.7-4.1 .7-6.1 .7-7.1 .6-7.8 .7-8.5 .7-9 .7-9.4-0,0 .5,1.1 .5,.5 .5,1.9 .5,.8 .5,1.3 .5,1.2 .5,1.3 .5,.7 .5,1.3 .5,.7 .5,1.2 .5,.7 .5,1.3 .5,.7 .5,.8 .5,.9 .5,1.2 .5,.7 .5,.8 .5,0 .5,1.5 .5,0 .5,1.5 .5,.4 .5,.4 .5,1.3 .5,.4 .5,.9 .5,.7 .5,.7 .5,.8 .5,.7 .5-.5 .5,1.9 .5,.5 .5,.3 .5,.8 .5,.5 .5,0 .5,.6 .5,.8 .5,.4 .5-1.3 .5,2 .5-.4 .5,1 .5,.5 .5,1 .5,.5 .5,.6 .5,.6 .5,.2 .5,.5 .5,1.1 .5-.9 .5,.5 .5,.3 .5,2.9 .5-.6 .5,1.7 .5-.6 .5-.1 .5,1.5 .5,.5 .5,1 .5-1.4 .5,1.5 .5,1.6 .5,.6 .5-.6 .5,1.2 .5-2 .5,2.3 .5,.5 .5,1.3 .5-.7 .5,1.8 .5,.1 .5,1.8 .5-.4 .5,0 .5,1.8 .5,.4 .5,0 .5-1.1 .5,2.8 .5,.7 .5-1.2 .5-1.3 .5,1.9 .5,2.3 .5-1.4 .5-3.9 .5,2.9 .5,1.8 .5-1.2 .5,.3 .5,1 .5,1 .5-1.2 .5,2.2 .5-2 .5,.8 .5-.2 .5,2.8 .5-5.2 .5,6.2 .5,.3 .5-3.4 .5,1.2 .5,1.8 .5,1.7 .5-2.9 .5,1.3 .5-.8 .5,.7 .5,.7 .5,2.3 .5-.6 .5-2.1 .5,.7 .5-.7 .5,.5 .5,2.5 .5-.5 .5,.6 .5-.4 .5,.7 .5-1.4 .5,.8 .5-1 .5,1.9 .5,.9 .5-.5 .5-3.2 .5,3.1 .5-3.3 .5,4.3 .5-1.7 .5-1.8 .5-2 .5,3.9 .5-.5 .5-.7 .5-2.1 .5,1.2 .5,2.1 .5,1.4 .5-2.8 .5,3.1 .5,2.2 .5,.7 .5-4.8 .5,.9 .5,1.6 .5,.9 .5-6.7 .5,2.6 .5,6.2 .5-2.5 .5-1.2 .5,3.2 .5-2.5 .5-5.5 .5,3.3 .5,4.7 .5-4.1 .5,2.9 .5-1.7 .5,3.3 .5-9.3 .5,4.1 .5,4.5 .5,1.6 .5-.3 .5,.2 .5,2.1 .5-2.1 .5-11.5 .5,9.3 .5,2.2 .5-1.1 .5,2.1 .5-6.9 .5,8.2 .5-5.2 .5,3.9 .5-2.5 .5,.4 .5,3.2 .5,.9 .5-.4 .5,.2 .5-3.4 .5,1.8 .5,.8 .5-4.7 .5,1.8 .5-2.9 .5,4.5 .5-.6 .5,2.7 .5,1.1 .5-2.5 .5-4.1 .5,6.1 .5,3.5 .5-2 .5-2.1 .5-2.8 .5,8.7 .5-5.2 .5,3.4 .5-5.2 .5,4.9 .5,3.7 .5,.5 .5-5.3 .5-1.3 .5,3.5 .5-5.2 .5,8.5 .5-14.8 .5,8 .5,.7 .5-3.3 .5,3.2 .5,3.4 .5-2 .5-5.3 .5,5.2 .5-5.1 .5,.3 .5,1.7 .5,2.5 .5,1.7 .5-1.9 .5,3.6 .5-2.2 .5,4.2 .5-2.6 .5-3.8 .5,8.5 .5-2.1 .5-4.2 .5,1 .5,2.7 .5,1.5 .5-3.6 .5,3.4 .5-1.1 .5-9.6 .5,8.8 .5-.3 .5-3 .5,2.7 .5-1.2 .5-8.1 .5,11.5 .5-1.5 .5,6.1 .5-12 .5,4 .5,0 .5-1.3 .5,4 .5,5.1 .5-3.6 .5,.6 .5,2 .5,3 .5-11.7 .5,5.4 .5,1.5 .5,5.3 .5-4.9 .5,.6 .5,6.7 .5-.1 .5-3.9 .5-4.8-0,14.6-.5,.9-.5,4.3-.5-4.5-.5-3.7-.5,6.4-.5-3.2-.5-.1-.5,.2-.5-3.4-.5,5.1-.5-6.5-.5-.4-.5,5.1-.5,3.1-.5-8.2-.5-1.1-.5,0-.5,2.2-.5-.7-.5,.4-.5-2.9-.5,.8-.5-5.4-.5,20.3-.5-7.7-.5-6.2-.5-2.3-.5-1.3-.5,7.7-.5-8.9-.5,2.4-.5,.7-.5,4-.5-2-.5,3.1-.5,7.1-.5-16.3-.5,4.3-.5,1.1-.5,.6-.5-4.8-.5,.7-.5,0-.5,2.8-.5-2.1-.5-2.6-.5-1.8-.5,5-.5-2.8-.5-4.6-.5,2.2-.5-1.4-.5,5.1-.5-3.3-.5-1.6-.5,1.6-.5,6.9-.5-3.7-.5,.6-.5-2.7-.5,.8-.5-.2-.5,1.2-.5,5.4-.5-2.6-.5-1.2-.5,2.1-.5-3.7-.5-5.3-.5,4.6-.5,5.7-.5-5.5-.5,2-.5-6.8-.5,1.2-.5-3.2-.5,5.8-.5,.5-.5-1.6-.5-4.8-.5-1.8-.5,2.2-.5,1.7-.5-3.2-.5,4.4-.5-4.9-.5,3.5-.5,1.3-.5-4.2-.5,4.1-.5,1.7-.5,.7-.5-4.8-.5,2-.5-3.2-.5,3.4-.5-3.8-.5,3.2-.5-3.4-.5-2.6-.5,3.5-.5,.3-.5-1.4-.5,1.1-.5-1.1-.5,1.9-.5,.2-.5-2.8-.5,.8-.5-1.8-.5-2.4-.5,3.1-.5-4.2-.5,2.1-.5-.2-.5,3.5-.5-4.9-.5-.1-.5,4.8-.5-.3-.5-4.2-.5-.2-.5,5.1-.5-3.4-.5-.1-.5,1.5-.5-3.6-.5,2-.5,1.9-.5-1-.5-2.7-.5,2.8-.5-5.4-.5-.3-.5,2.1-.5,.3-.5-4.2-.5,.2-.5,3.3-.5-2.3-.5,3.7-.5-1.4-.5-2.8-.5,1.7-.5-1.3-.5-1.4-.5,.8-.5-.2-.5,.5-.5-.7-.5,11.1-.5-9-.5,1.8-.5-1.3-.5,.2-.5,.4-.5-4.5-.5,1-.5,.5-.5-.7-.5-.7-.5,4.2-.5-3.8-.5-.8-.5,.8-.5,.3-.5,1-.5,1.9-.5-3.2-.5-1.3-.5,1.4-.5-4-.5,2.3-.5,.8-.5-2.5-.5,4.3-.5-3.1-.5-1.7-.5-1.2-.5,2-.5-.9-.5-.4-.5-.4-.5,3.1-.5-2.2-.5-1.1-.5-0-.5-2.3-.5,1.1-.5,1.3-.5-1.6-.5-.5-.5-1.5-.5,.2-.5,2.3-.5-3.9-.5-.4-.5,1-.5-1-.5,1-.5-2.1-.5,.3-.5-3.3-.5-0-.5-.1-.5-.7-.5,.5-.5-2.6-.5,.7-.5-.8-.5-1.2-.5-.9-.5,1.5-.5-.7-.5-2.7-.5-.4-.5,2.2-.5-3-.5-.9-.5,.8-.5-1.3-.5,.4-.5-.8-.5-1.3-.5,1-.5-.5-.5-1.6-.5-.6-.5-1.2-.5,0-.5-.9-.5-.9-.5,.2-.5-1.8-.5,.7-.5-.2-.5-.2-.5-1.7-.5-.6-.5,.4-.5,.1-.5-1.9-.5-.8-.5,.3-.5-0-.5-1.4-.5,.7-.5-2.3-.5-1-.5-.3-.5-.1-.5-1.2-.5-.9-.5-.3-.5-1.4-.5-.6-.5-.1-.5-.8-.5-1-.5-.2-.5-1.1-.5-.3-.5-1.3-.5-.7-.5-.9-.5-.9-.5-.6-.5-1.2-.5-.7-.5-1.5-.5-1.2-.5-.9-.5-.5-.5-1.1-.5-1.6-.5-.6-.5-1-.5-1.6-.5-1-.5-1.7-.5-1.1-0-.1-.7,9.4-.7,9-.7,8.5-.6,7.8-.7,7.1-.7,6.1-.7,4.1Z" fill="#06f006" clip-path="url(#c4l)"/>
<path d="M573.8,318.5l.7-4.1 .7-6.1 .7-7.1 .6-7.8 .7-8.5 .7-9 .7-9.4-0-.8 .5,1 .5,.9 .5,1.3 .5,.9 .5,.8 .5,.7 .5,.9 .5,.1 .5,1.6 .5,.3 .5,1.4 .5,.8 .5,.7 .5,.4 .5-.4 .5,1.9 .5,.8 .5,.5 .5,0 .5,1.1 .5,.5 .5,.5 .5,.5 .5,.4 .5,.9 .5,.3 .5,.8 .5,.2 .5-.2 .5,1.4 .5,.5 .5,.6 .5,.1 .5,.4 .5,.5 .5,.5 .5,.3 .5,.8 .5-.3 .5,1.2 .5,.4 .5,1.1 .5,0 .5-.1 .5,1.1 .5,1.3 .5,.1 .5,.3 .5-.2 .5,1.7 .5-.2 .5,.9 .5,1.2 .5-.2 .5,1.4 .5,.4 .5,.1 .5-.5 .5,1 .5,1.2 .5,.8 .5,.3 .5-1.1 .5,1.4 .5,.5 .5,.6 .5,.1 .5-.2 .5,.5 .5,.6 .5,.5 .5,.9 .5-.1 .5-.7 .5,1.6 .5-1.2 .5,1.1 .5,.7 .5,.7 .5,.9 .5,1.1 .5,.6 .5,.5 .5,.8 .5-1.7 .5,.3 .5,.7 .5,.7 .5-.2 .5-.2 .5,2.1 .5-.1 .5,.1 .5,.8 .5,.6 .5-.1 .5-.9 .5,.3 .5,1.1 .5,.8 .5-.1 .5,.3 .5,.6 .5,.7 .5-.5 .5,.4 .5,1.2 .5-.4 .5,.3 .5-0 .5,1 .5-1.8 .5,.5 .5,.1 .5-.5 .5,3.1 .5,.6 .5-.9 .5-0 .5,.4 .5-.5 .5,1 .5-.3 .5,1.2 .5-.6 .5,1 .5-4.4 .5,2.8 .5,2.3 .5,.1 .5,.4 .5-.8 .5-1.4 .5,.7 .5,2.3 .5-1.3 .5,1.8 .5-.2 .5-.4 .5-.3 .5-1.5 .5,3.2 .5-2.8 .5,4.1 .5-.4 .5-1.5 .5,1.7 .5-.5 .5,2 .5-1.9 .5-1.3 .5,2.4 .5,.2 .5-.5 .5,2.5 .5-1.2 .5-1.7 .5-.1 .5,.9 .5,2.1 .5,.2 .5-1.1 .5,.4 .5-1 .5-.3 .5,2.8 .5,1.1 .5,.2 .5-.8 .5-2.4 .5,2.5 .5,1 .5-1.3 .5-.7 .5,1.9 .5-.1 .5,2 .5-4.3 .5,5.3 .5-1.2 .5-3.9 .5,4.7 .5,1.4 .5-.2 .5-.6 .5,.3 .5,.4 .5-3.7 .5,3.4 .5-4.7 .5,4.3 .5,1.2 .5-6.2 .5,6.6 .5-2.5 .5,.9 .5-.7 .5,.3 .5-1.6 .5,.2 .5-3.2 .5-1.5 .5,5.4 .5,1.5 .5-2.6 .5,4.4 .5,1.4 .5,1 .5-3.9 .5-3.2 .5,6.2 .5,.7 .5-2 .5-2.4 .5,1 .5,3.1 .5-5.1 .5,1.4 .5,.8 .5,4.3 .5,.3 .5,1.4 .5-.6 .5-.1 .5,.5 .5-.3 .5-2.3 .5-3.5 .5,5.5 .5-3.7 .5,3.6 .5-1.1 .5-.8 .5-2.7 .5,3.1 .5,3.8 .5,.5 .5-2.2 .5-.8 .5,2.5 .5,1.9 .5-6.5 .5,5.1 .5,1 .5-4.4 .5,2.3 .5,1.2 .5-3.4 .5,.7 .5-6.4 .5,4.7 .5,3.6 .5,1.4 .5,.4 .5,2 .5-3 .5,.5 .5,2.9 .5-3.1 .5,2.2 .5-2.2 .5-.1 .5-1.4 .5,6.2 .5-.6 .5-.7 .5-2.8 .5,.1 .5-1.6 .5,1.4 .5,3.9 .5-4.8 .5,5.4 .5-1.7 .5-2.2 .5,4.4 .5-2.1 .5,3.2 .5-.3 .5-1.3 .5-3.8-0,10.8-.5-.6-.5,.7-.5,.9-.5-2.2-.5,.3-.5-3-.5,.3-.5,1.8-.5,4.4-.5-4.8-.5,1.1-.5,1.6-.5-1.6-.5-.1-.5-1.6-.5,.4-.5,.8-.5-.4-.5,3.8-.5-4.8-.5,5.1-.5-.5-.5-3.6-.5-2.8-.5-1.2-.5,6.9-.5-6.8-.5,1.3-.5,5.3-.5-3.2-.5-2.1-.5-1.4-.5,4.2-.5,.6-.5-4-.5,2.4-.5-4.2-.5,1.7-.5,.3-.5-2.6-.5,.1-.5-.2-.5,6-.5-5.6-.5-.5-.5-2.5-.5,1.2-.5,.5-.5-.4-.5-2.1-.5,.7-.5,.5-.5-.5-.5,.2-.5,3.7-.5-.7-.5-1.6-.5-1.8-.5,2.9-.5-3.8-.5,1.3-.5,1.8-.5-1.9-.5-2.9-.5,1.1-.5,2.6-.5,.9-.5-1.4-.5-1.4-.5-1.3-.5,2.4-.5-.1-.5,.5-.5-4.1-.5,4.5-.5-3.9-.5-2.5-.5,1.6-.5-2.3-.5,1-.5,3-.5-4.2-.5,2.3-.5-2.5-.5,.8-.5,.3-.5,1.3-.5,.8-.5-1.1-.5-.3-.5-1-.5,1.6-.5,1.5-.5-2.4-.5-.7-.5-1.4-.5-.1-.5,1.2-.5,1.4-.5,2.5-.5-3.7-.5-1.4-.5,.6-.5-1.3-.5-.2-.5,.6-.5,1.2-.5-3.6-.5-.8-.5,5.6-.5-2.5-.5,1-.5-4.2-.5,.8-.5-.5-.5,1.1-.5,.7-.5,1.8-.5-5.1-.5-.1-.5,.8-.5-2.7-.5,0-.5,1.5-.5-.5-.5-.4-.5,1.8-.5,.6-.5-1.4-.5-1.6-.5,3.4-.5-.4-.5-1.6-.5-1.7-.5-1-.5,1.6-.5-1.7-.5,3.3-.5-2.9-.5-1.2-.5-.4-.5,2.6-.5-1.5-.5-1.5-.5-1.6-.5,.7-.5,.7-.5,1-.5-.1-.5-.6-.5-1.6-.5,1.9-.5-2.1-.5-.1-.5-1.2-.5,1.6-.5-1.3-.5-.6-.5-1.2-.5,2.3-.5-2.5-.5,1.6-.5-1.3-.5,.5-.5-.8-.5,1.3-.5-2.4-.5-.1-.5-.3-.5,0-.5-.5-.5,.6-.5-.1-.5,.7-.5-.7-.5-.7-.5,.9-.5-.8-.5-1.2-.5-1.5-.5-.5-.5,0-.5-.7-.5-.3-.5,2.2-.5-2.6-.5-.6-.5,.4-.5-.1-.5,.6-.5-.5-.5-1.8-.5-.1-.5,.4-.5-.3-.5-.1-.5-.3-.5-1.6-.5-.7-.5,.2-.5-.3-.5,1.6-.5-2.7-.5-.8-.5,.8-.5-1.3-.5-.5-.5,.1-.5-1.2-.5-.5-.5-.3-.5-1-.5,0-.5,.5-.5,.9-.5-2.5-.5-.8-.5,1.9-.5-.7-.5-2.1-.5-.1-.5-.6-.5-.5-.5-.2-.5-1.2-.5-.4-.5,0-.5-1-.5-.7-.5-.8-.5-.7-.5-.3-.5-.2-.5,.2-.5-1.6-.5-.6-.5,0-.5-.9-.5-.6-.5,0-.5-.5-.5-1.2-.5-1-.5-.1-.5-.4-.5-.8-.5-.2-.5-.7-.5-.4-.5,.5-.5-.5-.5-.7-.5-.9-.5-.4-.5-.8-.5-.4-.5,0-.5-.6-.5-1.3-.5-.2-.5-.9-.5-.6-.5-.3-.5-.6-.5-.5-.5-1.3-.5-.6-.5-.6-.5-.3-.5-1-.5-.3-.5-1.4-.5-.6-.5-1-.5-.8-.5-.9-.5-.9-.5-.8-.5-.8-.5-1.2-.5-.4-0-.3-.7,9.4-.7,9-.7,8.5-.6,7.8-.7,7.1-.7,6.1-.7,4.1Z" fill="#06f006" clip-path="url(#c4l)"/>
<path d="M573.8,318.5l.7-4.1 .7-6.1 .7-7.1 .6-7.8 .7-8.5 .7-9 .7-9.4-0-.4 .5,.5 .5,.8 .5,.7 .5,.3 .5,1.4 .5,.5 .5,.3 .5,1 .5,.5 .5,.7 .5,.6 .5,.2 .5,.8 .5,.4 .5,.4 .5,.9 .5,.5 .5-.1 .5,1.1 .5,.5 .5,.6 .5,.2 .5,.7 .5,.6 .5-.2 .5,1.2 .5-.2 .5,.9 .5-.1 .5,1 .5-.2 .5,.9 .5,.5 .5,.6 .5-.2 .5,.7 .5,.2 .5,1.4 .5,.7 .5-.5 .5,.7 .5,.8 .5,.3 .5,.5 .5,.8 .5,.3 .5,.2 .5,.2 .5,.3 .5,1.2 .5-.2 .5,.6 .5,.4 .5-.4 .5,.5 .5,1.3 .5,.3 .5,0 .5,.5 .5,1.4 .5-.2 .5,1 .5-.1 .5,.5 .5-.2 .5,.6 .5,1.6 .5,.2 .5-.3 .5,.4 .5,.6 .5-.2 .5,.9 .5-.1 .5,.1 .5,.5 .5,.6 .5-.9 .5,1.6 .5-.5 .5,1.1 .5,.4 .5-.6 .5-1.1 .5,1.5 .5,.2 .5,.1 .5,0 .5-.1 .5,.7 .5-.8 .5,.9 .5,.6 .5-.2 .5-.4 .5,1.5 .5,.2 .5,1.3 .5-.5 .5,.3 .5,1 .5,.2 .5,.4 .5,.5 .5-.9 .5,1.1 .5-1.4 .5,1 .5,.8 .5,1 .5,.4 .5-.6 .5,.4 .5,.6 .5,.2 .5,.3 .5,0 .5,.2 .5,.4 .5,.7 .5-1.1 .5,1.4 .5,.1 .5,.2 .5,1.1 .5-1.1 .5-.2 .5,.2 .5,1.1 .5,.4 .5-.4 .5-.4 .5,.7 .5-.3 .5-1.2 .5-1.1 .5,3.3 .5-1 .5,1.1 .5,.2 .5-1.5 .5,3.2 .5-1 .5,0 .5-.2 .5,2.5 .5,0 .5-.5 .5,.7 .5,.4 .5-.6 .5-.4 .5-1.2 .5-.1 .5,1.5 .5,.9 .5-.9 .5,1.5 .5-1 .5,1.1 .5-.6 .5,.4 .5,.9 .5-.6 .5,1.5 .5-.1 .5-.6 .5-1.4 .5,3.3 .5,.3 .5-2.1 .5,1.1 .5,.5 .5,.7 .5-2.7 .5,3.3 .5-1.3 .5-1.8 .5,3 .5,1.3 .5,.1 .5,.8 .5-1.3 .5-.6 .5,1 .5,1.3 .5-1.3 .5,1 .5,.6 .5-2.4 .5,2.3 .5,.3 .5-.1 .5,.5 .5-.1 .5-1.4 .5,1.3 .5,.7 .5-1 .5,.7 .5,1.7 .5,.3 .5,.1 .5-1.5 .5-.8 .5,1.4 .5,1.6 .5,.4 .5,0 .5-.2 .5,1.8 .5-.8 .5-1.8 .5,2.5 .5,1.4 .5,.8 .5-3 .5,2.9 .5-2.7 .5,1.4 .5-3 .5,4.2 .5-2.8 .5,1.2 .5,.6 .5-4.2 .5,4.2 .5-.4 .5,1.7 .5,.1 .5-2.8 .5,2 .5,3.1 .5-1.6 .5,.8 .5,.1 .5-1.2 .5,.3 .5,2.8 .5,.1 .5-2.2 .5,2.4 .5-2.1 .5-1 .5,.2 .5,4.5 .5-3.7 .5,3.2 .5,1.5 .5-.4 .5-.5 .5,.6 .5-1.8 .5,3.4 .5,1.9 .5-2.9 .5-3.1 .5,7.2 .5-3.6 .5,3.8 .5-4 .5,1.8 .5-.4 .5,.5 .5-4 .5,3.5 .5-1.4 .5,1.7 .5-.6 .5-1.9 .5,3 .5-3.1 .5-2.8 .5,4.2 .5,2 .5-.2 .5,3 .5-1.1 .5-1.9 .5,3.3 .5,1.1-0,8.8-.5-1.5-.5-1.1-.5-2.4-.5-.6-.5,2.8-.5-2.1-.5-.4-.5,2.9-.5-7-.5,2.8-.5,1-.5-1.3-.5-1-.5,.9-.5,2.2-.5-2.2-.5-.1-.5,2.7-.5-1.3-.5-.3-.5-1.7-.5,.5-.5-.7-.5,3.1-.5-3.2-.5,1.4-.5-3.3-.5,3.9-.5-4.8-.5-.8-.5,2.7-.5-1.5-.5-.4-.5-1.5-.5-.1-.5,.5-.5-1.9-.5-.6-.5-.7-.5-.6-.5,.8-.5,1.4-.5-1.9-.5,.4-.5,.5-.5-2.6-.5,4-.5-3.1-.5-.7-.5,.6-.5,.8-.5-2.7-.5-.3-.5-1.7-.5,.6-.5-.6-.5,2.9-.5-.9-.5,.3-.5,3.7-.5-4.9-.5,.4-.5,3.2-.5-2.4-.5,1.1-.5-3.1-.5,.7-.5,1.1-.5-2.9-.5,.8-.5,.3-.5,.3-.5-2.2-.5,.7-.5,.7-.5-.1-.5-1.3-.5-2.1-.5,.4-.5,1.2-.5-1.1-.5-.4-.5-.3-.5-.5-.5-.8-.5,1.3-.5-.8-.5,.5-.5-1.6-.5,1.5-.5-1.4-.5,2.5-.5-1.2-.5-2.1-.5,.1-.5,2.1-.5,1.6-.5-4.7-.5-.2-.5,.9-.5-1.3-.5-.8-.5,.9-.5-.6-.5-.3-.5,1.1-.5-1.7-.5,1.3-.5-1-.5-.1-.5,1.2-.5-2.1-.5,1.6-.5-1.8-.5-1.3-.5,2.4-.5-1.3-.5-1.6-.5,.7-.5,.6-.5-1.7-.5-.6-.5,.1-.5-.6-.5,.7-.5,2.1-.5-2.9-.5,0-.5,2.2-.5-2.2-.5,2.2-.5-2.1-.5,1.7-.5-2-.5,.3-.5-.5-.5-.8-.5,.2-.5,.2-.5-.1-.5-1.2-.5-1.4-.5,.9-.5,.4-.5-2.8-.5,.8-.5,1-.5-1.6-.5,1.5-.5-.5-.5-.5-.5-.8-.5,1.6-.5-.6-.5-.7-.5,.3-.5-.3-.5-.4-.5-1-.5,.4-.5-1.4-.5,.8-.5-1.3-.5-.5-.5-.4-.5-.2-.5,1.4-.5-1.6-.5,.8-.5-1.1-.5-.3-.5-.2-.5-.4-.5,1.4-.5-1.4-.5-.6-.5,.5-.5-1.3-.5-.5-.5,.1-.5-.2-.5-.6-.5,.2-.5-.5-.5-.7-.5-.9-.5,.9-.5-1.7-.5,.4-.5,1.6-.5-.5-.5-1.8-.5-.2-.5,.8-.5-1-.5-.1-.5-.9-.5,.5-.5-.5-.5,.7-.5-.4-.5-1.2-.5,.3-.5-.9-.5,.2-.5-.1-.5-.4-.5-.1-.5,1.1-.5-1.8-.5-.9-.5-.3-.5,0-.5-.1-.5-1-.5-.2-.5-1-.5-.4-.5,0-.5-.5-.5-.8-.5,.5-.5-1.6-.5-.2-.5-.3-.5-.7-.5-.1-.5-.4-.5-.1-.5-1.2-.5,.4-.5-.8-.5-.8-.5-.4-.5-.4-.5,.1-.5-.4-.5-.6-.5-.9-.5,0-.5-1-.5,0-.5-.6-.5-.4-.5-.5-.5-1-.5-.1-.5-.9-.5-.5-.5-.4-.5-.2-.5,0-.5-1.1-.5,.2-.5-.6-.5-.7-.5-.7-.5-.3-.5-.7-.5-.1-.5-.4-.5-.5-.5-1-.5-.3-.5-.2-.5-.9-.5-.4-.5-.6-.5-.6-.5-.8-.5-.6-.5-.3-.5-.6-.5-.8-.5-.6-.5-.6-.5-.7-.5-.8-.5-.7-.5-.5-.5-.8-0,0-.7,9.4-.7,9-.7,8.5-.6,7.8-.7,7.1-.7,6.1-.7,4.1Z" fill="#06f006" clip-path="url(#c4l)"/>
<path d="M573.8,318.5l.7-4.1 .7-6.1 .7-7.1 .6-7.8 .7-8.5 .7-9 .7-9.4-0,0 .5,.3 .5,.1 .5,.6 .5,.7 .5,.4 .5,.2 .5,.8 .5,.6 .5,.5 .5,.4 .5,.4 .5,0 .5,.7 .5,.7 .5,.6 .5,.4 .5,.4 .5,0 .5,.6 .5,.6 .5,.4 .5,.5 .5,.2 .5,.2 .5,.9 .5,.5 .5,.4 .5,.1 .5,.4 .5,.7 .5,.6 .5,.4 .5,.1 .5,.2 .5,.4 .5,.7 .5,.5 .5,.1 .5,0 .5,.5 .5,.7 .5,0 .5,.8 .5,.2 .5-.1 .5,.8 .5,.1 .5,.8 .5-.2 .5,.7 .5,.4 .5,.3 .5,.3 .5,.6 .5-.5 .5,1 .5,.6 .5-.1 .5-.7 .5,1.3 .5,0 .5,.8 .5-.5 .5,1.3 .5-.2 .5,.1 .5,.3 .5,.5 .5,.1 .5,0 .5,.5 .5,.6 .5-.1 .5,.3 .5,0 .5,.2 .5,1 .5-.2 .5,.1 .5,.1 .5,.6 .5,.9 .5-.4 .5-.3 .5,1.8 .5-0 .5,.4 .5,.6 .5-.2 .5-.1 .5,.7 .5-.4 .5,.5 .5,.6 .5-.5 .5,.7 .5-.4 .5,.6 .5-0 .5,.5 .5-.4 .5-0 .5,1.4 .5-.4 .5,.5 .5,.6 .5,.3 .5-.5 .5,1.3 .5,.2 .5,.3 .5,.2 .5-0 .5-.7 .5-.3 .5,1.3 .5,.2 .5-.1 .5-.2 .5-.1 .5-.9 .5,1.9 .5-0 .5,.5 .5,.4 .5-.2 .5-0 .5,.6 .5-.4 .5,.7 .5,.7 .5-1.3 .5,1.1 .5,.6 .5,.4 .5,.7 .5-1 .5,.7 .5-1.1 .5,1.8 .5,.2 .5-0 .5-.4 .5-1.4 .5,.4 .5,1.8 .5-.7 .5,1.3 .5-1.4 .5,2.2 .5-0 .5-.7 .5-.4 .5,1.8 .5-1.8 .5,1 .5,1.2 .5-1.4 .5,.5 .5,1 .5,.3 .5-.1 .5,.2 .5-1.3 .5,1 .5-.8 .5,1.9 .5,.6 .5,.5 .5-.2 .5,.6 .5-2.7 .5,2.5 .5,.4 .5,1 .5-0 .5-1.7 .5,.9 .5,1.1 .5,.2 .5-1.3 .5,.8 .5,.7 .5-2.8 .5,3 .5,.4 .5-.5 .5,.6 .5-1.9 .5,2.8 .5-.8 .5,.8 .5,.1 .5,.9 .5,.1 .5,1.8 .5-.8 .5,1 .5-.2 .5,.8 .5-.8 .5,1.1 .5-1 .5-1.4 .5,1.1 .5,2 .5-.4 .5,1.1 .5-1 .5,.6 .5-0 .5,.6 .5,.2 .5-.7 .5-.5 .5,2.5 .5,.1 .5-.3 .5,.3 .5-.9 .5-.2 .5-.3 .5,.5 .5-.6 .5,1 .5,1 .5,.5 .5-.2 .5,.6 .5,1.3 .5-1.2 .5,1.6 .5,.3 .5,.2 .5-1.2 .5-.2 .5,.7 .5,.5 .5-1.2 .5-1 .5,3.3 .5,.1 .5-1.1 .5,2 .5-3 .5,3.7 .5-1.6 .5-.3 .5-1.8 .5,4.5 .5-1.7 .5-.5 .5,1.6 .5-.8 .5,.7 .5,1.1 .5,.7 .5,.1 .5-.3 .5-.7 .5,1.5 .5-.1 .5-1.5 .5,1.8 .5,2.7 .5-3.6 .5,2.2 .5-.7 .5,.2 .5,3.5 .5-4.6 .5,3.8 .5,.6 .5-.9 .5,1.5 .5-2.7 .5,3.2 .5-.5 .5-.9 .5,.1 .5-.8-0,9.9-.5-1.9-.5-.6-.5-1.7-.5,2.9-.5-1.6-.5-1.7-.5,.7-.5,.7-.5-.9-.5,.3-.5-.4-.5,.2-.5-.6-.5,1.7-.5-3.3-.5,.7-.5-2.1-.5,.8-.5-.7-.5,.5-.5-2.1-.5,3-.5-3.6-.5-1-.5,.1-.5-.4-.5-0-.5,.3-.5-.3-.5-.3-.5,.7-.5,1.4-.5-2.1-.5,.7-.5,.9-.5-2.3-.5,.9-.5,.1-.5,.8-.5-3.1-.5,.7-.5,1.1-.5-.1-.5-2.8-.5,.7-.5,1.5-.5-.3-.5-2.1-.5-.5-.5,2.5-.5-2.6-.5,.7-.5-1-.5-.8-.5,.4-.5-1.8-.5,.2-.5,.4-.5-0-.5-1.2-.5,1.6-.5-.9-.5,1.4-.5-2.2-.5,1.2-.5-.8-.5,1-.5-1.7-.5-.1-.5-.8-.5-.5-.5,2-.5-1.5-.5,1.6-.5-2-.5,.2-.5-.7-.5-.2-.5,1.6-.5-1.6-.5-.8-.5-0-.5,1.1-.5-1.3-.5-1.1-.5-.2-.5,1.5-.5-1.1-.5-1.2-.5,2.2-.5-2.4-.5-1.3-.5,.6-.5,.1-.5-.7-.5-.4-.5-.3-.5-1.3-.5,2-.5-1.5-.5,.3-.5-.3-.5-0-.5-0-.5,.7-.5-1.7-.5,.8-.5,1.5-.5-2.7-.5,.8-.5-1.9-.5-.2-.5-.1-.5,.1-.5-.2-.5-0-.5-.2-.5-1.4-.5,.1-.5-.4-.5,.2-.5,1.4-.5-1.1-.5-1-.5,2.4-.5-1.6-.5,.1-.5-1.2-.5,.3-.5-.6-.5-.5-.5,.5-.5-1.3-.5-.1-.5,.2-.5-.6-.5,.3-.5-0-.5-.2-.5-.5-.5-0-.5,.5-.5-.3-.5-.7-.5,.4-.5-.8-.5-.4-.5,.6-.5-.8-.5-.4-.5,1-.5-.8-.5,.7-.5-1.2-.5-1.3-.5,.4-.5,1.5-.5-.7-.5-1.4-.5-.1-.5-.9-.5,.4-.5-.3-.5-.3-.5,.1-.5-.6-.5,1.1-.5-1.3-.5,.3-.5-.3-.5-.4-.5,.3-.5-.5-.5-.2-.5-.3-.5,.1-.5-.7-.5-.2-.5,.3-.5-.2-.5-1-.5,.2-.5-.6-.5-.9-.5,1.1-.5-.8-.5-.3-.5,.3-.5-.6-.5-.5-.5,.2-.5,.7-.5-1.6-.5,.4-.5-.9-.5,.1-.5-.8-.5,.5-.5-1.3-.5-.4-.5,.3-.5-.9-.5,.2-.5-.7-.5,.4-.5-.7-.5-.2-.5-.4-.5-.4-.5-.4-.5,.2-.5-.7-.5,.6-.5-.5-.5-0-.5-1.1-.5,.1-.5-.8-.5,.6-.5-1-.5,.4-.5-.9-.5-.3-.5-.2-.5-.7-.5-.5-.5,.1-.5-.6-.5-.3-.5-.4-.5-.1-.5-.6-.5-.1-.5-.5-.5-.3-.5-.3-.5-.5-.5-.5-.5,.3-.5-.3-.5-.9-.5-.1-.5-.1-.5-.9-.5-.2-.5,.1-.5-1.1-.5-.3-.5-.1-.5-.6-.5-.1-.5-.8-.5-.2-.5-.6-.5-.6-.5-.6-.5-.2-.5-.6-.5-.2-.5-.5-.5-.4-.5-.3-.5-.7-.5-.3-.5-.2-.5-.8-.5-.4-.5-.5-.5-.1-.5-.9-.5-.4-.5-.4-.5-.3-.5-.5-.5-.3-.5-.7-.5-.6-.5-.3-.5-.8-.5-.5-.5-0-0-.4-.7,9.4-.7,9-.7,8.5-.6,7.8-.7,7.1-.7,6.1-.7,4.1Z" fill="#06f006" clip-path="url(#c4l)"/>
<path d="M573.8,318.5l.7-4.1 .7-6.1 .7-7.1 .6-7.8 .7-8.5 .7-9 .7-9.4-0-.1 .5,0 .5,.3 .5,.1 .5,.6 .5,.3 .5,.4 .5,.1 .5,.7 .5,.1 .5,.4 .5,.3 .5,.5 .5,.4 .5-.1 .5,.9 .5-.1 .5,.7 .5,.4 .5,.3 .5,.3 .5,.4 .5,.6 .5,.2 .5,.5 .5,.4 .5,.2 .5,.7 .5,.2 .5,.5 .5,.3 .5,.4 .5,.2 .5,.3 .5,.2 .5,.4 .5,.5 .5,.1 .5,.5 .5,.5 .5-.2 .5,.7 .5,0 .5,.7 .5,.3 .5,.2 .5,.3 .5,.3 .5-.1 .5,.1 .5,.7 .5,.4 .5,.3 .5,0 .5,.6 .5,.1 .5,.4 .5-.1 .5,.4 .5,.2 .5-.1 .5,.8 .5,0 .5,.1 .5,.2 .5,.5 .5-.3 .5,.3 .5,.6 .5,.1 .5,.3 .5,.4 .5-.1 .5,.1 .5,.9 .5,.4 .5,.5 .5,0 .5-.1 .5,.7 .5,.5 .5-.1 .5,.5 .5,.1 .5,.1 .5,.2 .5,.1 .5,.6 .5,.2 .5-.4 .5,.4 .5,.5 .5,0 .5,.6 .5-.5 .5,.7 .5,.3 .5,.2 .5,0 .5,.6 .5,0 .5,.6 .5,.4 .5-.4 .5,.5 .5,.7 .5,0 .5,.1 .5,.5 .5-.6 .5,.9 .5,0 .5,.4 .5-.3 .5,.8 .5,.1 .5-.6 .5,.8 .5-.9 .5,.6 .5,1 .5,.4 .5-.4 .5,.6 .5,0 .5-.1 .5,.5 .5,.1 .5,.2 .5-.1 .5-.1 .5-.4 .5,.8 .5,0 .5,1.2 .5-.2 .5-.8 .5,1.2 .5-.5 .5,.2 .5,.6 .5-.1 .5,.4 .5,.6 .5,.2 .5,.5 .5-.5 .5,.4 .5,.2 .5-.1 .5,.4 .5-.4 .5,.3 .5,.2 .5,.6 .5-.3 .5,.8 .5-.2 .5,.2 .5-.2 .5,.6 .5-1.1 .5-.4 .5,2.1 .5,.2 .5,.4 .5-2.2 .5,2.9 .5,.3 .5-.5 .5,0 .5,.7 .5,.7 .5-1.1 .5,.6 .5,.6 .5,.3 .5,0 .5,.7 .5,.3 .5-1.3 .5-.3 .5,1.8 .5,.3 .5-.8 .5,0 .5,.4 .5,1.2 .5,.3 .5,.2 .5,.2 .5,.1 .5,.2 .5,.4 .5-.2 .5-.3 .5-.9 .5,1.8 .5,.1 .5-.1 .5-1.2 .5,2.1 .5-.1 .5,.4 .5,.4 .5,.8 .5-.6 .5,.5 .5,1 .5-.5 .5-.2 .5,.8 .5-.5 .5,.6 .5-.5 .5,.7 .5-.8 .5,.1 .5,1.8 .5-.1 .5,.3 .5,1.2 .5-1 .5,1.4 .5-.8 .5,1.2 .5-1 .5,1.6 .5,.4 .5-1.5 .5,.4 .5,0 .5,2.1 .5-1.3 .5,.8 .5-.5 .5-.9 .5,.9 .5-.6 .5,1.3 .5-1.2 .5,0 .5,2.5 .5-.6 .5,.9 .5,.1 .5,1.4 .5-.9 .5,1.3 .5-.6 .5,1.5 .5,.2 .5-1.6 .5,1.1 .5-.8 .5,.9 .5,1.8 .5-1.1 .5,.6 .5-.7 .5-1.4 .5,.5 .5,2.6 .5-.1 .5,.1 .5,0 .5-1.1 .5-.3 .5,2.3 .5-1.9 .5,2.7 .5,.1 .5-2.8 .5,2.5 .5-1.7 .5,1.6 .5-1.5 .5,.7 .5,2.2 .5-1.3 .5,2 .5-3.8-0,9.3-.5-2-.5,1.4-.5-.1-.5-1.9-.5,3.1-.5-1.7-.5-.8-.5-1.6-.5,1.7-.5-1.1-.5,.5-.5-.1-.5,0-.5,1-.5-.2-.5-3-.5,2.2-.5-1.6-.5-.9-.5,1.3-.5-.8-.5-1.8-.5,.5-.5-.1-.5,2-.5-3-.5,1.8-.5-1.9-.5-.7-.5,.9-.5,0-.5,2.8-.5-3.2-.5-1-.5-1.1-.5,1.1-.5-2.1-.5,.2-.5-.2-.5-.9-.5-.2-.5,1.9-.5-2.1-.5,.8-.5-.7-.5,.8-.5,1.2-.5-.4-.5-1.4-.5-1.2-.5,.8-.5,.6-.5-.7-.5-1.2-.5,1-.5-1.5-.5,.9-.5-.7-.5-.2-.5-.9-.5,.7-.5-1.5-.5,1.1-.5,.4-.5-1.8-.5-.9-.5,.7-.5-.4-.5-.9-.5,2.1-.5-1.6-.5-.4-.5,.6-.5-1.5-.5-.2-.5-.4-.5-.2-.5,.8-.5-.1-.5-1.7-.5,1-.5-1.8-.5,1-.5,0-.5-.8-.5-.7-.5,.4-.5,1.1-.5-1.4-.5-.8-.5,.4-.5-.8-.5-.3-.5,.2-.5,.6-.5-.5-.5-.3-.5-.5-.5,.5-.5-.8-.5-.5-.5,.5-.5-.3-.5-.9-.5-.4-.5-.2-.5,.8-.5,.3-.5-.8-.5-.5-.5-.7-.5,.9-.5-.5-.5-.1-.5-.2-.5-1.2-.5-.7-.5-.1-.5,.3-.5-.4-.5,.3-.5-1-.5-.2-.5-.1-.5,.6-.5,.1-.5-.2-.5,.9-.5-1.7-.5-.7-.5,.4-.5,.1-.5-.2-.5,.3-.5-1.1-.5,0-.5,0-.5-.4-.5,.1-.5-.3-.5-.1-.5-1-.5,.5-.5-1-.5,.3-.5-.1-.5,1.1-.5-1-.5-.4-.5-.5-.5-.4-.5,.5-.5,.2-.5-1.4-.5-.1-.5,.1-.5,.8-.5-.6-.5,.4-.5-.8-.5-.6-.5-.6-.5,.9-.5-1.1-.5-.2-.5,.1-.5-.2-.5,0-.5-.6-.5,.4-.5-.3-.5,.5-.5-1.1-.5-.1-.5,1.2-.5-1.7-.5,.3-.5-.9-.5-.5-.5,.1-.5-.3-.5,.1-.5-.9-.5,.1-.5-.3-.5-.5-.5,.4-.5-.5-.5-.7-.5,.8-.5-.8-.5,0-.5-.3-.5-.8-.5-.1-.5,0-.5-.5-.5,.1-.5-.6-.5-.3-.5-.2-.5,.2-.5-.4-.5,.1-.5-.9-.5,.1-.5-.6-.5,.2-.5-1-.5,.6-.5-1.3-.5,0-.5-.3-.5,.3-.5-.3-.5-.9-.5-.2-.5-.3-.5,.4-.5-.5-.5,.2-.5-.7-.5,.2-.5-.7-.5,.1-.5-.8-.5,.1-.5-.5-.5-.4-.5,.3-.5-.8-.5-.5-.5-.2-.5,.2-.5-.5-.5-.5-.5,0-.5-.3-.5-.5-.5,.1-.5-.6-.5-.4-.5-.4-.5-.3-.5,0-.5-.5-.5,0-.5-.7-.5-.5-.5,.3-.5-1-.5-.3-.5-.2-.5-.5-.5-.5-.5-.4-.5-.2-.5-.5-.5-.2-.5-.8-.5-.3-.5-.4-.5-0-.5-.7-.5,.1-.5-.5-.5-.5-.5-.1-.5-.3-.5-.4-.5-.7-.5-.3-.5-.4-.5-.4-.5-0-.5-.3-.5-.6-.5-.5-.5-.1-.5-.2-.5-.4-0-.1-.7,9.4-.7,9-.7,8.5-.6,7.8-.7,7.1-.7,6.1-.7,4.1Z" fill="#06f006" clip-path="url(#c4l)"/>
<path d="M573.8,319l.7-4.2 .7-6.2 .7-7.2 .6-8 .7-8.6 .7-9.2 .7-9.6-0-.3 .5,1.1 .5,1 .5,.3 .5,0 .5-.1 .5-.2 .5-.2 .5,0 .5,.1 .5-.1 .5,.1 .5-0 .5,.1 .5,.1 .5,.3 .5,.3 .5,.4 .5,.6 .5,.5 .5,.3 .5,.8 .5,.4 .5,.5 .5,.1 .5,.3 .5,.3 .5,.4 .5,.1 .5,.4 .5,.1 .5,.3 .5,.2 .5,.1 .5,.3 .5,.2 .5,.2 .5,.3 .5,.1 .5,.4 .5,.2 .5,.4 .5,.3 .5,.2 .5,.3 .5,.1 .5,.2 .5,.4 .5,.3 .5,.3 .5,.1 .5,.5 .5,.3 .5,.3 .5,.3 .5,.1 .5,.2 .5,.2 .5,.3 .5,.2 .5,.1 .5,.4 .5,.3 .5-.2 .5,.6 .5,.3 .5,.4 .5-.2 .5,.5 .5,.3 .5,.3 .5,.3 .5,.2 .5,.2 .5,.1 .5,.4 .5-.4 .5,.9 .5-.3 .5,.7 .5-.1 .5,.5 .5,.2 .5-.1 .5,.5 .5,.1 .5-.5 .5,.7 .5-0 .5,.6 .5,.2 .5,.2 .5,.4 .5,.3 .5,.1 .5,.2 .5-.1 .5,.8 .5,.2 .5,.2 .5,.2 .5-0 .5,.3 .5,.4 .5,.2 .5,.5 .5,.1 .5,.4 .5-.1 .5-0 .5,.6 .5,.2 .5-.4 .5-0 .5,.6 .5-.2 .5,.3 .5,.4 .5,.3 .5,.1 .5,.3 .5,.1 .5,.2 .5,.5 .5-.1 .5,.2 .5,.4 .5,.2 .5-.1 .5,.4 .5,.2 .5,.3 .5,.4 .5-0 .5,.4 .5-0 .5,.4 .5,.1 .5-.5 .5,.7 .5,.6 .5-0 .5,.3 .5-.2 .5,.4 .5,.2 .5,.1 .5,.3 .5,.1 .5,.5 .5-.2 .5,.3 .5,.5 .5,.4 .5,.1 .5,.1 .5-.2 .5,.5 .5,.9 .5,.2 .5-.1 .5-0 .5,.8 .5-0 .5,.1 .5,.5 .5,.5 .5-.3 .5-.2 .5,1.2 .5-.5 .5,.2 .5,.3 .5-0 .5,.9 .5-.3 .5,.2 .5,.6 .5-0 .5,.1 .5,.1 .5,.5 .5,.3 .5,.1 .5,.1 .5-.3 .5,.6 .5,.1 .5,.7 .5-.2 .5,.4 .5-0 .5-.1 .5,.5 .5-.3 .5,.7 .5-0 .5-.4 .5,.7 .5-0 .5,.3 .5-0 .5-.2 .5,.6 .5-.4 .5,.7 .5,.2 .5-.2 .5,.5 .5,.4 .5-.2 .5,.2 .5-.3 .5,.8 .5,.2 .5,.3 .5-.2 .5,.3 .5,.2 .5,.4 .5,.1 .5-.4 .5-.5 .5,1 .5,.1 .5,.5 .5,.2 .5-.6 .5,.8 .5-.2 .5-.4 .5,1.3 .5-.3 .5,.8 .5,.3 .5-.1 .5,.4 .5-.3 .5,1 .5-0 .5-.3 .5-0 .5-0 .5,.1 .5,.2 .5,.3 .5,.2 .5,.2 .5,.6 .5-.1 .5,.6 .5-.2 .5,.4 .5,.5 .5,.3 .5,.3 .5-.6 .5,.7 .5,.4 .5,.3 .5-.4 .5,.5 .5,.7 .5-.7 .5-.1 .5,1.7 .5,.1 .5-0 .5,.7 .5-.9 .5,1.2 .5-.2 .5-.3 .5,1 .5-.2 .5,.5 .5-.6 .5,.3 .5-.4 .5,.7 .5,.7 .5,1-0,3.5-.5-.3-.5-1.1-.5-.2-.5,.1-.5-.4-.5-.6-.5,.3-.5-.1-.5,.4-.5-1-.5,.6-.5-1-.5,.7-.5-1.5-.5-0-.5,.2-.5-.6-.5-.8-.5,.8-.5-.8-.5-.9-.5-.3-.5-.2-.5,1-.5-.9-.5-.5-.5-.2-.5-.3-.5,.3-.5,.1-.5-1-.5-.1-.5,.4-.5-1.4-.5-.6-.5,.2-.5-.6-.5,.9-.5-.3-.5-.7-.5,1.3-.5-1.2-.5,.1-.5-.2-.5,.1-.5-.7-.5-.3-.5-.1-.5-.7-.5,.4-.5-.5-.5-.7-.5,.1-.5-0-.5-.2-.5-.3-.5-.2-.5,.3-.5-.5-.5-0-.5-.1-.5-.4-.5,.1-.5-.3-.5,.6-.5-.9-.5,.2-.5-.5-.5,.1-.5,.1-.5-.7-.5-.1-.5-.3-.5-.2-.5,.1-.5-.6-.5-.2-.5-.5-.5-.1-.5-0-.5-0-.5-.4-.5,.1-.5-.2-.5-.2-.5,.1-.5-.2-.5-0-.5-.4-.5,.3-.5-.3-.5-.6-.5,.7-.5-.5-.5-.4-.5,.3-.5-.4-.5-.3-.5-.3-.5-0-.5-.7-.5,.7-.5-.5-.5-.5-.5-.2-.5-.2-.5,.1-.5-.7-.5-0-.5,.2-.5-.3-.5-.5-.5-.4-.5-.4-.5,.4-.5-.8-.5-0-.5-.4-.5-.3-.5-0-.5-0-.5-.4-.5-.5-.5,.3-.5-.6-.5-.4-.5-.3-.5-.2-.5-.5-.5-.1-.5-.1-.5-.5-.5,.1-.5-.5-.5-.1-.5-.5-.5,.4-.5,.1-.5-1-.5,.4-.5-.6-.5-.2-.5,.1-.5-.1-.5-.3-.5-.4-.5-.3-.5-.4-.5,.3-.5-.6-.5,.2-.5-.9-.5,.2-.5-.2-.5-.4-.5,.2-.5-.6-.5-.1-.5-.3-.5,.5-.5-1-.5-.3-.5-.2-.5-.2-.5-.3-.5-.1-.5-.3-.5,.1-.5-0-.5-.4-.5,.2-.5,.1-.5-.6-.5-.4-.5-.3-.5-0-.5-.4-.5-.1-.5-.6-.5-.1-.5-.3-.5-0-.5-.1-.5-.2-.5-.6-.5-0-.5-.4-.5-0-.5-.4-.5-.2-.5-.3-.5-.1-.5-.3-.5-.2-.5-.4-.5-.2-.5,.2-.5-.5-.5-0-.5-.5-.5-.3-.5-.1-.5-.1-.5-.2-.5-.4-.5-.3-.5-.1-.5-.2-.5,.4-.5-.9-.5-.3-.5,.1-.5-.6-.5-.1-.5-.2-.5,.1-.5-.5-.5-.2-.5-.4-.5,.1-.5-.6-.5-.3-.5,.2-.5-.5-.5-.5-.5-.2-.5-.2-.5-.1-.5-.2-.5-.5-.5-.4-.5-.3-.5-.2-.5-.1-.5-.4-.5-.4-.5-.3-.5-.2-.5-.1-.5-.4-.5-.1-.5-.2-.5-.5-.5-.2-.5-.3-.5-.2-.5-0-.5-.2-.5-.4-.5-.3-.5-.1-.5-.3-.5-.1-.5-.3-.5-.2-.5-.3-.5-.3-.5-.4-.5-.3-.5-.4-.5-.7-.5-.5-.5-.5-.5-.4-.5-.6-.5-.3-.5-.3-.5-.1-.5-.1-.5,.1-.5-.2-.5-0-.5-0-.5-.1-.5,.2-.5,.3-.5-0-.5,.1-.5-.1-.5-1-.5-1.1-0-.1-.7,9.6-.7,9.2-.7,8.6-.6,8-.7,7.2-.7,6.2-.7,4.2Z" fill="#e8100c" clip-path="url(#c4l)"/>
<line x1="592" y1="104" x2="664.1" y2="42.9" stroke="#000" stroke-width="1.6"/>
<path d="M674,34.5 L666.4,48.8 L666,41.3 L658.7,39.6 Z" fill="#000"/>
<text x="670.3" y="31.5" font-size="10" text-anchor="start" fill="#231f20" stroke="#231f20" stroke-width="0.28" textLength="24.2" lengthAdjust="spacingAndGlyphs">300K</text>
<text x="575.8" y="117" font-size="10" text-anchor="start" fill="#231f20" stroke="#231f20" stroke-width="0.28" textLength="13.5" lengthAdjust="spacingAndGlyphs">4K</text>
<line x1="603.5" y1="233.2" x2="681.9" y2="162.3" stroke="#000" stroke-width="1.6"/>
<path d="M691.5,153.6 L684.4,168.1 L683.7,160.6 L676.4,159.2 Z" fill="#000"/>
<text x="685.7" y="152.3" font-size="10" text-anchor="start" fill="#231f20" stroke="#231f20" stroke-width="0.28" textLength="24.9" lengthAdjust="spacingAndGlyphs">300K</text>
<text x="587.6" y="247" font-size="10" text-anchor="start" fill="#231f20" stroke="#231f20" stroke-width="0.28" textLength="12" lengthAdjust="spacingAndGlyphs">4K</text>
<line x1="587.5" y1="361.2" x2="663.8" y2="292.6" stroke="#000" stroke-width="1.6"/>
<path d="M673.5,283.9 L666.4,298.4 L665.7,290.9 L658.3,289.5 Z" fill="#000"/>
<text x="671.2" y="279.8" font-size="10" text-anchor="start" fill="#231f20" stroke="#231f20" stroke-width="0.28" textLength="24.8" lengthAdjust="spacingAndGlyphs">300K</text>
<text x="576.2" y="368.8" font-size="10" text-anchor="start" fill="#231f20" stroke="#231f20" stroke-width="0.28" textLength="12.2" lengthAdjust="spacingAndGlyphs">4K</text>
<line x1="36.9" y1="0.5" x2="36.9" y2="378.6" stroke="#231f20" stroke-width="1.0"/>
<line x1="178" y1="0.5" x2="178" y2="378.6" stroke="#231f20" stroke-width="1.0"/>
<line x1="36.4" y1="0.8" x2="178.5" y2="0.8" stroke="#231f20" stroke-width="1.1"/>
<line x1="36.4" y1="120.2" x2="178.5" y2="120.2" stroke="#231f20" stroke-width="1.1"/>
<line x1="36.4" y1="248.3" x2="178.5" y2="248.3" stroke="#231f20" stroke-width="1.1"/>
<line x1="36.4" y1="378.6" x2="178.5" y2="378.6" stroke="#231f20" stroke-width="1.1"/>
<line x1="225.8" y1="0.5" x2="225.8" y2="378.6" stroke="#231f20" stroke-width="1.0"/>
<line x1="367.2" y1="0.5" x2="367.2" y2="378.6" stroke="#231f20" stroke-width="1.0"/>
<line x1="225.3" y1="0.8" x2="367.7" y2="0.8" stroke="#231f20" stroke-width="1.1"/>
<line x1="225.3" y1="120.2" x2="367.7" y2="120.2" stroke="#231f20" stroke-width="1.1"/>
<line x1="225.3" y1="248.3" x2="367.7" y2="248.3" stroke="#231f20" stroke-width="1.1"/>
<line x1="225.3" y1="378.6" x2="367.7" y2="378.6" stroke="#231f20" stroke-width="1.1"/>
<line x1="392.7" y1="0.5" x2="392.7" y2="378.6" stroke="#231f20" stroke-width="1.0"/>
<line x1="538.6" y1="0.5" x2="538.6" y2="378.6" stroke="#231f20" stroke-width="1.0"/>
<line x1="392.2" y1="0.8" x2="539.1" y2="0.8" stroke="#231f20" stroke-width="1.1"/>
<line x1="392.2" y1="120.2" x2="539.1" y2="120.2" stroke="#231f20" stroke-width="1.1"/>
<line x1="392.2" y1="248.3" x2="539.1" y2="248.3" stroke="#231f20" stroke-width="1.1"/>
<line x1="392.2" y1="378.6" x2="539.1" y2="378.6" stroke="#231f20" stroke-width="1.1"/>
<line x1="573.8" y1="0.5" x2="573.8" y2="378.6" stroke="#231f20" stroke-width="1.0"/>
<line x1="718.6" y1="0.5" x2="718.6" y2="378.6" stroke="#231f20" stroke-width="1.0"/>
<line x1="573.3" y1="0.8" x2="719.1" y2="0.8" stroke="#231f20" stroke-width="1.1"/>
<line x1="573.3" y1="120.2" x2="719.1" y2="120.2" stroke="#231f20" stroke-width="1.1"/>
<line x1="573.3" y1="248.3" x2="719.1" y2="248.3" stroke="#231f20" stroke-width="1.1"/>
<line x1="573.3" y1="378.6" x2="719.1" y2="378.6" stroke="#231f20" stroke-width="1.1"/>
<rect x="224.6" y="121.6" width="2.4" height="3.2" fill="#fff"/>
<path d="M223.6,122.6 c0.8,-1.3 1.6,0.9 2.2,-0.3 s1.2,-0.9 2.2,-1.0 M223.6,124.8 c0.8,-1.3 1.6,0.9 2.2,-0.3 s1.2,-0.9 2.2,-1.0" fill="none" stroke="#231f20" stroke-width="0.85"/>
<rect x="224.6" y="250.2" width="2.4" height="3.2" fill="#fff"/>
<path d="M223.6,251.2 c0.8,-1.3 1.6,0.9 2.2,-0.3 s1.2,-0.9 2.2,-1.0 M223.6,253.4 c0.8,-1.3 1.6,0.9 2.2,-0.3 s1.2,-0.9 2.2,-1.0" fill="none" stroke="#231f20" stroke-width="0.85"/>
<rect x="366" y="121.6" width="2.4" height="3.2" fill="#fff"/>
<path d="M365,122.6 c0.8,-1.3 1.6,0.9 2.2,-0.3 s1.2,-0.9 2.2,-1.0 M365,124.8 c0.8,-1.3 1.6,0.9 2.2,-0.3 s1.2,-0.9 2.2,-1.0" fill="none" stroke="#231f20" stroke-width="0.85"/>
<rect x="366" y="250.2" width="2.4" height="3.2" fill="#fff"/>
<path d="M365,251.2 c0.8,-1.3 1.6,0.9 2.2,-0.3 s1.2,-0.9 2.2,-1.0 M365,253.4 c0.8,-1.3 1.6,0.9 2.2,-0.3 s1.2,-0.9 2.2,-1.0" fill="none" stroke="#231f20" stroke-width="0.85"/>
<line x1="36.9" y1="378.6" x2="36.9" y2="381.2" stroke="#231f20" stroke-width="0.9"/>
<line x1="54.6" y1="378.6" x2="54.6" y2="381.2" stroke="#231f20" stroke-width="0.9"/>
<line x1="72.2" y1="378.6" x2="72.2" y2="381.2" stroke="#231f20" stroke-width="0.9"/>
<line x1="89.9" y1="378.6" x2="89.9" y2="381.2" stroke="#231f20" stroke-width="0.9"/>
<line x1="107.5" y1="378.6" x2="107.5" y2="381.2" stroke="#231f20" stroke-width="0.9"/>
<line x1="125.2" y1="378.6" x2="125.2" y2="381.2" stroke="#231f20" stroke-width="0.9"/>
<line x1="142.8" y1="378.6" x2="142.8" y2="381.2" stroke="#231f20" stroke-width="0.9"/>
<line x1="160.5" y1="378.6" x2="160.5" y2="381.2" stroke="#231f20" stroke-width="0.9"/>
<line x1="178.1" y1="378.6" x2="178.1" y2="381.2" stroke="#231f20" stroke-width="0.9"/>
<text x="37.4" y="391.6" font-size="10" text-anchor="middle" fill="#231f20" stroke="#231f20" stroke-width="0.28" textLength="12.6" lengthAdjust="spacingAndGlyphs">2.1</text>
<text x="72.7" y="391.6" font-size="10" text-anchor="middle" fill="#231f20" stroke="#231f20" stroke-width="0.28" textLength="12.6" lengthAdjust="spacingAndGlyphs">2.3</text>
<text x="108" y="391.6" font-size="10" text-anchor="middle" fill="#231f20" stroke="#231f20" stroke-width="0.28" textLength="12.6" lengthAdjust="spacingAndGlyphs">2.5</text>
<text x="143.3" y="391.6" font-size="10" text-anchor="middle" fill="#231f20" stroke="#231f20" stroke-width="0.28" textLength="12.6" lengthAdjust="spacingAndGlyphs">2.7</text>
<text x="178.6" y="391.6" font-size="10" text-anchor="middle" fill="#231f20" stroke="#231f20" stroke-width="0.28" textLength="12.6" lengthAdjust="spacingAndGlyphs">2.9</text>
<text x="113.2" y="405" font-size="10.5" text-anchor="middle" fill="#231f20" stroke="#231f20" stroke-width="0.28" textLength="50" lengthAdjust="spacingAndGlyphs">Energy (eV)</text>
<line x1="225.9" y1="120.2" x2="225.9" y2="123.4" stroke="#231f20" stroke-width="0.9"/>
<line x1="225.9" y1="248.3" x2="225.9" y2="251.5" stroke="#231f20" stroke-width="0.9"/>
<line x1="225.9" y1="378.6" x2="225.9" y2="381.8" stroke="#231f20" stroke-width="0.9"/>
<line x1="243.5" y1="120.2" x2="243.5" y2="122.2" stroke="#231f20" stroke-width="0.9"/>
<line x1="243.5" y1="248.3" x2="243.5" y2="250.3" stroke="#231f20" stroke-width="0.9"/>
<line x1="243.5" y1="378.6" x2="243.5" y2="380.6" stroke="#231f20" stroke-width="0.9"/>
<line x1="261.2" y1="120.2" x2="261.2" y2="123.4" stroke="#231f20" stroke-width="0.9"/>
<line x1="261.2" y1="248.3" x2="261.2" y2="251.5" stroke="#231f20" stroke-width="0.9"/>
<line x1="261.2" y1="378.6" x2="261.2" y2="381.8" stroke="#231f20" stroke-width="0.9"/>
<line x1="278.8" y1="120.2" x2="278.8" y2="122.2" stroke="#231f20" stroke-width="0.9"/>
<line x1="278.8" y1="248.3" x2="278.8" y2="250.3" stroke="#231f20" stroke-width="0.9"/>
<line x1="278.8" y1="378.6" x2="278.8" y2="380.6" stroke="#231f20" stroke-width="0.9"/>
<line x1="296.5" y1="120.2" x2="296.5" y2="123.4" stroke="#231f20" stroke-width="0.9"/>
<line x1="296.5" y1="248.3" x2="296.5" y2="251.5" stroke="#231f20" stroke-width="0.9"/>
<line x1="296.5" y1="378.6" x2="296.5" y2="381.8" stroke="#231f20" stroke-width="0.9"/>
<line x1="314.1" y1="120.2" x2="314.1" y2="122.2" stroke="#231f20" stroke-width="0.9"/>
<line x1="314.1" y1="248.3" x2="314.1" y2="250.3" stroke="#231f20" stroke-width="0.9"/>
<line x1="314.1" y1="378.6" x2="314.1" y2="380.6" stroke="#231f20" stroke-width="0.9"/>
<line x1="331.8" y1="120.2" x2="331.8" y2="123.4" stroke="#231f20" stroke-width="0.9"/>
<line x1="331.8" y1="248.3" x2="331.8" y2="251.5" stroke="#231f20" stroke-width="0.9"/>
<line x1="331.8" y1="378.6" x2="331.8" y2="381.8" stroke="#231f20" stroke-width="0.9"/>
<line x1="349.5" y1="120.2" x2="349.5" y2="122.2" stroke="#231f20" stroke-width="0.9"/>
<line x1="349.5" y1="248.3" x2="349.5" y2="250.3" stroke="#231f20" stroke-width="0.9"/>
<line x1="349.5" y1="378.6" x2="349.5" y2="380.6" stroke="#231f20" stroke-width="0.9"/>
<line x1="367.1" y1="120.2" x2="367.1" y2="123.4" stroke="#231f20" stroke-width="0.9"/>
<line x1="367.1" y1="248.3" x2="367.1" y2="251.5" stroke="#231f20" stroke-width="0.9"/>
<line x1="367.1" y1="378.6" x2="367.1" y2="381.8" stroke="#231f20" stroke-width="0.9"/>
<text x="212.4" y="394.1" font-size="10" text-anchor="middle" fill="#231f20" stroke="#231f20" stroke-width="0.28" textLength="13.8" lengthAdjust="spacingAndGlyphs">2.2</text>
<text x="261.2" y="394.1" font-size="10" text-anchor="middle" fill="#231f20" stroke="#231f20" stroke-width="0.28" textLength="13.8" lengthAdjust="spacingAndGlyphs">2.3</text>
<text x="296.5" y="394.1" font-size="10" text-anchor="middle" fill="#231f20" stroke="#231f20" stroke-width="0.28" textLength="13.8" lengthAdjust="spacingAndGlyphs">2.4</text>
<text x="331.8" y="394.1" font-size="10" text-anchor="middle" fill="#231f20" stroke="#231f20" stroke-width="0.28" textLength="13.8" lengthAdjust="spacingAndGlyphs">2.5</text>
<text x="367.1" y="394.1" font-size="10" text-anchor="middle" fill="#231f20" stroke="#231f20" stroke-width="0.28" textLength="13.8" lengthAdjust="spacingAndGlyphs">2.6</text>
<text x="305.4" y="405.5" font-size="11.3" text-anchor="middle" fill="#231f20" stroke="#231f20" stroke-width="0.28" textLength="56" lengthAdjust="spacingAndGlyphs">Energy (eV)</text>
<line x1="222.6" y1="119.7" x2="225.8" y2="119.7" stroke="#231f20" stroke-width="0.9"/>
<line x1="223.8" y1="108.9" x2="225.8" y2="108.9" stroke="#231f20" stroke-width="0.8"/>
<line x1="222.6" y1="98.1" x2="225.8" y2="98.1" stroke="#231f20" stroke-width="0.9"/>
<line x1="223.8" y1="87.3" x2="225.8" y2="87.3" stroke="#231f20" stroke-width="0.8"/>
<line x1="222.6" y1="76.5" x2="225.8" y2="76.5" stroke="#231f20" stroke-width="0.9"/>
<line x1="223.8" y1="65.7" x2="225.8" y2="65.7" stroke="#231f20" stroke-width="0.8"/>
<line x1="222.6" y1="54.9" x2="225.8" y2="54.9" stroke="#231f20" stroke-width="0.9"/>
<line x1="223.8" y1="44.1" x2="225.8" y2="44.1" stroke="#231f20" stroke-width="0.8"/>
<line x1="222.6" y1="33.3" x2="225.8" y2="33.3" stroke="#231f20" stroke-width="0.9"/>
<line x1="223.8" y1="22.5" x2="225.8" y2="22.5" stroke="#231f20" stroke-width="0.8"/>
<line x1="222.6" y1="11.7" x2="225.8" y2="11.7" stroke="#231f20" stroke-width="0.9"/>
<text x="220" y="122.8" font-size="10" text-anchor="end" fill="#231f20" stroke="#231f20" stroke-width="0.28">0</text>
<text x="220" y="101.2" font-size="10" text-anchor="end" fill="#231f20" stroke="#231f20" stroke-width="0.28">5</text>
<text x="220" y="79.6" font-size="10" text-anchor="end" fill="#231f20" stroke="#231f20" stroke-width="0.28">10</text>
<text x="220" y="58" font-size="10" text-anchor="end" fill="#231f20" stroke="#231f20" stroke-width="0.28">15</text>
<text x="220" y="36.4" font-size="10" text-anchor="end" fill="#231f20" stroke="#231f20" stroke-width="0.28">20</text>
<line x1="222.6" y1="247.5" x2="225.8" y2="247.5" stroke="#231f20" stroke-width="0.9"/>
<line x1="223.8" y1="241.1" x2="225.8" y2="241.1" stroke="#231f20" stroke-width="0.8"/>
<line x1="223.8" y1="234.7" x2="225.8" y2="234.7" stroke="#231f20" stroke-width="0.8"/>
<line x1="222.6" y1="228.3" x2="225.8" y2="228.3" stroke="#231f20" stroke-width="0.9"/>
<line x1="223.8" y1="221.9" x2="225.8" y2="221.9" stroke="#231f20" stroke-width="0.8"/>
<line x1="223.8" y1="215.5" x2="225.8" y2="215.5" stroke="#231f20" stroke-width="0.8"/>
<line x1="222.6" y1="209.1" x2="225.8" y2="209.1" stroke="#231f20" stroke-width="0.9"/>
<line x1="223.8" y1="202.7" x2="225.8" y2="202.7" stroke="#231f20" stroke-width="0.8"/>
<line x1="223.8" y1="196.3" x2="225.8" y2="196.3" stroke="#231f20" stroke-width="0.8"/>
<line x1="222.6" y1="189.9" x2="225.8" y2="189.9" stroke="#231f20" stroke-width="0.9"/>
<line x1="223.8" y1="183.5" x2="225.8" y2="183.5" stroke="#231f20" stroke-width="0.8"/>
<line x1="223.8" y1="177.1" x2="225.8" y2="177.1" stroke="#231f20" stroke-width="0.8"/>
<line x1="222.6" y1="170.7" x2="225.8" y2="170.7" stroke="#231f20" stroke-width="0.9"/>
<line x1="223.8" y1="164.3" x2="225.8" y2="164.3" stroke="#231f20" stroke-width="0.8"/>
<line x1="223.8" y1="157.9" x2="225.8" y2="157.9" stroke="#231f20" stroke-width="0.8"/>
<line x1="222.6" y1="151.5" x2="225.8" y2="151.5" stroke="#231f20" stroke-width="0.9"/>
<line x1="223.8" y1="145.1" x2="225.8" y2="145.1" stroke="#231f20" stroke-width="0.8"/>
<line x1="223.8" y1="138.7" x2="225.8" y2="138.7" stroke="#231f20" stroke-width="0.8"/>
<line x1="222.6" y1="132.3" x2="225.8" y2="132.3" stroke="#231f20" stroke-width="0.9"/>
<text x="220" y="250.6" font-size="10" text-anchor="end" fill="#231f20" stroke="#231f20" stroke-width="0.28">0</text>
<text x="220" y="231.4" font-size="10" text-anchor="end" fill="#231f20" stroke="#231f20" stroke-width="0.28">3</text>
<text x="220" y="212.2" font-size="10" text-anchor="end" fill="#231f20" stroke="#231f20" stroke-width="0.28">6</text>
<text x="220" y="193" font-size="10" text-anchor="end" fill="#231f20" stroke="#231f20" stroke-width="0.28">9</text>
<text x="220" y="173.8" font-size="10" text-anchor="end" fill="#231f20" stroke="#231f20" stroke-width="0.28">12</text>
<text x="220" y="154.6" font-size="10" text-anchor="end" fill="#231f20" stroke="#231f20" stroke-width="0.28">15</text>
<line x1="222.6" y1="379.2" x2="225.8" y2="379.2" stroke="#231f20" stroke-width="0.9"/>
<line x1="223.8" y1="365.6" x2="225.8" y2="365.6" stroke="#231f20" stroke-width="0.8"/>
<line x1="222.6" y1="351.9" x2="225.8" y2="351.9" stroke="#231f20" stroke-width="0.9"/>
<line x1="223.8" y1="338.2" x2="225.8" y2="338.2" stroke="#231f20" stroke-width="0.8"/>
<line x1="222.6" y1="324.6" x2="225.8" y2="324.6" stroke="#231f20" stroke-width="0.9"/>
<line x1="223.8" y1="310.9" x2="225.8" y2="310.9" stroke="#231f20" stroke-width="0.8"/>
<line x1="222.6" y1="297.3" x2="225.8" y2="297.3" stroke="#231f20" stroke-width="0.9"/>
<line x1="223.8" y1="283.6" x2="225.8" y2="283.6" stroke="#231f20" stroke-width="0.8"/>
<line x1="222.6" y1="270" x2="225.8" y2="270" stroke="#231f20" stroke-width="0.9"/>
<text x="220" y="382.3" font-size="10" text-anchor="end" fill="#231f20" stroke="#231f20" stroke-width="0.28">0</text>
<text x="220" y="355" font-size="10" text-anchor="end" fill="#231f20" stroke="#231f20" stroke-width="0.28">5</text>
<text x="220" y="327.7" font-size="10" text-anchor="end" fill="#231f20" stroke="#231f20" stroke-width="0.28">10</text>
<text x="220" y="300.4" font-size="10" text-anchor="end" fill="#231f20" stroke="#231f20" stroke-width="0.28">15</text>
<text x="219.8" y="15.3" font-size="10.3" text-anchor="end" fill="#231f20" stroke="#231f20" stroke-width="0.28" textLength="38.5" lengthAdjust="spacingAndGlyphs">25 x 10<tspan font-size="6.2" dy="-4.4">4</tspan></text>
<text x="219.8" y="135.9" font-size="10.3" text-anchor="end" fill="#231f20" stroke="#231f20" stroke-width="0.28" textLength="38.5" lengthAdjust="spacingAndGlyphs">18 x 10<tspan font-size="6.2" dy="-4.4">4</tspan></text>
<text x="219.8" y="273.7" font-size="10.3" text-anchor="end" fill="#231f20" stroke="#231f20" stroke-width="0.28" textLength="38.5" lengthAdjust="spacingAndGlyphs">20 x 10<tspan font-size="6.2" dy="-4.4">4</tspan></text>
<text x="198.3" y="184.2" font-size="10" text-anchor="middle" fill="#231f20" stroke="#231f20" stroke-width="0.12" transform="rotate(-90 198.3 184.2)" textLength="41.5" lengthAdjust="spacingAndGlyphs">PL (a.u.)</text>
<line x1="392.5" y1="378.6" x2="392.5" y2="381.4" stroke="#231f20" stroke-width="0.9"/>
<line x1="404.6" y1="378.6" x2="404.6" y2="380.4" stroke="#231f20" stroke-width="0.9"/>
<line x1="416.8" y1="378.6" x2="416.8" y2="381.4" stroke="#231f20" stroke-width="0.9"/>
<line x1="428.9" y1="378.6" x2="428.9" y2="380.4" stroke="#231f20" stroke-width="0.9"/>
<line x1="441.1" y1="378.6" x2="441.1" y2="381.4" stroke="#231f20" stroke-width="0.9"/>
<line x1="453.2" y1="378.6" x2="453.2" y2="380.4" stroke="#231f20" stroke-width="0.9"/>
<line x1="465.4" y1="378.6" x2="465.4" y2="381.4" stroke="#231f20" stroke-width="0.9"/>
<line x1="477.6" y1="378.6" x2="477.6" y2="380.4" stroke="#231f20" stroke-width="0.9"/>
<line x1="489.7" y1="378.6" x2="489.7" y2="381.4" stroke="#231f20" stroke-width="0.9"/>
<line x1="501.9" y1="378.6" x2="501.9" y2="380.4" stroke="#231f20" stroke-width="0.9"/>
<line x1="514" y1="378.6" x2="514" y2="381.4" stroke="#231f20" stroke-width="0.9"/>
<line x1="526.1" y1="378.6" x2="526.1" y2="380.4" stroke="#231f20" stroke-width="0.9"/>
<line x1="538.3" y1="378.6" x2="538.3" y2="381.4" stroke="#231f20" stroke-width="0.9"/>
<text x="392.5" y="391.6" font-size="10" text-anchor="middle" fill="#231f20" stroke="#231f20" stroke-width="0.28" textLength="14.6" lengthAdjust="spacingAndGlyphs">2.1</text>
<text x="416.8" y="391.6" font-size="10" text-anchor="middle" fill="#231f20" stroke="#231f20" stroke-width="0.28" textLength="14.6" lengthAdjust="spacingAndGlyphs">2.2</text>
<text x="441.1" y="391.6" font-size="10" text-anchor="middle" fill="#231f20" stroke="#231f20" stroke-width="0.28" textLength="14.6" lengthAdjust="spacingAndGlyphs">2.3</text>
<text x="465.4" y="391.6" font-size="10" text-anchor="middle" fill="#231f20" stroke="#231f20" stroke-width="0.28" textLength="14.6" lengthAdjust="spacingAndGlyphs">2.4</text>
<text x="489.7" y="391.6" font-size="10" text-anchor="middle" fill="#231f20" stroke="#231f20" stroke-width="0.28" textLength="14.6" lengthAdjust="spacingAndGlyphs">2.5</text>
<text x="514" y="391.6" font-size="10" text-anchor="middle" fill="#231f20" stroke="#231f20" stroke-width="0.28" textLength="14.6" lengthAdjust="spacingAndGlyphs">2.6</text>
<text x="538.3" y="391.6" font-size="10" text-anchor="middle" fill="#231f20" stroke="#231f20" stroke-width="0.28" textLength="14.6" lengthAdjust="spacingAndGlyphs">2.7</text>
<text x="466" y="405.1" font-size="10.5" text-anchor="middle" fill="#231f20" stroke="#231f20" stroke-width="0.28" textLength="50.3" lengthAdjust="spacingAndGlyphs">Energy (eV)</text>
<text x="386.6" y="184.2" font-size="10" text-anchor="middle" fill="#231f20" stroke="#231f20" stroke-width="0.12" transform="rotate(-90 386.6 184.2)" textLength="52.5" lengthAdjust="spacingAndGlyphs">PL (Norm.)</text>
<line x1="573.8" y1="378.6" x2="573.8" y2="381.2" stroke="#231f20" stroke-width="0.9"/>
<line x1="582.8" y1="378.6" x2="582.8" y2="380.3" stroke="#231f20" stroke-width="0.9"/>
<line x1="591.7" y1="378.6" x2="591.7" y2="381.2" stroke="#231f20" stroke-width="0.9"/>
<line x1="600.6" y1="378.6" x2="600.6" y2="380.3" stroke="#231f20" stroke-width="0.9"/>
<line x1="609.6" y1="378.6" x2="609.6" y2="381.2" stroke="#231f20" stroke-width="0.9"/>
<line x1="618.5" y1="378.6" x2="618.5" y2="380.3" stroke="#231f20" stroke-width="0.9"/>
<line x1="627.5" y1="378.6" x2="627.5" y2="381.2" stroke="#231f20" stroke-width="0.9"/>
<line x1="636.4" y1="378.6" x2="636.4" y2="380.3" stroke="#231f20" stroke-width="0.9"/>
<line x1="645.4" y1="378.6" x2="645.4" y2="381.2" stroke="#231f20" stroke-width="0.9"/>
<line x1="654.3" y1="378.6" x2="654.3" y2="380.3" stroke="#231f20" stroke-width="0.9"/>
<line x1="663.3" y1="378.6" x2="663.3" y2="381.2" stroke="#231f20" stroke-width="0.9"/>
<line x1="672.2" y1="378.6" x2="672.2" y2="380.3" stroke="#231f20" stroke-width="0.9"/>
<line x1="681.2" y1="378.6" x2="681.2" y2="381.2" stroke="#231f20" stroke-width="0.9"/>
<line x1="690.1" y1="378.6" x2="690.1" y2="380.3" stroke="#231f20" stroke-width="0.9"/>
<line x1="699.1" y1="378.6" x2="699.1" y2="381.2" stroke="#231f20" stroke-width="0.9"/>
<line x1="708" y1="378.6" x2="708" y2="380.3" stroke="#231f20" stroke-width="0.9"/>
<line x1="717" y1="378.6" x2="717" y2="381.2" stroke="#231f20" stroke-width="0.9"/>
<text x="572.6" y="391.6" font-size="10" text-anchor="middle" fill="#231f20" stroke="#231f20" stroke-width="0.28" textLength="5.6" lengthAdjust="spacingAndGlyphs">0</text>
<text x="590.5" y="391.6" font-size="10" text-anchor="middle" fill="#231f20" stroke="#231f20" stroke-width="0.28" textLength="5.6" lengthAdjust="spacingAndGlyphs">5</text>
<text x="608.4" y="391.6" font-size="10" text-anchor="middle" fill="#231f20" stroke="#231f20" stroke-width="0.28" textLength="11" lengthAdjust="spacingAndGlyphs">10</text>
<text x="626.3" y="391.6" font-size="10" text-anchor="middle" fill="#231f20" stroke="#231f20" stroke-width="0.28" textLength="11" lengthAdjust="spacingAndGlyphs">15</text>
<text x="644.2" y="391.6" font-size="10" text-anchor="middle" fill="#231f20" stroke="#231f20" stroke-width="0.28" textLength="11" lengthAdjust="spacingAndGlyphs">20</text>
<text x="662.1" y="391.6" font-size="10" text-anchor="middle" fill="#231f20" stroke="#231f20" stroke-width="0.28" textLength="11" lengthAdjust="spacingAndGlyphs">25</text>
<text x="680" y="391.6" font-size="10" text-anchor="middle" fill="#231f20" stroke="#231f20" stroke-width="0.28" textLength="11" lengthAdjust="spacingAndGlyphs">30</text>
<text x="697.9" y="391.6" font-size="10" text-anchor="middle" fill="#231f20" stroke="#231f20" stroke-width="0.28" textLength="11" lengthAdjust="spacingAndGlyphs">35</text>
<text x="715.8" y="391.6" font-size="10" text-anchor="middle" fill="#231f20" stroke="#231f20" stroke-width="0.28" textLength="11" lengthAdjust="spacingAndGlyphs">40</text>
<text x="648.9" y="405.5" font-size="10.8" text-anchor="middle" fill="#231f20" stroke="#231f20" stroke-width="0.28" textLength="44.5" lengthAdjust="spacingAndGlyphs">Time (ns)</text>
<line x1="569.8" y1="8.8" x2="573.8" y2="8.8" stroke="#231f20" stroke-width="0.9"/>
<text x="569.4" y="13.1" font-size="10.5" text-anchor="end" fill="#231f20" stroke="#231f20" stroke-width="0.28">10<tspan font-size="6.5" dy="-4.4">4</tspan></text>
<line x1="571.8" y1="35.8" x2="573.8" y2="35.8" stroke="#231f20" stroke-width="0.8"/>
<line x1="571.8" y1="29" x2="573.8" y2="29" stroke="#231f20" stroke-width="0.8"/>
<line x1="571.8" y1="24.2" x2="573.8" y2="24.2" stroke="#231f20" stroke-width="0.8"/>
<line x1="571.8" y1="20.4" x2="573.8" y2="20.4" stroke="#231f20" stroke-width="0.8"/>
<line x1="571.8" y1="17.4" x2="573.8" y2="17.4" stroke="#231f20" stroke-width="0.8"/>
<line x1="571.8" y1="14.8" x2="573.8" y2="14.8" stroke="#231f20" stroke-width="0.8"/>
<line x1="571.8" y1="12.5" x2="573.8" y2="12.5" stroke="#231f20" stroke-width="0.8"/>
<line x1="571.8" y1="10.6" x2="573.8" y2="10.6" stroke="#231f20" stroke-width="0.8"/>
<line x1="569.8" y1="47.4" x2="573.8" y2="47.4" stroke="#231f20" stroke-width="0.9"/>
<text x="569.4" y="51.7" font-size="10.5" text-anchor="end" fill="#231f20" stroke="#231f20" stroke-width="0.28">10<tspan font-size="6.5" dy="-4.4">3</tspan></text>
<line x1="571.8" y1="74.7" x2="573.8" y2="74.7" stroke="#231f20" stroke-width="0.8"/>
<line x1="571.8" y1="67.8" x2="573.8" y2="67.8" stroke="#231f20" stroke-width="0.8"/>
<line x1="571.8" y1="63" x2="573.8" y2="63" stroke="#231f20" stroke-width="0.8"/>
<line x1="571.8" y1="59.2" x2="573.8" y2="59.2" stroke="#231f20" stroke-width="0.8"/>
<line x1="571.8" y1="56.1" x2="573.8" y2="56.1" stroke="#231f20" stroke-width="0.8"/>
<line x1="571.8" y1="53.5" x2="573.8" y2="53.5" stroke="#231f20" stroke-width="0.8"/>
<line x1="571.8" y1="51.2" x2="573.8" y2="51.2" stroke="#231f20" stroke-width="0.8"/>
<line x1="571.8" y1="49.2" x2="573.8" y2="49.2" stroke="#231f20" stroke-width="0.8"/>
<line x1="569.8" y1="86.5" x2="573.8" y2="86.5" stroke="#231f20" stroke-width="0.9"/>
<text x="569.4" y="90.8" font-size="10.5" text-anchor="end" fill="#231f20" stroke="#231f20" stroke-width="0.28">10<tspan font-size="6.5" dy="-4.4">2</tspan></text>
<line x1="571.8" y1="108" x2="573.8" y2="108" stroke="#231f20" stroke-width="0.8"/>
<line x1="571.8" y1="102.6" x2="573.8" y2="102.6" stroke="#231f20" stroke-width="0.8"/>
<line x1="571.8" y1="98.7" x2="573.8" y2="98.7" stroke="#231f20" stroke-width="0.8"/>
<line x1="571.8" y1="95.7" x2="573.8" y2="95.7" stroke="#231f20" stroke-width="0.8"/>
<line x1="571.8" y1="93.3" x2="573.8" y2="93.3" stroke="#231f20" stroke-width="0.8"/>
<line x1="571.8" y1="91.3" x2="573.8" y2="91.3" stroke="#231f20" stroke-width="0.8"/>
<line x1="571.8" y1="89.5" x2="573.8" y2="89.5" stroke="#231f20" stroke-width="0.8"/>
<line x1="571.8" y1="87.9" x2="573.8" y2="87.9" stroke="#231f20" stroke-width="0.8"/>
<line x1="569.8" y1="117.2" x2="573.8" y2="117.2" stroke="#231f20" stroke-width="0.9"/>
<text x="569.4" y="121.5" font-size="10.5" text-anchor="end" fill="#231f20" stroke="#231f20" stroke-width="0.28">10<tspan font-size="6.5" dy="-4.4">1</tspan></text>
<line x1="569.8" y1="133.1" x2="573.8" y2="133.1" stroke="#231f20" stroke-width="0.9"/>
<text x="569.4" y="137.4" font-size="10.5" text-anchor="end" fill="#231f20" stroke="#231f20" stroke-width="0.28">10<tspan font-size="6.5" dy="-4.4">4</tspan></text>
<line x1="571.8" y1="158.6" x2="573.8" y2="158.6" stroke="#231f20" stroke-width="0.8"/>
<line x1="571.8" y1="152.2" x2="573.8" y2="152.2" stroke="#231f20" stroke-width="0.8"/>
<line x1="571.8" y1="147.6" x2="573.8" y2="147.6" stroke="#231f20" stroke-width="0.8"/>
<line x1="571.8" y1="144.1" x2="573.8" y2="144.1" stroke="#231f20" stroke-width="0.8"/>
<line x1="571.8" y1="141.2" x2="573.8" y2="141.2" stroke="#231f20" stroke-width="0.8"/>
<line x1="571.8" y1="138.8" x2="573.8" y2="138.8" stroke="#231f20" stroke-width="0.8"/>
<line x1="571.8" y1="136.6" x2="573.8" y2="136.6" stroke="#231f20" stroke-width="0.8"/>
<line x1="571.8" y1="134.8" x2="573.8" y2="134.8" stroke="#231f20" stroke-width="0.8"/>
<line x1="569.8" y1="169.6" x2="573.8" y2="169.6" stroke="#231f20" stroke-width="0.9"/>
<text x="569.4" y="173.9" font-size="10.5" text-anchor="end" fill="#231f20" stroke="#231f20" stroke-width="0.28">10<tspan font-size="6.5" dy="-4.4">3</tspan></text>
<line x1="571.8" y1="196.3" x2="573.8" y2="196.3" stroke="#231f20" stroke-width="0.8"/>
<line x1="571.8" y1="189.6" x2="573.8" y2="189.6" stroke="#231f20" stroke-width="0.8"/>
<line x1="571.8" y1="184.8" x2="573.8" y2="184.8" stroke="#231f20" stroke-width="0.8"/>
<line x1="571.8" y1="181.1" x2="573.8" y2="181.1" stroke="#231f20" stroke-width="0.8"/>
<line x1="571.8" y1="178.1" x2="573.8" y2="178.1" stroke="#231f20" stroke-width="0.8"/>
<line x1="571.8" y1="175.5" x2="573.8" y2="175.5" stroke="#231f20" stroke-width="0.8"/>
<line x1="571.8" y1="173.3" x2="573.8" y2="173.3" stroke="#231f20" stroke-width="0.8"/>
<line x1="571.8" y1="171.3" x2="573.8" y2="171.3" stroke="#231f20" stroke-width="0.8"/>
<line x1="569.8" y1="207.8" x2="573.8" y2="207.8" stroke="#231f20" stroke-width="0.9"/>
<text x="569.4" y="212.1" font-size="10.5" text-anchor="end" fill="#231f20" stroke="#231f20" stroke-width="0.28">10<tspan font-size="6.5" dy="-4.4">2</tspan></text>
<line x1="571.8" y1="232.2" x2="573.8" y2="232.2" stroke="#231f20" stroke-width="0.8"/>
<line x1="571.8" y1="226" x2="573.8" y2="226" stroke="#231f20" stroke-width="0.8"/>
<line x1="571.8" y1="221.7" x2="573.8" y2="221.7" stroke="#231f20" stroke-width="0.8"/>
<line x1="571.8" y1="218.3" x2="573.8" y2="218.3" stroke="#231f20" stroke-width="0.8"/>
<line x1="571.8" y1="215.5" x2="573.8" y2="215.5" stroke="#231f20" stroke-width="0.8"/>
<line x1="571.8" y1="213.2" x2="573.8" y2="213.2" stroke="#231f20" stroke-width="0.8"/>
<line x1="571.8" y1="211.2" x2="573.8" y2="211.2" stroke="#231f20" stroke-width="0.8"/>
<line x1="571.8" y1="209.4" x2="573.8" y2="209.4" stroke="#231f20" stroke-width="0.8"/>
<line x1="569.8" y1="242.7" x2="573.8" y2="242.7" stroke="#231f20" stroke-width="0.9"/>
<text x="569.4" y="247" font-size="10.5" text-anchor="end" fill="#231f20" stroke="#231f20" stroke-width="0.28">10<tspan font-size="6.5" dy="-4.4">1</tspan></text>
<line x1="569.8" y1="262.6" x2="573.8" y2="262.6" stroke="#231f20" stroke-width="0.9"/>
<text x="569.4" y="266.9" font-size="10.5" text-anchor="end" fill="#231f20" stroke="#231f20" stroke-width="0.28">10<tspan font-size="6.5" dy="-4.4">4</tspan></text>
<line x1="571.8" y1="289.3" x2="573.8" y2="289.3" stroke="#231f20" stroke-width="0.8"/>
<line x1="571.8" y1="282.6" x2="573.8" y2="282.6" stroke="#231f20" stroke-width="0.8"/>
<line x1="571.8" y1="277.8" x2="573.8" y2="277.8" stroke="#231f20" stroke-width="0.8"/>
<line x1="571.8" y1="274.1" x2="573.8" y2="274.1" stroke="#231f20" stroke-width="0.8"/>
<line x1="571.8" y1="271.1" x2="573.8" y2="271.1" stroke="#231f20" stroke-width="0.8"/>
<line x1="571.8" y1="268.5" x2="573.8" y2="268.5" stroke="#231f20" stroke-width="0.8"/>
<line x1="571.8" y1="266.3" x2="573.8" y2="266.3" stroke="#231f20" stroke-width="0.8"/>
<line x1="571.8" y1="264.3" x2="573.8" y2="264.3" stroke="#231f20" stroke-width="0.8"/>
<line x1="569.8" y1="300.8" x2="573.8" y2="300.8" stroke="#231f20" stroke-width="0.9"/>
<text x="569.4" y="305.1" font-size="10.5" text-anchor="end" fill="#231f20" stroke="#231f20" stroke-width="0.28">10<tspan font-size="6.5" dy="-4.4">3</tspan></text>
<line x1="571.8" y1="327.4" x2="573.8" y2="327.4" stroke="#231f20" stroke-width="0.8"/>
<line x1="571.8" y1="320.7" x2="573.8" y2="320.7" stroke="#231f20" stroke-width="0.8"/>
<line x1="571.8" y1="315.9" x2="573.8" y2="315.9" stroke="#231f20" stroke-width="0.8"/>
<line x1="571.8" y1="312.2" x2="573.8" y2="312.2" stroke="#231f20" stroke-width="0.8"/>
<line x1="571.8" y1="309.2" x2="573.8" y2="309.2" stroke="#231f20" stroke-width="0.8"/>
<line x1="571.8" y1="306.7" x2="573.8" y2="306.7" stroke="#231f20" stroke-width="0.8"/>
<line x1="571.8" y1="304.5" x2="573.8" y2="304.5" stroke="#231f20" stroke-width="0.8"/>
<line x1="571.8" y1="302.5" x2="573.8" y2="302.5" stroke="#231f20" stroke-width="0.8"/>
<line x1="569.8" y1="338.8" x2="573.8" y2="338.8" stroke="#231f20" stroke-width="0.9"/>
<text x="569.4" y="343.1" font-size="10.5" text-anchor="end" fill="#231f20" stroke="#231f20" stroke-width="0.28">10<tspan font-size="6.5" dy="-4.4">2</tspan></text>
<line x1="571.8" y1="364.7" x2="573.8" y2="364.7" stroke="#231f20" stroke-width="0.8"/>
<line x1="571.8" y1="358.2" x2="573.8" y2="358.2" stroke="#231f20" stroke-width="0.8"/>
<line x1="571.8" y1="353.6" x2="573.8" y2="353.6" stroke="#231f20" stroke-width="0.8"/>
<line x1="571.8" y1="350" x2="573.8" y2="350" stroke="#231f20" stroke-width="0.8"/>
<line x1="571.8" y1="347" x2="573.8" y2="347" stroke="#231f20" stroke-width="0.8"/>
<line x1="571.8" y1="344.5" x2="573.8" y2="344.5" stroke="#231f20" stroke-width="0.8"/>
<line x1="571.8" y1="342.4" x2="573.8" y2="342.4" stroke="#231f20" stroke-width="0.8"/>
<line x1="571.8" y1="340.5" x2="573.8" y2="340.5" stroke="#231f20" stroke-width="0.8"/>
<line x1="569.8" y1="375.9" x2="573.8" y2="375.9" stroke="#231f20" stroke-width="0.9"/>
<text x="569.4" y="380.2" font-size="10.5" text-anchor="end" fill="#231f20" stroke="#231f20" stroke-width="0.28">10<tspan font-size="6.5" dy="-4.4">1</tspan></text>
<text x="550.6" y="183.5" font-size="10.5" text-anchor="middle" fill="#231f20" stroke="#231f20" stroke-width="0.12" transform="rotate(-90 550.6 183.5)" textLength="64" lengthAdjust="spacingAndGlyphs">Counts (a.u.)</text>
<text x="12.9" y="58.8" font-size="11" text-anchor="middle" fill="#231f20" stroke="#231f20" stroke-width="0.12" transform="rotate(-90 12.9 58.8)" textLength="90" lengthAdjust="spacingAndGlyphs">Cs-oleate, 6.4 nm</text>
<text x="13" y="181.4" font-size="11" text-anchor="middle" fill="#231f20" stroke="#231f20" stroke-width="0.12" transform="rotate(-90 13 181.4)" textLength="90.5" lengthAdjust="spacingAndGlyphs">Cs-oleate, 9.5 nm</text>
<text x="30" y="183.5" font-size="10.5" text-anchor="middle" fill="#231f20" stroke="#231f20" stroke-width="0.12" transform="rotate(-90 30 183.5)" textLength="61" lengthAdjust="spacingAndGlyphs">Abs/PL (a.u.)</text>
<text x="13.3" y="315" font-size="11" text-anchor="middle" fill="#231f20" stroke="#231f20" stroke-width="0.12" transform="rotate(-90 13.3 315)" textLength="70" lengthAdjust="spacingAndGlyphs">QAB, 8.70 nm</text>
<rect x="36.9" y="0.8" width="13.6" height="14.6" fill="#000"/>
<text x="43.7" y="11.8" font-size="10.5" text-anchor="middle" fill="#fff" stroke="#fff" stroke-width="0.28">a)</text>
<rect x="36.9" y="125" width="13.6" height="14.6" fill="#000"/>
<text x="43.7" y="136" font-size="10.5" text-anchor="middle" fill="#fff" stroke="#fff" stroke-width="0.28">b)</text>
<rect x="36.9" y="255.2" width="13.6" height="14.6" fill="#000"/>
<text x="43.7" y="266.2" font-size="10.5" text-anchor="middle" fill="#fff" stroke="#fff" stroke-width="0.28">c)</text>
<rect x="225.8" y="0.8" width="13.6" height="14.6" fill="#000"/>
<text x="232.6" y="11.8" font-size="10.5" text-anchor="middle" fill="#fff" stroke="#fff" stroke-width="0.28">d)</text>
<rect x="225.8" y="126" width="13.6" height="14.6" fill="#000"/>
<text x="232.6" y="137" font-size="10.5" text-anchor="middle" fill="#fff" stroke="#fff" stroke-width="0.28">e)</text>
<rect x="225.8" y="255.8" width="13.6" height="14.6" fill="#000"/>
<text x="232.6" y="266.8" font-size="10.5" text-anchor="middle" fill="#fff" stroke="#fff" stroke-width="0.28">f)</text>
<rect x="392.5" y="0.8" width="13.6" height="14.6" fill="#000"/>
<text x="399.3" y="11.8" font-size="10.5" text-anchor="middle" fill="#fff" stroke="#fff" stroke-width="0.28">g)</text>
<rect x="392.5" y="125" width="13.6" height="14.6" fill="#000"/>
<text x="399.3" y="136" font-size="10.5" text-anchor="middle" fill="#fff" stroke="#fff" stroke-width="0.28">h)</text>
<rect x="392.5" y="255.2" width="13.6" height="14.6" fill="#000"/>
<text x="399.3" y="266.2" font-size="10.5" text-anchor="middle" fill="#fff" stroke="#fff" stroke-width="0.28">l)</text>
<rect x="705.2" y="0.8" width="13.6" height="14.6" fill="#000"/>
<text x="712" y="11.8" font-size="10.5" text-anchor="middle" fill="#fff" stroke="#fff" stroke-width="0.28">j)</text>
<rect x="705.2" y="125" width="13.6" height="14.6" fill="#000"/>
<text x="712" y="136" font-size="10.5" text-anchor="middle" fill="#fff" stroke="#fff" stroke-width="0.28">k)</text>
<rect x="704.6" y="255.2" width="13.6" height="14.6" fill="#000"/>
<text x="711.4" y="266.2" font-size="10.5" text-anchor="middle" fill="#fff" stroke="#fff" stroke-width="0.28">l)</text>
</svg></body></html>
